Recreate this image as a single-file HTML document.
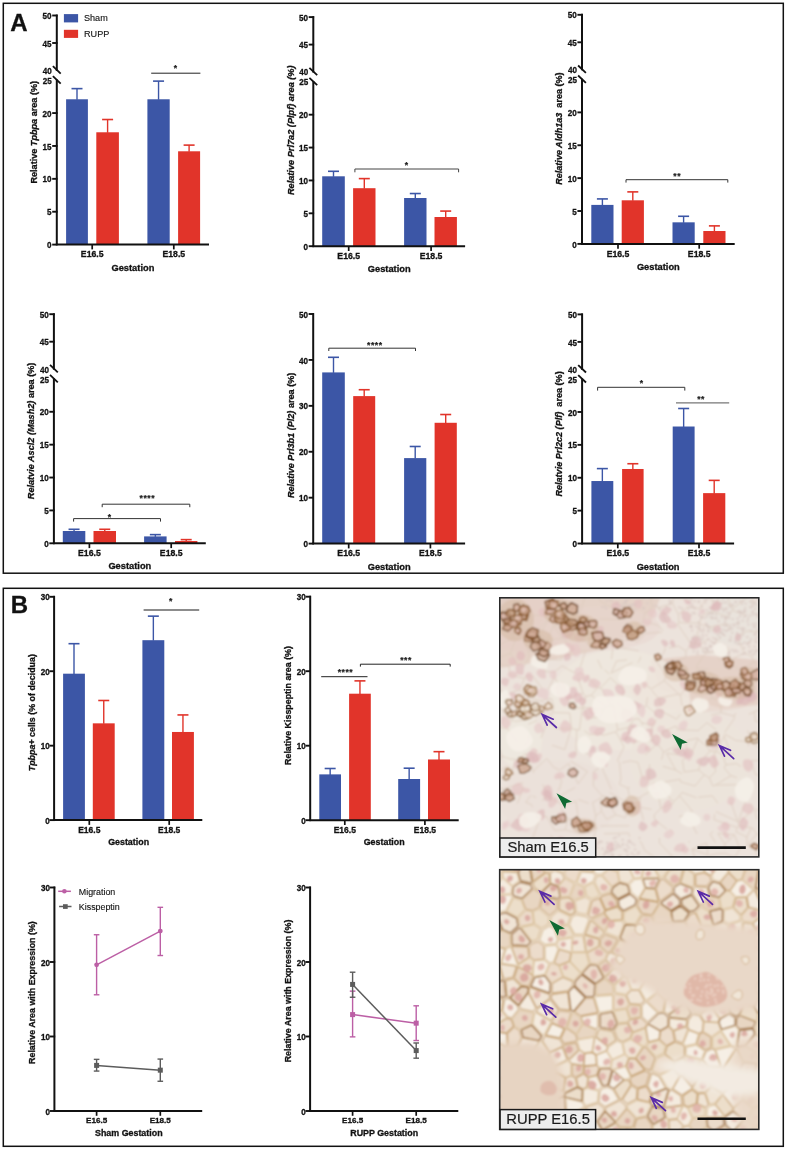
<!DOCTYPE html>
<html><head><meta charset="utf-8"><style>
html,body{margin:0;padding:0;background:#fff;}
svg{display:block;font-family:"Liberation Sans", sans-serif;will-change:transform;filter:blur(0.3px);}
text{stroke:#111;stroke-width:0.3px;paint-order:stroke;}
</style></head><body>
<svg width="787" height="1150" viewBox="0 0 787 1150">
<rect width="787" height="1150" fill="#fff"/>
<defs><filter id="soft" x="0" y="0" width="1" height="1"><feGaussianBlur stdDeviation="0.85"/></filter><filter id="soft2" x="-0.2" y="-0.2" width="1.4" height="1.4"><feGaussianBlur stdDeviation="3"/></filter><clipPath id="c1"><rect x="499.8" y="597.8" width="259" height="259.1"/></clipPath><clipPath id="c2"><rect x="499.7" y="869.7" width="259.1" height="259.7"/></clipPath></defs><g clip-path="url(#c1)"><g filter="url(#soft)"><rect x="499" y="598" width="260" height="259" fill="#ece3dc"/><path d="M499,598 L660,598 L650,625 L600,650 L540,662 L499,668 Z" fill="#e3cec3" opacity="0.8"/><path d="M650,660 L700,655 L759,660 L759,705 L720,708 L660,690 Z" fill="#e2cbbf" opacity="0.7"/><ellipse cx="530" cy="622" rx="60" ry="30" fill="#e4cfc6" opacity="0.6"/><ellipse cx="600" cy="628" rx="60" ry="22" fill="#e8d6cd" opacity="0.5"/><ellipse cx="700" cy="690" rx="70" ry="22" fill="#e6d2c6" opacity="0.5"/><ellipse cx="620" cy="700" rx="70" ry="50" fill="#efe7de" opacity="0.8"/><ellipse cx="690" cy="760" rx="60" ry="50" fill="#ede4da" opacity="0.6"/><ellipse cx="560" cy="800" rx="60" ry="40" fill="#eae0d8" opacity="0.5"/><ellipse cx="735" cy="620" rx="30" ry="25" fill="#e9e2dc" opacity="0.8"/><ellipse cx="520" cy="740" rx="22" ry="28" fill="#f0e9e0" opacity="0.7"/><path d="M656.8,862.2L654.1,857.4M654.1,857.4L644.7,850.1M644.7,850.1L641.0,842.1M641.0,842.1L639.5,841.0M609.4,873.5L613.7,887.9M530.1,870.8L524.2,856.2M524.2,856.2L515.8,855.0M757.3,692.3L766.3,705.9M757.3,692.3L757.2,691.7M498.2,622.3L499.8,627.8M492.5,631.7L499.8,627.8M498.2,622.3L501.3,611.8M498.9,607.7L503.4,599.8M656.8,862.2L668.6,858.5M686.1,875.3L694.2,863.8M609.4,873.5L608.0,872.0M629.8,836.8L628.5,833.1M603.8,833.8L628.5,833.1M629.4,796.2L635.0,798.0M629.4,796.2L627.8,788.1M627.8,788.1L629.8,787.4M635.0,798.0L640.3,797.3M643.5,794.9L640.3,797.3M639.1,806.8L640.3,797.3M619.5,762.5L621.0,778.9M630.3,760.9L622.0,762.7M630.3,760.9L637.8,762.3M637.8,762.3L642.3,777.6M619.4,784.2L621.0,778.9M619.4,784.2L627.8,788.1M624.1,747.0L615.9,731.8M627.5,727.9L635.2,740.1M627.5,727.9L617.7,729.9M633.5,744.3L635.4,741.1M617.7,729.9L615.9,731.8M635.2,740.1L635.4,741.1M617.3,760.7L619.5,762.5M617.3,760.7L624.1,747.0M603.0,735.4L615.9,731.8M481.1,631.5L491.0,651.0M587.2,852.5L580.7,838.3M587.2,852.5L570.1,845.3M580.7,838.3L570.1,845.3M753.7,809.0L738.6,823.3M753.7,809.0L750.8,804.2M745.4,801.6L738.1,822.1M738.1,822.1L738.6,823.3M737.7,821.5L730.7,801.6M737.7,821.5L715.8,811.6M739.8,797.6L745.4,801.6M749.9,887.8L774.6,864.5M748.9,877.4L758.1,862.2M758.1,862.2L774.5,864.4M774.6,864.5L774.5,864.4M762.6,727.8L758.3,721.2M763.8,717.1L762.0,710.9M762.0,710.9L755.5,710.7M763.3,671.0L740.5,681.2M763.3,671.0L754.1,662.0M739.5,671.3L754.1,662.0M712.4,795.8L698.2,797.2M704.2,774.7L709.4,777.9M704.2,774.7L695.1,786.0M712.7,786.0L709.4,777.9M768.1,808.1L754.9,810.1M786.3,790.8L767.0,789.8M751.9,656.5L754.1,662.0M695.1,786.0L680.7,781.9M696.5,797.7L682.0,792.4M691.8,810.3L679.5,795.8M682.0,792.4L679.5,795.8M704.2,774.7L698.7,770.0M698.7,770.0L684.2,772.0M680.0,779.2L680.7,781.9M595.1,647.2L590.3,646.4M585.3,651.7L580.2,667.5M511.0,631.4L514.0,637.2M514.0,637.2L495.1,647.7M491.0,651.0L493.3,651.0M493.3,651.0L495.1,647.7M620.0,596.7L622.3,576.2M594.6,590.2L592.9,588.4M608.0,872.0L590.9,860.0M590.9,860.0L580.3,860.5M673.4,856.0L672.3,856.4M672.3,856.4L659.4,842.9M673.0,832.7L670.1,829.2M659.5,837.9L659.4,842.9M668.6,858.5L672.3,856.4M697.1,833.9L693.9,828.0M657.3,821.8L667.0,829.1M689.0,840.8L689.4,842.6M627.5,727.9L630.3,725.0M635.2,740.1L640.4,731.7M630.3,725.0L640.4,731.7M642.3,777.6L648.9,779.9M648.9,779.9L649.7,764.2M629.2,825.8L600.4,825.9M590.9,860.0L589.6,856.1M589.6,856.1L596.2,828.2M597.8,828.4L596.2,828.2M589.1,826.7L594.0,827.2M589.1,826.7L581.2,833.9M587.2,852.5L589.6,856.1M594.0,827.2L596.2,828.2M615.6,814.8L604.8,796.0M615.6,814.8L625.4,817.7M625.4,817.7L626.2,815.5M626.2,815.5L624.0,800.9M624.0,800.9L609.6,792.4M606.6,819.3L615.6,814.8M629.4,796.2L624.0,800.9M589.7,734.5L584.3,730.8M579.5,729.8L576.7,729.7M576.7,729.7L576.0,754.7M605.9,759.7L604.3,760.7M600.6,734.0L603.0,735.4M600.6,734.0L589.7,734.5M583.0,751.7L604.3,760.7M611.3,789.4L601.3,766.2M654.2,818.1L654.4,814.5M643.6,820.2L640.1,807.4M651.5,809.4L640.1,807.4M657.3,821.8L654.2,818.1M639.1,806.8L640.1,807.4M648.3,792.7L643.5,794.9M588.6,803.3L578.2,799.5M584.4,820.5L578.3,818.1M578.3,818.1L576.0,801.1M499.1,860.7L492.3,855.8M502.8,868.3L499.1,860.7M515.8,855.0L514.8,854.1M514.8,854.1L503.9,851.4M497.1,843.5L488.7,855.0M510.9,842.0L514.8,854.1M492.3,855.8L488.7,855.0M498.5,827.7L496.2,809.9M521.6,815.3L518.1,825.8M565.3,830.0L581.2,833.9M580.3,860.5L566.0,853.5M567.5,846.0L566.0,853.5M584.4,820.5L589.1,826.7M578.3,818.1L568.0,819.5M565.2,829.9L568.0,819.5M767.1,816.9L760.8,820.7M767.1,816.9L788.5,823.9M757.0,819.6L754.9,810.1M713.3,874.5L730.9,856.4M735.6,856.6L730.9,856.4M716.3,853.7L726.2,853.3M714.6,814.3L714.1,819.2M738.6,823.3L738.8,826.0M714.2,819.7L714.1,819.2M714.2,819.7L737.4,827.6M737.4,827.6L738.8,826.0M759.1,859.6L754.4,848.7M739.9,848.6L735.6,856.6M746.9,846.0L754.4,848.7M770.3,859.0L781.1,847.3M763.5,856.8L770.3,846.5M781.1,847.3L770.3,846.5M774.5,864.4L770.3,859.0M759.1,859.6L763.5,856.8M771.3,827.8L762.9,836.9M762.9,836.9L764.0,841.3M693.6,825.9L681.7,816.2M681.7,816.2L691.7,810.9M693.4,811.9L691.7,810.9M712.9,831.3L710.2,834.3M693.9,828.0L693.6,825.9M679.2,816.4L681.7,816.2M712.4,795.8L717.9,803.3M748.8,714.2L754.4,712.0M754.4,712.0L755.3,721.3M734.1,716.1L735.9,713.0M734.1,716.1L734.3,718.6M755.5,710.7L754.4,712.0M758.3,721.2L755.3,721.3M734.1,690.0L740.9,685.3M740.9,685.3L748.9,691.8M748.9,691.8L738.9,705.0M726.1,688.1L734.1,690.0M726.1,688.1L722.5,679.9M722.5,679.9L724.9,677.0M723.1,694.5L725.9,699.1M723.1,694.5L726.1,688.1M725.9,699.1L734.9,702.9M757.2,691.7L748.9,691.8M734.1,716.1L721.0,712.6M721.0,712.6L721.0,704.5M712.7,786.0L715.6,785.0M740.1,784.7L715.6,785.0M762.6,727.8L758.0,732.5M747.7,730.6L750.1,738.2M750.1,738.2L758.0,732.5M752.9,593.4L752.6,593.8M752.9,593.4L774.4,604.0M758.3,614.6L774.4,604.0M753.9,603.9L752.7,596.4M767.3,634.8L763.2,632.5M758.3,614.6L757.7,615.7M678.4,614.5L688.5,606.3M678.4,614.5L672.6,603.6M672.6,603.6L673.1,597.4M673.1,597.4L689.5,599.1M650.3,597.4L652.2,607.0M650.3,597.4L672.3,593.2M657.7,607.8L672.6,603.6M695.2,581.9L693.2,595.3M693.2,595.3L689.5,599.1M695.2,581.9L708.8,597.2M708.8,597.2L701.1,605.3M688.5,606.3L700.7,609.1M701.1,605.3L700.7,609.1M699.3,623.1L678.9,622.6M699.3,623.1L702.7,614.6M678.9,622.6L678.4,614.5M745.9,615.7L746.3,615.9M763.2,632.5L748.0,630.8M751.9,656.5L744.5,653.0M736.5,636.1L744.5,653.0M736.5,635.8L748.0,630.8M648.3,792.7L649.7,790.6M680.0,779.2L658.1,783.3M662.7,766.3L675.8,770.1M682.1,773.9L675.8,770.1M658.1,783.3L653.5,782.5M673.9,802.9L660.9,808.4M674.1,801.6L671.1,799.5M660.9,808.4L659.2,798.9M679.5,795.8L674.1,801.6M654.4,814.5L660.9,808.4M658.1,783.3L671.1,799.5M649.7,790.6L659.2,798.9M582.8,707.4L588.3,717.9M582.8,707.4L582.9,707.3M582.9,707.3L603.6,709.4M588.3,717.9L600.3,717.2M600.3,717.2L603.6,709.4M582.3,707.6L579.5,729.8M582.3,707.6L573.0,708.8M571.5,728.7L576.7,729.7M571.5,728.7L569.8,713.1M631.9,594.9L625.3,603.6M631.9,594.9L645.5,590.0M645.5,590.0L647.1,592.4M625.3,603.6L625.3,609.5M647.1,592.4L647.5,593.5M647.5,593.5L631.9,609.5M622.3,576.2L631.9,594.9M600.8,601.7L594.6,590.2M600.8,601.7L622.1,613.7M650.3,597.4L647.5,593.5M722.5,694.5L709.4,687.6M717.1,680.4L709.4,687.6M617.7,729.9L613.3,705.3M632.1,716.3L617.6,703.0M633.9,719.2L630.3,725.0M606.5,707.0L603.6,709.4M606.5,707.0L610.8,705.3M613.3,705.3L610.8,705.3M600.8,687.8L610.3,677.6M600.8,687.8L610.8,705.3M610.3,677.6L623.8,690.3M623.8,690.3L622.7,695.6M678.8,694.1L664.3,680.7M678.8,694.1L658.5,698.2M664.3,680.7L651.5,688.9M658.5,698.2L651.6,690.3M682.2,706.0L680.4,695.0M660.9,705.9L658.5,698.2M680.4,695.0L678.8,694.1M637.6,662.9L638.6,661.6M637.7,679.4L651.5,688.9M664.3,680.7L665.3,677.1M606.5,707.0L591.3,695.3M600.8,687.8L597.3,687.8M597.3,687.8L591.3,695.3M582.9,707.3L585.5,696.5M591.3,695.3L585.5,696.5M597.6,659.7L601.9,668.8M680.4,695.0L686.8,687.2M666.4,675.2L671.4,670.8M678.5,646.0L685.8,651.2M675.1,625.7L677.6,624.1M677.6,624.1L691.3,644.3M691.3,644.3L685.8,651.2M678.9,622.6L677.6,624.1M670.0,627.1L657.7,607.8M670.0,627.1L675.1,625.7M700.1,624.2L699.3,623.1M700.1,624.2L695.0,643.0M695.0,643.0L691.3,644.3M685.8,657.3L680.0,659.9M685.8,657.3L685.8,651.2M678.5,646.0L668.9,647.9M561.0,654.9L550.6,648.5M561.0,654.9L561.6,656.9M561.6,656.9L561.6,659.8M561.6,659.8L540.3,659.1M550.6,648.5L544.7,652.1M562.1,665.8L576.3,674.0M554.4,671.9L562.1,665.8M554.4,671.9L545.3,671.6M545.3,671.6L540.3,659.1M553.5,625.4L578.6,631.2M553.5,625.4L553.5,625.8M553.5,625.8L562.8,638.2M578.6,635.0L578.6,631.2M567.3,642.3L562.8,638.2M547.3,640.2L562.8,638.2M547.3,640.2L553.5,625.8M590.3,646.4L578.6,635.0M509.6,674.7L509.3,665.9M509.3,665.9L503.3,665.8M488.7,673.3L498.3,662.8M503.3,665.8L498.3,662.8M597.0,623.2L579.9,626.3M579.9,626.3L576.7,615.9M576.7,615.9L581.1,609.0M585.3,595.6L581.1,609.0M605.7,641.4L595.1,647.2M578.6,631.2L579.9,626.3M552.6,622.8L569.0,614.4M552.6,622.8L553.5,625.4M569.0,614.4L576.7,615.9M599.2,619.0L620.1,619.5M620.1,619.5L621.2,618.7M605.7,641.4L607.1,641.4M498.5,683.5L501.8,694.5M509.6,674.7L524.6,678.3M501.8,694.5L505.2,694.6M505.2,694.6L520.0,689.7M520.0,689.7L524.6,678.3M528.2,724.1L536.8,720.8M524.0,720.1L529.1,711.6M564.8,749.6L571.0,729.0M564.8,749.6L553.2,745.5M571.0,729.0L556.1,728.4M531.1,846.2L531.7,838.3M694.2,863.8L696.4,862.2M716.3,853.7L708.6,856.2M730.9,856.4L726.2,853.3M656.6,744.4L645.4,754.9M656.6,744.4L660.0,746.8M661.5,759.8L663.5,752.1M660.0,746.8L663.5,752.1M595.7,815.9L601.5,811.3M595.7,815.9L592.7,802.5M601.5,811.3L600.7,798.1M592.7,802.5L600.7,798.1M606.6,819.3L601.5,811.3M594.0,827.2L595.7,815.9M602.7,796.3L604.8,796.0M602.7,796.3L600.7,798.1M587.5,771.6L578.1,783.8M593.4,771.9L593.4,786.0M577.7,788.2L577.6,788.0M601.3,766.2L593.4,771.9M570.5,761.1L587.5,771.6M568.6,763.5L578.1,783.8M602.7,796.3L593.4,786.0M528.5,735.0L528.5,735.2M524.0,720.1L514.2,721.5M490.1,718.8L483.3,702.6M542.9,784.4L543.0,785.0M543.0,785.0L543.8,786.3M558.9,774.9L561.6,781.3M561.6,781.3L559.4,789.5M557.6,789.6L559.4,789.5M559.7,770.3L553.6,767.2M546.4,794.4L543.8,786.3M568.6,763.5L559.7,770.3M560.7,795.4L575.2,787.5M566.1,843.6L559.8,843.0M559.8,843.0L554.1,850.4M566.0,853.5L561.4,856.2M531.1,846.2L545.3,851.0M547.1,863.2L545.3,851.0M559.8,843.0L552.1,838.9M552.1,838.9L550.6,848.7M554.1,850.4L550.6,848.7M534.3,796.5L536.1,797.8M534.3,796.5L532.6,796.4M532.8,807.2L531.2,804.4M535.7,813.8L539.9,814.8M546.4,794.4L546.7,796.6M546.7,796.6L541.9,800.9M546.7,796.6L560.3,803.3M576.0,801.1L561.5,805.5M568.0,819.5L560.8,807.9M560.3,803.3L561.5,805.5M734.4,834.7L734.4,834.9M734.4,834.7L717.8,833.4M734.4,834.9L724.8,844.1M717.8,833.4L724.8,844.1M737.4,827.6L735.9,831.7M739.9,848.6L734.4,834.9M724.8,849.3L724.8,844.1M715.6,842.7L710.2,834.3M746.8,837.1L751.5,827.8M746.8,837.1L747.2,845.3M747.2,845.3L756.8,833.9M756.8,833.9L752.2,827.7M735.9,831.7L746.8,837.1M738.8,826.0L751.5,827.8M746.9,846.0L747.2,845.3M762.9,836.9L756.8,833.9M722.5,694.5L715.4,699.1M715.4,699.1L716.0,700.7M721.0,712.6L710.8,715.3M734.3,718.6L724.6,732.5M707.0,722.6L716.4,729.9M707.0,722.6L698.8,729.9M702.0,710.8L704.5,712.5M698.7,770.0L701.2,760.8M709.4,777.9L715.5,771.7M701.2,760.8L710.0,750.9M710.0,750.9L714.5,751.6M715.5,771.7L714.5,751.6M736.9,777.6L730.9,775.7M730.9,775.7L724.3,768.2M740.8,766.6L736.7,763.6M736.7,763.6L725.7,764.7M724.3,768.2L725.7,764.7M715.6,785.0L730.9,775.7M751.0,762.3L755.8,775.1M751.0,762.3L751.8,760.7M767.1,766.4L767.9,768.1M756.2,775.0L765.4,774.2M751.8,760.7L766.7,760.1M771.0,770.5L767.9,768.1M786.1,790.6L765.4,774.2M786.3,790.8L786.1,790.6M749.3,741.4L772.3,755.8M790.6,748.4L805.0,742.0M748.4,746.1L749.1,741.8M749.1,741.8L749.3,741.4M815.4,739.3L805.0,742.0M771.0,770.5L790.6,748.4M727.0,623.5L730.0,630.4M745.9,615.7L732.4,610.2M727.5,616.8L732.4,610.2M702.7,614.6L713.8,611.4M727.0,623.5L710.6,627.0M700.2,624.3L710.6,627.0M727.5,616.8L713.8,611.4M708.8,597.2L710.6,597.4M710.6,597.4L713.8,605.1M713.8,611.4L713.8,605.1M752.6,593.8L732.6,608.5M732.6,608.5L732.4,610.2M684.2,772.0L682.4,760.4M682.4,760.4L689.5,753.1M671.4,670.8L673.0,664.7M696.1,671.8L697.3,668.4M696.5,666.1L697.3,668.4M707.8,688.5L711.9,697.8M710.1,700.3L711.9,697.8M703.5,688.1L701.4,694.6M702.2,698.7L701.4,694.6M709.4,687.6L707.8,688.5M708.4,669.5L697.3,668.4M715.4,699.1L711.9,697.8M702.0,710.8L702.2,698.7M609.4,674.2L604.6,669.8M611.1,673.1L616.5,661.1M597.3,687.8L587.6,676.8M632.5,662.6L611.1,673.1M627.0,659.9L616.5,661.1M611.6,646.0L609.7,643.1M609.7,643.1L607.1,641.4M612.8,648.6L611.5,659.2M647.4,697.2L646.3,705.6M643.2,707.4L646.3,705.6M637.0,705.2L633.7,700.4M639.0,718.8L633.9,719.2M639.0,718.8L639.1,718.7M640.4,656.7L640.5,658.2M662.9,654.6L665.6,647.7M611.6,646.0L638.6,650.9M638.6,661.6L640.5,658.2M666.4,675.2L653.6,657.8M577.9,677.7L583.1,693.3M583.1,693.3L567.3,698.4M585.5,696.5L583.1,693.3M554.2,677.2L563.9,691.9M554.2,677.2L554.4,671.9M573.0,708.8L567.3,698.4M569.8,713.1L552.9,712.5M552.9,711.5L553.9,706.5M536.2,649.9L544.7,652.1M550.6,648.5L547.2,641.9M515.8,638.8L510.4,653.5M523.4,641.1L525.2,643.9M525.2,643.9L528.6,651.6M510.4,653.5L516.8,663.3M528.6,651.6L528.9,657.3M528.9,657.3L524.2,666.4M498.4,657.5L510.4,653.5M536.2,649.9L528.6,651.6M542.4,643.9L525.2,643.9M533.3,676.6L526.5,675.9M524.6,678.3L526.5,675.9M657.9,625.1L643.2,621.8M643.2,621.8L644.7,612.9M650.0,610.1L644.7,612.9M652.2,607.0L650.0,610.1M663.0,630.8L657.9,625.1M627.0,624.4L632.2,639.1M645.3,633.5L636.8,642.6M636.8,642.6L632.2,639.1M609.7,643.1L632.2,639.1M643.2,621.8L642.1,623.9M662.0,632.2L645.3,633.5M535.5,699.6L540.6,700.6M540.6,700.6L551.6,698.8M552.9,711.5L540.6,700.6M553.9,706.5L551.6,698.8M554.2,677.2L548.3,689.6M533.3,676.6L542.8,689.6M552.9,712.5L550.9,715.1M550.9,715.1L535.3,699.6M548.4,721.4L549.0,718.3M548.4,721.4L556.1,728.4M529.2,710.0L531.1,704.9M514.6,710.3L514.9,712.2M531.1,704.9L530.9,701.2M541.9,722.3L547.3,722.0M549.0,718.3L531.1,704.9M512.4,721.3L514.9,712.2M512.3,721.3L495.0,701.5M520.0,689.7L528.3,699.2M535.3,699.6L530.9,701.2M547.3,722.0L540.9,738.1M528.5,735.2L528.4,740.6M553.2,745.5L551.8,745.9M533.0,837.2L540.9,815.8M540.9,815.8L546.8,816.6M546.8,816.6L554.5,830.5M552.1,838.9L551.1,835.4M531.7,838.3L533.0,837.2M545.3,851.0L550.6,848.7M565.2,829.9L554.5,830.5M691.9,849.3L705.3,843.4M692.1,849.4L708.0,854.9M708.0,854.9L706.5,842.9M706.5,842.9L705.3,843.4M696.4,862.2L692.1,849.4M666.5,753.2L677.6,754.6M663.6,752.1L678.5,744.3M677.6,754.6L679.6,750.3M679.6,750.3L678.5,744.3M675.8,770.1L666.5,753.2M689.5,753.1L685.8,748.4M517.6,742.2L506.8,727.8M502.7,728.4L506.8,727.8M498.9,725.7L502.7,728.4M528.4,740.6L524.8,745.5M499.9,749.4L502.0,756.1M502.0,756.1L497.3,763.3M562.0,862.6L556.3,876.4M562.0,862.6L560.8,857.7M556.3,876.4L548.6,863.6M570.2,869.7L562.0,862.6M710.6,627.0L711.8,631.4M677.6,729.7L676.0,726.0M676.0,726.0L663.4,731.7M662.1,734.6L663.4,731.7M734.3,754.7L728.4,752.8M725.7,764.7L722.8,754.5M728.4,752.8L722.8,754.5M714.5,751.6L715.8,751.4M722.8,754.5L715.8,751.4M729.5,602.9L724.4,588.3M718.0,603.3L718.0,592.9M724.4,588.3L718.0,592.9M732.6,608.5L729.5,602.9M710.6,597.4L718.0,592.9M698.0,739.0L693.3,749.5M698.0,739.0L697.5,738.1M697.5,738.1L687.3,740.6M687.3,740.6L686.3,746.1M710.0,750.9L707.6,747.2M707.6,747.2L698.0,739.0M692.0,752.8L693.3,749.5M698.8,729.9L698.5,730.6M685.8,748.4L686.3,746.1M698.5,730.6L677.6,729.7M744.5,653.0L730.1,660.2M727.8,647.0L730.1,660.2M739.5,671.3L729.7,660.7M724.6,662.9L729.7,660.7M729.7,660.7L730.1,660.2M715.7,648.4L714.3,651.8M714.3,651.8L705.6,653.3M707.2,639.6L699.4,644.8M699.4,644.8L705.6,653.3M721.2,637.0L715.2,642.8M720.3,661.1L714.3,651.8M696.5,666.1L705.6,653.3M695.0,643.0L699.4,644.8M547.0,640.6L538.7,636.2M523.4,641.1L533.9,634.9M552.6,622.8L548.7,619.7M538.7,636.2L548.7,619.7M505.8,599.6L505.9,599.6M503.4,599.8L505.8,599.6M511.0,631.4L518.1,615.0M519.0,598.2L519.9,595.1M519.9,595.1L519.0,583.3M509.6,596.1L514.2,572.0M514.2,572.0L519.0,583.3M523.2,611.3L519.0,598.2M523.2,611.3L521.7,612.0M505.9,599.6L509.6,596.1M526.3,611.3L523.2,611.3M534.0,595.5L532.2,594.5M532.2,594.5L519.9,595.1M532.2,594.5L519.0,583.3M534.0,595.5L534.2,595.4M534.2,595.4L543.8,583.4M550.9,604.9L547.0,587.5M550.9,604.9L559.4,602.6M547.0,587.5L563.6,593.2M559.4,602.6L564.4,594.6M563.6,593.2L564.4,594.6M543.8,583.4L547.0,587.5M549.1,607.2L550.9,604.9M566.1,610.0L559.4,602.6M546.7,758.4L533.3,771.3M533.3,771.3L525.8,753.7M553.6,767.2L546.7,758.4M533.6,773.1L533.3,771.3M651.1,730.9L648.4,729.7M651.1,730.9L653.3,740.9M648.4,729.7L640.7,731.5M652.4,740.8L640.6,731.6M640.6,731.6L640.7,731.5M641.6,722.7L642.7,725.3M641.6,722.7L653.1,725.3M653.1,725.3L651.1,730.9M656.3,743.5L653.3,740.9M635.4,741.1L652.4,740.8M639.0,718.8L641.6,722.7M517.3,803.6L523.8,786.7M525.8,802.3L530.7,795.3M489.9,788.5L504.0,789.0M531.2,804.4L525.8,802.3M676.6,719.2L658.8,709.6M655.2,716.6L655.6,713.3M680.3,714.2L676.6,719.2M653.1,725.3L656.5,719.2M646.3,705.6L655.6,713.3M735.6,740.4L725.1,734.3M729.4,750.0L724.2,736.5M725.1,734.3L724.2,736.5M749.1,741.8L735.6,740.4M728.4,752.8L729.4,750.0M715.8,751.4L724.2,736.5M534.0,634.5L547.9,618.9M532.4,615.1L545.7,616.0M545.7,616.0L547.9,618.9M533.9,634.9L534.0,634.5M548.7,619.7L547.9,618.9M502.0,756.1L509.6,758.9M525.8,753.7L517.0,759.6M509.6,758.9L516.9,759.6M523.2,783.1L523.2,783.1M504.0,789.0L521.7,783.0M523.2,783.1L521.7,783.0M506.7,766.0L511.9,770.5M506.7,766.0L498.5,772.0M511.4,772.6L511.9,770.5M516.9,759.6L511.9,770.5M489.9,788.5L498.3,774.8" stroke="#dccbbd" stroke-width="0.8" fill="none"/><circle cx="701.5" cy="631.4" r="1.1" fill="#d9c8c2" opacity="0.8"/><circle cx="703.9" cy="617.7" r="1.1" fill="#d9c8c2" opacity="0.8"/><circle cx="701.3" cy="617.9" r="1.1" fill="#d9c8c2" opacity="0.8"/><circle cx="730.8" cy="627.6" r="1.1" fill="#d9c8c2" opacity="0.8"/><circle cx="716.8" cy="630.7" r="1.1" fill="#d9c8c2" opacity="0.8"/><circle cx="748.1" cy="618.4" r="1.1" fill="#d9c8c2" opacity="0.8"/><circle cx="730.3" cy="625.4" r="1.1" fill="#d9c8c2" opacity="0.8"/><circle cx="757.7" cy="616.7" r="1.1" fill="#d9c8c2" opacity="0.8"/><circle cx="738.1" cy="611.3" r="1.1" fill="#d9c8c2" opacity="0.8"/><circle cx="708.0" cy="639.6" r="1.1" fill="#d9c8c2" opacity="0.8"/><circle cx="729.7" cy="612.7" r="1.1" fill="#d9c8c2" opacity="0.8"/><circle cx="694.4" cy="645.0" r="1.1" fill="#d9c8c2" opacity="0.8"/><circle cx="716.1" cy="638.8" r="1.1" fill="#d9c8c2" opacity="0.8"/><circle cx="719.9" cy="633.2" r="1.1" fill="#d9c8c2" opacity="0.8"/><circle cx="728.6" cy="653.6" r="1.1" fill="#d9c8c2" opacity="0.8"/><circle cx="752.8" cy="624.0" r="1.1" fill="#d9c8c2" opacity="0.8"/><circle cx="723.6" cy="611.2" r="1.1" fill="#d9c8c2" opacity="0.8"/><circle cx="742.0" cy="603.8" r="1.1" fill="#d9c8c2" opacity="0.8"/><circle cx="711.2" cy="646.3" r="1.1" fill="#d9c8c2" opacity="0.8"/><circle cx="692.4" cy="637.8" r="1.1" fill="#d9c8c2" opacity="0.8"/><circle cx="729.2" cy="629.4" r="1.1" fill="#d9c8c2" opacity="0.8"/><circle cx="713.0" cy="606.6" r="1.1" fill="#d9c8c2" opacity="0.8"/><circle cx="755.6" cy="641.6" r="1.1" fill="#d9c8c2" opacity="0.8"/><circle cx="745.6" cy="603.6" r="1.1" fill="#d9c8c2" opacity="0.8"/><circle cx="744.1" cy="610.5" r="1.1" fill="#d9c8c2" opacity="0.8"/><circle cx="703.7" cy="628.5" r="1.1" fill="#d9c8c2" opacity="0.8"/><circle cx="732.1" cy="604.9" r="1.1" fill="#d9c8c2" opacity="0.8"/><circle cx="742.8" cy="631.2" r="1.1" fill="#d9c8c2" opacity="0.8"/><circle cx="752.1" cy="650.7" r="1.1" fill="#d9c8c2" opacity="0.8"/><circle cx="737.6" cy="618.7" r="1.1" fill="#d9c8c2" opacity="0.8"/><circle cx="755.6" cy="639.0" r="1.1" fill="#d9c8c2" opacity="0.8"/><circle cx="710.1" cy="646.9" r="1.1" fill="#d9c8c2" opacity="0.8"/><circle cx="740.2" cy="613.1" r="1.1" fill="#d9c8c2" opacity="0.8"/><circle cx="707.2" cy="599.2" r="1.1" fill="#d9c8c2" opacity="0.8"/><circle cx="727.1" cy="612.5" r="1.1" fill="#d9c8c2" opacity="0.8"/><circle cx="710.2" cy="612.4" r="1.1" fill="#d9c8c2" opacity="0.8"/><circle cx="699.1" cy="625.6" r="1.1" fill="#d9c8c2" opacity="0.8"/><circle cx="708.8" cy="614.2" r="1.1" fill="#d9c8c2" opacity="0.8"/><circle cx="709.2" cy="627.0" r="1.1" fill="#d9c8c2" opacity="0.8"/><circle cx="750.3" cy="607.1" r="1.1" fill="#d9c8c2" opacity="0.8"/><circle cx="749.3" cy="646.7" r="1.1" fill="#d9c8c2" opacity="0.8"/><circle cx="732.0" cy="629.0" r="1.1" fill="#d9c8c2" opacity="0.8"/><circle cx="740.6" cy="628.5" r="1.1" fill="#d9c8c2" opacity="0.8"/><circle cx="735.5" cy="650.4" r="1.1" fill="#d9c8c2" opacity="0.8"/><circle cx="743.5" cy="612.8" r="1.1" fill="#d9c8c2" opacity="0.8"/><circle cx="693.7" cy="651.4" r="1.1" fill="#d9c8c2" opacity="0.8"/><circle cx="715.0" cy="642.9" r="1.1" fill="#d9c8c2" opacity="0.8"/><circle cx="706.1" cy="623.8" r="1.1" fill="#d9c8c2" opacity="0.8"/><circle cx="715.6" cy="639.6" r="1.1" fill="#d9c8c2" opacity="0.8"/><circle cx="755.1" cy="626.8" r="1.1" fill="#d9c8c2" opacity="0.8"/><circle cx="729.1" cy="617.9" r="1.1" fill="#d9c8c2" opacity="0.8"/><circle cx="706.0" cy="652.1" r="1.1" fill="#d9c8c2" opacity="0.8"/><circle cx="697.6" cy="651.6" r="1.1" fill="#d9c8c2" opacity="0.8"/><circle cx="735.3" cy="602.1" r="1.1" fill="#d9c8c2" opacity="0.8"/><circle cx="752.2" cy="603.8" r="1.1" fill="#d9c8c2" opacity="0.8"/><circle cx="729.0" cy="604.8" r="1.1" fill="#d9c8c2" opacity="0.8"/><circle cx="758.2" cy="615.6" r="1.1" fill="#d9c8c2" opacity="0.8"/><circle cx="750.2" cy="601.5" r="1.1" fill="#d9c8c2" opacity="0.8"/><circle cx="736.0" cy="601.9" r="1.1" fill="#d9c8c2" opacity="0.8"/><circle cx="692.0" cy="630.5" r="1.1" fill="#d9c8c2" opacity="0.8"/><circle cx="757.8" cy="637.1" r="1.1" fill="#d9c8c2" opacity="0.8"/><circle cx="749.0" cy="642.7" r="1.1" fill="#d9c8c2" opacity="0.8"/><circle cx="726.0" cy="602.4" r="1.1" fill="#d9c8c2" opacity="0.8"/><circle cx="726.4" cy="608.5" r="1.1" fill="#d9c8c2" opacity="0.8"/><circle cx="726.3" cy="618.2" r="1.1" fill="#d9c8c2" opacity="0.8"/><circle cx="724.4" cy="609.3" r="1.1" fill="#d9c8c2" opacity="0.8"/><circle cx="738.6" cy="621.8" r="1.1" fill="#d9c8c2" opacity="0.8"/><circle cx="723.5" cy="602.5" r="1.1" fill="#d9c8c2" opacity="0.8"/><circle cx="723.6" cy="629.8" r="1.1" fill="#d9c8c2" opacity="0.8"/><circle cx="757.1" cy="630.0" r="1.1" fill="#d9c8c2" opacity="0.8"/><circle cx="699.3" cy="615.1" r="1.1" fill="#d9c8c2" opacity="0.8"/><circle cx="713.2" cy="638.0" r="1.1" fill="#d9c8c2" opacity="0.8"/><circle cx="754.8" cy="653.6" r="1.1" fill="#d9c8c2" opacity="0.8"/><circle cx="755.5" cy="650.7" r="1.1" fill="#d9c8c2" opacity="0.8"/><circle cx="749.2" cy="651.3" r="1.1" fill="#d9c8c2" opacity="0.8"/><circle cx="691.4" cy="625.9" r="1.1" fill="#d9c8c2" opacity="0.8"/><circle cx="730.8" cy="637.1" r="1.1" fill="#d9c8c2" opacity="0.8"/><circle cx="732.3" cy="632.9" r="1.1" fill="#d9c8c2" opacity="0.8"/><circle cx="754.4" cy="602.9" r="1.1" fill="#d9c8c2" opacity="0.8"/><circle cx="725.8" cy="652.7" r="1.1" fill="#d9c8c2" opacity="0.8"/><circle cx="692.2" cy="604.4" r="1.1" fill="#d9c8c2" opacity="0.8"/><circle cx="750.0" cy="652.6" r="1.1" fill="#d9c8c2" opacity="0.8"/><circle cx="691.7" cy="599.8" r="1.1" fill="#d9c8c2" opacity="0.8"/><circle cx="747.3" cy="637.2" r="1.1" fill="#d9c8c2" opacity="0.8"/><circle cx="725.9" cy="631.1" r="1.1" fill="#d9c8c2" opacity="0.8"/><circle cx="742.3" cy="644.0" r="1.1" fill="#d9c8c2" opacity="0.8"/><circle cx="690.0" cy="601.9" r="1.1" fill="#d9c8c2" opacity="0.8"/><circle cx="744.8" cy="653.6" r="1.1" fill="#d9c8c2" opacity="0.8"/><circle cx="747.5" cy="621.2" r="1.1" fill="#d9c8c2" opacity="0.8"/><circle cx="713.2" cy="617.8" r="1.1" fill="#d9c8c2" opacity="0.8"/><circle cx="691.0" cy="641.9" r="1.1" fill="#d9c8c2" opacity="0.8"/><circle cx="708.1" cy="631.4" r="1.1" fill="#d9c8c2" opacity="0.8"/><circle cx="726.3" cy="617.1" r="1.1" fill="#d9c8c2" opacity="0.8"/><circle cx="736.6" cy="623.9" r="1.1" fill="#d9c8c2" opacity="0.8"/><circle cx="706.2" cy="648.3" r="1.1" fill="#d9c8c2" opacity="0.8"/><circle cx="702.1" cy="606.5" r="1.1" fill="#d9c8c2" opacity="0.8"/><circle cx="707.5" cy="625.3" r="1.1" fill="#d9c8c2" opacity="0.8"/><circle cx="744.1" cy="617.0" r="1.1" fill="#d9c8c2" opacity="0.8"/><circle cx="706.4" cy="635.3" r="1.1" fill="#d9c8c2" opacity="0.8"/><circle cx="708.0" cy="627.8" r="1.1" fill="#d9c8c2" opacity="0.8"/><circle cx="707.6" cy="648.0" r="1.1" fill="#d9c8c2" opacity="0.8"/><circle cx="702.7" cy="611.2" r="1.1" fill="#d9c8c2" opacity="0.8"/><circle cx="710.8" cy="616.8" r="1.1" fill="#d9c8c2" opacity="0.8"/><circle cx="740.1" cy="636.4" r="1.1" fill="#d9c8c2" opacity="0.8"/><circle cx="744.5" cy="628.8" r="1.1" fill="#d9c8c2" opacity="0.8"/><circle cx="695.4" cy="641.5" r="1.1" fill="#d9c8c2" opacity="0.8"/><circle cx="706.9" cy="610.4" r="1.1" fill="#d9c8c2" opacity="0.8"/><circle cx="718.6" cy="654.4" r="1.1" fill="#d9c8c2" opacity="0.8"/><circle cx="715.6" cy="618.3" r="1.1" fill="#d9c8c2" opacity="0.8"/><circle cx="752.9" cy="654.5" r="1.1" fill="#d9c8c2" opacity="0.8"/><circle cx="716.7" cy="605.7" r="1.1" fill="#d9c8c2" opacity="0.8"/><circle cx="744.5" cy="642.6" r="1.1" fill="#d9c8c2" opacity="0.8"/><circle cx="713.3" cy="643.1" r="1.1" fill="#d9c8c2" opacity="0.8"/><circle cx="716.2" cy="614.4" r="1.1" fill="#d9c8c2" opacity="0.8"/><circle cx="730.9" cy="640.3" r="1.1" fill="#d9c8c2" opacity="0.8"/><circle cx="722.8" cy="644.6" r="1.1" fill="#d9c8c2" opacity="0.8"/><circle cx="691.0" cy="626.4" r="1.1" fill="#d9c8c2" opacity="0.8"/><circle cx="716.2" cy="601.7" r="1.1" fill="#d9c8c2" opacity="0.8"/><circle cx="753.1" cy="606.2" r="1.1" fill="#d9c8c2" opacity="0.8"/><circle cx="704.2" cy="648.1" r="1.1" fill="#d9c8c2" opacity="0.8"/><circle cx="756.3" cy="651.1" r="1.1" fill="#d9c8c2" opacity="0.8"/><circle cx="713.6" cy="651.1" r="1.1" fill="#d9c8c2" opacity="0.8"/><circle cx="699.8" cy="638.7" r="1.1" fill="#d9c8c2" opacity="0.8"/><circle cx="755.2" cy="609.0" r="1.1" fill="#d9c8c2" opacity="0.8"/><circle cx="699.4" cy="636.7" r="1.1" fill="#d9c8c2" opacity="0.8"/><circle cx="750.9" cy="639.4" r="1.1" fill="#d9c8c2" opacity="0.8"/><circle cx="755.5" cy="623.9" r="1.1" fill="#d9c8c2" opacity="0.8"/><circle cx="715.7" cy="604.8" r="1.1" fill="#d9c8c2" opacity="0.8"/><circle cx="708.8" cy="651.5" r="1.1" fill="#d9c8c2" opacity="0.8"/><circle cx="694.9" cy="608.5" r="1.1" fill="#d9c8c2" opacity="0.8"/><circle cx="714.0" cy="600.8" r="1.1" fill="#d9c8c2" opacity="0.8"/><circle cx="711.2" cy="608.4" r="1.1" fill="#d9c8c2" opacity="0.8"/><circle cx="698.5" cy="628.0" r="1.1" fill="#d9c8c2" opacity="0.8"/><circle cx="727.3" cy="630.4" r="1.1" fill="#d9c8c2" opacity="0.8"/><circle cx="742.6" cy="628.0" r="1.1" fill="#d9c8c2" opacity="0.8"/><circle cx="755.4" cy="602.6" r="1.1" fill="#d9c8c2" opacity="0.8"/><circle cx="705.4" cy="602.4" r="1.1" fill="#d9c8c2" opacity="0.8"/><circle cx="711.3" cy="641.4" r="1.1" fill="#d9c8c2" opacity="0.8"/><circle cx="753.8" cy="626.7" r="1.1" fill="#d9c8c2" opacity="0.8"/><circle cx="701.1" cy="616.8" r="1.1" fill="#d9c8c2" opacity="0.8"/><circle cx="729.2" cy="614.8" r="1.1" fill="#d9c8c2" opacity="0.8"/><circle cx="744.7" cy="653.4" r="1.1" fill="#d9c8c2" opacity="0.8"/><circle cx="721.7" cy="632.4" r="1.1" fill="#d9c8c2" opacity="0.8"/><circle cx="748.4" cy="624.5" r="1.1" fill="#d9c8c2" opacity="0.8"/><circle cx="703.2" cy="651.8" r="1.1" fill="#d9c8c2" opacity="0.8"/><circle cx="757.5" cy="599.4" r="1.1" fill="#d9c8c2" opacity="0.8"/><circle cx="742.6" cy="620.8" r="1.1" fill="#d9c8c2" opacity="0.8"/><circle cx="693.6" cy="607.3" r="1.1" fill="#d9c8c2" opacity="0.8"/><circle cx="701.9" cy="640.0" r="1.1" fill="#d9c8c2" opacity="0.8"/><circle cx="704.6" cy="599.1" r="1.1" fill="#d9c8c2" opacity="0.8"/><circle cx="705.2" cy="643.6" r="1.1" fill="#d9c8c2" opacity="0.8"/><circle cx="724.4" cy="635.2" r="1.1" fill="#d9c8c2" opacity="0.8"/><circle cx="722.1" cy="608.4" r="1.1" fill="#d9c8c2" opacity="0.8"/><circle cx="691.0" cy="615.3" r="1.1" fill="#d9c8c2" opacity="0.8"/><circle cx="692.9" cy="612.9" r="1.1" fill="#d9c8c2" opacity="0.8"/><circle cx="732.7" cy="619.1" r="1.1" fill="#d9c8c2" opacity="0.8"/><circle cx="722.6" cy="633.6" r="1.1" fill="#d9c8c2" opacity="0.8"/><circle cx="711.9" cy="618.3" r="1.1" fill="#d9c8c2" opacity="0.8"/><circle cx="751.0" cy="631.1" r="1.1" fill="#d9c8c2" opacity="0.8"/><circle cx="718.8" cy="628.8" r="1.1" fill="#d9c8c2" opacity="0.8"/><circle cx="721.8" cy="616.9" r="1.1" fill="#d9c8c2" opacity="0.8"/><circle cx="753.0" cy="611.3" r="1.1" fill="#d9c8c2" opacity="0.8"/><circle cx="754.6" cy="646.6" r="1.1" fill="#d9c8c2" opacity="0.8"/><circle cx="750.9" cy="607.3" r="1.1" fill="#d9c8c2" opacity="0.8"/><circle cx="725.1" cy="654.1" r="1.1" fill="#d9c8c2" opacity="0.8"/><circle cx="709.9" cy="607.7" r="1.1" fill="#d9c8c2" opacity="0.8"/><circle cx="739.9" cy="611.4" r="1.1" fill="#d9c8c2" opacity="0.8"/><circle cx="730.3" cy="607.0" r="1.1" fill="#d9c8c2" opacity="0.8"/><circle cx="755.4" cy="614.2" r="1.1" fill="#d9c8c2" opacity="0.8"/><circle cx="696.7" cy="637.2" r="1.1" fill="#d9c8c2" opacity="0.8"/><circle cx="714.0" cy="629.9" r="1.1" fill="#d9c8c2" opacity="0.8"/><circle cx="724.3" cy="650.6" r="1.1" fill="#d9c8c2" opacity="0.8"/><circle cx="725.5" cy="619.6" r="1.1" fill="#d9c8c2" opacity="0.8"/><circle cx="690.1" cy="626.3" r="1.1" fill="#d9c8c2" opacity="0.8"/><circle cx="708.6" cy="630.7" r="1.1" fill="#d9c8c2" opacity="0.8"/><circle cx="733.6" cy="624.3" r="1.1" fill="#d9c8c2" opacity="0.8"/><circle cx="696.2" cy="626.4" r="1.1" fill="#d9c8c2" opacity="0.8"/><circle cx="723.2" cy="634.6" r="1.1" fill="#d9c8c2" opacity="0.8"/><circle cx="756.9" cy="614.0" r="1.1" fill="#d9c8c2" opacity="0.8"/><circle cx="720.5" cy="602.8" r="1.1" fill="#d9c8c2" opacity="0.8"/><circle cx="745.2" cy="611.4" r="1.1" fill="#d9c8c2" opacity="0.8"/><circle cx="747.2" cy="643.5" r="1.1" fill="#d9c8c2" opacity="0.8"/><circle cx="707.6" cy="649.5" r="1.1" fill="#d9c8c2" opacity="0.8"/><circle cx="724.8" cy="622.3" r="1.1" fill="#d9c8c2" opacity="0.8"/><circle cx="728.3" cy="651.9" r="1.1" fill="#d9c8c2" opacity="0.8"/><circle cx="723.8" cy="625.5" r="1.1" fill="#d9c8c2" opacity="0.8"/><circle cx="710.1" cy="645.9" r="1.1" fill="#d9c8c2" opacity="0.8"/><circle cx="724.7" cy="617.5" r="1.1" fill="#d9c8c2" opacity="0.8"/><circle cx="703.6" cy="610.3" r="1.1" fill="#d9c8c2" opacity="0.8"/><circle cx="747.6" cy="643.8" r="1.1" fill="#d9c8c2" opacity="0.8"/><circle cx="757.5" cy="650.3" r="1.1" fill="#d9c8c2" opacity="0.8"/><circle cx="737.3" cy="643.5" r="1.1" fill="#d9c8c2" opacity="0.8"/><circle cx="739.1" cy="644.1" r="1.1" fill="#d9c8c2" opacity="0.8"/><circle cx="745.3" cy="608.0" r="1.1" fill="#d9c8c2" opacity="0.8"/><circle cx="746.2" cy="615.3" r="1.1" fill="#d9c8c2" opacity="0.8"/><circle cx="706.8" cy="650.4" r="1.1" fill="#d9c8c2" opacity="0.8"/><circle cx="691.6" cy="627.2" r="1.1" fill="#d9c8c2" opacity="0.8"/><circle cx="713.7" cy="643.1" r="1.1" fill="#d9c8c2" opacity="0.8"/><circle cx="732.1" cy="649.9" r="1.1" fill="#d9c8c2" opacity="0.8"/><circle cx="754.3" cy="634.7" r="1.1" fill="#d9c8c2" opacity="0.8"/><circle cx="694.5" cy="636.0" r="1.1" fill="#d9c8c2" opacity="0.8"/><circle cx="697.5" cy="654.0" r="1.1" fill="#d9c8c2" opacity="0.8"/><circle cx="750.1" cy="615.7" r="1.1" fill="#d9c8c2" opacity="0.8"/><circle cx="702.8" cy="637.6" r="1.1" fill="#d9c8c2" opacity="0.8"/><circle cx="742.3" cy="654.1" r="1.1" fill="#d9c8c2" opacity="0.8"/><circle cx="733.0" cy="605.1" r="1.1" fill="#d9c8c2" opacity="0.8"/><circle cx="740.1" cy="601.3" r="1.1" fill="#d9c8c2" opacity="0.8"/><circle cx="749.9" cy="641.8" r="1.1" fill="#d9c8c2" opacity="0.8"/><circle cx="744.2" cy="647.8" r="1.1" fill="#d9c8c2" opacity="0.8"/><circle cx="729.3" cy="651.8" r="1.1" fill="#d9c8c2" opacity="0.8"/><circle cx="734.1" cy="626.0" r="1.1" fill="#d9c8c2" opacity="0.8"/><circle cx="716.5" cy="618.1" r="1.1" fill="#d9c8c2" opacity="0.8"/><circle cx="691.6" cy="607.2" r="1.1" fill="#d9c8c2" opacity="0.8"/><circle cx="744.9" cy="611.0" r="1.1" fill="#d9c8c2" opacity="0.8"/><circle cx="735.1" cy="642.2" r="1.1" fill="#d9c8c2" opacity="0.8"/><circle cx="737.9" cy="627.4" r="1.1" fill="#d9c8c2" opacity="0.8"/><circle cx="711.8" cy="613.6" r="1.1" fill="#d9c8c2" opacity="0.8"/><circle cx="702.9" cy="634.9" r="1.1" fill="#d9c8c2" opacity="0.8"/><circle cx="737.4" cy="651.7" r="1.1" fill="#d9c8c2" opacity="0.8"/><circle cx="712.8" cy="650.8" r="1.1" fill="#d9c8c2" opacity="0.8"/><circle cx="752.9" cy="614.6" r="1.1" fill="#d9c8c2" opacity="0.8"/><circle cx="755.7" cy="633.3" r="1.1" fill="#d9c8c2" opacity="0.8"/><circle cx="756.4" cy="642.1" r="1.1" fill="#d9c8c2" opacity="0.8"/><circle cx="713.0" cy="613.9" r="1.1" fill="#d9c8c2" opacity="0.8"/><circle cx="726.1" cy="625.8" r="1.1" fill="#d9c8c2" opacity="0.8"/><circle cx="692.4" cy="647.2" r="1.1" fill="#d9c8c2" opacity="0.8"/><circle cx="726.9" cy="625.0" r="1.1" fill="#d9c8c2" opacity="0.8"/><circle cx="741.4" cy="612.2" r="1.1" fill="#d9c8c2" opacity="0.8"/><circle cx="703.7" cy="631.1" r="1.1" fill="#d9c8c2" opacity="0.8"/><circle cx="706.7" cy="616.7" r="1.1" fill="#d9c8c2" opacity="0.8"/><circle cx="694.8" cy="601.0" r="1.1" fill="#d9c8c2" opacity="0.8"/><circle cx="714.5" cy="628.0" r="1.1" fill="#d9c8c2" opacity="0.8"/><circle cx="755.5" cy="634.5" r="1.1" fill="#d9c8c2" opacity="0.8"/><circle cx="718.6" cy="621.2" r="1.1" fill="#d9c8c2" opacity="0.8"/><circle cx="706.2" cy="625.0" r="1.1" fill="#d9c8c2" opacity="0.8"/><circle cx="756.2" cy="605.0" r="1.1" fill="#d9c8c2" opacity="0.8"/><circle cx="719.9" cy="637.1" r="1.1" fill="#d9c8c2" opacity="0.8"/><circle cx="742.6" cy="629.6" r="1.1" fill="#d9c8c2" opacity="0.8"/><circle cx="734.2" cy="651.5" r="1.1" fill="#d9c8c2" opacity="0.8"/><circle cx="752.3" cy="612.3" r="1.1" fill="#d9c8c2" opacity="0.8"/><circle cx="727.3" cy="654.8" r="1.1" fill="#d9c8c2" opacity="0.8"/><circle cx="726.4" cy="608.8" r="1.1" fill="#d9c8c2" opacity="0.8"/><circle cx="742.9" cy="601.2" r="1.1" fill="#d9c8c2" opacity="0.8"/><circle cx="700.4" cy="629.4" r="1.1" fill="#d9c8c2" opacity="0.8"/><circle cx="708.8" cy="639.0" r="1.1" fill="#d9c8c2" opacity="0.8"/><circle cx="740.1" cy="616.2" r="1.1" fill="#d9c8c2" opacity="0.8"/><circle cx="742.9" cy="634.9" r="1.1" fill="#d9c8c2" opacity="0.8"/><circle cx="738.7" cy="624.0" r="1.1" fill="#d9c8c2" opacity="0.8"/><circle cx="719.8" cy="604.1" r="1.1" fill="#d9c8c2" opacity="0.8"/><circle cx="722.8" cy="652.4" r="1.1" fill="#d9c8c2" opacity="0.8"/><circle cx="751.3" cy="601.2" r="1.1" fill="#d9c8c2" opacity="0.8"/><circle cx="694.9" cy="613.4" r="1.1" fill="#d9c8c2" opacity="0.8"/><circle cx="737.9" cy="622.9" r="1.1" fill="#d9c8c2" opacity="0.8"/><circle cx="698.8" cy="622.3" r="1.1" fill="#d9c8c2" opacity="0.8"/><circle cx="729.5" cy="640.4" r="1.1" fill="#d9c8c2" opacity="0.8"/><circle cx="717.8" cy="635.0" r="1.1" fill="#d9c8c2" opacity="0.8"/><circle cx="737.0" cy="633.1" r="1.1" fill="#d9c8c2" opacity="0.8"/><circle cx="693.2" cy="638.5" r="1.1" fill="#d9c8c2" opacity="0.8"/><circle cx="698.9" cy="601.1" r="1.1" fill="#d9c8c2" opacity="0.8"/><circle cx="722.7" cy="599.0" r="1.1" fill="#d9c8c2" opacity="0.8"/><circle cx="598.3" cy="843.6" r="1.1" fill="#d9c8c2" opacity="0.8"/><circle cx="616.1" cy="837.3" r="1.1" fill="#d9c8c2" opacity="0.8"/><circle cx="637.9" cy="853.7" r="1.1" fill="#d9c8c2" opacity="0.8"/><circle cx="616.9" cy="847.9" r="1.1" fill="#d9c8c2" opacity="0.8"/><circle cx="609.2" cy="856.6" r="1.1" fill="#d9c8c2" opacity="0.8"/><circle cx="600.4" cy="841.7" r="1.1" fill="#d9c8c2" opacity="0.8"/><circle cx="604.9" cy="854.0" r="1.1" fill="#d9c8c2" opacity="0.8"/><circle cx="617.9" cy="844.0" r="1.1" fill="#d9c8c2" opacity="0.8"/><circle cx="612.9" cy="854.5" r="1.1" fill="#d9c8c2" opacity="0.8"/><circle cx="606.6" cy="852.4" r="1.1" fill="#d9c8c2" opacity="0.8"/><circle cx="626.9" cy="844.9" r="1.1" fill="#d9c8c2" opacity="0.8"/><circle cx="611.5" cy="844.6" r="1.1" fill="#d9c8c2" opacity="0.8"/><circle cx="615.4" cy="841.9" r="1.1" fill="#d9c8c2" opacity="0.8"/><circle cx="623.1" cy="844.0" r="1.1" fill="#d9c8c2" opacity="0.8"/><circle cx="608.7" cy="852.0" r="1.1" fill="#d9c8c2" opacity="0.8"/><circle cx="615.5" cy="845.4" r="1.1" fill="#d9c8c2" opacity="0.8"/><circle cx="634.6" cy="845.0" r="1.1" fill="#d9c8c2" opacity="0.8"/><circle cx="611.9" cy="854.8" r="1.1" fill="#d9c8c2" opacity="0.8"/><circle cx="638.9" cy="852.3" r="1.1" fill="#d9c8c2" opacity="0.8"/><circle cx="613.1" cy="849.8" r="1.1" fill="#d9c8c2" opacity="0.8"/><circle cx="628.3" cy="841.5" r="1.1" fill="#d9c8c2" opacity="0.8"/><circle cx="627.6" cy="855.9" r="1.1" fill="#d9c8c2" opacity="0.8"/><circle cx="624.5" cy="849.7" r="1.1" fill="#d9c8c2" opacity="0.8"/><circle cx="614.6" cy="849.4" r="1.1" fill="#d9c8c2" opacity="0.8"/><circle cx="605.2" cy="851.9" r="1.1" fill="#d9c8c2" opacity="0.8"/><circle cx="619.3" cy="856.6" r="1.1" fill="#d9c8c2" opacity="0.8"/><circle cx="610.4" cy="850.7" r="1.1" fill="#d9c8c2" opacity="0.8"/><circle cx="595.8" cy="844.2" r="1.1" fill="#d9c8c2" opacity="0.8"/><circle cx="629.5" cy="840.7" r="1.1" fill="#d9c8c2" opacity="0.8"/><circle cx="622.6" cy="839.9" r="1.1" fill="#d9c8c2" opacity="0.8"/><circle cx="612.9" cy="856.9" r="1.1" fill="#d9c8c2" opacity="0.8"/><circle cx="603.8" cy="855.1" r="1.1" fill="#d9c8c2" opacity="0.8"/><circle cx="597.7" cy="847.8" r="1.1" fill="#d9c8c2" opacity="0.8"/><circle cx="632.0" cy="853.4" r="1.1" fill="#d9c8c2" opacity="0.8"/><circle cx="612.6" cy="848.0" r="1.1" fill="#d9c8c2" opacity="0.8"/><circle cx="627.0" cy="851.8" r="1.1" fill="#d9c8c2" opacity="0.8"/><circle cx="628.6" cy="847.7" r="1.1" fill="#d9c8c2" opacity="0.8"/><circle cx="606.3" cy="850.5" r="1.1" fill="#d9c8c2" opacity="0.8"/><circle cx="620.3" cy="847.0" r="1.1" fill="#d9c8c2" opacity="0.8"/><circle cx="639.4" cy="838.0" r="1.1" fill="#d9c8c2" opacity="0.8"/><circle cx="630.1" cy="842.1" r="1.1" fill="#d9c8c2" opacity="0.8"/><circle cx="627.7" cy="855.9" r="1.1" fill="#d9c8c2" opacity="0.8"/><circle cx="607.3" cy="847.5" r="1.1" fill="#d9c8c2" opacity="0.8"/><circle cx="618.8" cy="845.9" r="1.1" fill="#d9c8c2" opacity="0.8"/><circle cx="602.5" cy="848.8" r="1.1" fill="#d9c8c2" opacity="0.8"/><circle cx="635.2" cy="849.6" r="1.1" fill="#d9c8c2" opacity="0.8"/><circle cx="608.0" cy="852.7" r="1.1" fill="#d9c8c2" opacity="0.8"/><circle cx="613.9" cy="838.2" r="1.1" fill="#d9c8c2" opacity="0.8"/><circle cx="622.3" cy="845.1" r="1.1" fill="#d9c8c2" opacity="0.8"/><circle cx="618.8" cy="856.8" r="1.1" fill="#d9c8c2" opacity="0.8"/><circle cx="620.6" cy="856.0" r="1.1" fill="#d9c8c2" opacity="0.8"/><circle cx="610.9" cy="851.7" r="1.1" fill="#d9c8c2" opacity="0.8"/><circle cx="598.4" cy="841.6" r="1.1" fill="#d9c8c2" opacity="0.8"/><circle cx="626.1" cy="850.2" r="1.1" fill="#d9c8c2" opacity="0.8"/><circle cx="632.3" cy="843.4" r="1.1" fill="#d9c8c2" opacity="0.8"/><circle cx="607.3" cy="842.9" r="1.1" fill="#d9c8c2" opacity="0.8"/><circle cx="619.2" cy="835.5" r="1.1" fill="#d9c8c2" opacity="0.8"/><circle cx="611.9" cy="849.5" r="1.1" fill="#d9c8c2" opacity="0.8"/><circle cx="601.7" cy="841.8" r="1.1" fill="#d9c8c2" opacity="0.8"/><circle cx="634.3" cy="855.5" r="1.1" fill="#d9c8c2" opacity="0.8"/><circle cx="625.0" cy="601.8" r="1.1" fill="#d9c8c2" opacity="0.8"/><circle cx="611.8" cy="600.9" r="1.1" fill="#d9c8c2" opacity="0.8"/><circle cx="679.4" cy="607.4" r="1.1" fill="#d9c8c2" opacity="0.8"/><circle cx="626.4" cy="604.9" r="1.1" fill="#d9c8c2" opacity="0.8"/><circle cx="669.5" cy="600.3" r="1.1" fill="#d9c8c2" opacity="0.8"/><circle cx="681.9" cy="608.6" r="1.1" fill="#d9c8c2" opacity="0.8"/><circle cx="621.1" cy="607.0" r="1.1" fill="#d9c8c2" opacity="0.8"/><circle cx="669.9" cy="603.4" r="1.1" fill="#d9c8c2" opacity="0.8"/><circle cx="687.8" cy="602.2" r="1.1" fill="#d9c8c2" opacity="0.8"/><circle cx="647.4" cy="603.1" r="1.1" fill="#d9c8c2" opacity="0.8"/><circle cx="644.2" cy="608.1" r="1.1" fill="#d9c8c2" opacity="0.8"/><circle cx="657.0" cy="606.1" r="1.1" fill="#d9c8c2" opacity="0.8"/><circle cx="698.7" cy="602.2" r="1.1" fill="#d9c8c2" opacity="0.8"/><circle cx="622.3" cy="606.2" r="1.1" fill="#d9c8c2" opacity="0.8"/><circle cx="615.0" cy="609.6" r="1.1" fill="#d9c8c2" opacity="0.8"/><circle cx="634.1" cy="604.4" r="1.1" fill="#d9c8c2" opacity="0.8"/><circle cx="643.1" cy="608.3" r="1.1" fill="#d9c8c2" opacity="0.8"/><circle cx="691.5" cy="606.8" r="1.1" fill="#d9c8c2" opacity="0.8"/><circle cx="617.1" cy="603.6" r="1.1" fill="#d9c8c2" opacity="0.8"/><circle cx="670.6" cy="602.2" r="1.1" fill="#d9c8c2" opacity="0.8"/><circle cx="688.3" cy="608.7" r="1.1" fill="#d9c8c2" opacity="0.8"/><circle cx="622.6" cy="603.6" r="1.1" fill="#d9c8c2" opacity="0.8"/><circle cx="622.9" cy="607.2" r="1.1" fill="#d9c8c2" opacity="0.8"/><circle cx="604.7" cy="607.0" r="1.1" fill="#d9c8c2" opacity="0.8"/><circle cx="606.3" cy="608.4" r="1.1" fill="#d9c8c2" opacity="0.8"/><circle cx="654.3" cy="605.8" r="1.1" fill="#d9c8c2" opacity="0.8"/><circle cx="609.5" cy="600.4" r="1.1" fill="#d9c8c2" opacity="0.8"/><circle cx="635.3" cy="609.8" r="1.1" fill="#d9c8c2" opacity="0.8"/><circle cx="660.0" cy="608.6" r="1.1" fill="#d9c8c2" opacity="0.8"/><circle cx="606.3" cy="601.0" r="1.1" fill="#d9c8c2" opacity="0.8"/><circle cx="602.1" cy="607.0" r="1.1" fill="#d9c8c2" opacity="0.8"/><circle cx="617.6" cy="602.7" r="1.1" fill="#d9c8c2" opacity="0.8"/><circle cx="666.7" cy="607.0" r="1.1" fill="#d9c8c2" opacity="0.8"/><circle cx="632.2" cy="604.7" r="1.1" fill="#d9c8c2" opacity="0.8"/><circle cx="628.9" cy="605.6" r="1.1" fill="#d9c8c2" opacity="0.8"/><circle cx="635.6" cy="603.6" r="1.1" fill="#d9c8c2" opacity="0.8"/><circle cx="624.9" cy="602.9" r="1.1" fill="#d9c8c2" opacity="0.8"/><circle cx="626.1" cy="600.2" r="1.1" fill="#d9c8c2" opacity="0.8"/><circle cx="631.0" cy="605.9" r="1.1" fill="#d9c8c2" opacity="0.8"/><circle cx="626.9" cy="601.1" r="1.1" fill="#d9c8c2" opacity="0.8"/><path d="M713.2,723.1Q711.0,722.0 711.2,720.4Q711.3,718.8 712.6,717.1Q713.8,715.4 716.1,715.4Q718.3,715.5 720.1,716.2Q721.9,716.8 722.0,719.3Q722.1,721.8 720.1,722.7Q718.2,723.5 716.9,723.9Q715.5,724.2 713.2,723.1Z" fill="#e6c8c8" opacity="0.6"/><path d="M662.9,613.9Q661.7,612.8 661.3,611.2Q660.9,609.7 662.6,608.6Q664.3,607.6 666.5,607.1Q668.6,606.7 670.6,607.8Q672.5,608.9 671.5,610.2Q670.4,611.5 669.1,612.9Q667.8,614.4 666.0,614.7Q664.2,615.1 662.9,613.9Z" fill="#dfb9bb" opacity="0.6"/><path d="M517.0,674.5Q516.9,676.7 515.5,677.7Q514.1,678.7 512.2,678.8Q510.4,679.0 508.7,677.1Q507.1,675.2 507.7,674.0Q508.3,672.9 509.3,672.0Q510.3,671.1 511.9,671.1Q513.4,671.1 515.2,671.7Q517.0,672.4 517.0,674.5Z" fill="#e2bfc0" opacity="0.6"/><path d="M664.7,813.0Q662.7,812.5 662.7,811.0Q662.6,809.4 662.6,807.0Q662.6,804.5 665.4,801.7Q668.1,798.9 669.5,800.0Q670.8,801.1 671.6,803.0Q672.4,805.0 672.0,806.5Q671.6,808.1 669.2,810.8Q666.8,813.6 664.7,813.0Z" fill="#e2bfc0" opacity="0.6"/><path d="M697.5,763.5Q695.2,762.1 696.9,760.2Q698.5,758.4 700.0,758.0Q701.4,757.6 704.6,756.9Q707.8,756.2 709.1,757.9Q710.3,759.5 709.0,762.1Q707.6,764.6 705.6,765.7Q703.5,766.8 701.7,765.9Q699.8,765.0 697.5,763.5Z" fill="#dcb5b7" opacity="0.6"/><path d="M655.0,670.1Q655.5,671.2 654.4,672.1Q653.2,672.9 651.5,672.2Q649.8,671.4 649.2,670.3Q648.6,669.3 648.6,668.1Q648.6,667.0 649.3,666.6Q649.9,666.3 651.6,666.6Q653.4,667.0 654.0,668.0Q654.6,669.0 655.0,670.1Z" fill="#e2bfc0" opacity="0.6"/><path d="M751.8,698.8Q750.0,698.7 748.8,698.3Q747.5,698.0 747.3,695.4Q747.1,692.9 748.4,691.8Q749.7,690.6 751.1,690.4Q752.5,690.1 754.0,692.0Q755.4,694.0 755.5,695.1Q755.5,696.2 754.5,697.6Q753.6,699.0 751.8,698.8Z" fill="#dfb9bb" opacity="0.6"/><path d="M548.6,692.7Q548.6,694.8 548.2,697.4Q547.8,700.0 544.6,698.9Q541.5,697.9 539.0,697.3Q536.5,696.8 536.2,693.0Q536.0,689.2 538.2,688.8Q540.5,688.4 542.9,688.2Q545.4,687.9 546.9,689.2Q548.5,690.5 548.6,692.7Z" fill="#e6c8c8" opacity="0.6"/><path d="M667.2,645.8Q665.8,646.6 665.2,646.8Q664.5,647.1 663.4,645.5Q662.2,644.0 661.5,642.4Q660.8,640.9 661.7,640.1Q662.5,639.3 664.2,639.9Q665.8,640.5 666.7,641.1Q667.6,641.7 668.1,643.3Q668.5,644.9 667.2,645.8Z" fill="#dcb5b7" opacity="0.6"/><path d="M729.3,837.3Q729.2,838.5 728.0,838.7Q726.7,838.8 725.1,837.7Q723.4,836.6 723.2,835.1Q722.9,833.6 723.0,832.8Q723.1,832.0 724.2,831.8Q725.2,831.6 726.8,832.5Q728.3,833.3 728.8,834.7Q729.3,836.1 729.3,837.3Z" fill="#e2bfc0" opacity="0.6"/><path d="M725.0,829.6Q723.6,829.2 722.6,828.6Q721.5,828.1 721.2,826.5Q720.9,824.8 722.1,823.4Q723.3,822.0 725.1,822.0Q727.0,822.0 728.1,823.3Q729.2,824.6 729.8,826.2Q730.4,827.9 728.3,828.9Q726.3,829.9 725.0,829.6Z" fill="#dfb9bb" opacity="0.6"/><path d="M595.4,779.9Q594.7,779.7 594.0,779.4Q593.4,779.1 592.8,777.8Q592.3,776.5 592.9,774.6Q593.5,772.6 594.2,772.2Q594.8,771.8 595.9,772.6Q597.0,773.4 597.6,775.4Q598.2,777.3 597.2,778.7Q596.1,780.0 595.4,779.9Z" fill="#e6c8c8" opacity="0.6"/><path d="M582.1,705.7Q580.6,706.2 580.1,704.6Q579.6,702.9 579.1,701.6Q578.7,700.2 579.6,698.6Q580.6,697.0 582.2,697.3Q583.9,697.7 585.0,698.6Q586.1,699.5 586.1,701.2Q586.1,702.8 584.8,704.0Q583.6,705.1 582.1,705.7Z" fill="#dcb5b7" opacity="0.6"/><path d="M677.5,669.0Q676.5,669.8 675.0,669.7Q673.4,669.6 672.2,668.8Q671.0,668.0 670.2,666.5Q669.5,665.0 670.3,663.4Q671.1,661.9 673.3,662.0Q675.5,662.2 676.5,662.6Q677.6,663.1 678.1,665.6Q678.5,668.1 677.5,669.0Z" fill="#dcb5b7" opacity="0.6"/><path d="M640.2,753.5Q637.9,753.1 637.4,751.8Q636.8,750.6 637.7,747.9Q638.5,745.2 641.0,743.7Q643.6,742.2 644.8,743.0Q646.0,743.7 647.6,745.5Q649.2,747.2 647.5,750.2Q645.8,753.2 644.1,753.6Q642.5,754.0 640.2,753.5Z" fill="#e6c8c8" opacity="0.6"/><path d="M630.3,808.9Q628.1,807.7 626.8,807.3Q625.5,806.9 625.3,804.3Q625.1,801.6 627.5,800.6Q629.9,799.6 631.2,800.2Q632.4,800.9 633.3,801.8Q634.2,802.7 634.3,804.7Q634.3,806.7 633.4,808.4Q632.5,810.1 630.3,808.9Z" fill="#dcb5b7" opacity="0.6"/><path d="M690.8,602.8Q691.1,604.1 690.4,604.5Q689.8,604.9 688.1,604.6Q686.4,604.4 685.4,603.3Q684.3,602.2 684.0,601.1Q683.8,599.9 684.0,599.3Q684.3,598.6 685.8,599.2Q687.4,599.7 689.0,600.6Q690.6,601.4 690.8,602.8Z" fill="#dfb9bb" opacity="0.6"/><path d="M734.8,801.2Q734.1,803.0 733.1,804.3Q732.2,805.7 730.1,804.9Q728.1,804.0 727.5,803.3Q726.9,802.5 727.3,801.1Q727.7,799.7 728.4,797.9Q729.2,796.1 731.6,796.8Q734.0,797.4 734.7,798.4Q735.4,799.4 734.8,801.2Z" fill="#e2bfc0" opacity="0.6"/><path d="M636.4,741.6Q636.2,743.1 634.2,743.1Q632.1,743.0 630.8,742.4Q629.5,741.8 629.2,739.8Q628.8,737.8 629.6,737.2Q630.3,736.6 631.4,735.4Q632.5,734.2 634.3,735.6Q636.1,736.9 636.4,738.5Q636.6,740.1 636.4,741.6Z" fill="#dfb9bb" opacity="0.6"/><path d="M548.6,853.2Q547.1,854.9 545.3,853.4Q543.5,851.9 543.3,849.5Q543.1,847.1 543.0,845.1Q542.8,843.2 544.9,842.0Q547.1,840.9 547.7,842.1Q548.4,843.3 549.5,845.3Q550.6,847.3 550.3,849.4Q550.1,851.5 548.6,853.2Z" fill="#dfb9bb" opacity="0.6"/><path d="M546.0,677.1Q545.9,679.0 543.1,678.6Q540.4,678.2 539.4,677.1Q538.4,676.0 537.0,674.3Q535.7,672.7 537.2,671.1Q538.7,669.5 539.6,668.5Q540.4,667.5 542.6,668.8Q544.8,670.1 545.4,672.6Q546.1,675.2 546.0,677.1Z" fill="#e2bfc0" opacity="0.6"/><path d="M555.2,678.6Q554.4,679.8 552.6,679.0Q550.7,678.2 550.3,677.1Q549.8,676.0 549.6,673.8Q549.4,671.7 551.0,670.9Q552.7,670.1 554.0,670.3Q555.3,670.5 556.1,672.1Q556.9,673.7 556.5,675.5Q556.0,677.4 555.2,678.6Z" fill="#e6c8c8" opacity="0.6"/><path d="M532.8,763.1Q531.3,763.3 531.4,761.5Q531.4,759.7 532.4,757.8Q533.4,755.9 535.9,754.4Q538.5,752.8 540.4,753.3Q542.4,753.8 541.9,756.0Q541.5,758.2 540.3,760.1Q539.1,762.0 536.7,762.4Q534.3,762.8 532.8,763.1Z" fill="#e2bfc0" opacity="0.6"/><path d="M641.3,705.6Q641.0,707.1 639.5,708.1Q638.1,709.2 636.7,709.0Q635.3,708.8 633.9,707.5Q632.5,706.1 632.3,704.6Q632.2,703.2 633.3,702.1Q634.5,701.0 635.8,701.5Q637.1,701.9 639.3,703.0Q641.6,704.1 641.3,705.6Z" fill="#dcb5b7" opacity="0.6"/><path d="M521.9,675.0Q520.3,675.0 518.2,674.6Q516.2,674.2 515.9,671.8Q515.6,669.5 515.6,667.0Q515.6,664.5 517.6,664.1Q519.7,663.7 522.1,664.0Q524.5,664.3 524.1,666.3Q523.8,668.3 523.6,671.7Q523.5,675.0 521.9,675.0Z" fill="#dfb9bb" opacity="0.6"/><path d="M552.0,797.4Q551.1,799.4 549.0,798.3Q546.9,797.1 543.7,795.8Q540.6,794.4 541.2,792.8Q541.9,791.1 543.4,788.4Q544.9,785.8 546.7,785.2Q548.6,784.6 550.5,786.3Q552.4,788.0 552.6,791.7Q552.9,795.4 552.0,797.4Z" fill="#dfb9bb" opacity="0.6"/><path d="M745.1,829.2Q743.4,831.6 741.4,830.1Q739.4,828.7 739.4,825.4Q739.4,822.2 740.1,820.4Q740.8,818.7 742.0,817.7Q743.2,816.7 744.9,817.9Q746.6,819.1 747.7,821.1Q748.8,823.2 747.7,825.0Q746.7,826.7 745.1,829.2Z" fill="#dfb9bb" opacity="0.6"/><path d="M586.0,719.3Q585.3,717.7 583.5,716.0Q581.6,714.2 583.5,711.7Q585.4,709.2 587.2,708.4Q589.0,707.6 591.5,707.8Q594.0,708.1 594.9,710.2Q595.9,712.4 594.0,715.4Q592.0,718.5 589.4,719.7Q586.7,720.8 586.0,719.3Z" fill="#dfb9bb" opacity="0.6"/><path d="M548.5,854.0Q548.6,855.8 547.1,855.3Q545.5,854.8 544.0,854.0Q542.4,853.2 542.6,852.1Q542.8,850.9 542.9,849.9Q542.9,848.9 543.9,848.2Q544.9,847.4 546.5,848.7Q548.1,850.0 548.3,851.2Q548.4,852.3 548.5,854.0Z" fill="#dfb9bb" opacity="0.6"/><path d="M691.5,688.8Q690.4,690.1 688.5,690.6Q686.7,691.2 685.7,690.5Q684.8,689.7 684.1,688.4Q683.4,687.1 684.7,685.6Q685.9,684.1 687.1,684.1Q688.2,684.0 689.4,684.7Q690.6,685.4 691.6,686.5Q692.5,687.5 691.5,688.8Z" fill="#e2bfc0" opacity="0.6"/><path d="M654.4,789.5Q653.5,789.5 652.2,789.2Q650.9,789.0 650.7,787.8Q650.5,786.7 651.0,785.3Q651.4,783.9 652.5,783.2Q653.5,782.5 654.6,783.4Q655.7,784.3 655.8,785.6Q655.9,786.9 655.5,788.2Q655.2,789.4 654.4,789.5Z" fill="#e2bfc0" opacity="0.6"/><path d="M632.2,813.4Q629.7,812.6 629.2,809.6Q628.7,806.6 630.3,805.7Q631.8,804.9 634.4,802.6Q636.9,800.3 639.2,801.5Q641.5,802.6 641.1,805.9Q640.7,809.3 640.2,811.8Q639.7,814.4 637.2,814.4Q634.6,814.3 632.2,813.4Z" fill="#e2bfc0" opacity="0.6"/><path d="M732.8,701.5Q731.8,703.9 728.9,703.4Q726.0,702.9 725.0,701.3Q723.9,699.8 724.1,697.4Q724.2,695.0 725.8,693.1Q727.3,691.2 729.7,690.7Q732.0,690.2 733.4,692.0Q734.7,693.8 734.3,696.4Q733.8,699.1 732.8,701.5Z" fill="#e6c8c8" opacity="0.6"/><path d="M594.5,734.4Q593.0,732.5 594.4,730.8Q595.8,729.2 596.8,728.2Q597.7,727.1 600.2,727.0Q602.8,726.8 604.5,727.8Q606.1,728.8 604.8,730.6Q603.4,732.5 602.5,733.7Q601.6,734.8 598.8,735.5Q596.0,736.2 594.5,734.4Z" fill="#dfb9bb" opacity="0.6"/><path d="M516.7,663.0Q517.0,664.2 514.4,665.0Q511.8,665.7 510.5,665.0Q509.2,664.4 508.7,662.4Q508.2,660.4 508.7,659.2Q509.1,658.0 511.0,657.5Q512.8,657.0 514.0,657.8Q515.3,658.6 515.8,660.2Q516.3,661.8 516.7,663.0Z" fill="#e2bfc0" opacity="0.6"/><path d="M556.5,848.9Q554.9,847.4 553.1,845.0Q551.4,842.6 554.1,841.0Q556.8,839.4 558.0,837.8Q559.2,836.1 562.7,837.3Q566.3,838.4 566.2,842.1Q566.0,845.8 564.9,847.9Q563.7,850.1 560.9,850.3Q558.1,850.4 556.5,848.9Z" fill="#dcb5b7" opacity="0.6"/><path d="M671.1,620.6Q670.8,622.5 668.3,622.8Q665.8,623.1 664.2,623.1Q662.5,623.2 660.8,621.1Q659.1,619.0 658.8,616.9Q658.6,614.7 660.7,612.8Q662.8,610.8 665.0,612.8Q667.2,614.9 669.3,616.8Q671.4,618.8 671.1,620.6Z" fill="#dcb5b7" opacity="0.6"/><path d="M690.8,759.9Q689.9,761.6 688.5,760.7Q687.2,759.7 685.7,759.1Q684.3,758.4 683.4,756.9Q682.5,755.4 684.2,753.6Q685.9,751.9 687.6,751.8Q689.2,751.7 690.1,753.2Q691.0,754.6 691.4,756.4Q691.8,758.2 690.8,759.9Z" fill="#e6c8c8" opacity="0.6"/><path d="M518.3,768.5Q516.0,769.3 514.7,767.6Q513.5,765.9 513.6,764.2Q513.6,762.6 514.2,761.8Q514.8,761.0 516.8,759.7Q518.7,758.3 520.0,760.0Q521.3,761.7 521.4,763.5Q521.5,765.3 521.0,766.5Q520.6,767.8 518.3,768.5Z" fill="#dcb5b7" opacity="0.6"/><path d="M529.1,754.9Q528.6,753.8 529.4,752.5Q530.2,751.2 531.2,749.5Q532.1,747.9 534.2,748.3Q536.2,748.8 537.2,750.1Q538.1,751.4 537.4,752.6Q536.8,753.8 535.7,754.7Q534.6,755.6 532.1,755.7Q529.6,755.9 529.1,754.9Z" fill="#e2bfc0" opacity="0.6"/><path d="M686.4,752.3Q687.3,755.1 684.9,756.0Q682.5,757.0 680.9,756.5Q679.2,756.0 676.5,754.1Q673.8,752.3 672.8,750.6Q671.8,749.0 674.4,748.2Q677.0,747.3 679.9,747.8Q682.7,748.3 684.1,748.9Q685.5,749.6 686.4,752.3Z" fill="#dcb5b7" opacity="0.6"/><path d="M567.3,660.7Q565.0,661.2 564.2,659.5Q563.5,657.9 563.8,656.5Q564.1,655.1 565.3,653.7Q566.5,652.4 567.8,652.5Q569.1,652.6 570.0,653.9Q570.9,655.1 570.9,656.6Q571.0,658.0 570.3,659.1Q569.7,660.3 567.3,660.7Z" fill="#dcb5b7" opacity="0.6"/><path d="M520.1,831.1Q518.0,831.3 516.1,830.1Q514.1,829.0 511.8,827.6Q509.5,826.1 511.3,824.0Q513.1,822.0 514.8,819.9Q516.5,817.9 518.9,819.8Q521.3,821.7 523.1,823.2Q524.9,824.7 523.5,827.8Q522.1,830.9 520.1,831.1Z" fill="#dcb5b7" opacity="0.6"/><path d="M580.7,621.6Q582.1,623.4 580.8,624.5Q579.5,625.7 578.3,625.6Q577.2,625.5 575.3,625.6Q573.4,625.6 571.8,624.0Q570.3,622.4 571.7,621.6Q573.1,620.7 574.6,620.3Q576.0,619.9 577.7,619.8Q579.4,619.8 580.7,621.6Z" fill="#dfb9bb" opacity="0.6"/><path d="M614.3,695.4Q614.8,697.8 613.2,699.1Q611.6,700.4 608.9,699.2Q606.2,698.0 604.7,696.6Q603.3,695.3 602.7,692.1Q602.1,688.9 604.0,688.9Q605.9,688.9 608.7,689.3Q611.5,689.7 612.6,691.3Q613.7,693.0 614.3,695.4Z" fill="#e6c8c8" opacity="0.6"/><path d="M633.2,812.0Q633.0,814.1 630.5,813.6Q628.0,813.1 626.2,812.1Q624.5,811.0 622.9,808.9Q621.4,806.7 622.6,805.4Q623.8,804.1 625.2,804.0Q626.6,804.0 628.8,804.6Q630.9,805.2 632.1,807.6Q633.4,810.0 633.2,812.0Z" fill="#dfb9bb" opacity="0.6"/><path d="M568.3,704.7Q567.3,706.1 565.3,706.4Q563.3,706.7 561.5,704.1Q559.6,701.4 559.5,699.5Q559.5,697.6 560.8,695.8Q562.1,694.1 563.7,693.7Q565.3,693.3 566.6,696.0Q567.8,698.7 568.6,701.0Q569.3,703.3 568.3,704.7Z" fill="#e2bfc0" opacity="0.6"/><path d="M682.3,851.4Q681.8,850.7 681.7,849.6Q681.6,848.5 682.9,846.9Q684.1,845.3 685.3,845.8Q686.6,846.4 687.5,847.4Q688.4,848.4 688.8,849.5Q689.2,850.6 687.6,852.2Q686.0,853.8 684.4,853.0Q682.7,852.2 682.3,851.4Z" fill="#e2bfc0" opacity="0.6"/><path d="M584.8,638.7Q584.0,640.8 582.1,641.1Q580.2,641.5 578.5,641.8Q576.8,642.0 575.7,640.0Q574.5,637.9 574.4,636.7Q574.3,635.5 575.8,634.2Q577.3,632.9 578.9,633.2Q580.5,633.5 583.0,635.0Q585.5,636.6 584.8,638.7Z" fill="#e2bfc0" opacity="0.6"/><path d="M577.1,656.8Q574.7,657.3 573.5,655.7Q572.4,654.2 572.0,651.7Q571.6,649.2 572.0,646.5Q572.5,643.9 574.9,643.6Q577.4,643.3 578.2,644.6Q579.1,645.8 580.1,647.8Q581.2,649.8 580.3,653.0Q579.4,656.3 577.1,656.8Z" fill="#e6c8c8" opacity="0.6"/><path d="M538.9,758.3Q539.8,761.2 537.9,761.9Q536.0,762.6 534.0,762.8Q532.0,762.9 529.2,761.7Q526.5,760.6 526.2,757.4Q526.0,754.1 528.0,752.6Q530.1,751.0 532.9,751.9Q535.7,752.7 536.9,754.1Q538.1,755.4 538.9,758.3Z" fill="#dcb5b7" opacity="0.6"/><path d="M530.2,790.2Q530.2,791.2 529.1,792.0Q528.0,792.8 527.2,792.8Q526.4,792.8 524.9,792.8Q523.4,792.9 523.3,791.4Q523.1,789.8 523.1,789.1Q523.1,788.5 524.7,788.0Q526.3,787.6 528.3,788.4Q530.3,789.3 530.2,790.2Z" fill="#e2bfc0" opacity="0.6"/><path d="M570.0,757.8Q568.2,757.1 568.1,755.7Q568.1,754.4 569.9,753.1Q571.8,751.9 573.3,751.6Q574.8,751.2 575.4,751.8Q576.0,752.3 576.3,753.6Q576.5,754.9 576.1,756.1Q575.7,757.2 573.8,757.9Q571.9,758.6 570.0,757.8Z" fill="#dfb9bb" opacity="0.6"/><path d="M566.0,696.9Q564.1,695.1 564.7,693.1Q565.3,691.1 567.5,689.5Q569.8,687.9 572.8,687.1Q575.8,686.3 576.6,688.8Q577.4,691.3 577.5,692.7Q577.7,694.1 575.8,696.9Q573.9,699.6 570.8,699.1Q567.8,698.7 566.0,696.9Z" fill="#dfb9bb" opacity="0.6"/><path d="M657.2,745.8Q655.4,745.9 654.0,744.5Q652.7,743.2 651.6,741.8Q650.5,740.4 651.6,737.7Q652.8,735.0 655.0,734.6Q657.1,734.2 658.8,735.5Q660.5,736.9 660.6,738.6Q660.7,740.3 659.9,743.0Q659.1,745.7 657.2,745.8Z" fill="#dfb9bb" opacity="0.6"/><path d="M656.4,774.9Q656.8,777.0 654.9,777.9Q653.0,778.9 651.1,779.7Q649.2,780.5 647.4,778.1Q645.7,775.8 645.7,773.6Q645.6,771.4 646.3,769.8Q647.0,768.3 650.1,768.3Q653.2,768.4 654.6,770.7Q656.1,772.9 656.4,774.9Z" fill="#dcb5b7" opacity="0.6"/><path d="M542.8,731.7Q541.4,732.1 539.4,733.0Q537.4,733.9 535.7,732.2Q534.1,730.4 534.0,728.3Q533.9,726.1 535.4,724.6Q537.0,723.0 538.9,723.1Q540.9,723.2 541.8,725.1Q542.7,727.1 543.4,729.2Q544.2,731.4 542.8,731.7Z" fill="#e6c8c8" opacity="0.6"/><path d="M611.0,851.4Q609.8,850.4 608.1,850.4Q606.5,850.4 606.5,848.1Q606.5,845.9 607.6,844.3Q608.8,842.7 610.6,842.0Q612.4,841.4 613.2,842.7Q614.0,844.0 613.8,846.0Q613.6,848.0 612.9,850.1Q612.2,852.3 611.0,851.4Z" fill="#dfb9bb" opacity="0.6"/><path d="M716.4,696.0Q715.8,694.7 715.7,693.5Q715.7,692.3 716.7,691.1Q717.6,689.8 719.8,690.7Q722.0,691.5 723.0,692.5Q724.0,693.5 723.0,695.1Q722.1,696.7 721.2,697.5Q720.3,698.2 718.6,697.8Q717.0,697.4 716.4,696.0Z" fill="#e2bfc0" opacity="0.6"/><path d="M563.2,695.6Q561.0,697.7 559.0,697.3Q557.0,697.0 556.1,693.6Q555.2,690.3 555.0,687.9Q554.8,685.4 557.1,683.7Q559.3,682.0 561.7,682.3Q564.1,682.5 565.8,685.1Q567.5,687.7 566.4,690.6Q565.4,693.5 563.2,695.6Z" fill="#dcb5b7" opacity="0.6"/><path d="M647.6,739.1Q645.3,739.5 644.9,737.1Q644.6,734.7 644.9,732.2Q645.2,729.8 646.2,729.3Q647.3,728.8 650.0,728.4Q652.8,728.0 653.0,729.9Q653.2,731.8 652.9,733.5Q652.6,735.2 651.2,737.0Q649.8,738.8 647.6,739.1Z" fill="#dfb9bb" opacity="0.6"/><path d="M748.1,771.6Q745.8,771.1 744.4,769.0Q742.9,766.9 742.8,764.0Q742.7,761.1 743.9,760.0Q745.2,758.9 748.3,759.3Q751.3,759.8 752.2,761.6Q753.2,763.3 753.3,765.1Q753.3,766.9 751.8,769.5Q750.3,772.1 748.1,771.6Z" fill="#e2bfc0" opacity="0.6"/><path d="M554.4,777.9Q554.0,776.2 554.9,775.0Q555.8,773.8 557.7,772.8Q559.5,771.8 560.7,772.0Q561.9,772.1 563.3,773.3Q564.7,774.6 565.0,776.1Q565.3,777.5 562.8,778.1Q560.4,778.7 557.6,779.1Q554.8,779.6 554.4,777.9Z" fill="#e2bfc0" opacity="0.6"/><path d="M663.7,715.2Q663.0,717.0 662.1,718.0Q661.3,719.0 659.1,718.5Q657.0,718.0 655.2,716.1Q653.5,714.1 654.3,711.7Q655.1,709.3 657.8,708.8Q660.5,708.4 662.2,709.3Q663.9,710.2 664.1,711.8Q664.4,713.4 663.7,715.2Z" fill="#dcb5b7" opacity="0.6"/><path d="M666.1,837.8Q664.7,837.0 664.0,835.9Q663.2,834.9 664.7,832.9Q666.1,830.9 668.7,830.0Q671.2,829.2 672.3,830.5Q673.3,831.8 674.0,832.6Q674.7,833.5 672.9,835.6Q671.2,837.7 669.3,838.2Q667.4,838.7 666.1,837.8Z" fill="#e6c8c8" opacity="0.6"/><path d="M684.2,730.6Q682.9,730.9 680.7,730.1Q678.5,729.4 678.3,727.0Q678.1,724.6 680.0,722.9Q681.9,721.3 683.3,720.8Q684.6,720.3 686.4,721.2Q688.2,722.1 687.7,724.2Q687.1,726.3 686.3,728.3Q685.6,730.2 684.2,730.6Z" fill="#e6c8c8" opacity="0.6"/><path d="M620.5,604.9Q621.1,606.3 620.4,607.6Q619.7,608.8 617.7,609.3Q615.8,609.8 613.9,609.1Q612.1,608.4 611.3,607.1Q610.6,605.8 611.8,604.2Q612.9,602.7 614.8,601.8Q616.7,600.9 618.2,602.2Q619.8,603.4 620.5,604.9Z" fill="#dfb9bb" opacity="0.6"/><path d="M529.3,819.2Q530.7,820.5 529.2,822.3Q527.8,824.0 525.0,825.3Q522.2,826.5 519.6,825.2Q517.0,823.9 517.2,821.6Q517.4,819.3 518.2,816.8Q519.1,814.4 521.1,813.9Q523.2,813.3 525.6,815.6Q528.0,817.8 529.3,819.2Z" fill="#dfb9bb" opacity="0.6"/><path d="M644.7,830.6Q643.5,831.5 641.8,830.9Q640.0,830.4 639.0,828.8Q638.1,827.2 638.7,825.6Q639.4,824.0 640.1,822.4Q640.9,820.8 642.9,821.8Q644.9,822.9 646.6,824.5Q648.2,826.1 647.1,827.9Q645.9,829.7 644.7,830.6Z" fill="#dcb5b7" opacity="0.6"/><path d="M506.6,827.4Q505.5,827.5 504.4,826.4Q503.4,825.2 503.8,823.6Q504.2,822.0 505.0,821.5Q505.8,821.0 507.2,820.6Q508.6,820.1 509.1,821.3Q509.7,822.6 509.8,824.0Q509.9,825.4 508.8,826.4Q507.8,827.3 506.6,827.4Z" fill="#e6c8c8" opacity="0.6"/><path d="M649.0,725.8Q647.7,724.9 647.2,723.2Q646.6,721.4 648.3,719.7Q650.0,718.0 651.2,717.5Q652.3,717.0 653.7,718.6Q655.1,720.1 655.5,721.9Q656.0,723.6 654.4,725.0Q652.8,726.3 651.5,726.5Q650.2,726.6 649.0,725.8Z" fill="#e2bfc0" opacity="0.6"/><path d="M625.2,691.2Q625.8,693.2 624.0,694.6Q622.1,695.9 619.9,694.6Q617.6,693.3 616.5,692.2Q615.5,691.1 615.0,688.4Q614.6,685.7 617.0,684.9Q619.4,684.1 621.0,684.8Q622.6,685.5 623.6,687.3Q624.7,689.2 625.2,691.2Z" fill="#dfb9bb" opacity="0.6"/><path d="M532.7,680.0Q532.4,681.2 531.1,681.8Q529.8,682.5 528.1,680.9Q526.4,679.4 525.7,677.2Q524.9,675.0 526.4,673.6Q527.8,672.2 529.5,672.3Q531.2,672.4 532.2,674.4Q533.2,676.3 533.1,677.6Q532.9,678.9 532.7,680.0Z" fill="#dfb9bb" opacity="0.6"/><path d="M596.7,687.8Q594.5,688.5 592.9,687.9Q591.4,687.3 589.5,686.6Q587.6,685.9 588.4,683.1Q589.2,680.2 591.1,679.1Q593.1,677.9 595.6,679.1Q598.2,680.3 599.8,681.8Q601.5,683.3 600.2,685.2Q599.0,687.1 596.7,687.8Z" fill="#e2bfc0" opacity="0.6"/><path d="M517.2,795.2Q514.5,795.1 512.8,793.2Q511.1,791.3 511.5,788.9Q511.8,786.4 513.5,785.2Q515.2,784.1 517.3,783.1Q519.5,782.2 521.2,783.7Q523.0,785.3 523.4,788.4Q523.7,791.5 521.8,793.5Q520.0,795.4 517.2,795.2Z" fill="#e2bfc0" opacity="0.6"/><path d="M621.9,740.8Q620.7,740.3 620.9,738.5Q621.0,736.7 621.9,734.5Q622.7,732.4 624.5,731.9Q626.4,731.5 627.9,731.4Q629.5,731.3 629.4,732.9Q629.4,734.6 628.7,737.6Q628.0,740.5 625.6,741.0Q623.2,741.4 621.9,740.8Z" fill="#dfb9bb" opacity="0.6"/><path d="M690.7,757.5Q688.2,758.6 687.1,758.5Q686.1,758.3 684.6,755.9Q683.2,753.5 683.6,752.2Q684.1,750.8 685.3,749.0Q686.5,747.3 688.6,747.9Q690.7,748.5 692.2,750.1Q693.8,751.7 693.5,754.0Q693.3,756.3 690.7,757.5Z" fill="#dfb9bb" opacity="0.6"/><path d="M577.5,856.1Q576.8,855.5 576.3,854.4Q575.8,853.3 576.3,852.0Q576.8,850.8 578.1,850.7Q579.3,850.7 580.8,850.9Q582.2,851.2 582.4,852.4Q582.5,853.7 581.7,855.3Q580.9,856.9 579.6,856.8Q578.3,856.7 577.5,856.1Z" fill="#e2bfc0" opacity="0.6"/><path d="M630.9,735.5Q629.2,735.8 628.0,734.1Q626.8,732.3 627.7,729.2Q628.6,726.2 630.7,725.1Q632.9,724.1 634.6,724.3Q636.3,724.5 637.3,727.3Q638.3,730.1 637.4,731.8Q636.4,733.6 634.4,734.4Q632.5,735.2 630.9,735.5Z" fill="#dcb5b7" opacity="0.6"/><path d="M550.7,807.9Q548.8,807.9 548.3,805.6Q547.9,803.2 548.4,801.2Q548.8,799.2 549.7,798.1Q550.5,797.1 553.1,796.8Q555.6,796.4 556.9,798.2Q558.3,799.9 557.3,801.8Q556.3,803.7 554.5,805.8Q552.7,807.9 550.7,807.9Z" fill="#e2bfc0" opacity="0.6"/><path d="M736.6,641.2Q734.7,641.1 734.7,639.7Q734.7,638.3 734.9,636.9Q735.1,635.5 735.7,634.7Q736.3,634.0 737.7,633.6Q739.1,633.2 740.4,634.4Q741.7,635.5 741.3,637.8Q740.9,640.1 739.7,640.8Q738.5,641.4 736.6,641.2Z" fill="#dcb5b7" opacity="0.6"/><path d="M596.6,636.2Q594.6,636.0 594.4,634.3Q594.1,632.6 594.6,630.7Q595.1,628.7 598.0,627.0Q600.9,625.3 602.5,626.4Q604.1,627.4 603.8,629.1Q603.5,630.9 602.6,632.7Q601.7,634.5 600.1,635.4Q598.5,636.3 596.6,636.2Z" fill="#dfb9bb" opacity="0.6"/><path d="M562.0,635.9Q561.0,634.0 561.2,631.6Q561.4,629.1 563.9,627.6Q566.3,626.0 568.9,626.3Q571.5,626.6 572.6,629.3Q573.6,632.0 573.8,633.2Q573.9,634.5 571.2,636.8Q568.5,639.2 565.7,638.5Q563.0,637.8 562.0,635.9Z" fill="#dcb5b7" opacity="0.6"/><path d="M690.3,648.1Q688.0,646.5 689.1,644.8Q690.1,643.1 691.1,640.0Q692.0,636.9 694.5,636.7Q696.9,636.5 698.6,637.7Q700.3,638.8 701.2,642.2Q702.2,645.5 700.6,646.7Q699.1,647.9 695.9,648.8Q692.6,649.8 690.3,648.1Z" fill="#dcb5b7" opacity="0.6"/><path d="M595.6,714.1Q594.6,714.6 593.0,714.8Q591.5,715.0 590.8,713.8Q590.0,712.6 589.9,710.1Q589.8,707.6 590.8,707.5Q591.8,707.4 593.4,707.1Q595.0,706.7 595.9,709.0Q596.7,711.2 596.7,712.4Q596.7,713.7 595.6,714.1Z" fill="#e2bfc0" opacity="0.6"/><path d="M660.3,795.8Q660.0,797.1 659.2,797.4Q658.3,797.6 656.6,797.0Q654.9,796.4 653.8,794.6Q652.7,792.7 653.6,791.9Q654.5,791.2 655.7,791.1Q656.8,791.1 658.3,790.9Q659.8,790.8 660.2,792.7Q660.5,794.5 660.3,795.8Z" fill="#e6c8c8" opacity="0.6"/><path d="M748.0,700.9Q746.5,699.7 744.9,697.5Q743.3,695.4 746.6,693.9Q749.8,692.4 751.8,691.7Q753.8,691.0 755.4,693.0Q757.1,695.0 757.4,696.7Q757.7,698.5 755.2,700.6Q752.8,702.7 751.1,702.4Q749.4,702.1 748.0,700.9Z" fill="#dcb5b7" opacity="0.6"/><path d="M521.4,660.6Q519.6,660.5 517.9,659.4Q516.1,658.3 516.4,656.6Q516.8,654.9 517.1,653.3Q517.4,651.7 519.3,651.2Q521.1,650.8 522.5,651.8Q523.8,652.8 524.7,654.1Q525.6,655.5 524.4,658.1Q523.3,660.8 521.4,660.6Z" fill="#dfb9bb" opacity="0.6"/><path d="M509.5,726.2Q507.7,728.6 506.3,728.4Q505.0,728.1 503.2,726.9Q501.5,725.8 501.1,723.5Q500.7,721.3 501.3,718.9Q501.9,716.5 503.6,716.3Q505.4,716.1 507.5,717.6Q509.6,719.1 510.5,721.4Q511.4,723.7 509.5,726.2Z" fill="#e2bfc0" opacity="0.6"/><path d="M612.6,647.6Q612.1,646.8 612.0,645.7Q611.9,644.7 613.8,643.4Q615.7,642.2 616.7,641.8Q617.7,641.4 618.7,642.4Q619.6,643.4 619.9,644.2Q620.3,645.0 618.8,645.8Q617.2,646.7 615.1,647.6Q613.1,648.5 612.6,647.6Z" fill="#e2bfc0" opacity="0.6"/><path d="M707.7,820.8Q706.3,821.2 704.9,820.3Q703.6,819.4 703.5,818.2Q703.5,817.0 703.9,815.6Q704.2,814.3 705.8,814.1Q707.4,813.8 708.4,814.1Q709.5,814.4 710.1,816.1Q710.7,817.8 709.9,819.2Q709.1,820.5 707.7,820.8Z" fill="#e6c8c8" opacity="0.6"/><path d="M550.9,800.3Q549.2,801.4 547.1,801.3Q545.0,801.1 544.1,798.9Q543.2,796.7 543.3,794.1Q543.3,791.4 545.1,790.4Q546.9,789.4 548.4,790.2Q549.9,791.0 550.7,792.5Q551.5,793.9 552.0,796.5Q552.5,799.2 550.9,800.3Z" fill="#dcb5b7" opacity="0.6"/><path d="M565.0,732.4Q561.8,733.0 560.7,730.5Q559.5,728.0 560.1,725.8Q560.8,723.5 562.6,721.4Q564.3,719.3 566.3,720.5Q568.3,721.7 569.9,723.4Q571.4,725.0 571.3,727.8Q571.2,730.5 569.7,731.1Q568.1,731.7 565.0,732.4Z" fill="#e2bfc0" opacity="0.6"/><path d="M654.2,704.9Q654.0,703.4 654.1,701.5Q654.2,699.7 656.4,698.6Q658.6,697.5 660.4,697.4Q662.2,697.3 664.3,698.2Q666.5,699.1 666.1,700.8Q665.7,702.5 663.5,704.5Q661.3,706.5 657.9,706.5Q654.5,706.5 654.2,704.9Z" fill="#dcb5b7" opacity="0.6"/><path d="M508.0,700.7Q507.2,699.1 506.7,696.7Q506.2,694.2 508.1,693.5Q510.0,692.9 511.2,692.6Q512.5,692.3 514.4,692.7Q516.2,693.1 516.2,695.4Q516.2,697.7 515.0,698.7Q513.8,699.8 511.3,701.0Q508.8,702.2 508.0,700.7Z" fill="#dfb9bb" opacity="0.6"/><path d="M574.9,673.5Q573.8,672.6 574.6,670.8Q575.4,668.9 576.5,668.1Q577.6,667.3 579.8,667.3Q582.0,667.3 582.9,668.6Q583.7,669.8 583.5,670.7Q583.4,671.6 581.8,672.7Q580.2,673.7 578.1,674.0Q576.1,674.3 574.9,673.5Z" fill="#e6c8c8" opacity="0.6"/><path d="M653.3,826.6Q651.3,825.8 651.0,824.6Q650.7,823.4 651.8,822.4Q652.9,821.5 654.2,820.4Q655.5,819.4 656.6,820.2Q657.7,820.9 658.5,821.7Q659.3,822.5 658.0,823.9Q656.7,825.3 655.9,826.4Q655.2,827.5 653.3,826.6Z" fill="#e2bfc0" opacity="0.6"/><path d="M647.8,751.9Q646.6,751.6 645.8,751.0Q645.0,750.4 644.8,748.9Q644.7,747.5 645.5,746.3Q646.3,745.2 647.8,745.9Q649.4,746.6 649.9,747.2Q650.4,747.8 650.6,749.0Q650.7,750.2 649.9,751.2Q649.1,752.1 647.8,751.9Z" fill="#e2bfc0" opacity="0.6"/><path d="M505.6,828.9Q505.1,830.0 503.3,829.4Q501.6,828.9 501.7,827.5Q501.8,826.2 502.0,825.0Q502.1,823.7 503.0,822.7Q503.8,821.7 504.7,821.9Q505.7,822.0 506.4,823.5Q507.0,825.1 506.5,826.5Q506.0,827.9 505.6,828.9Z" fill="#e6c8c8" opacity="0.6"/><path d="M700.2,614.2Q698.7,614.1 698.7,612.8Q698.6,611.5 699.4,610.6Q700.2,609.7 701.6,609.4Q702.9,609.1 703.7,609.4Q704.5,609.7 704.8,610.5Q705.0,611.4 704.5,612.5Q704.1,613.6 702.9,613.9Q701.8,614.2 700.2,614.2Z" fill="#e6c8c8" opacity="0.6"/><path d="M574.3,648.3Q574.9,650.2 572.9,651.5Q570.9,652.9 568.7,651.1Q566.6,649.2 565.4,648.5Q564.2,647.8 564.4,646.0Q564.6,644.1 565.7,643.3Q566.7,642.5 569.2,643.3Q571.7,644.1 572.7,645.2Q573.6,646.4 574.3,648.3Z" fill="#e2bfc0" opacity="0.6"/><path d="M721.3,628.7Q722.2,630.2 720.6,631.6Q719.1,633.0 717.1,633.4Q715.1,633.8 713.9,632.5Q712.6,631.2 713.0,629.8Q713.4,628.4 714.1,627.2Q714.9,626.1 717.0,625.5Q719.1,625.0 719.8,626.1Q720.5,627.3 721.3,628.7Z" fill="#dfb9bb" opacity="0.6"/><path d="M529.5,825.9Q530.5,827.9 529.6,829.5Q528.7,831.2 526.7,831.6Q524.8,832.0 521.9,830.9Q519.0,829.8 518.5,828.1Q517.9,826.4 519.4,824.9Q520.8,823.4 522.9,823.0Q525.1,822.6 526.7,823.3Q528.4,824.0 529.5,825.9Z" fill="#e6c8c8" opacity="0.6"/><path d="M746.1,813.3Q743.1,812.0 742.3,810.3Q741.4,808.6 742.8,806.3Q744.2,804.1 746.3,803.5Q748.4,802.9 750.2,803.6Q752.0,804.4 752.9,806.4Q753.9,808.3 753.3,810.2Q752.6,812.0 750.8,813.3Q749.1,814.5 746.1,813.3Z" fill="#e2bfc0" opacity="0.6"/><path d="M588.5,752.0Q587.7,751.0 588.2,749.0Q588.8,747.1 590.0,746.5Q591.2,745.9 593.3,745.8Q595.4,745.7 595.5,747.4Q595.7,749.1 596.0,750.4Q596.4,751.7 594.9,752.0Q593.5,752.3 591.4,752.7Q589.3,753.1 588.5,752.0Z" fill="#dcb5b7" opacity="0.6"/><path d="M686.0,689.7Q684.8,690.8 683.5,689.8Q682.2,688.7 681.3,687.3Q680.4,685.9 679.9,684.4Q679.4,682.8 680.7,681.3Q682.0,679.8 683.2,680.7Q684.4,681.6 685.3,683.4Q686.3,685.2 686.7,686.9Q687.2,688.6 686.0,689.7Z" fill="#e2bfc0" opacity="0.6"/><path d="M691.0,618.1Q691.3,620.2 689.5,621.8Q687.7,623.4 685.1,621.6Q682.5,619.8 682.1,618.2Q681.6,616.7 681.3,614.2Q681.0,611.6 682.9,611.2Q684.7,610.8 687.2,611.4Q689.6,611.9 690.1,614.0Q690.6,616.0 691.0,618.1Z" fill="#dfb9bb" opacity="0.6"/><path d="M705.1,685.2Q703.4,685.0 702.2,685.4Q701.0,685.7 700.5,683.2Q700.0,680.7 700.3,678.9Q700.7,677.2 701.9,677.0Q703.1,676.8 704.9,676.7Q706.7,676.6 707.2,678.7Q707.7,680.8 707.3,683.1Q706.8,685.4 705.1,685.2Z" fill="#dcb5b7" opacity="0.6"/><path d="M708.1,745.0Q705.9,743.6 705.9,742.0Q705.9,740.4 708.6,738.1Q711.3,735.8 713.5,736.3Q715.7,736.8 717.7,737.2Q719.8,737.5 720.0,739.6Q720.3,741.6 717.0,744.2Q713.8,746.8 712.1,746.6Q710.3,746.5 708.1,745.0Z" fill="#e2bfc0" opacity="0.6"/><path d="M742.0,695.9Q740.9,695.8 739.5,695.4Q738.2,695.1 737.7,693.3Q737.2,691.6 737.6,690.2Q738.0,688.8 739.2,688.3Q740.4,687.9 741.4,689.0Q742.5,690.2 742.6,691.3Q742.8,692.4 742.9,694.2Q743.0,696.1 742.0,695.9Z" fill="#e2bfc0" opacity="0.6"/><path d="M644.4,787.2Q642.1,787.6 640.8,786.4Q639.5,785.2 639.6,782.7Q639.7,780.2 640.2,778.4Q640.7,776.7 643.8,775.8Q647.0,774.9 648.2,776.7Q649.4,778.4 649.2,780.5Q649.0,782.6 647.9,784.7Q646.8,786.8 644.4,787.2Z" fill="#e2bfc0" opacity="0.6"/><path d="M513.1,630.1Q513.1,631.0 512.9,631.8Q512.6,632.5 510.8,633.3Q509.0,634.1 508.3,632.8Q507.7,631.5 506.7,630.6Q505.8,629.6 506.9,628.5Q508.1,627.3 509.8,627.1Q511.5,626.9 512.3,628.1Q513.1,629.3 513.1,630.1Z" fill="#e6c8c8" opacity="0.6"/><path d="M644.6,688.1Q643.2,688.3 642.7,687.8Q642.3,687.4 641.8,685.5Q641.3,683.7 641.8,682.5Q642.3,681.3 643.6,681.5Q644.9,681.7 646.0,682.0Q647.1,682.3 647.4,683.3Q647.6,684.3 646.9,686.2Q646.1,688.0 644.6,688.1Z" fill="#e2bfc0" opacity="0.6"/><path d="M509.0,681.5Q508.3,683.7 507.7,685.1Q507.1,686.5 505.1,686.0Q503.0,685.5 502.0,684.2Q501.0,682.9 500.7,681.9Q500.5,680.8 501.6,679.2Q502.7,677.5 505.1,677.8Q507.4,678.1 508.6,678.7Q509.7,679.4 509.0,681.5Z" fill="#dfb9bb" opacity="0.6"/><path d="M584.8,852.5Q583.3,851.2 582.4,850.1Q581.5,849.1 584.0,846.9Q586.5,844.7 588.9,844.0Q591.4,843.4 593.8,843.7Q596.3,844.0 596.0,845.7Q595.7,847.3 593.7,850.3Q591.7,853.3 589.0,853.5Q586.4,853.7 584.8,852.5Z" fill="#dfb9bb" opacity="0.6"/><path d="M565.6,814.1Q566.4,815.7 565.4,817.0Q564.5,818.2 562.2,819.3Q559.9,820.4 558.6,819.0Q557.3,817.6 557.2,815.8Q557.0,813.9 558.0,813.1Q559.0,812.3 560.1,811.9Q561.1,811.5 563.0,812.0Q564.9,812.5 565.6,814.1Z" fill="#e2bfc0" opacity="0.6"/><path d="M529.6,761.3Q528.2,761.7 528.2,760.2Q528.2,758.7 528.4,757.6Q528.6,756.5 529.8,755.5Q530.9,754.6 532.1,754.9Q533.2,755.2 533.9,756.0Q534.6,756.9 533.5,758.3Q532.5,759.7 531.8,760.3Q531.1,760.9 529.6,761.3Z" fill="#dfb9bb" opacity="0.6"/><path d="M748.8,703.4Q746.2,705.5 743.5,705.1Q740.9,704.8 739.1,703.2Q737.4,701.6 738.0,699.1Q738.6,696.6 739.6,694.7Q740.7,692.8 743.4,692.4Q746.0,691.9 747.2,693.8Q748.4,695.7 749.9,698.5Q751.3,701.2 748.8,703.4Z" fill="#dcb5b7" opacity="0.6"/><path d="M630.2,720.8Q627.9,721.6 625.5,721.2Q623.1,720.8 621.4,718.1Q619.7,715.4 621.0,712.1Q622.2,708.9 623.8,708.8Q625.4,708.8 628.5,709.2Q631.5,709.7 632.5,711.9Q633.4,714.1 632.9,717.0Q632.4,719.9 630.2,720.8Z" fill="#dfb9bb" opacity="0.6"/><path d="M657.3,613.8Q657.5,615.8 656.1,617.2Q654.7,618.6 653.0,617.9Q651.3,617.3 649.5,616.1Q647.6,615.0 647.7,613.0Q647.9,611.0 649.0,610.5Q650.2,610.0 652.3,609.3Q654.5,608.5 655.8,610.1Q657.0,611.7 657.3,613.8Z" fill="#e6c8c8" opacity="0.6"/><path d="M629.6,742.8Q628.5,744.2 626.9,743.6Q625.4,742.9 624.6,741.5Q623.8,740.2 623.6,739.3Q623.4,738.4 625.1,736.8Q626.8,735.2 628.2,735.9Q629.7,736.6 630.2,737.8Q630.6,739.1 630.7,740.3Q630.7,741.5 629.6,742.8Z" fill="#dcb5b7" opacity="0.6"/><path d="M717.7,747.3Q715.2,749.7 713.3,749.5Q711.5,749.3 709.7,745.9Q708.0,742.5 708.1,739.8Q708.3,737.1 710.0,735.5Q711.8,734.0 714.4,733.8Q717.0,733.7 718.4,737.0Q719.7,740.4 720.0,742.6Q720.2,744.9 717.7,747.3Z" fill="#e6c8c8" opacity="0.6"/><path d="M676.7,624.7Q677.5,627.1 676.2,627.9Q674.8,628.7 672.3,628.7Q669.8,628.7 668.6,628.1Q667.4,627.5 666.8,625.8Q666.3,624.0 668.0,622.9Q669.6,621.8 670.6,621.1Q671.7,620.5 673.8,621.5Q676.0,622.4 676.7,624.7Z" fill="#e6c8c8" opacity="0.6"/><path d="M671.6,734.9Q671.8,736.7 670.1,737.6Q668.5,738.4 666.0,738.0Q663.4,737.6 661.8,735.5Q660.2,733.4 660.8,731.5Q661.4,729.6 663.2,729.4Q664.9,729.1 666.4,729.0Q667.8,728.9 669.6,731.0Q671.3,733.1 671.6,734.9Z" fill="#dcb5b7" opacity="0.6"/><path d="M750.4,675.5Q751.0,677.6 748.9,677.9Q746.8,678.1 744.8,678.3Q742.8,678.4 742.1,676.3Q741.3,674.2 740.9,672.9Q740.5,671.6 742.1,670.3Q743.8,669.0 745.8,670.2Q747.8,671.5 748.8,672.5Q749.8,673.5 750.4,675.5Z" fill="#dcb5b7" opacity="0.6"/><path d="M718.0,765.5Q716.5,767.2 714.6,767.8Q712.6,768.5 711.0,765.7Q709.3,762.8 708.3,761.3Q707.2,759.9 708.9,758.3Q710.5,756.7 712.5,755.6Q714.6,754.5 715.9,757.0Q717.2,759.5 718.3,761.7Q719.4,763.8 718.0,765.5Z" fill="#dfb9bb" opacity="0.6"/><path d="M739.7,704.5Q737.5,705.4 736.4,704.2Q735.3,702.9 736.2,700.1Q737.2,697.2 739.1,694.3Q741.0,691.4 742.7,690.8Q744.3,690.2 745.7,692.6Q747.1,695.0 746.1,696.7Q745.1,698.4 743.5,700.9Q741.9,703.5 739.7,704.5Z" fill="#dcb5b7" opacity="0.6"/><path d="M580.1,702.0Q578.1,703.4 576.4,702.7Q574.8,701.9 574.5,699.7Q574.2,697.5 574.3,694.8Q574.4,692.2 576.5,692.2Q578.7,692.3 580.0,693.3Q581.2,694.2 582.1,695.5Q583.0,696.7 582.6,698.6Q582.1,700.5 580.1,702.0Z" fill="#dfb9bb" opacity="0.6"/><path d="M643.9,716.2Q642.6,718.5 641.3,716.9Q640.0,715.2 638.2,713.4Q636.4,711.6 637.0,709.5Q637.6,707.4 639.2,705.1Q640.8,702.9 642.5,704.3Q644.3,705.8 644.9,707.9Q645.5,709.9 645.3,711.9Q645.1,713.9 643.9,716.2Z" fill="#e6c8c8" opacity="0.6"/><path d="M590.2,757.5Q589.1,758.0 588.9,756.6Q588.7,755.3 588.8,753.7Q589.0,752.1 590.3,751.6Q591.7,751.0 593.1,751.3Q594.4,751.5 594.8,752.7Q595.2,753.8 594.9,754.9Q594.6,756.0 593.0,756.5Q591.4,757.0 590.2,757.5Z" fill="#e6c8c8" opacity="0.6"/><path d="M584.7,682.4Q583.8,681.8 583.1,681.6Q582.4,681.4 583.0,679.1Q583.7,676.8 584.7,676.1Q585.8,675.3 587.3,674.8Q588.8,674.3 589.3,675.8Q589.8,677.3 589.4,679.0Q588.9,680.7 587.3,681.8Q585.7,683.0 584.7,682.4Z" fill="#dfb9bb" opacity="0.6"/><path d="M573.8,680.2Q572.1,679.7 572.3,677.8Q572.6,675.8 575.5,674.3Q578.4,672.8 580.9,672.1Q583.4,671.4 584.4,673.7Q585.3,675.9 584.2,677.3Q583.2,678.7 581.3,680.6Q579.4,682.6 577.5,681.6Q575.5,680.6 573.8,680.2Z" fill="#e2bfc0" opacity="0.6"/><path d="M729.6,826.2Q729.8,828.3 728.8,829.9Q727.8,831.5 726.3,832.1Q724.8,832.7 722.2,832.0Q719.6,831.4 718.2,829.4Q716.7,827.5 718.7,826.3Q720.6,825.2 723.4,823.8Q726.2,822.5 727.8,823.2Q729.4,824.0 729.6,826.2Z" fill="#e6c8c8" opacity="0.6"/><path d="M591.1,733.3Q589.8,732.6 589.2,730.8Q588.5,728.9 589.7,727.3Q590.8,725.8 593.0,725.8Q595.2,725.8 596.7,726.0Q598.1,726.2 598.0,728.2Q597.8,730.2 596.6,731.7Q595.4,733.3 593.9,733.7Q592.3,734.1 591.1,733.3Z" fill="#e6c8c8" opacity="0.6"/><path d="M567.5,699.9Q565.6,699.3 565.6,698.5Q565.5,697.7 566.1,696.2Q566.7,694.7 567.6,693.7Q568.6,692.7 569.3,693.3Q569.9,694.0 571.0,695.1Q572.1,696.3 571.8,697.2Q571.5,698.0 570.5,699.3Q569.4,700.5 567.5,699.9Z" fill="#dfb9bb" opacity="0.6"/><path d="M639.2,608.7Q638.2,608.4 636.2,607.9Q634.2,607.4 634.3,605.8Q634.4,604.3 634.3,602.2Q634.2,600.1 636.7,599.5Q639.3,598.9 641.0,600.2Q642.7,601.4 642.4,603.5Q642.1,605.6 641.2,607.3Q640.3,609.0 639.2,608.7Z" fill="#e2bfc0" opacity="0.6"/><path d="M658.8,732.1Q657.5,731.9 657.4,730.3Q657.3,728.6 658.1,727.1Q658.9,725.6 660.1,725.6Q661.3,725.7 663.3,726.0Q665.3,726.3 664.6,727.8Q664.0,729.4 663.4,730.7Q662.8,732.1 661.5,732.2Q660.1,732.3 658.8,732.1Z" fill="#e6c8c8" opacity="0.6"/><path d="M538.4,819.8Q536.3,818.9 535.4,816.9Q534.5,814.9 535.8,813.5Q537.2,812.1 539.3,810.5Q541.5,809.0 543.2,809.2Q544.8,809.4 544.7,812.1Q544.6,814.8 544.6,816.8Q544.6,818.7 542.6,819.7Q540.6,820.7 538.4,819.8Z" fill="#dcb5b7" opacity="0.6"/><path d="M520.5,685.2Q521.0,686.3 520.4,687.9Q519.7,689.6 518.3,689.8Q516.9,690.0 515.3,689.4Q513.7,688.7 513.2,687.7Q512.7,686.6 513.6,685.4Q514.6,684.3 515.6,683.6Q516.6,682.9 518.3,683.5Q520.0,684.2 520.5,685.2Z" fill="#e6c8c8" opacity="0.6"/><path d="M638.9,694.3Q637.4,696.2 636.1,694.6Q634.8,693.0 633.7,691.6Q632.7,690.2 633.9,687.9Q635.2,685.6 636.1,684.1Q636.9,682.5 638.4,684.0Q639.9,685.4 640.6,686.8Q641.4,688.1 640.9,690.3Q640.4,692.4 638.9,694.3Z" fill="#dcb5b7" opacity="0.6"/><path d="M611.3,747.7Q612.6,750.4 612.2,752.4Q611.8,754.4 608.8,754.8Q605.7,755.2 603.8,754.7Q601.8,754.2 599.6,750.9Q597.4,747.6 599.4,745.5Q601.3,743.5 604.2,742.4Q607.1,741.3 608.5,743.2Q609.9,745.0 611.3,747.7Z" fill="#e2bfc0" opacity="0.6"/><path d="M716.5,611.1Q713.5,610.8 712.5,610.1Q711.4,609.4 711.7,606.7Q712.0,604.1 713.1,603.2Q714.2,602.4 716.3,601.1Q718.4,599.8 719.2,601.9Q720.0,603.9 720.6,605.7Q721.2,607.4 720.3,609.4Q719.5,611.4 716.5,611.1Z" fill="#dcb5b7" opacity="0.6"/><path d="M710.4,609.5Q709.4,608.4 710.7,606.5Q712.0,604.6 713.7,603.3Q715.4,601.9 717.7,602.0Q719.9,602.1 721.2,603.0Q722.4,603.8 722.0,605.0Q721.6,606.1 719.9,608.1Q718.3,610.0 714.8,610.3Q711.3,610.6 710.4,609.5Z" fill="#dfb9bb" opacity="0.6"/><path d="M541.6,657.7Q540.3,656.5 539.5,654.7Q538.7,653.0 540.4,651.4Q542.1,649.8 543.5,649.6Q545.0,649.5 546.7,650.4Q548.4,651.4 548.2,653.7Q548.1,656.1 547.6,657.2Q547.0,658.3 544.9,658.6Q542.9,659.0 541.6,657.7Z" fill="#e6c8c8" opacity="0.6"/><path d="M674.6,850.7Q673.4,849.7 674.2,847.9Q675.0,846.1 676.9,844.7Q678.8,843.3 681.4,843.2Q684.1,843.1 684.9,844.2Q685.6,845.3 685.0,847.4Q684.4,849.4 683.4,850.9Q682.4,852.4 679.1,852.0Q675.8,851.7 674.6,850.7Z" fill="#e2bfc0" opacity="0.6"/><path d="M651.6,620.8Q652.0,622.1 650.9,623.2Q649.8,624.2 648.7,625.1Q647.6,625.9 645.6,625.0Q643.7,624.2 643.2,622.7Q642.7,621.3 642.8,620.2Q642.8,619.1 644.9,618.9Q646.9,618.8 649.1,619.2Q651.2,619.5 651.6,620.8Z" fill="#e6c8c8" opacity="0.6"/><path d="M549.8,612.6Q551.8,614.7 549.3,615.7Q546.8,616.7 544.6,616.7Q542.5,616.7 540.9,615.9Q539.4,615.0 538.8,613.5Q538.2,612.0 539.1,609.9Q540.0,607.8 543.1,608.0Q546.2,608.3 547.0,609.4Q547.7,610.5 549.8,612.6Z" fill="#e2bfc0" opacity="0.6"/><path d="M527.2,633.8Q526.8,635.3 525.9,635.9Q525.1,636.4 523.2,636.5Q521.4,636.6 520.1,635.1Q518.9,633.7 519.7,632.3Q520.6,630.9 521.6,630.5Q522.7,630.0 524.5,630.0Q526.4,630.0 527.0,631.1Q527.6,632.2 527.2,633.8Z" fill="#e6c8c8" opacity="0.6"/><path d="M607.6,763.8Q607.6,765.5 607.0,766.3Q606.3,767.1 604.0,766.2Q601.7,765.2 600.1,763.2Q598.5,761.1 598.7,759.8Q598.9,758.4 600.4,757.8Q601.8,757.3 603.8,757.7Q605.7,758.1 606.7,760.1Q607.6,762.1 607.6,763.8Z" fill="#dfb9bb" opacity="0.6"/><path d="M675.0,646.6Q674.4,647.2 673.2,647.0Q671.9,646.7 670.7,644.9Q669.5,643.2 669.8,642.2Q670.2,641.3 670.6,640.5Q671.1,639.7 672.2,639.9Q673.4,640.1 674.0,640.9Q674.6,641.8 675.1,643.9Q675.6,645.9 675.0,646.6Z" fill="#dcb5b7" opacity="0.6"/><path d="M645.1,670.4Q647.2,672.7 646.7,676.9Q646.2,681.1 642.2,682.7Q638.1,684.2 631.6,685.0Q625.0,685.8 621.6,683.4Q618.2,681.1 618.0,678.8Q617.8,676.6 620.9,671.7Q624.0,666.9 627.0,666.3Q630.0,665.8 636.5,666.9Q643.1,668.1 645.1,670.4Z" fill="#f5f0e8" opacity="0.9"/><path d="M636.9,707.3Q637.7,712.4 632.4,717.0Q627.0,721.7 618.3,722.7Q609.5,723.6 605.1,722.4Q600.7,721.2 595.7,716.2Q590.7,711.1 592.5,703.6Q594.4,696.1 599.1,696.2Q603.7,696.3 614.9,696.0Q626.1,695.6 631.1,698.9Q636.0,702.2 636.9,707.3Z" fill="#f5f0e8" opacity="0.9"/><path d="M532.2,737.9Q533.9,741.5 530.7,745.2Q527.6,749.0 523.0,750.8Q518.5,752.5 514.2,750.5Q509.8,748.4 507.7,743.6Q505.5,738.9 506.6,735.3Q507.6,731.7 512.1,728.8Q516.5,725.8 520.4,725.9Q524.3,726.0 527.4,730.2Q530.5,734.4 532.2,737.9Z" fill="#f5f0e8" opacity="0.9"/><path d="M568.7,686.1Q570.3,688.3 570.3,690.8Q570.3,693.4 567.3,695.6Q564.2,697.7 561.3,697.7Q558.3,697.7 555.2,696.0Q552.1,694.3 550.6,691.1Q549.0,687.9 551.2,685.8Q553.3,683.8 556.0,682.6Q558.6,681.3 562.8,682.6Q567.0,683.8 568.7,686.1Z" fill="#f5f0e8" opacity="0.9"/><path d="M708.5,703.0Q709.0,705.9 708.3,707.4Q707.5,708.9 704.4,711.1Q701.3,713.4 697.7,711.9Q694.0,710.5 692.6,709.3Q691.2,708.1 691.2,705.6Q691.2,703.0 693.1,700.2Q695.0,697.4 697.8,697.7Q700.5,698.0 704.2,699.1Q707.9,700.2 708.5,703.0Z" fill="#f5f0e8" opacity="0.9"/><path d="M726.3,646.4Q728.0,648.4 727.8,651.9Q727.6,655.4 725.0,655.9Q722.5,656.3 720.3,656.7Q718.0,657.1 716.4,655.7Q714.8,654.4 713.2,651.5Q711.7,648.6 713.1,647.0Q714.5,645.4 717.7,643.6Q720.9,641.9 722.8,643.2Q724.6,644.4 726.3,646.4Z" fill="#f5f0e8" opacity="0.9"/><path d="M649.9,736.0Q651.0,739.8 649.5,741.0Q648.0,742.3 644.6,742.4Q641.3,742.6 636.8,740.3Q632.3,738.1 630.8,736.4Q629.3,734.7 631.0,731.6Q632.7,728.5 634.5,727.4Q636.4,726.3 639.6,726.8Q642.8,727.3 645.8,729.7Q648.8,732.1 649.9,736.0Z" fill="#f5f0e8" opacity="0.9"/><path d="M511.2,697.4Q512.9,700.8 512.3,702.7Q511.8,704.5 509.9,706.3Q508.0,708.2 505.3,709.1Q502.7,710.1 500.8,707.3Q498.9,704.5 497.5,702.0Q496.1,699.4 498.0,696.3Q499.8,693.1 503.0,690.9Q506.3,688.6 507.9,691.3Q509.5,694.0 511.2,697.4Z" fill="#f5f0e8" opacity="0.9"/><path d="M547.9,662.8Q547.7,664.9 547.6,667.1Q547.5,669.4 543.6,669.3Q539.7,669.1 536.3,667.4Q532.9,665.6 531.3,664.5Q529.8,663.3 531.1,659.3Q532.3,655.3 534.2,655.5Q536.1,655.7 539.5,654.9Q542.9,654.0 545.5,657.4Q548.1,660.7 547.9,662.8Z" fill="#f5f0e8" opacity="0.9"/><path d="M754.0,788.1Q753.1,791.8 751.5,795.5Q749.9,799.2 747.8,801.2Q745.7,803.1 742.0,801.5Q738.2,799.9 736.7,797.5Q735.2,795.0 734.9,790.4Q734.5,785.8 738.5,781.9Q742.4,778.0 745.9,777.4Q749.5,776.8 752.2,780.6Q754.9,784.3 754.0,788.1Z" fill="#f5f0e8" opacity="0.9"/><path d="M608.9,754.9Q611.3,756.9 609.4,759.7Q607.6,762.5 605.1,765.8Q602.6,769.1 599.5,767.9Q596.4,766.7 594.7,765.6Q592.9,764.4 591.8,761.6Q590.8,758.8 591.7,756.1Q592.6,753.4 598.0,752.1Q603.3,750.8 604.9,751.9Q606.6,753.0 608.9,754.9Z" fill="#f5f0e8" opacity="0.9"/><path d="M668.4,784.5Q671.5,786.7 671.7,789.7Q671.9,792.7 669.0,795.5Q666.2,798.2 660.5,798.8Q654.9,799.3 653.6,797.7Q652.3,796.1 649.5,792.4Q646.7,788.7 648.7,786.6Q650.7,784.5 655.9,782.0Q661.0,779.6 663.1,780.9Q665.3,782.3 668.4,784.5Z" fill="#f5f0e8" opacity="0.9"/><path d="M540.7,814.4Q542.6,816.0 541.3,818.8Q539.9,821.6 536.9,824.0Q533.9,826.3 530.0,827.8Q526.0,829.2 522.4,827.3Q518.9,825.3 519.0,823.1Q519.1,820.8 519.1,818.8Q519.1,816.7 523.1,814.1Q527.0,811.5 532.9,812.2Q538.9,812.8 540.7,814.4Z" fill="#f5f0e8" opacity="0.9"/><path d="M700.4,819.4Q701.4,822.5 698.9,824.3Q696.4,826.0 692.7,826.6Q689.0,827.3 686.0,826.0Q683.1,824.8 681.1,823.2Q679.2,821.6 680.9,818.6Q682.6,815.6 684.4,813.2Q686.2,810.8 689.5,811.5Q692.7,812.2 696.0,814.3Q699.4,816.4 700.4,819.4Z" fill="#f5f0e8" opacity="0.9"/><path d="M568.2,647.2Q570.5,648.8 569.5,651.0Q568.6,653.1 564.8,654.0Q561.0,654.9 557.6,654.9Q554.2,654.8 550.6,653.6Q547.0,652.5 548.6,650.9Q550.1,649.4 551.7,647.8Q553.2,646.3 558.7,644.8Q564.2,643.4 565.0,644.5Q565.9,645.6 568.2,647.2Z" fill="#f5f0e8" opacity="0.9"/><path d="M732.2,697.6Q733.1,700.3 732.0,702.8Q730.8,705.3 729.2,706.0Q727.6,706.8 724.3,705.9Q720.9,705.0 719.7,703.6Q718.5,702.2 718.2,700.3Q717.9,698.4 719.8,696.7Q721.7,695.0 723.7,695.0Q725.8,694.9 728.5,695.0Q731.2,695.0 732.2,697.6Z" fill="#f5f0e8" opacity="0.9"/><path d="M590.9,741.8Q591.9,744.5 590.7,747.8Q589.5,751.2 587.6,752.3Q585.8,753.3 583.9,753.7Q582.1,754.2 579.6,751.7Q577.2,749.2 577.0,745.3Q576.8,741.4 578.4,739.8Q579.9,738.1 582.5,736.6Q585.2,735.1 587.5,737.1Q589.8,739.0 590.9,741.8Z" fill="#f5f0e8" opacity="0.9"/><ellipse cx="515" cy="620" rx="18.9" ry="21.0" fill="#d6b9a3" opacity="0.55"/><ellipse cx="538" cy="640" rx="14.7" ry="10.5" fill="#d6b9a3" opacity="0.55"/><ellipse cx="560" cy="612" rx="16.8" ry="12.6" fill="#d6b9a3" opacity="0.55"/><ellipse cx="580" cy="628" rx="18.9" ry="13.7" fill="#d6b9a3" opacity="0.55"/><ellipse cx="598" cy="642" rx="10.5" ry="7.4" fill="#d6b9a3" opacity="0.55"/><ellipse cx="634" cy="630" rx="9.5" ry="8.4" fill="#d6b9a3" opacity="0.55"/><ellipse cx="676" cy="672" rx="12.6" ry="9.5" fill="#d6b9a3" opacity="0.55"/><ellipse cx="703" cy="683" rx="18.9" ry="11.6" fill="#d6b9a3" opacity="0.55"/><ellipse cx="734" cy="688" rx="21.0" ry="11.6" fill="#d6b9a3" opacity="0.55"/><ellipse cx="750" cy="676" rx="9.5" ry="8.4" fill="#d6b9a3" opacity="0.55"/><ellipse cx="632" cy="806" rx="8.4" ry="10.5" fill="#d6b9a3" opacity="0.55"/><ellipse cx="584" cy="826" rx="12.6" ry="7.4" fill="#d6b9a3" opacity="0.55"/><path d="M516.7,620.0 L520.8,620.8 L521.2,624.2 L517.7,626.2 L515.7,625.0 L514.6,622.4Z" fill="#d6b2a6" fill-opacity="0.75" stroke="#86562a" stroke-width="1.4" stroke-opacity="0.9" stroke-linejoin="round"/><circle cx="518.4" cy="623.1" r="1.3" fill="#e2c3b8" opacity="0.8"/><path d="M527.4,607.8 L527.6,611.0 L523.1,612.1 L519.1,609.6 L523.2,604.8Z" fill="#c9a08a" fill-opacity="0.75" stroke="#7a4d24" stroke-width="1.3" stroke-opacity="0.9" stroke-linejoin="round"/><circle cx="524.3" cy="609.2" r="1.3" fill="#e2c3b8" opacity="0.8"/><path d="M509.9,621.0 L502.4,620.5 L499.7,617.2 L500.2,612.7 L508.5,612.4 L511.0,617.8Z" fill="#d6b2a6" fill-opacity="0.75" stroke="#6a411e" stroke-width="1.7" stroke-opacity="0.9" stroke-linejoin="round"/><path d="M508.1,631.1 L502.5,629.0 L503.7,626.4 L508.8,621.7 L513.8,623.6 L512.7,627.3Z" fill="#c9a08a" fill-opacity="0.75" stroke="#6a411e" stroke-width="1.2" stroke-opacity="0.9" stroke-linejoin="round"/><path d="M528.5,614.6 L526.6,620.4 L519.7,618.8 L519.3,614.3 L523.9,611.2Z" fill="#c9a08a" fill-opacity="0.75" stroke="#86562a" stroke-width="1.7" stroke-opacity="0.9" stroke-linejoin="round"/><path d="M522.7,620.1 L520.8,619.5 L518.6,616.1 L520.4,614.1 L526.5,614.3 L527.3,617.2Z" fill="#c09a7e" fill-opacity="0.75" stroke="#86562a" stroke-width="1.2" stroke-opacity="0.9" stroke-linejoin="round"/><circle cx="523.3" cy="617.2" r="1.4" fill="#e2c3b8" opacity="0.8"/><path d="M518.2,603.6 L520.5,606.8 L519.9,609.7 L515.9,611.9 L513.4,609.1 L513.8,604.7Z" fill="#c9a08a" fill-opacity="0.75" stroke="#6a411e" stroke-width="1.2" stroke-opacity="0.9" stroke-linejoin="round"/><circle cx="516.8" cy="607.5" r="1.5" fill="#e2c3b8" opacity="0.8"/><path d="M523.0,619.4 L519.1,623.9 L512.8,620.5 L514.7,615.4 L521.6,615.2Z" fill="#cfa996" fill-opacity="0.75" stroke="#86562a" stroke-width="1.3" stroke-opacity="0.9" stroke-linejoin="round"/><circle cx="517.9" cy="618.2" r="2.1" fill="#e2c3b8" opacity="0.8"/><path d="M515.2,628.7 L519.7,627.8 L520.8,630.9 L518.8,634.2 L515.2,631.9Z" fill="#d6b2a6" fill-opacity="0.75" stroke="#86562a" stroke-width="1.7" stroke-opacity="0.9" stroke-linejoin="round"/><circle cx="516.7" cy="631.0" r="1.3" fill="#e2c3b8" opacity="0.8"/><path d="M530.0,611.1 L526.3,615.8 L519.4,613.8 L519.1,608.5 L522.4,605.5 L528.2,606.6Z" fill="#cfa996" fill-opacity="0.75" stroke="#86562a" stroke-width="1.6" stroke-opacity="0.9" stroke-linejoin="round"/><circle cx="523.6" cy="610.2" r="1.9" fill="#e2c3b8" opacity="0.8"/><path d="M509.3,619.0 L512.2,621.6 L509.2,625.1 L504.1,624.3 L504.3,619.1Z" fill="#c09a7e" fill-opacity="0.75" stroke="#86562a" stroke-width="1.5" stroke-opacity="0.9" stroke-linejoin="round"/><path d="M511.2,619.8 L508.7,624.0 L503.8,622.3 L503.2,619.6 L508.3,618.7Z" fill="#c9a08a" fill-opacity="0.75" stroke="#6a411e" stroke-width="1.2" stroke-opacity="0.9" stroke-linejoin="round"/><path d="M507.7,616.4 L505.9,614.7 L507.7,610.1 L510.1,609.5 L514.2,610.8 L515.3,614.3 L511.4,616.8Z" fill="#c09a7e" fill-opacity="0.75" stroke="#86562a" stroke-width="1.5" stroke-opacity="0.9" stroke-linejoin="round"/><path d="M507.5,623.4 L510.4,620.8 L515.3,620.6 L517.6,621.4 L517.5,625.0 L515.2,627.4 L511.0,626.5Z" fill="#d6b2a6" fill-opacity="0.75" stroke="#86562a" stroke-width="1.2" stroke-opacity="0.9" stroke-linejoin="round"/><circle cx="513.7" cy="622.8" r="1.7" fill="#e2c3b8" opacity="0.8"/><path d="M534.2,636.8 L538.3,636.1 L539.8,639.3 L538.8,643.1 L534.1,643.0 L531.4,638.5Z" fill="#c09a7e" fill-opacity="0.75" stroke="#6a411e" stroke-width="1.6" stroke-opacity="0.9" stroke-linejoin="round"/><path d="M525.0,636.3 L527.1,634.1 L532.8,636.6 L530.9,641.6 L524.4,640.7Z" fill="#cfa996" fill-opacity="0.75" stroke="#86562a" stroke-width="1.1" stroke-opacity="0.9" stroke-linejoin="round"/><path d="M547.8,651.5 L541.8,649.2 L539.6,643.2 L547.8,642.1 L551.4,645.2Z" fill="#cfa996" fill-opacity="0.75" stroke="#86562a" stroke-width="1.0" stroke-opacity="0.9" stroke-linejoin="round"/><path d="M533.0,639.3 L528.0,638.0 L526.1,635.4 L530.3,630.9 L535.6,631.0 L537.2,635.6Z" fill="#c9a08a" fill-opacity="0.75" stroke="#7a4d24" stroke-width="1.6" stroke-opacity="0.9" stroke-linejoin="round"/><circle cx="531.0" cy="635.0" r="1.8" fill="#e2c3b8" opacity="0.8"/><path d="M539.0,648.7 L537.1,642.8 L541.9,639.9 L546.3,643.2 L543.9,647.1Z" fill="#d6b2a6" fill-opacity="0.75" stroke="#7a4d24" stroke-width="1.3" stroke-opacity="0.9" stroke-linejoin="round"/><path d="M528.7,630.0 L532.8,627.9 L538.3,629.9 L537.2,635.3 L535.5,638.1 L527.5,636.9 L526.2,633.6Z" fill="#cfa996" fill-opacity="0.75" stroke="#7a4d24" stroke-width="1.6" stroke-opacity="0.9" stroke-linejoin="round"/><path d="M531.8,642.8 L535.8,641.3 L540.1,643.9 L541.4,648.3 L533.6,651.1 L530.3,647.2Z" fill="#cfa996" fill-opacity="0.75" stroke="#6a411e" stroke-width="1.3" stroke-opacity="0.9" stroke-linejoin="round"/><path d="M548.3,605.0 L552.9,605.6 L557.0,611.7 L549.6,614.3 L545.4,613.5Z" fill="#d6b2a6" fill-opacity="0.75" stroke="#86562a" stroke-width="1.3" stroke-opacity="0.9" stroke-linejoin="round"/><path d="M551.4,615.7 L555.6,615.5 L559.5,617.3 L556.6,622.1 L552.4,622.0 L549.6,620.0Z" fill="#d6b2a6" fill-opacity="0.75" stroke="#86562a" stroke-width="1.4" stroke-opacity="0.9" stroke-linejoin="round"/><path d="M559.2,616.2 L561.8,614.5 L565.6,615.1 L568.2,618.5 L568.7,621.1 L564.6,623.2 L561.6,621.1Z" fill="#c09a7e" fill-opacity="0.75" stroke="#86562a" stroke-width="1.7" stroke-opacity="0.9" stroke-linejoin="round"/><path d="M553.9,609.3 L546.8,608.6 L545.2,601.8 L553.0,598.6 L557.5,604.5Z" fill="#cfa996" fill-opacity="0.75" stroke="#7a4d24" stroke-width="1.7" stroke-opacity="0.9" stroke-linejoin="round"/><circle cx="552.7" cy="604.5" r="2.1" fill="#e2c3b8" opacity="0.8"/><path d="M565.0,617.9 L564.8,622.0 L557.2,623.3 L553.8,618.7 L561.1,614.5Z" fill="#c09a7e" fill-opacity="0.75" stroke="#7a4d24" stroke-width="1.1" stroke-opacity="0.9" stroke-linejoin="round"/><circle cx="560.6" cy="618.5" r="2.1" fill="#e2c3b8" opacity="0.8"/><path d="M564.7,602.7 L567.1,606.2 L566.3,608.7 L562.5,609.3 L559.4,605.8 L561.0,603.8Z" fill="#c9a08a" fill-opacity="0.75" stroke="#6a411e" stroke-width="1.5" stroke-opacity="0.9" stroke-linejoin="round"/><path d="M554.7,617.7 L554.9,611.6 L561.3,609.6 L564.8,613.4 L563.5,619.5Z" fill="#c09a7e" fill-opacity="0.75" stroke="#86562a" stroke-width="1.1" stroke-opacity="0.9" stroke-linejoin="round"/><circle cx="559.0" cy="614.4" r="2.1" fill="#e2c3b8" opacity="0.8"/><path d="M558.0,601.0 L558.3,605.8 L554.2,609.1 L548.9,607.8 L549.1,601.7 L552.6,600.9Z" fill="#cfa996" fill-opacity="0.75" stroke="#86562a" stroke-width="1.4" stroke-opacity="0.9" stroke-linejoin="round"/><circle cx="554.6" cy="605.8" r="1.9" fill="#e2c3b8" opacity="0.8"/><path d="M566.6,611.6 L567.1,606.9 L571.5,602.8 L577.4,605.7 L577.1,612.3 L573.2,614.0Z" fill="#cfa996" fill-opacity="0.75" stroke="#6a411e" stroke-width="1.6" stroke-opacity="0.9" stroke-linejoin="round"/><path d="M586.2,623.8 L586.4,629.9 L581.6,630.9 L576.0,628.9 L577.8,621.8Z" fill="#d6b2a6" fill-opacity="0.75" stroke="#6a411e" stroke-width="1.5" stroke-opacity="0.9" stroke-linejoin="round"/><path d="M565.5,622.5 L567.8,621.2 L573.3,623.6 L572.0,627.1 L568.7,629.0 L565.6,629.9 L562.8,625.6Z" fill="#c09a7e" fill-opacity="0.75" stroke="#7a4d24" stroke-width="1.5" stroke-opacity="0.9" stroke-linejoin="round"/><path d="M596.4,625.9 L594.2,628.1 L588.3,626.5 L586.8,624.6 L588.6,621.1 L595.5,620.5 L596.8,621.7Z" fill="#d6b2a6" fill-opacity="0.75" stroke="#7a4d24" stroke-width="1.5" stroke-opacity="0.9" stroke-linejoin="round"/><path d="M583.3,616.8 L587.1,618.8 L585.8,621.3 L584.5,622.6 L581.8,622.0 L579.2,620.6 L580.2,617.7Z" fill="#c09a7e" fill-opacity="0.75" stroke="#86562a" stroke-width="1.6" stroke-opacity="0.9" stroke-linejoin="round"/><path d="M563.3,632.3 L560.7,628.2 L560.6,622.7 L565.1,622.8 L570.1,624.0 L570.2,629.5Z" fill="#c9a08a" fill-opacity="0.75" stroke="#86562a" stroke-width="1.5" stroke-opacity="0.9" stroke-linejoin="round"/><circle cx="564.4" cy="627.1" r="2.1" fill="#e2c3b8" opacity="0.8"/><path d="M569.3,625.9 L570.5,624.1 L574.3,624.3 L576.9,626.8 L575.0,629.1 L571.9,630.1 L570.6,629.0Z" fill="#cfa996" fill-opacity="0.75" stroke="#86562a" stroke-width="1.2" stroke-opacity="0.9" stroke-linejoin="round"/><circle cx="571.5" cy="627.4" r="1.4" fill="#e2c3b8" opacity="0.8"/><path d="M575.9,620.0 L577.5,623.3 L571.7,627.3 L566.1,624.1 L568.2,619.1Z" fill="#c09a7e" fill-opacity="0.75" stroke="#7a4d24" stroke-width="1.3" stroke-opacity="0.9" stroke-linejoin="round"/><path d="M589.2,622.6 L589.3,626.4 L586.6,627.3 L583.0,625.6 L582.5,623.0 L586.4,621.2Z" fill="#d6b2a6" fill-opacity="0.75" stroke="#6a411e" stroke-width="1.2" stroke-opacity="0.9" stroke-linejoin="round"/><path d="M586.2,628.2 L581.8,631.5 L578.0,629.0 L578.0,623.8 L583.2,622.8Z" fill="#d6b2a6" fill-opacity="0.75" stroke="#6a411e" stroke-width="1.5" stroke-opacity="0.9" stroke-linejoin="round"/><circle cx="582.0" cy="627.8" r="2.0" fill="#e2c3b8" opacity="0.8"/><path d="M584.1,634.9 L579.2,634.1 L578.4,630.8 L580.2,628.4 L584.1,628.0 L586.7,630.1 L586.9,634.1Z" fill="#d6b2a6" fill-opacity="0.75" stroke="#86562a" stroke-width="1.6" stroke-opacity="0.9" stroke-linejoin="round"/><path d="M597.9,631.9 L602.3,632.3 L604.1,638.9 L597.5,641.5 L593.7,639.6 L591.8,632.8Z" fill="#d6b2a6" fill-opacity="0.75" stroke="#7a4d24" stroke-width="1.7" stroke-opacity="0.9" stroke-linejoin="round"/><path d="M596.9,647.8 L591.0,646.9 L591.2,645.2 L594.7,641.3 L598.7,641.0 L600.2,644.4 L600.6,646.8Z" fill="#cfa996" fill-opacity="0.75" stroke="#7a4d24" stroke-width="1.1" stroke-opacity="0.9" stroke-linejoin="round"/><path d="M606.5,646.7 L601.6,649.0 L600.0,646.9 L599.9,643.8 L604.0,643.9Z" fill="#cfa996" fill-opacity="0.75" stroke="#7a4d24" stroke-width="1.7" stroke-opacity="0.9" stroke-linejoin="round"/><path d="M601.6,640.6 L604.2,637.9 L610.1,638.8 L609.5,641.7 L606.3,644.9 L601.8,643.9Z" fill="#c09a7e" fill-opacity="0.75" stroke="#6a411e" stroke-width="1.6" stroke-opacity="0.9" stroke-linejoin="round"/><path d="M637.0,637.9 L631.8,639.8 L628.0,638.7 L626.6,634.9 L630.6,629.9 L634.5,630.6 L638.6,633.9Z" fill="#c09a7e" fill-opacity="0.75" stroke="#86562a" stroke-width="1.5" stroke-opacity="0.9" stroke-linejoin="round"/><path d="M629.8,630.9 L624.7,629.6 L624.0,627.6 L627.3,624.2 L631.1,626.0 L632.2,628.1Z" fill="#cfa996" fill-opacity="0.75" stroke="#6a411e" stroke-width="1.1" stroke-opacity="0.9" stroke-linejoin="round"/><circle cx="627.5" cy="626.8" r="1.4" fill="#e2c3b8" opacity="0.8"/><path d="M624.1,627.8 L627.6,626.4 L631.6,628.5 L631.8,630.9 L627.5,633.5 L622.6,631.5Z" fill="#c9a08a" fill-opacity="0.75" stroke="#86562a" stroke-width="1.1" stroke-opacity="0.9" stroke-linejoin="round"/><path d="M641.4,633.1 L638.7,632.6 L636.9,629.5 L640.6,626.9 L643.4,626.7 L644.8,630.5Z" fill="#c9a08a" fill-opacity="0.75" stroke="#7a4d24" stroke-width="1.3" stroke-opacity="0.9" stroke-linejoin="round"/><path d="M544.9,661.5 L538.4,659.2 L536.0,653.9 L543.9,650.5 L549.5,655.3Z" fill="#cfa996" fill-opacity="0.75" stroke="#6a411e" stroke-width="1.5" stroke-opacity="0.9" stroke-linejoin="round"/><path d="M543.7,649.1 L548.8,651.3 L548.6,653.9 L544.4,656.7 L538.5,654.2 L540.0,649.3Z" fill="#cfa996" fill-opacity="0.75" stroke="#6a411e" stroke-width="1.5" stroke-opacity="0.9" stroke-linejoin="round"/><path d="M617.1,609.3 L620.8,611.1 L619.5,613.5 L615.4,615.1 L613.2,613.4 L614.0,609.0Z" fill="#d6b2a6" fill-opacity="0.75" stroke="#6a411e" stroke-width="1.5" stroke-opacity="0.9" stroke-linejoin="round"/><path d="M616.3,615.1 L619.5,610.4 L624.8,610.6 L627.3,612.8 L624.7,617.7 L619.2,618.4Z" fill="#d6b2a6" fill-opacity="0.75" stroke="#6a411e" stroke-width="1.2" stroke-opacity="0.9" stroke-linejoin="round"/><path d="M629.3,607.5 L632.9,612.4 L630.0,617.0 L624.5,616.8 L622.0,613.9 L623.9,608.4Z" fill="#cfa996" fill-opacity="0.75" stroke="#7a4d24" stroke-width="1.6" stroke-opacity="0.9" stroke-linejoin="round"/><path d="M689.3,675.1 L686.9,679.1 L681.4,679.3 L678.4,675.1 L682.3,670.5Z" fill="#c09a7e" fill-opacity="0.75" stroke="#6a411e" stroke-width="1.2" stroke-opacity="0.9" stroke-linejoin="round"/><circle cx="684.5" cy="674.9" r="1.9" fill="#e2c3b8" opacity="0.8"/><path d="M672.6,666.4 L672.5,662.0 L679.2,661.4 L682.2,666.1 L678.5,669.5Z" fill="#c09a7e" fill-opacity="0.75" stroke="#7a4d24" stroke-width="1.3" stroke-opacity="0.9" stroke-linejoin="round"/><path d="M668.1,663.6 L675.1,667.1 L675.1,671.0 L672.2,674.4 L667.3,672.4 L664.7,667.0Z" fill="#c9a08a" fill-opacity="0.75" stroke="#6a411e" stroke-width="1.6" stroke-opacity="0.9" stroke-linejoin="round"/><path d="M680.0,669.6 L682.7,670.1 L685.3,671.5 L685.6,674.7 L681.8,675.4 L677.9,674.5 L678.1,671.4Z" fill="#d6b2a6" fill-opacity="0.75" stroke="#6a411e" stroke-width="1.1" stroke-opacity="0.9" stroke-linejoin="round"/><path d="M676.5,667.3 L673.2,669.7 L667.8,668.8 L668.2,663.8 L672.7,661.1 L674.2,662.9Z" fill="#c09a7e" fill-opacity="0.75" stroke="#7a4d24" stroke-width="1.3" stroke-opacity="0.9" stroke-linejoin="round"/><path d="M668.8,668.2 L666.9,666.6 L668.0,663.4 L672.0,662.8 L673.3,665.6 L673.9,668.0 L671.7,668.3Z" fill="#c09a7e" fill-opacity="0.75" stroke="#6a411e" stroke-width="1.4" stroke-opacity="0.9" stroke-linejoin="round"/><circle cx="669.8" cy="666.9" r="1.3" fill="#e2c3b8" opacity="0.8"/><path d="M709.3,683.0 L706.5,684.0 L703.7,681.3 L705.5,678.2 L708.6,678.3 L711.0,679.6Z" fill="#c9a08a" fill-opacity="0.75" stroke="#86562a" stroke-width="1.6" stroke-opacity="0.9" stroke-linejoin="round"/><path d="M712.0,678.6 L717.4,679.4 L717.3,683.9 L715.8,685.3 L710.3,683.8 L710.6,681.7Z" fill="#d6b2a6" fill-opacity="0.75" stroke="#6a411e" stroke-width="1.5" stroke-opacity="0.9" stroke-linejoin="round"/><path d="M706.0,686.1 L701.0,684.8 L699.9,681.9 L705.0,677.0 L708.5,678.0 L711.4,684.0Z" fill="#c9a08a" fill-opacity="0.75" stroke="#6a411e" stroke-width="1.1" stroke-opacity="0.9" stroke-linejoin="round"/><path d="M698.8,672.4 L704.2,672.2 L705.2,677.1 L701.8,679.1 L696.2,675.2Z" fill="#c09a7e" fill-opacity="0.75" stroke="#6a411e" stroke-width="1.4" stroke-opacity="0.9" stroke-linejoin="round"/><circle cx="700.8" cy="674.2" r="1.6" fill="#e2c3b8" opacity="0.8"/><path d="M701.5,676.5 L699.8,679.4 L693.4,678.6 L692.7,673.8 L698.5,673.5Z" fill="#c09a7e" fill-opacity="0.75" stroke="#86562a" stroke-width="1.6" stroke-opacity="0.9" stroke-linejoin="round"/><path d="M701.8,685.8 L700.7,682.7 L702.5,680.0 L706.7,680.6 L707.6,683.5 L706.2,685.4Z" fill="#d6b2a6" fill-opacity="0.75" stroke="#7a4d24" stroke-width="1.2" stroke-opacity="0.9" stroke-linejoin="round"/><path d="M695.2,685.7 L690.9,689.6 L685.6,685.3 L687.0,681.3 L695.4,681.6Z" fill="#d6b2a6" fill-opacity="0.75" stroke="#6a411e" stroke-width="1.4" stroke-opacity="0.9" stroke-linejoin="round"/><path d="M697.8,690.4 L699.7,686.2 L701.7,684.5 L705.9,686.6 L706.7,689.5 L701.0,692.0Z" fill="#d6b2a6" fill-opacity="0.75" stroke="#7a4d24" stroke-width="1.1" stroke-opacity="0.9" stroke-linejoin="round"/><circle cx="702.2" cy="688.7" r="1.5" fill="#e2c3b8" opacity="0.8"/><path d="M708.3,687.2 L705.5,685.7 L705.0,681.7 L707.7,678.8 L713.8,681.2 L713.3,685.3Z" fill="#c09a7e" fill-opacity="0.75" stroke="#7a4d24" stroke-width="1.5" stroke-opacity="0.9" stroke-linejoin="round"/><path d="M710.4,684.7 L714.9,685.3 L716.0,688.4 L714.4,691.4 L710.6,693.2 L707.5,691.5 L707.3,688.3Z" fill="#d6b2a6" fill-opacity="0.75" stroke="#6a411e" stroke-width="1.6" stroke-opacity="0.9" stroke-linejoin="round"/><path d="M689.1,690.5 L685.5,689.1 L686.5,685.3 L689.1,683.6 L692.7,683.6 L695.1,686.3 L693.3,689.6Z" fill="#c09a7e" fill-opacity="0.75" stroke="#86562a" stroke-width="1.5" stroke-opacity="0.9" stroke-linejoin="round"/><path d="M717.9,685.3 L716.5,688.5 L714.1,689.8 L711.2,688.3 L711.7,685.0 L715.2,683.5Z" fill="#d6b2a6" fill-opacity="0.75" stroke="#6a411e" stroke-width="1.6" stroke-opacity="0.9" stroke-linejoin="round"/><circle cx="714.5" cy="686.0" r="1.3" fill="#e2c3b8" opacity="0.8"/><path d="M726.5,680.8 L730.6,684.0 L730.3,686.8 L728.1,689.0 L723.2,690.4 L719.8,685.8 L722.1,682.5Z" fill="#cfa996" fill-opacity="0.75" stroke="#6a411e" stroke-width="1.6" stroke-opacity="0.9" stroke-linejoin="round"/><path d="M730.1,691.9 L729.0,688.6 L729.7,685.1 L735.2,685.7 L736.9,687.3 L736.9,690.9 L733.6,692.9Z" fill="#d6b2a6" fill-opacity="0.75" stroke="#7a4d24" stroke-width="1.4" stroke-opacity="0.9" stroke-linejoin="round"/><path d="M729.2,690.2 L731.7,687.9 L736.8,689.3 L736.2,691.6 L735.0,696.3 L732.2,695.7 L728.4,693.7Z" fill="#c9a08a" fill-opacity="0.75" stroke="#7a4d24" stroke-width="1.6" stroke-opacity="0.9" stroke-linejoin="round"/><path d="M730.2,696.7 L726.1,696.0 L724.9,691.8 L726.1,688.5 L729.9,687.7 L732.7,692.1 L732.0,694.6Z" fill="#d6b2a6" fill-opacity="0.75" stroke="#86562a" stroke-width="1.3" stroke-opacity="0.9" stroke-linejoin="round"/><path d="M714.4,682.4 L717.1,679.3 L721.5,680.9 L722.9,685.8 L720.7,688.6 L717.2,690.0 L713.7,684.8Z" fill="#c9a08a" fill-opacity="0.75" stroke="#86562a" stroke-width="1.2" stroke-opacity="0.9" stroke-linejoin="round"/><circle cx="718.7" cy="683.6" r="1.7" fill="#e2c3b8" opacity="0.8"/><path d="M746.8,689.4 L740.5,690.1 L739.1,687.2 L740.4,683.3 L744.2,682.8 L746.6,684.8Z" fill="#c9a08a" fill-opacity="0.75" stroke="#7a4d24" stroke-width="1.0" stroke-opacity="0.9" stroke-linejoin="round"/><path d="M746.6,686.6 L743.7,684.2 L744.3,681.0 L748.7,679.8 L751.5,681.6 L751.6,685.2 L749.6,687.0Z" fill="#cfa996" fill-opacity="0.75" stroke="#6a411e" stroke-width="1.2" stroke-opacity="0.9" stroke-linejoin="round"/><path d="M733.1,685.2 L735.0,681.8 L740.5,683.1 L740.9,685.3 L737.9,688.7 L735.0,687.3Z" fill="#cfa996" fill-opacity="0.75" stroke="#7a4d24" stroke-width="1.4" stroke-opacity="0.9" stroke-linejoin="round"/><path d="M741.0,690.0 L739.9,692.7 L735.1,693.4 L733.3,693.2 L731.5,689.6 L735.0,686.3 L736.6,687.3Z" fill="#d6b2a6" fill-opacity="0.75" stroke="#7a4d24" stroke-width="1.7" stroke-opacity="0.9" stroke-linejoin="round"/><circle cx="735.9" cy="689.8" r="1.4" fill="#e2c3b8" opacity="0.8"/><path d="M722.6,684.7 L723.4,688.1 L721.5,689.1 L716.6,689.0 L716.7,685.3 L718.8,683.3Z" fill="#d6b2a6" fill-opacity="0.75" stroke="#86562a" stroke-width="1.6" stroke-opacity="0.9" stroke-linejoin="round"/><path d="M735.4,679.2 L739.3,683.3 L736.7,688.8 L728.8,688.2 L730.6,682.6Z" fill="#c9a08a" fill-opacity="0.75" stroke="#7a4d24" stroke-width="1.2" stroke-opacity="0.9" stroke-linejoin="round"/><path d="M751.5,691.0 L749.7,695.6 L745.4,695.1 L742.7,690.3 L745.6,686.8 L750.3,689.0Z" fill="#c9a08a" fill-opacity="0.75" stroke="#6a411e" stroke-width="1.6" stroke-opacity="0.9" stroke-linejoin="round"/><circle cx="747.3" cy="691.9" r="1.5" fill="#e2c3b8" opacity="0.8"/><path d="M751.5,679.2 L750.5,673.3 L758.2,668.8 L762.6,672.3 L764.0,676.8 L758.2,679.7Z" fill="#d6b2a6" fill-opacity="0.75" stroke="#6a411e" stroke-width="1.3" stroke-opacity="0.9" stroke-linejoin="round"/><path d="M748.4,672.8 L748.7,674.6 L746.6,678.8 L742.9,679.1 L741.7,676.9 L740.2,674.1 L744.1,671.3Z" fill="#cfa996" fill-opacity="0.75" stroke="#7a4d24" stroke-width="1.3" stroke-opacity="0.9" stroke-linejoin="round"/><path d="M744.6,672.6 L748.6,671.8 L752.6,675.9 L747.8,680.8 L743.4,677.3Z" fill="#cfa996" fill-opacity="0.75" stroke="#86562a" stroke-width="1.0" stroke-opacity="0.9" stroke-linejoin="round"/><circle cx="748.0" cy="676.6" r="1.9" fill="#e2c3b8" opacity="0.8"/><path d="M745.5,667.4 L747.6,670.1 L747.5,672.9 L745.6,674.7 L742.5,674.5 L740.9,671.5 L741.4,668.7Z" fill="#cfa996" fill-opacity="0.75" stroke="#86562a" stroke-width="1.4" stroke-opacity="0.9" stroke-linejoin="round"/><circle cx="745.2" cy="672.2" r="1.3" fill="#e2c3b8" opacity="0.8"/><path d="M514.4,714.2 L512.3,716.9 L509.2,716.5 L507.0,714.4 L511.1,710.9 L513.6,712.3Z" fill="#ecdccd" fill-opacity="0.75" stroke="#8a6034" stroke-width="1.4" stroke-opacity="0.9" stroke-linejoin="round"/><path d="M517.1,709.2 L517.9,705.7 L523.3,707.1 L525.0,709.5 L522.2,713.8 L517.9,712.5Z" fill="#efe3d4" fill-opacity="0.75" stroke="#9a6e40" stroke-width="1.2" stroke-opacity="0.9" stroke-linejoin="round"/><path d="M507.9,707.0 L510.1,709.0 L510.9,710.8 L507.8,713.1 L505.7,712.3 L505.1,709.3Z" fill="#ecdccd" fill-opacity="0.75" stroke="#8a6034" stroke-width="1.4" stroke-opacity="0.9" stroke-linejoin="round"/><path d="M518.7,700.8 L522.2,702.3 L519.6,706.9 L516.6,706.9 L514.4,704.5 L515.8,700.7Z" fill="#e6d2c0" fill-opacity="0.75" stroke="#9a6e40" stroke-width="1.6" stroke-opacity="0.9" stroke-linejoin="round"/><circle cx="517.5" cy="703.7" r="1.4" fill="#e2c3b8" opacity="0.8"/><path d="M529.8,713.5 L528.8,718.3 L524.8,719.5 L519.8,716.6 L519.1,714.0 L524.8,710.2 L528.7,711.4Z" fill="#e6d2c0" fill-opacity="0.75" stroke="#8a6034" stroke-width="1.7" stroke-opacity="0.9" stroke-linejoin="round"/><path d="M527.6,701.5 L526.0,703.7 L523.3,703.4 L520.6,701.0 L522.4,698.9 L526.3,699.8Z" fill="#efe3d4" fill-opacity="0.75" stroke="#9a6e40" stroke-width="1.4" stroke-opacity="0.9" stroke-linejoin="round"/><path d="M519.8,711.2 L519.8,706.5 L524.1,704.7 L530.3,704.5 L530.6,711.0 L527.6,714.5 L522.9,715.1Z" fill="#efe3d4" fill-opacity="0.75" stroke="#8a6034" stroke-width="1.7" stroke-opacity="0.9" stroke-linejoin="round"/><path d="M515.6,711.0 L517.4,713.8 L515.2,716.3 L511.1,716.1 L512.0,711.8Z" fill="#e6d2c0" fill-opacity="0.75" stroke="#8a6034" stroke-width="1.1" stroke-opacity="0.9" stroke-linejoin="round"/><circle cx="514.2" cy="713.6" r="1.2" fill="#e2c3b8" opacity="0.8"/><path d="M510.8,705.2 L507.8,705.6 L505.6,702.1 L506.5,700.1 L512.0,699.8 L512.5,702.5Z" fill="#ecdccd" fill-opacity="0.75" stroke="#8a6034" stroke-width="1.5" stroke-opacity="0.9" stroke-linejoin="round"/><circle cx="509.9" cy="703.8" r="1.6" fill="#e2c3b8" opacity="0.8"/><path d="M520.8,716.1 L519.1,716.1 L516.2,714.0 L517.9,711.7 L522.0,711.9 L523.7,712.8Z" fill="#efe3d4" fill-opacity="0.75" stroke="#8a6034" stroke-width="1.6" stroke-opacity="0.9" stroke-linejoin="round"/><path d="M526.1,712.0 L530.8,711.1 L533.1,715.6 L530.3,718.0 L527.0,717.8 L524.0,714.8Z" fill="#efe3d4" fill-opacity="0.75" stroke="#9a6e40" stroke-width="1.2" stroke-opacity="0.9" stroke-linejoin="round"/><circle cx="528.9" cy="714.3" r="1.6" fill="#e2c3b8" opacity="0.8"/><path d="M518.9,694.8 L522.8,696.8 L524.5,699.8 L520.4,703.2 L516.3,701.7 L515.7,696.1Z" fill="#ecdccd" fill-opacity="0.75" stroke="#9a6e40" stroke-width="1.4" stroke-opacity="0.9" stroke-linejoin="round"/><path d="M523.7,700.6 L526.6,700.3 L528.8,701.1 L529.1,704.2 L525.1,706.3 L522.1,703.5Z" fill="#e6d2c0" fill-opacity="0.75" stroke="#9a6e40" stroke-width="1.6" stroke-opacity="0.9" stroke-linejoin="round"/><path d="M545.3,708.2 L545.3,705.6 L547.9,702.9 L550.2,703.8 L551.8,706.1 L551.3,708.3 L549.1,708.8Z" fill="#ecdccd" fill-opacity="0.75" stroke="#9a6e40" stroke-width="1.0" stroke-opacity="0.9" stroke-linejoin="round"/><path d="M537.6,706.4 L542.0,706.0 L543.9,707.6 L543.2,711.8 L540.1,713.1 L537.0,711.2Z" fill="#e6d2c0" fill-opacity="0.75" stroke="#9a6e40" stroke-width="1.2" stroke-opacity="0.9" stroke-linejoin="round"/><path d="M548.5,702.1 L551.6,705.2 L552.1,708.0 L546.4,709.7 L544.7,708.0 L545.4,704.6Z" fill="#ecdccd" fill-opacity="0.75" stroke="#9a6e40" stroke-width="1.1" stroke-opacity="0.9" stroke-linejoin="round"/><path d="M535.5,715.8 L529.4,711.9 L534.1,707.2 L538.9,707.4 L541.1,712.5Z" fill="#efe3d4" fill-opacity="0.75" stroke="#8a6034" stroke-width="1.3" stroke-opacity="0.9" stroke-linejoin="round"/><path d="M534.1,703.0 L537.8,703.6 L540.1,709.6 L533.4,710.9 L530.4,707.1Z" fill="#efe3d4" fill-opacity="0.75" stroke="#8a6034" stroke-width="1.2" stroke-opacity="0.9" stroke-linejoin="round"/><path d="M533.6,696.6 L528.8,696.6 L526.6,692.4 L529.4,688.6 L534.6,690.4 L535.6,694.2Z" fill="#ecdccd" fill-opacity="0.75" stroke="#9a6e40" stroke-width="1.2" stroke-opacity="0.9" stroke-linejoin="round"/><path d="M523.9,688.9 L527.2,684.9 L530.9,686.1 L535.2,690.0 L530.2,694.4 L525.7,693.7Z" fill="#e6d2c0" fill-opacity="0.75" stroke="#9a6e40" stroke-width="1.7" stroke-opacity="0.9" stroke-linejoin="round"/><path d="M525.9,690.6 L529.9,686.9 L536.0,687.1 L536.8,693.2 L531.9,694.8 L528.2,692.5Z" fill="#e6d2c0" fill-opacity="0.75" stroke="#9a6e40" stroke-width="1.2" stroke-opacity="0.9" stroke-linejoin="round"/><circle cx="531.5" cy="690.4" r="1.7" fill="#e2c3b8" opacity="0.8"/><path d="M574.2,708.6 L571.8,708.3 L569.4,707.0 L569.4,704.5 L570.7,703.3 L573.6,703.0 L575.9,706.5Z" fill="#c9a08a" fill-opacity="0.75" stroke="#6a411e" stroke-width="1.2" stroke-opacity="0.9" stroke-linejoin="round"/><path d="M713.0,740.1 L713.2,743.2 L711.0,745.1 L707.3,745.1 L706.8,741.4 L708.3,739.4Z" fill="#c09a7e" fill-opacity="0.75" stroke="#86562a" stroke-width="1.4" stroke-opacity="0.9" stroke-linejoin="round"/><path d="M716.9,744.8 L713.0,745.2 L709.8,742.9 L710.7,738.9 L714.8,736.1 L718.1,739.4Z" fill="#d6b2a6" fill-opacity="0.75" stroke="#6a411e" stroke-width="1.0" stroke-opacity="0.9" stroke-linejoin="round"/><circle cx="714.8" cy="741.4" r="1.6" fill="#e2c3b8" opacity="0.8"/><path d="M716.5,740.8 L710.9,741.0 L710.0,735.9 L716.1,732.9 L718.3,735.5Z" fill="#c09a7e" fill-opacity="0.75" stroke="#86562a" stroke-width="1.7" stroke-opacity="0.9" stroke-linejoin="round"/><path d="M752.7,743.1 L748.6,739.6 L753.5,734.6 L758.9,736.5 L760.0,742.1Z" fill="#efe3d4" fill-opacity="0.75" stroke="#8a6034" stroke-width="1.2" stroke-opacity="0.9" stroke-linejoin="round"/><path d="M750.0,737.4 L750.8,733.9 L754.8,732.5 L757.8,734.3 L758.7,737.9 L756.2,739.8 L751.4,739.8Z" fill="#ecdccd" fill-opacity="0.75" stroke="#8a6034" stroke-width="1.4" stroke-opacity="0.9" stroke-linejoin="round"/><path d="M746.4,741.7 L745.6,738.6 L746.6,737.4 L750.8,737.5 L751.9,739.9 L749.9,741.7Z" fill="#efe3d4" fill-opacity="0.75" stroke="#9a6e40" stroke-width="1.4" stroke-opacity="0.9" stroke-linejoin="round"/><path d="M526.5,763.8 L531.0,767.4 L529.4,770.5 L524.4,773.1 L520.3,773.2 L517.7,765.9 L520.7,764.5Z" fill="#c9a08a" fill-opacity="0.75" stroke="#6a411e" stroke-width="1.1" stroke-opacity="0.9" stroke-linejoin="round"/><path d="M524.5,758.4 L527.9,759.4 L528.4,761.4 L525.8,763.3 L522.9,763.2 L521.5,760.4Z" fill="#cfa996" fill-opacity="0.75" stroke="#6a411e" stroke-width="1.5" stroke-opacity="0.9" stroke-linejoin="round"/><path d="M522.3,757.7 L525.0,759.5 L520.9,762.5 L518.0,762.2 L519.1,757.9Z" fill="#c9a08a" fill-opacity="0.75" stroke="#7a4d24" stroke-width="1.3" stroke-opacity="0.9" stroke-linejoin="round"/><path d="M576.4,775.6 L572.1,777.0 L568.0,774.2 L568.9,770.3 L574.1,768.1 L577.9,772.0Z" fill="#d6b2a6" fill-opacity="0.75" stroke="#6a411e" stroke-width="1.2" stroke-opacity="0.9" stroke-linejoin="round"/><path d="M503.9,791.7 L507.4,789.0 L510.5,791.3 L511.5,796.1 L507.1,796.7 L504.7,795.7Z" fill="#c9a08a" fill-opacity="0.75" stroke="#6a411e" stroke-width="1.3" stroke-opacity="0.9" stroke-linejoin="round"/><circle cx="507.0" cy="792.7" r="1.6" fill="#e2c3b8" opacity="0.8"/><path d="M505.0,799.7 L500.6,800.3 L496.4,796.4 L500.3,793.0 L503.8,794.2Z" fill="#c9a08a" fill-opacity="0.75" stroke="#7a4d24" stroke-width="1.6" stroke-opacity="0.9" stroke-linejoin="round"/><path d="M509.2,801.5 L504.1,798.2 L507.6,793.5 L512.9,794.0 L514.1,798.9Z" fill="#c9a08a" fill-opacity="0.75" stroke="#6a411e" stroke-width="1.3" stroke-opacity="0.9" stroke-linejoin="round"/><path d="M612.2,806.8 L604.7,805.6 L601.0,802.7 L606.6,797.6 L614.4,802.0Z" fill="#cfa996" fill-opacity="0.75" stroke="#7a4d24" stroke-width="1.2" stroke-opacity="0.9" stroke-linejoin="round"/><path d="M616.8,804.5 L612.0,807.2 L608.8,804.9 L607.4,802.7 L610.1,799.5 L615.0,797.8 L617.4,801.9Z" fill="#c9a08a" fill-opacity="0.75" stroke="#6a411e" stroke-width="1.7" stroke-opacity="0.9" stroke-linejoin="round"/><circle cx="612.4" cy="803.0" r="1.6" fill="#e2c3b8" opacity="0.8"/><path d="M625.7,808.2 L627.1,804.2 L631.4,803.0 L633.5,808.2 L629.6,811.1Z" fill="#cfa996" fill-opacity="0.75" stroke="#86562a" stroke-width="1.1" stroke-opacity="0.9" stroke-linejoin="round"/><path d="M634.8,807.5 L634.3,809.3 L632.4,812.0 L628.7,813.1 L625.9,809.4 L626.8,806.4 L631.1,805.5Z" fill="#c09a7e" fill-opacity="0.75" stroke="#7a4d24" stroke-width="1.2" stroke-opacity="0.9" stroke-linejoin="round"/><path d="M623.5,807.6 L622.8,803.6 L626.4,801.7 L630.4,803.3 L630.8,807.0 L628.6,807.8Z" fill="#d6b2a6" fill-opacity="0.75" stroke="#86562a" stroke-width="1.1" stroke-opacity="0.9" stroke-linejoin="round"/><circle cx="626.3" cy="804.4" r="1.4" fill="#e2c3b8" opacity="0.8"/><path d="M632.2,803.9 L632.9,810.3 L627.9,811.1 L624.0,809.7 L624.6,804.9 L629.3,803.1Z" fill="#cfa996" fill-opacity="0.75" stroke="#86562a" stroke-width="1.4" stroke-opacity="0.9" stroke-linejoin="round"/><path d="M586.8,822.6 L589.9,822.0 L592.7,823.5 L593.5,826.2 L590.4,827.3 L586.9,826.0Z" fill="#c9a08a" fill-opacity="0.75" stroke="#7a4d24" stroke-width="1.1" stroke-opacity="0.9" stroke-linejoin="round"/><path d="M589.3,829.2 L588.1,831.4 L585.4,831.3 L583.7,828.8 L586.0,827.1 L588.6,827.7Z" fill="#c09a7e" fill-opacity="0.75" stroke="#7a4d24" stroke-width="1.3" stroke-opacity="0.9" stroke-linejoin="round"/><path d="M588.6,828.6 L585.2,832.0 L579.7,831.6 L577.8,826.3 L583.6,822.4 L587.7,824.9Z" fill="#c09a7e" fill-opacity="0.75" stroke="#7a4d24" stroke-width="1.0" stroke-opacity="0.9" stroke-linejoin="round"/><path d="M591.7,827.0 L590.4,829.1 L585.1,829.7 L581.1,824.9 L584.3,821.9 L589.7,822.5Z" fill="#c9a08a" fill-opacity="0.75" stroke="#86562a" stroke-width="1.6" stroke-opacity="0.9" stroke-linejoin="round"/><path d="M576.8,816.9 L580.8,822.0 L580.6,824.3 L573.7,827.1 L571.5,824.0 L572.0,820.2Z" fill="#c9a08a" fill-opacity="0.75" stroke="#7a4d24" stroke-width="1.3" stroke-opacity="0.9" stroke-linejoin="round"/><path d="M754.1,843.4 L759.0,845.6 L756.7,849.6 L752.1,847.6 L750.7,845.6Z" fill="#cfa996" fill-opacity="0.75" stroke="#86562a" stroke-width="1.6" stroke-opacity="0.9" stroke-linejoin="round"/><path d="M728.9,659.6 L731.4,661.7 L732.7,665.8 L729.4,668.3 L725.6,666.4 L724.7,662.6Z" fill="#d6b2a6" fill-opacity="0.75" stroke="#7a4d24" stroke-width="1.2" stroke-opacity="0.9" stroke-linejoin="round"/><circle cx="727.9" cy="662.9" r="1.5" fill="#e2c3b8" opacity="0.8"/><path d="M729.3,657.5 L729.8,661.0 L726.4,662.3 L723.0,659.0 L724.8,657.7Z" fill="#d6b2a6" fill-opacity="0.75" stroke="#86562a" stroke-width="1.4" stroke-opacity="0.9" stroke-linejoin="round"/><circle cx="726.2" cy="660.3" r="1.4" fill="#e2c3b8" opacity="0.8"/><path d="M725.7,663.0 L729.2,660.7 L733.1,661.7 L732.4,664.8 L729.4,667.0 L726.1,664.9Z" fill="#cfa996" fill-opacity="0.75" stroke="#86562a" stroke-width="1.4" stroke-opacity="0.9" stroke-linejoin="round"/><path d="M684.5,707.4 L691.0,705.4 L693.8,709.4 L695.2,711.5 L689.6,715.6 L686.7,715.3 L684.4,710.7Z" fill="#ecdccd" fill-opacity="0.75" stroke="#9a6e40" stroke-width="1.2" stroke-opacity="0.9" stroke-linejoin="round"/><circle cx="690.1" cy="709.5" r="2.1" fill="#e2c3b8" opacity="0.8"/><path d="M509.9,776.3 L508.6,779.1 L505.3,779.8 L503.1,778.2 L503.7,776.0 L507.7,774.5Z" fill="#e6d2c0" fill-opacity="0.75" stroke="#8a6034" stroke-width="1.2" stroke-opacity="0.9" stroke-linejoin="round"/><path d="M509.2,775.5 L507.0,775.2 L505.3,772.8 L506.0,769.4 L508.0,768.6 L511.9,771.6 L512.6,773.6Z" fill="#e6d2c0" fill-opacity="0.75" stroke="#9a6e40" stroke-width="1.7" stroke-opacity="0.9" stroke-linejoin="round"/><path d="M555.6,824.1 L552.0,821.0 L551.7,817.1 L557.1,816.4 L561.4,819.0 L560.4,821.5Z" fill="#d6b2a6" fill-opacity="0.75" stroke="#6a411e" stroke-width="1.2" stroke-opacity="0.9" stroke-linejoin="round"/><circle cx="556.9" cy="820.0" r="2.0" fill="#e2c3b8" opacity="0.8"/><path d="M565.5,821.6 L559.3,822.2 L554.9,818.9 L558.7,815.2 L564.7,814.0 L565.6,816.7Z" fill="#d6b2a6" fill-opacity="0.75" stroke="#7a4d24" stroke-width="1.3" stroke-opacity="0.9" stroke-linejoin="round"/><path d="M617.4,648.1 L613.5,645.0 L612.3,642.1 L616.2,639.4 L621.4,641.3 L622.3,644.9Z" fill="#cfa996" fill-opacity="0.75" stroke="#7a4d24" stroke-width="1.4" stroke-opacity="0.9" stroke-linejoin="round"/><path d="M654.9,657.1 L654.7,655.2 L658.5,653.9 L661.3,656.5 L660.6,659.1 L656.5,660.6Z" fill="#c9a08a" fill-opacity="0.75" stroke="#86562a" stroke-width="1.3" stroke-opacity="0.9" stroke-linejoin="round"/></g><path d="M556.4,727.5 L543.0,715.3 M553.2,719.2 L542.2,714.5 L547.2,725.1" fill="none" stroke="#5a2ca8" stroke-width="1.7" stroke-linecap="round" stroke-linejoin="miter"/><path d="M733.7,758.6 L720.3,746.4 M730.5,750.3 L719.5,745.6 L724.5,756.2" fill="none" stroke="#5a2ca8" stroke-width="1.7" stroke-linecap="round" stroke-linejoin="miter"/><path d="M672.1,734.1 L687.7,742.5 L682.0,743.7 L680.7,749.9 Z" fill="#0f6a33"/><path d="M556.5,793.3 L572.1,801.7 L566.4,802.9 L565.1,809.1 Z" fill="#0f6a33"/></g><rect x="499.8" y="597.8" width="259" height="259.1" fill="none" stroke="#2a2a2a" stroke-width="1.6"/><rect x="499.9" y="838.0" width="95.8" height="18.9" fill="#ededed" stroke="#1a1a1a" stroke-width="1.5"/><text x="548.1" y="851.7" font-size="14.8" font-weight="normal" text-anchor="middle" fill="#1a1a1a" style="stroke:#1a1a1a;stroke-width:0.2px">Sham E16.5</text><line x1="697.5" y1="847.6" x2="745.8" y2="847.6" stroke="#111" stroke-width="2.6"/><g clip-path="url(#c2)"><g filter="url(#soft)"><rect x="499.6" y="869.6" width="259.7" height="259" fill="#e9dac8"/><path d="M757.3,1126.4 L768.4,1135.4 L768.4,1136.2 L758.0,1153.7 L750.4,1136.8 L753.7,1126.7Z" fill="#e8d6c2" stroke="#d8bd92" stroke-width="0.9" stroke-linejoin="round"/><path d="M506.7,1033.0 L513.7,1026.2 L511.4,1019.8 L507.0,1018.4 L492.3,1027.0 L494.1,1030.9Z" fill="#ecdccb" stroke="#c29a64" stroke-width="1.1" stroke-linejoin="round"/><path d="M638.9,897.1 L644.3,888.0 L641.7,879.4 L641.1,878.9 L634.5,879.8 L629.7,884.6 L631.7,892.3 L637.9,897.5Z" fill="#f6efe5" stroke="#d8bd92" stroke-width="0.7" stroke-linejoin="round"/><path d="M622.0,919.8 L610.3,920.5 L604.6,913.6 L605.8,910.8 L617.5,907.0 L622.3,912.1Z" fill="#ecdeca" stroke="#c29a64" stroke-width="1.1" stroke-linejoin="round"/><path d="M594.9,997.8 L595.9,996.6 L612.5,995.4 L612.5,1009.8 L612.2,1010.2 L599.7,1012.4 L599.1,1011.9Z" fill="#f6efe5" stroke="#d8bd92" stroke-width="0.9" stroke-linejoin="round"/><path d="M581.7,870.5 L576.7,862.7 L588.6,856.6 L593.2,858.9 L593.0,871.5Z" fill="#f4ebdf" stroke="#c29a64" stroke-width="1.0" stroke-linejoin="round"/><path d="M649.1,1042.8 L646.9,1046.3 L656.1,1056.8 L663.5,1053.2 L665.5,1046.2 L658.9,1040.4Z" fill="#ecdeca" stroke="#d8bd92" stroke-width="1.0" stroke-linejoin="round"/><path d="M597.4,1013.8 L597.9,1014.3 L597.9,1027.1 L596.0,1028.9 L583.6,1023.8 L581.3,1016.8Z" fill="#f6efe5" stroke="#c29a64" stroke-width="0.9" stroke-linejoin="round"/><path d="M574.2,882.1 L576.2,881.6 L579.9,871.5 L575.1,863.9 L574.0,863.6 L564.3,872.5 L566.2,877.5Z" fill="#ecdccb" stroke="#d8bd92" stroke-width="0.9" stroke-linejoin="round"/><path d="M703.2,1022.1 L699.1,1015.5 L693.0,1014.4 L688.4,1020.4 L687.5,1026.0 L689.1,1029.6 L698.8,1033.3 L702.4,1031.2Z" fill="#f4ebdf" stroke="#c29a64" stroke-width="1.0" stroke-linejoin="round"/><path d="M661.2,902.5 L673.2,893.7 L679.5,899.8 L679.7,904.9 L670.7,910.4 L661.4,903.7Z" fill="#f0e4d5" stroke="#9a6a36" stroke-width="1.3" stroke-linejoin="round"/><path d="M565.9,1097.4 L582.0,1101.2 L582.5,1090.0 L577.4,1087.4 L565.0,1093.4 L564.9,1095.7Z" fill="#ecdeca" stroke="#9a6a36" stroke-width="1.4" stroke-linejoin="round"/><path d="M517.0,872.8 L519.2,880.9 L512.4,885.6 L503.4,877.5 L502.5,871.9Z" fill="#f4ebdf" stroke="#d8bd92" stroke-width="1.0" stroke-linejoin="round"/><path d="M566.3,1027.0 L564.5,1027.8 L552.3,1022.6 L552.2,1021.1 L559.3,1011.2 L569.7,1012.1 L570.9,1012.8Z" fill="#ecdccb" stroke="#c29a64" stroke-width="0.7" stroke-linejoin="round"/><path d="M589.0,963.6 L581.0,972.7 L570.2,961.2 L571.7,953.0 L572.0,952.7 L585.6,952.7 L586.2,953.1Z" fill="#ecdeca" stroke="#d8bd92" stroke-width="1.0" stroke-linejoin="round"/><path d="M575.1,1078.4 L576.7,1086.4 L564.8,1092.2 L564.1,1091.0 L566.2,1078.0 L571.4,1076.4Z" fill="#f0e4d5" stroke="#c29a64" stroke-width="0.7" stroke-linejoin="round"/><path d="M558.2,885.5 L550.9,883.1 L550.4,873.5 L554.4,870.7 L562.0,873.3 L563.9,878.4Z" fill="#f4ebdf" stroke="#c29a64" stroke-width="0.8" stroke-linejoin="round"/><path d="M696.3,1103.6 L688.0,1106.7 L684.1,1104.9 L684.0,1104.7 L683.1,1095.7 L692.0,1089.9 L697.3,1093.7Z" fill="#ecdeca" stroke="#c29a64" stroke-width="1.1" stroke-linejoin="round"/><path d="M634.2,1127.5 L636.8,1118.9 L646.0,1117.0 L651.8,1125.3 L651.8,1134.4 L651.7,1134.4 L639.2,1136.1 L637.7,1135.1Z" fill="#e8d6c2" stroke="#c29a64" stroke-width="1.0" stroke-linejoin="round"/><path d="M756.0,890.9 L763.1,906.4 L771.6,902.7 L771.5,891.9 L767.8,889.6 L756.3,890.7Z" fill="#ecdeca" stroke="#c29a64" stroke-width="0.9" stroke-linejoin="round"/><path d="M502.2,978.5 L498.6,965.7 L489.0,964.4 L485.7,977.2 L492.3,982.5Z" fill="#f4ebdf" stroke="#c29a64" stroke-width="0.8" stroke-linejoin="round"/><path d="M715.8,1050.2 L730.5,1046.8 L735.0,1048.3 L735.3,1048.6 L723.0,1067.3 L721.4,1066.3Z" fill="#f6efe5" stroke="#d8bd92" stroke-width="0.8" stroke-linejoin="round"/><path d="M714.4,1132.2 L714.5,1135.9 L722.2,1143.0 L731.7,1136.8 L732.2,1135.2 L731.7,1132.6 L724.6,1126.4Z" fill="#e8d6c2" stroke="#c29a64" stroke-width="0.7" stroke-linejoin="round"/><path d="M502.7,980.4 L493.2,984.2 L492.9,994.7 L503.5,997.3 L505.9,996.3 L504.5,981.0Z" fill="#e8d6c2" stroke="#9a6a36" stroke-width="1.2" stroke-linejoin="round"/><path d="M517.3,1006.1 L509.4,999.0 L507.0,998.7 L504.6,999.8 L502.9,1010.8 L507.5,1016.6 L511.6,1017.9 L518.4,1009.5Z" fill="#f6efe5" stroke="#c29a64" stroke-width="0.9" stroke-linejoin="round"/><path d="M638.1,1089.0 L646.4,1086.5 L650.7,1094.1 L649.3,1102.0 L637.5,1099.4Z" fill="#ecdccb" stroke="#c29a64" stroke-width="1.1" stroke-linejoin="round"/><path d="M602.5,1130.1 L614.9,1122.8 L614.9,1121.7 L605.1,1111.4 L597.6,1121.5Z" fill="#e8d6c2" stroke="#9a6a36" stroke-width="1.2" stroke-linejoin="round"/><path d="M589.6,1119.8 L585.0,1107.4 L574.7,1114.0 L576.3,1125.6 L583.3,1125.7Z" fill="#e8d6c2" stroke="#d8bd92" stroke-width="0.9" stroke-linejoin="round"/><path d="M745.7,1047.2 L756.0,1052.6 L758.6,1061.7 L757.0,1062.9 L743.6,1061.2 L737.7,1048.7Z" fill="#ecdeca" stroke="#c29a64" stroke-width="0.8" stroke-linejoin="round"/><path d="M545.0,944.3 L555.6,943.5 L557.4,939.5 L554.4,929.2 L549.4,926.2 L543.0,930.1 L539.7,940.1Z" fill="#f6efe5" stroke="#d8bd92" stroke-width="1.0" stroke-linejoin="round"/><path d="M704.6,1021.3 L700.5,1014.7 L709.9,1007.1 L711.6,1007.3 L719.1,1018.6 L717.8,1022.2Z" fill="#f4ebdf" stroke="#c29a64" stroke-width="0.9" stroke-linejoin="round"/><path d="M730.0,890.4 L736.6,880.9 L728.5,872.7 L720.4,882.3 L726.7,890.1Z" fill="#e8d6c2" stroke="#c29a64" stroke-width="1.0" stroke-linejoin="round"/><path d="M559.7,1139.6 L548.3,1143.4 L543.7,1137.6 L548.6,1128.0 L556.1,1125.7 L561.1,1130.5Z" fill="#ecdeca" stroke="#c29a64" stroke-width="1.1" stroke-linejoin="round"/><path d="M646.6,1002.5 L657.4,1012.7 L647.7,1021.9 L642.1,1016.6 L641.9,1005.9 L645.7,1002.5Z" fill="#f6efe5" stroke="#c29a64" stroke-width="0.8" stroke-linejoin="round"/><path d="M646.5,999.9 L656.4,992.4 L657.1,983.3 L654.6,980.7 L646.9,978.9 L640.1,989.6 L645.6,999.9Z" fill="#f4ebdf" stroke="#d8bd92" stroke-width="0.9" stroke-linejoin="round"/><path d="M710.2,895.2 L718.9,897.2 L725.4,890.6 L719.5,883.3 L712.8,881.7 L708.5,887.4Z" fill="#f0e4d5" stroke="#9a6a36" stroke-width="1.2" stroke-linejoin="round"/><path d="M541.2,1041.2 L539.6,1042.0 L529.6,1055.6 L529.8,1059.3 L531.9,1061.6 L548.5,1057.9 L548.8,1052.9Z" fill="#f0e4d5" stroke="#d8bd92" stroke-width="0.7" stroke-linejoin="round"/><path d="M605.9,977.8 L614.0,984.3 L622.5,976.5 L619.8,969.7 L613.9,969.2Z" fill="#f4ebdf" stroke="#c29a64" stroke-width="0.8" stroke-linejoin="round"/><path d="M688.5,1003.8 L684.8,1001.8 L680.0,994.4 L680.0,993.7 L690.6,984.9 L698.4,992.4Z" fill="#f6efe5" stroke="#c29a64" stroke-width="0.9" stroke-linejoin="round"/><path d="M562.7,1129.0 L557.3,1123.9 L558.5,1116.8 L566.0,1111.3 L573.7,1114.1 L575.4,1125.8 L572.7,1128.3Z" fill="#ecdeca" stroke="#d8bd92" stroke-width="0.7" stroke-linejoin="round"/><path d="M742.5,1100.7 L752.1,1108.5 L746.5,1119.1 L744.6,1119.0 L733.6,1110.3 L734.0,1108.1Z" fill="#f4ebdf" stroke="#c29a64" stroke-width="0.9" stroke-linejoin="round"/><path d="M570.9,951.9 L559.6,948.7 L557.3,944.4 L559.2,940.3 L571.9,938.0 L571.2,951.6Z" fill="#f4ebdf" stroke="#d8bd92" stroke-width="0.7" stroke-linejoin="round"/><path d="M576.0,1141.1 L572.5,1130.1 L563.3,1130.8 L561.9,1139.9 L567.9,1147.5Z" fill="#f6efe5" stroke="#d8bd92" stroke-width="0.7" stroke-linejoin="round"/><path d="M597.0,965.5 L603.5,977.7 L595.5,983.5 L582.4,973.7 L582.4,973.5 L590.1,964.8Z" fill="#ecdccb" stroke="#9a6a36" stroke-width="1.1" stroke-linejoin="round"/><path d="M627.0,1021.9 L629.2,1018.8 L626.2,1009.2 L614.2,1011.0 L613.9,1011.4 L618.4,1022.8Z" fill="#ecdeca" stroke="#d8bd92" stroke-width="0.9" stroke-linejoin="round"/><path d="M546.9,1103.6 L563.6,1096.4 L564.7,1098.1 L565.4,1110.4 L557.8,1115.9 L546.7,1104.7Z" fill="#ecdccb" stroke="#9a6a36" stroke-width="1.1" stroke-linejoin="round"/><path d="M505.7,980.6 L513.3,979.0 L520.6,986.0 L509.6,996.8 L507.2,996.5Z" fill="#f0e4d5" stroke="#c29a64" stroke-width="1.0" stroke-linejoin="round"/><path d="M714.3,926.7 L723.1,923.1 L727.8,925.4 L728.1,937.6 L724.1,941.5 L714.7,931.9 L714.2,926.9Z" fill="#f4ebdf" stroke="#d8bd92" stroke-width="0.9" stroke-linejoin="round"/><path d="M527.6,1090.9 L528.5,1092.6 L527.4,1106.4 L523.9,1108.7 L516.0,1108.2 L515.3,1106.2 L518.6,1094.7 L527.5,1090.9Z" fill="#f0e4d5" stroke="#d8bd92" stroke-width="1.0" stroke-linejoin="round"/><path d="M708.1,975.5 L696.9,974.3 L692.6,960.6 L692.7,960.4 L708.2,958.6 L712.5,964.7Z" fill="#ecdeca" stroke="#d8bd92" stroke-width="0.7" stroke-linejoin="round"/><path d="M754.7,890.7 L762.2,907.3 L760.6,910.0 L748.8,907.1 L747.2,897.1 L753.5,890.8Z" fill="#f4ebdf" stroke="#c29a64" stroke-width="1.0" stroke-linejoin="round"/><path d="M659.4,900.7 L656.3,889.0 L660.7,879.7 L663.2,879.4 L672.5,887.2 L672.2,892.1 L659.8,901.1Z" fill="#ecdccb" stroke="#c29a64" stroke-width="0.9" stroke-linejoin="round"/><path d="M612.5,1060.0 L611.1,1067.1 L613.2,1069.4 L625.6,1065.7 L628.4,1058.3 L624.4,1054.6Z" fill="#f0e4d5" stroke="#d8bd92" stroke-width="0.8" stroke-linejoin="round"/><path d="M714.6,1103.2 L721.5,1094.7 L721.5,1093.5 L711.7,1087.5 L705.9,1093.1 L709.5,1104.2Z" fill="#f0e4d5" stroke="#d8bd92" stroke-width="0.9" stroke-linejoin="round"/><path d="M665.4,949.1 L662.2,939.8 L654.7,937.2 L648.2,954.0 L654.4,955.1Z" fill="#ecdccb" stroke="#9a6a36" stroke-width="1.2" stroke-linejoin="round"/><path d="M499.9,1097.8 L498.8,1097.9 L495.7,1101.7 L495.9,1108.6 L497.8,1111.8 L512.7,1112.4 L515.0,1108.7 L514.2,1106.7Z" fill="#e8d6c2" stroke="#d8bd92" stroke-width="0.9" stroke-linejoin="round"/><path d="M607.8,952.7 L610.6,951.5 L617.6,939.1 L605.4,934.6 L600.4,939.7 L600.2,945.9Z" fill="#e8d6c2" stroke="#c29a64" stroke-width="0.8" stroke-linejoin="round"/><path d="M637.1,1100.5 L649.3,1103.2 L650.6,1105.8 L645.8,1115.4 L636.3,1117.4 L627.8,1108.2 L627.4,1105.5Z" fill="#f0e4d5" stroke="#d8bd92" stroke-width="0.8" stroke-linejoin="round"/><path d="M592.0,1051.7 L594.2,1037.2 L578.6,1039.8 L577.6,1042.1 L580.1,1049.8 L584.7,1052.6Z" fill="#f4ebdf" stroke="#d8bd92" stroke-width="0.8" stroke-linejoin="round"/><path d="M749.2,941.4 L757.6,934.4 L765.9,935.5 L767.3,947.3 L762.1,951.9Z" fill="#f6efe5" stroke="#9a6a36" stroke-width="1.1" stroke-linejoin="round"/><path d="M589.1,1078.0 L596.4,1076.2 L601.5,1086.4 L598.3,1089.5 L587.9,1087.0Z" fill="#f6efe5" stroke="#d8bd92" stroke-width="0.8" stroke-linejoin="round"/><path d="M596.7,874.2 L594.5,871.6 L594.8,858.9 L605.9,855.0 L607.9,868.5 L601.6,873.9Z" fill="#f6efe5" stroke="#d8bd92" stroke-width="0.8" stroke-linejoin="round"/><path d="M612.9,1090.0 L608.0,1087.4 L603.3,1088.1 L600.0,1091.3 L599.0,1101.9 L605.1,1106.4 L618.5,1099.7Z" fill="#f6efe5" stroke="#c29a64" stroke-width="0.7" stroke-linejoin="round"/><path d="M592.4,919.7 L604.0,914.7 L609.2,921.0 L604.6,930.6Z" fill="#e8d6c2" stroke="#d8bd92" stroke-width="0.8" stroke-linejoin="round"/><path d="M678.7,993.1 L671.4,981.9 L677.4,973.0 L677.6,973.0 L690.1,981.1 L690.0,983.6Z" fill="#f4ebdf" stroke="#d8bd92" stroke-width="0.7" stroke-linejoin="round"/><path d="M719.1,1022.6 L720.4,1019.1 L729.0,1014.1 L735.0,1017.9 L734.8,1025.4 L721.6,1029.3Z" fill="#f6efe5" stroke="#9a6a36" stroke-width="1.1" stroke-linejoin="round"/><path d="M645.2,1028.4 L633.3,1033.0 L631.3,1038.7 L642.8,1046.0 L645.2,1045.5 L647.5,1041.9Z" fill="#ecdeca" stroke="#d8bd92" stroke-width="0.8" stroke-linejoin="round"/><path d="M668.0,1120.0 L668.7,1131.0 L659.7,1136.1 L653.4,1134.8 L653.4,1125.3 L665.7,1118.0Z" fill="#f0e4d5" stroke="#d8bd92" stroke-width="0.8" stroke-linejoin="round"/><path d="M728.5,973.2 L741.1,969.0 L735.1,956.8 L731.0,956.2 L723.4,964.9Z" fill="#e8d6c2" stroke="#c29a64" stroke-width="0.9" stroke-linejoin="round"/><path d="M503.7,861.0 L493.6,842.4 L487.2,853.5 L490.3,865.1 L496.0,868.7 L499.9,869.1Z" fill="#ecdeca" stroke="#d8bd92" stroke-width="1.0" stroke-linejoin="round"/><path d="M689.8,933.2 L684.3,922.4 L673.4,923.3 L672.7,932.1 L681.6,938.7Z" fill="#ecdeca" stroke="#c29a64" stroke-width="0.8" stroke-linejoin="round"/><path d="M660.4,877.4 L659.6,876.8 L652.5,863.6 L653.2,862.7 L664.1,860.9 L668.3,868.9 L663.0,877.1Z" fill="#ecdeca" stroke="#d8bd92" stroke-width="0.8" stroke-linejoin="round"/><path d="M640.6,1016.9 L630.3,1018.7 L627.2,1008.7 L629.9,1004.8 L640.4,1005.6Z" fill="#e8d6c2" stroke="#d8bd92" stroke-width="1.0" stroke-linejoin="round"/><path d="M673.2,951.3 L679.2,949.0 L680.7,939.9 L671.9,933.4 L664.1,939.1 L667.4,948.5Z" fill="#f0e4d5" stroke="#c29a64" stroke-width="1.0" stroke-linejoin="round"/><path d="M543.5,946.1 L543.7,958.9 L534.4,959.6 L530.3,956.8 L529.2,947.3 L532.7,943.4 L538.1,941.8Z" fill="#ecdccb" stroke="#c29a64" stroke-width="0.7" stroke-linejoin="round"/><path d="M695.1,1133.6 L688.6,1126.4 L684.4,1127.1 L678.7,1134.2 L679.5,1136.7 L687.8,1143.2 L694.7,1138.9Z" fill="#f6efe5" stroke="#c29a64" stroke-width="0.9" stroke-linejoin="round"/><path d="M518.7,1124.6 L516.7,1133.0 L504.0,1133.3 L503.2,1126.3 L513.2,1119.2Z" fill="#f0e4d5" stroke="#c29a64" stroke-width="1.0" stroke-linejoin="round"/><path d="M500.3,1097.3 L514.5,1106.1 L517.9,1094.4 L509.3,1091.2Z" fill="#ecdccb" stroke="#9a6a36" stroke-width="1.1" stroke-linejoin="round"/><path d="M682.5,1105.9 L664.5,1108.3 L666.4,1117.2 L668.7,1119.3 L677.1,1118.5 L682.6,1106.1Z" fill="#f0e4d5" stroke="#c29a64" stroke-width="0.7" stroke-linejoin="round"/><path d="M702.2,1060.0 L701.6,1060.2 L693.6,1070.7 L699.1,1077.3 L703.4,1077.1 L708.0,1066.9Z" fill="#ecdeca" stroke="#d8bd92" stroke-width="0.8" stroke-linejoin="round"/><path d="M721.4,907.3 L723.6,908.9 L732.2,906.9 L734.9,897.4 L729.8,891.7 L726.6,891.4 L719.8,898.2Z" fill="#ecdeca" stroke="#d8bd92" stroke-width="0.8" stroke-linejoin="round"/><path d="M491.4,1055.3 L489.2,1044.1 L492.5,1041.0 L504.5,1046.7 L494.1,1056.4Z" fill="#f6efe5" stroke="#d8bd92" stroke-width="0.9" stroke-linejoin="round"/><path d="M712.6,1037.3 L712.6,1047.5 L715.6,1048.7 L730.1,1045.4 L720.9,1031.4Z" fill="#ecdeca" stroke="#d8bd92" stroke-width="0.9" stroke-linejoin="round"/><path d="M722.3,964.0 L729.9,955.1 L723.8,944.6 L710.8,951.5 L709.4,957.9 L713.6,963.7Z" fill="#f6efe5" stroke="#c29a64" stroke-width="1.1" stroke-linejoin="round"/><path d="M737.1,880.3 L741.7,879.2 L744.7,870.3 L731.8,861.7 L728.5,863.0 L729.1,872.2Z" fill="#ecdeca" stroke="#c29a64" stroke-width="0.7" stroke-linejoin="round"/><path d="M675.9,1040.4 L674.1,1031.0 L686.0,1026.9 L687.5,1030.3 L682.7,1042.7Z" fill="#f0e4d5" stroke="#c29a64" stroke-width="0.7" stroke-linejoin="round"/><path d="M529.5,1090.2 L530.4,1091.8 L544.5,1099.9 L546.8,1087.3 L541.6,1084.3Z" fill="#ecdeca" stroke="#9a6a36" stroke-width="1.0" stroke-linejoin="round"/><path d="M514.2,896.1 L521.8,898.4 L532.1,888.7 L530.6,884.9 L520.2,882.4 L513.5,887.1 L512.6,893.6Z" fill="#f0e4d5" stroke="#9a6a36" stroke-width="1.1" stroke-linejoin="round"/><path d="M652.0,1094.3 L650.6,1102.5 L652.0,1105.1 L663.3,1106.9 L668.4,1089.8 L666.6,1088.7Z" fill="#f0e4d5" stroke="#9a6a36" stroke-width="1.1" stroke-linejoin="round"/><path d="M758.1,1125.6 L769.0,1134.4 L773.1,1128.6 L771.7,1118.9 L765.4,1117.5Z" fill="#e8d6c2" stroke="#c29a64" stroke-width="1.1" stroke-linejoin="round"/><path d="M640.6,963.7 L625.0,961.3 L624.4,959.3 L630.1,945.7 L633.9,945.7 L644.7,955.6Z" fill="#ecdccb" stroke="#c29a64" stroke-width="0.8" stroke-linejoin="round"/><path d="M516.6,918.3 L517.9,926.1 L510.2,932.9 L502.8,929.5 L497.9,917.1 L500.2,913.9 L506.1,912.8Z" fill="#f0e4d5" stroke="#9a6a36" stroke-width="1.3" stroke-linejoin="round"/><path d="M736.9,987.6 L748.8,975.3 L754.7,979.5 L755.7,981.6 L754.5,990.1 L742.3,995.7Z" fill="#ecdeca" stroke="#c29a64" stroke-width="0.7" stroke-linejoin="round"/><path d="M651.4,916.6 L653.5,923.1 L650.8,930.8 L642.2,930.9 L636.6,924.6 L642.3,915.3Z" fill="#e8d6c2" stroke="#c29a64" stroke-width="0.7" stroke-linejoin="round"/><path d="M695.7,887.3 L706.8,887.8 L708.5,895.5 L701.0,905.0 L700.6,905.1 L693.3,894.0 L694.0,888.9Z" fill="#f6efe5" stroke="#c29a64" stroke-width="0.8" stroke-linejoin="round"/><path d="M673.0,1069.6 L660.3,1075.3 L667.4,1087.3 L669.2,1088.4 L672.4,1088.2 L679.1,1076.2Z" fill="#f4ebdf" stroke="#d8bd92" stroke-width="0.7" stroke-linejoin="round"/><path d="M502.6,1133.3 L501.8,1126.5 L496.9,1121.4 L486.6,1125.6 L483.4,1134.4 L492.4,1139.2 L499.9,1137.5Z" fill="#ecdccb" stroke="#c29a64" stroke-width="0.9" stroke-linejoin="round"/><path d="M628.7,1080.2 L630.7,1085.0 L621.4,1099.7 L620.0,1099.2 L614.2,1089.1 L624.2,1080.4Z" fill="#ecdeca" stroke="#c29a64" stroke-width="1.0" stroke-linejoin="round"/><path d="M674.1,953.7 L680.1,951.5 L688.5,956.4 L690.6,960.2 L690.6,960.4 L677.7,971.0 L677.5,971.0 L672.4,964.2Z" fill="#ecdccb" stroke="#c29a64" stroke-width="0.8" stroke-linejoin="round"/><path d="M538.2,1111.0 L537.3,1118.3 L530.4,1121.8 L528.1,1121.0 L524.9,1109.9 L528.2,1107.8Z" fill="#ecdeca" stroke="#c29a64" stroke-width="1.1" stroke-linejoin="round"/><path d="M694.2,885.7 L694.1,874.5 L686.6,868.4 L684.7,868.7 L680.8,882.9 L692.4,887.3Z" fill="#ecdeca" stroke="#c29a64" stroke-width="0.8" stroke-linejoin="round"/><path d="M530.8,941.8 L520.4,928.4 L519.2,928.0 L511.8,934.5 L512.3,944.9 L527.3,945.6Z" fill="#ecdccb" stroke="#9a6a36" stroke-width="1.1" stroke-linejoin="round"/><path d="M674.6,1041.2 L666.7,1045.5 L659.6,1039.3 L660.6,1031.3 L668.5,1026.9 L672.7,1031.0Z" fill="#ecdccb" stroke="#c29a64" stroke-width="1.0" stroke-linejoin="round"/><path d="M753.7,1077.1 L767.7,1081.8 L759.0,1093.0 L746.9,1087.4 L748.5,1080.8Z" fill="#e8d6c2" stroke="#9a6a36" stroke-width="1.2" stroke-linejoin="round"/><path d="M729.1,925.0 L740.8,921.4 L741.9,922.5 L741.5,937.0 L729.4,938.0Z" fill="#f4ebdf" stroke="#d8bd92" stroke-width="0.8" stroke-linejoin="round"/><path d="M659.8,904.5 L670.0,911.8 L671.8,922.0 L655.4,922.8 L653.0,915.7Z" fill="#e8d6c2" stroke="#d8bd92" stroke-width="0.8" stroke-linejoin="round"/><path d="M524.0,1078.9 L515.1,1075.4 L514.2,1064.7 L528.9,1060.1 L530.9,1062.4 L532.0,1069.4Z" fill="#ecdeca" stroke="#d8bd92" stroke-width="0.9" stroke-linejoin="round"/><path d="M692.9,959.0 L690.7,955.1 L699.1,942.0 L703.0,943.0 L709.0,951.1 L707.6,957.3Z" fill="#ecdeca" stroke="#c29a64" stroke-width="1.1" stroke-linejoin="round"/><path d="M598.8,946.1 L599.1,939.4 L584.6,935.1 L583.9,935.6 L586.3,951.8 L586.9,952.3Z" fill="#ecdeca" stroke="#c29a64" stroke-width="0.8" stroke-linejoin="round"/><path d="M517.1,871.5 L502.6,870.6 L501.9,869.5 L505.4,861.8 L515.9,857.4 L517.0,858.0 L521.0,865.6Z" fill="#ecdeca" stroke="#c29a64" stroke-width="0.9" stroke-linejoin="round"/><path d="M592.9,881.2 L584.1,885.5 L577.6,882.4 L581.5,872.0 L592.9,873.0 L595.0,875.6Z" fill="#f6efe5" stroke="#d8bd92" stroke-width="0.8" stroke-linejoin="round"/><path d="M730.5,1086.6 L727.8,1072.4 L739.0,1071.0 L746.8,1080.4 L745.2,1086.9 L743.2,1088.3Z" fill="#ecdccb" stroke="#d8bd92" stroke-width="0.8" stroke-linejoin="round"/><path d="M712.1,926.8 L712.6,932.1 L703.4,941.3 L699.5,940.3 L694.5,933.9 L701.9,926.4Z" fill="#ecdeca" stroke="#d8bd92" stroke-width="0.8" stroke-linejoin="round"/><path d="M723.4,1094.6 L733.3,1107.4 L741.9,1100.0 L743.2,1089.8 L730.2,1087.9 L723.5,1093.4Z" fill="#f6efe5" stroke="#c29a64" stroke-width="0.7" stroke-linejoin="round"/><path d="M669.4,868.2 L682.0,866.1 L675.6,853.8 L666.6,857.2 L665.4,860.3Z" fill="#f6efe5" stroke="#c29a64" stroke-width="0.9" stroke-linejoin="round"/><path d="M705.6,1118.1 L706.4,1126.8 L696.3,1132.8 L689.5,1125.3 L692.7,1118.7 L705.2,1117.5Z" fill="#e8d6c2" stroke="#d8bd92" stroke-width="0.9" stroke-linejoin="round"/><path d="M736.5,1025.4 L739.4,1029.0 L753.1,1027.5 L755.4,1021.7 L740.4,1015.9 L736.7,1018.0Z" fill="#e8d6c2" stroke="#9a6a36" stroke-width="1.0" stroke-linejoin="round"/><path d="M541.5,1036.0 L531.7,1025.2 L521.3,1030.0 L523.2,1037.3 L538.4,1040.3 L539.8,1039.6Z" fill="#e8d6c2" stroke="#9a6a36" stroke-width="1.3" stroke-linejoin="round"/><path d="M761.2,1106.5 L763.6,1102.2 L796.8,1099.4 L772.0,1117.3 L765.8,1116.0Z" fill="#e8d6c2" stroke="#9a6a36" stroke-width="1.1" stroke-linejoin="round"/><path d="M724.2,910.3 L732.4,908.4 L739.7,915.9 L740.0,920.0 L728.8,923.4 L724.0,921.1Z" fill="#f0e4d5" stroke="#d8bd92" stroke-width="0.7" stroke-linejoin="round"/><path d="M512.1,897.4 L505.7,910.7 L499.9,911.8 L495.3,901.7 L498.0,895.3 L510.5,894.9Z" fill="#f6efe5" stroke="#d8bd92" stroke-width="0.9" stroke-linejoin="round"/><path d="M748.0,842.1 L751.8,832.9 L764.1,864.7 L763.6,866.3 L757.8,868.9 L750.6,867.3Z" fill="#f6efe5" stroke="#c29a64" stroke-width="1.0" stroke-linejoin="round"/><path d="M533.3,1069.2 L532.2,1062.2 L548.5,1058.6 L553.4,1066.3 L553.2,1067.9 L541.3,1073.5Z" fill="#f6efe5" stroke="#d8bd92" stroke-width="0.8" stroke-linejoin="round"/><path d="M584.6,1066.6 L596.4,1065.4 L598.9,1068.2 L596.5,1075.1 L588.7,1076.9 L584.0,1073.3Z" fill="#ecdccb" stroke="#c29a64" stroke-width="1.0" stroke-linejoin="round"/><path d="M565.2,1077.7 L563.1,1091.1 L553.1,1085.0 L556.2,1072.7Z" fill="#ecdeca" stroke="#c29a64" stroke-width="1.1" stroke-linejoin="round"/><path d="M560.1,896.6 L558.1,886.6 L550.4,884.1 L541.8,892.6 L543.2,895.4 L557.7,898.8Z" fill="#ecdccb" stroke="#9a6a36" stroke-width="1.1" stroke-linejoin="round"/><path d="M735.9,1016.2 L739.5,1014.2 L743.6,1004.8 L741.0,999.8 L728.8,1005.6 L730.1,1012.5Z" fill="#ecdeca" stroke="#9a6a36" stroke-width="1.3" stroke-linejoin="round"/><path d="M631.3,1086.0 L636.9,1089.2 L636.2,1099.0 L627.3,1103.6 L622.8,1099.5Z" fill="#f0e4d5" stroke="#c29a64" stroke-width="0.8" stroke-linejoin="round"/><path d="M782.0,1011.2 L769.5,1021.9 L758.8,1019.9 L759.1,1013.8 L767.8,1007.5Z" fill="#f4ebdf" stroke="#d8bd92" stroke-width="0.8" stroke-linejoin="round"/><path d="M628.2,883.4 L633.3,878.3 L628.7,867.9 L623.5,866.4 L618.2,871.6 L620.0,881.3Z" fill="#f0e4d5" stroke="#d8bd92" stroke-width="0.8" stroke-linejoin="round"/><path d="M720.5,908.7 L722.6,910.2 L722.4,921.1 L713.4,924.8 L709.8,911.4Z" fill="#ecdccb" stroke="#9a6a36" stroke-width="1.4" stroke-linejoin="round"/><path d="M742.2,920.1 L743.2,921.1 L752.5,922.3 L760.8,915.9 L760.4,910.8 L748.6,907.9 L741.8,915.8Z" fill="#ecdccb" stroke="#d8bd92" stroke-width="0.9" stroke-linejoin="round"/><path d="M636.0,906.3 L624.1,912.3 L623.7,919.7 L625.8,923.3 L635.1,924.0 L641.0,914.3Z" fill="#ecdeca" stroke="#d8bd92" stroke-width="1.0" stroke-linejoin="round"/><path d="M496.5,918.0 L501.3,929.9 L490.7,936.6 L479.5,922.8Z" fill="#ecdeca" stroke="#9a6a36" stroke-width="1.0" stroke-linejoin="round"/><path d="M695.3,873.1 L687.5,866.9 L694.1,858.9 L700.9,857.5 L703.9,859.8 L703.9,871.5Z" fill="#f6efe5" stroke="#d8bd92" stroke-width="0.8" stroke-linejoin="round"/><path d="M761.5,917.0 L769.1,922.7 L769.6,930.3 L766.0,934.2 L757.9,933.1 L753.3,923.2Z" fill="#f6efe5" stroke="#c29a64" stroke-width="1.0" stroke-linejoin="round"/><path d="M593.2,996.3 L594.2,995.1 L594.7,984.5 L581.6,974.8 L575.2,981.7 L574.9,985.6 L585.8,996.7Z" fill="#ecdccb" stroke="#9a6a36" stroke-width="1.2" stroke-linejoin="round"/><path d="M733.5,986.9 L727.5,976.7 L714.3,984.8 L723.1,992.0Z" fill="#ecdccb" stroke="#d8bd92" stroke-width="1.0" stroke-linejoin="round"/><path d="M753.2,1029.0 L739.7,1030.4 L737.2,1046.2 L737.5,1046.6 L737.6,1046.6 L745.4,1045.2 L754.6,1034.3Z" fill="#f4ebdf" stroke="#9a6a36" stroke-width="1.4" stroke-linejoin="round"/><path d="M522.7,864.7 L529.8,866.1 L534.8,862.6 L537.3,854.7 L535.5,849.3 L518.7,857.0Z" fill="#f0e4d5" stroke="#d8bd92" stroke-width="0.8" stroke-linejoin="round"/><path d="M658.0,902.4 L639.6,899.2 L638.6,899.7 L637.2,905.4 L642.3,913.5 L652.0,914.9 L658.6,904.1 L658.4,902.8Z" fill="#e8d6c2" stroke="#c29a64" stroke-width="1.0" stroke-linejoin="round"/><path d="M613.0,1029.5 L600.3,1027.2 L600.3,1014.2 L612.4,1012.0 L616.9,1023.4Z" fill="#ecdccb" stroke="#9a6a36" stroke-width="1.1" stroke-linejoin="round"/><path d="M509.0,1078.0 L513.4,1075.1 L512.6,1065.2 L510.1,1063.0 L499.5,1064.8 L497.1,1072.6 L499.8,1076.4Z" fill="#e8d6c2" stroke="#d8bd92" stroke-width="0.9" stroke-linejoin="round"/><path d="M576.9,1039.1 L575.7,1034.8 L567.0,1028.7 L565.2,1029.5 L561.1,1038.3 L564.0,1043.3 L576.0,1041.2Z" fill="#ecdccb" stroke="#c29a64" stroke-width="0.9" stroke-linejoin="round"/><path d="M692.9,1071.3 L698.4,1077.8 L691.9,1086.8 L682.8,1076.1 L689.5,1070.8Z" fill="#e8d6c2" stroke="#c29a64" stroke-width="0.8" stroke-linejoin="round"/><path d="M521.7,985.1 L514.2,977.9 L517.9,966.9 L532.0,974.7 L533.1,976.7 L528.9,986.1 L528.4,986.4Z" fill="#e8d6c2" stroke="#c29a64" stroke-width="1.0" stroke-linejoin="round"/><path d="M528.8,957.1 L518.1,964.1 L511.6,946.7 L511.7,946.6 L527.7,947.2Z" fill="#ecdccb" stroke="#c29a64" stroke-width="0.9" stroke-linejoin="round"/><path d="M683.6,1043.5 L685.7,1045.8 L695.7,1043.6 L698.4,1034.1 L688.7,1030.5Z" fill="#f6efe5" stroke="#d8bd92" stroke-width="0.9" stroke-linejoin="round"/><path d="M570.0,916.7 L567.6,923.8 L555.7,927.0 L550.7,924.0 L551.1,917.2 L558.3,911.1Z" fill="#f0e4d5" stroke="#d8bd92" stroke-width="0.9" stroke-linejoin="round"/><path d="M701.3,907.4 L708.6,911.5 L712.4,925.4 L712.3,925.6 L701.9,925.2 L696.1,912.2 L700.9,907.5Z" fill="#ecdeca" stroke="#d8bd92" stroke-width="0.8" stroke-linejoin="round"/><path d="M535.9,1012.8 L550.2,1021.3 L550.4,1022.7 L544.4,1034.2 L543.0,1035.1 L532.8,1023.9 L534.7,1013.6Z" fill="#f4ebdf" stroke="#d8bd92" stroke-width="0.9" stroke-linejoin="round"/><path d="M641.4,971.7 L627.1,977.4 L623.9,976.2 L621.0,969.0 L624.8,962.1 L640.7,964.5Z" fill="#f4ebdf" stroke="#c29a64" stroke-width="1.0" stroke-linejoin="round"/><path d="M536.3,863.1 L545.9,871.7 L549.2,871.9 L553.5,868.8 L552.6,860.5 L538.9,855.0Z" fill="#e8d6c2" stroke="#d8bd92" stroke-width="0.8" stroke-linejoin="round"/><path d="M539.1,909.1 L533.2,911.6 L534.6,923.4 L541.6,927.9 L548.2,924.0 L548.5,917.1Z" fill="#ecdeca" stroke="#d8bd92" stroke-width="0.8" stroke-linejoin="round"/><path d="M704.6,871.7 L704.6,859.6 L719.6,859.6 L720.7,860.7 L710.7,875.2Z" fill="#f6efe5" stroke="#c29a64" stroke-width="1.0" stroke-linejoin="round"/><path d="M671.0,965.0 L676.6,972.3 L670.5,981.3 L658.6,981.9 L655.9,979.2 L661.5,966.5Z" fill="#f0e4d5" stroke="#c29a64" stroke-width="0.8" stroke-linejoin="round"/><path d="M536.6,1011.7 L550.9,1020.2 L558.0,1010.2 L549.9,999.9 L537.9,1008.9Z" fill="#f4ebdf" stroke="#c29a64" stroke-width="0.9" stroke-linejoin="round"/><path d="M572.7,981.6 L562.9,977.6 L552.6,983.5 L552.0,992.9 L567.4,990.8 L572.4,985.5Z" fill="#f0e4d5" stroke="#c29a64" stroke-width="0.9" stroke-linejoin="round"/><path d="M735.4,955.0 L741.8,951.1 L745.4,941.8 L741.5,938.2 L729.6,939.2 L725.3,943.3 L725.2,943.8 L731.3,954.3Z" fill="#ecdeca" stroke="#c29a64" stroke-width="1.1" stroke-linejoin="round"/><path d="M620.8,1101.4 L625.6,1105.8 L626.0,1108.5 L615.6,1121.0 L605.8,1110.8 L605.7,1107.9 L619.4,1100.9Z" fill="#f0e4d5" stroke="#c29a64" stroke-width="0.7" stroke-linejoin="round"/><path d="M730.8,890.8 L735.9,896.5 L746.2,896.1 L752.6,889.8 L742.0,880.4 L737.3,881.4Z" fill="#f6efe5" stroke="#d8bd92" stroke-width="0.7" stroke-linejoin="round"/><path d="M510.4,945.6 L510.3,945.7 L505.7,947.9 L491.7,945.3 L490.8,943.6 L490.9,937.7 L502.2,930.6 L509.8,934.2Z" fill="#e8d6c2" stroke="#d8bd92" stroke-width="0.9" stroke-linejoin="round"/><path d="M572.3,951.6 L573.1,938.2 L574.8,936.2 L582.8,936.3 L585.2,951.5Z" fill="#f0e4d5" stroke="#d8bd92" stroke-width="0.7" stroke-linejoin="round"/><path d="M541.9,1074.5 L553.4,1069.1 L555.1,1072.6 L552.1,1084.7 L547.6,1086.0 L542.3,1082.9Z" fill="#f0e4d5" stroke="#c29a64" stroke-width="1.1" stroke-linejoin="round"/><path d="M626.2,1066.0 L631.1,1075.9 L644.5,1069.9 L635.2,1058.6 L629.1,1058.5Z" fill="#ecdccb" stroke="#c29a64" stroke-width="1.1" stroke-linejoin="round"/><path d="M516.0,1109.5 L513.8,1113.1 L514.1,1118.6 L519.4,1123.7 L527.1,1121.5 L523.8,1110.0Z" fill="#f0e4d5" stroke="#c29a64" stroke-width="1.0" stroke-linejoin="round"/><path d="M622.6,1041.5 L630.0,1038.1 L631.9,1032.6 L627.3,1023.4 L618.5,1024.3 L614.5,1030.6 L618.0,1039.6Z" fill="#ecdeca" stroke="#c29a64" stroke-width="0.8" stroke-linejoin="round"/><path d="M655.0,1058.1 L650.6,1070.1 L650.5,1070.2 L645.1,1068.8 L636.2,1058.0 L643.2,1047.7 L645.5,1047.2Z" fill="#e8d6c2" stroke="#c29a64" stroke-width="1.0" stroke-linejoin="round"/><path d="M725.7,1116.8 L733.0,1111.5 L743.7,1119.9 L733.0,1131.3 L725.8,1124.9 L725.2,1117.8Z" fill="#f4ebdf" stroke="#9a6a36" stroke-width="1.2" stroke-linejoin="round"/><path d="M621.5,856.4 L636.0,852.9 L638.1,860.8 L629.0,867.0 L623.7,865.4Z" fill="#ecdccb" stroke="#9a6a36" stroke-width="1.3" stroke-linejoin="round"/><path d="M530.9,986.4 L549.4,992.9 L549.7,992.5 L550.3,983.3 L544.8,975.8 L534.8,977.7Z" fill="#f6efe5" stroke="#9a6a36" stroke-width="1.3" stroke-linejoin="round"/><path d="M715.4,1104.1 L722.8,1095.1 L732.7,1107.9 L732.3,1110.2 L724.7,1115.7Z" fill="#ecdeca" stroke="#c29a64" stroke-width="0.8" stroke-linejoin="round"/><path d="M572.0,917.3 L569.6,924.6 L574.8,934.1 L582.9,934.2 L583.6,933.7 L588.8,919.9 L586.2,917.0 L576.2,914.9Z" fill="#f4ebdf" stroke="#d8bd92" stroke-width="1.0" stroke-linejoin="round"/><path d="M533.6,889.2 L540.3,893.3 L541.8,896.1 L538.7,907.6 L532.5,910.2 L526.0,909.1 L522.4,899.7Z" fill="#e8d6c2" stroke="#c29a64" stroke-width="0.7" stroke-linejoin="round"/><path d="M677.6,993.7 L670.4,982.6 L658.9,983.2 L658.2,992.6 L665.3,999.3 L677.5,994.3Z" fill="#f4ebdf" stroke="#d8bd92" stroke-width="1.0" stroke-linejoin="round"/><path d="M605.0,958.7 L597.2,963.7 L590.4,962.9 L587.7,953.0 L599.1,947.1 L606.8,954.0Z" fill="#ecdccb" stroke="#d8bd92" stroke-width="0.8" stroke-linejoin="round"/><path d="M673.7,1061.9 L664.6,1054.9 L656.8,1058.7 L652.3,1070.9 L659.8,1074.2 L672.6,1068.5Z" fill="#ecdccb" stroke="#d8bd92" stroke-width="0.9" stroke-linejoin="round"/><path d="M623.5,1079.8 L613.1,1070.8 L608.8,1085.8 L613.8,1088.3Z" fill="#f6efe5" stroke="#9a6a36" stroke-width="1.0" stroke-linejoin="round"/><path d="M496.2,915.9 L478.5,920.9 L388.0,899.8 L396.7,899.1 L493.7,902.4 L498.5,912.7Z" fill="#ecdccb" stroke="#c29a64" stroke-width="0.8" stroke-linejoin="round"/><path d="M644.4,1000.7 L638.8,990.3 L631.7,990.3 L626.6,995.3 L630.0,1003.6 L640.4,1004.3Z" fill="#f0e4d5" stroke="#c29a64" stroke-width="0.9" stroke-linejoin="round"/><path d="M570.6,895.9 L575.0,884.7 L576.9,884.1 L583.2,887.1 L584.9,895.9 L574.8,899.5Z" fill="#e8d6c2" stroke="#d8bd92" stroke-width="0.7" stroke-linejoin="round"/><path d="M719.8,1017.8 L728.2,1012.9 L726.9,1005.8 L722.5,1002.4 L712.5,1006.9Z" fill="#f4ebdf" stroke="#d8bd92" stroke-width="0.8" stroke-linejoin="round"/><path d="M722.7,1092.5 L712.2,1086.0 L711.7,1084.0 L723.1,1069.8 L726.6,1072.3 L729.5,1087.0Z" fill="#f4ebdf" stroke="#d8bd92" stroke-width="0.8" stroke-linejoin="round"/><path d="M513.5,898.0 L506.9,911.4 L517.3,916.8 L524.7,909.3 L521.3,900.4Z" fill="#ecdeca" stroke="#d8bd92" stroke-width="0.9" stroke-linejoin="round"/><path d="M569.1,897.5 L561.6,898.3 L559.2,900.3 L559.2,909.4 L570.8,915.0 L574.8,912.7 L573.3,901.2Z" fill="#ecdeca" stroke="#c29a64" stroke-width="1.1" stroke-linejoin="round"/><path d="M607.7,1045.7 L596.3,1036.7 L598.1,1031.1 L600.0,1029.2 L612.6,1031.5 L615.9,1040.2Z" fill="#ecdeca" stroke="#c29a64" stroke-width="0.9" stroke-linejoin="round"/><path d="M571.9,1063.5 L569.3,1060.3 L579.6,1050.6 L584.2,1053.4 L583.3,1065.2Z" fill="#f4ebdf" stroke="#c29a64" stroke-width="0.8" stroke-linejoin="round"/><path d="M742.8,996.8 L755.0,991.1 L759.1,996.3 L753.6,1006.7 L745.3,1004.0 L742.5,998.7Z" fill="#ecdeca" stroke="#c29a64" stroke-width="1.1" stroke-linejoin="round"/><path d="M518.3,872.4 L520.6,880.6 L531.2,883.2 L531.9,881.4 L529.6,867.7 L522.3,866.3Z" fill="#ecdeca" stroke="#9a6a36" stroke-width="1.2" stroke-linejoin="round"/><path d="M768.4,1083.0 L769.5,1082.6 L795.9,1097.2 L795.9,1097.2 L763.5,1099.9 L760.3,1093.4Z" fill="#ecdccb" stroke="#9a6a36" stroke-width="1.3" stroke-linejoin="round"/><path d="M501.8,1011.5 L506.7,1017.8 L492.0,1026.4 L491.6,1026.1 L489.9,1015.7 L493.0,1012.1Z" fill="#f0e4d5" stroke="#d8bd92" stroke-width="0.9" stroke-linejoin="round"/><path d="M755.9,977.7 L769.0,967.3 L769.0,967.1 L761.1,957.6 L755.1,960.8 L749.5,972.0 L750.1,973.6Z" fill="#ecdeca" stroke="#d8bd92" stroke-width="0.9" stroke-linejoin="round"/><path d="M557.0,900.3 L543.2,897.1 L540.4,907.7 L549.6,915.5 L556.9,909.4Z" fill="#e8d6c2" stroke="#c29a64" stroke-width="0.8" stroke-linejoin="round"/><path d="M546.0,1035.0 L551.9,1023.6 L564.0,1028.8 L559.8,1037.8Z" fill="#f6efe5" stroke="#c29a64" stroke-width="1.1" stroke-linejoin="round"/><path d="M691.7,895.1 L681.6,899.7 L681.8,904.8 L690.0,911.7 L694.5,910.4 L698.9,906.0Z" fill="#ecdeca" stroke="#9a6a36" stroke-width="1.3" stroke-linejoin="round"/><path d="M704.8,1092.1 L710.8,1086.3 L710.4,1084.3 L703.4,1078.3 L699.2,1078.5 L692.9,1087.4 L692.8,1088.5 L698.2,1092.5Z" fill="#f0e4d5" stroke="#c29a64" stroke-width="0.8" stroke-linejoin="round"/><path d="M553.8,963.9 L549.9,964.6 L545.8,974.6 L551.8,982.7 L562.6,976.5 L558.7,966.1Z" fill="#ecdccb" stroke="#d8bd92" stroke-width="0.7" stroke-linejoin="round"/><path d="M646.1,977.8 L639.0,989.2 L631.6,989.2 L627.4,978.0 L641.7,972.4Z" fill="#f4ebdf" stroke="#d8bd92" stroke-width="0.7" stroke-linejoin="round"/><path d="M757.1,980.9 L771.7,984.0 L776.1,979.6 L769.8,967.8 L756.1,978.7Z" fill="#f6efe5" stroke="#d8bd92" stroke-width="0.9" stroke-linejoin="round"/><path d="M534.3,1010.4 L535.5,1007.7 L528.3,993.6 L519.7,1005.4 L520.7,1008.6 L533.1,1011.2Z" fill="#f4ebdf" stroke="#c29a64" stroke-width="0.7" stroke-linejoin="round"/><path d="M707.0,1118.2 L707.8,1126.6 L713.6,1130.9 L723.8,1125.0 L723.3,1118.0Z" fill="#ecdccb" stroke="#9a6a36" stroke-width="1.2" stroke-linejoin="round"/><path d="M607.0,854.4 L609.1,868.5 L617.4,870.9 L622.8,865.6 L620.7,856.6 L611.4,848.7Z" fill="#e8d6c2" stroke="#d8bd92" stroke-width="0.8" stroke-linejoin="round"/><path d="M623.7,924.5 L618.9,937.0 L618.4,937.2 L606.1,932.6 L605.8,931.4 L610.5,921.5 L621.6,920.9Z" fill="#f0e4d5" stroke="#d8bd92" stroke-width="0.9" stroke-linejoin="round"/><path d="M519.1,1137.5 L512.5,1153.2 L502.0,1138.6 L504.6,1134.6 L516.4,1134.3Z" fill="#f0e4d5" stroke="#c29a64" stroke-width="0.8" stroke-linejoin="round"/><path d="M585.0,997.7 L573.8,986.5 L568.7,991.9 L571.0,1010.1 L572.2,1010.8 L573.9,1010.8Z" fill="#f4ebdf" stroke="#9a6a36" stroke-width="1.2" stroke-linejoin="round"/><path d="M675.1,1042.2 L667.2,1046.4 L665.1,1053.9 L674.4,1061.0 L683.3,1056.9 L684.3,1055.4 L684.5,1047.0 L682.4,1044.6Z" fill="#ecdeca" stroke="#c29a64" stroke-width="1.0" stroke-linejoin="round"/><path d="M499.7,1096.5 L498.7,1096.7 L495.2,1087.9 L499.2,1077.8 L509.1,1079.5 L508.7,1090.4Z" fill="#e8d6c2" stroke="#9a6a36" stroke-width="1.2" stroke-linejoin="round"/><path d="M760.0,1061.4 L763.6,1061.8 L770.8,1055.6 L771.2,1047.3 L765.6,1041.9 L765.5,1041.9 L757.2,1052.2Z" fill="#f6efe5" stroke="#d8bd92" stroke-width="0.9" stroke-linejoin="round"/><path d="M690.4,979.8 L678.8,972.2 L691.6,961.8 L695.5,974.3Z" fill="#f0e4d5" stroke="#c29a64" stroke-width="0.9" stroke-linejoin="round"/><path d="M584.4,1065.9 L596.4,1064.7 L595.8,1055.3 L592.1,1052.6 L584.9,1053.5 L583.9,1065.2Z" fill="#f4ebdf" stroke="#c29a64" stroke-width="1.1" stroke-linejoin="round"/><path d="M518.0,1046.9 L511.4,1048.8 L511.4,1061.4 L514.0,1063.6 L528.4,1059.2 L528.1,1055.7Z" fill="#f0e4d5" stroke="#d8bd92" stroke-width="0.8" stroke-linejoin="round"/><path d="M664.5,877.9 L669.7,869.9 L682.3,867.8 L683.2,868.2 L679.3,882.5 L673.8,885.7Z" fill="#ecdeca" stroke="#c29a64" stroke-width="0.8" stroke-linejoin="round"/><path d="M528.8,1088.9 L541.0,1083.0 L540.6,1074.6 L532.9,1070.5 L525.2,1079.5 L528.7,1088.9Z" fill="#f6efe5" stroke="#d8bd92" stroke-width="0.9" stroke-linejoin="round"/><path d="M704.6,1116.3 L692.9,1117.5 L688.6,1108.1 L696.8,1105.0 L705.0,1108.7Z" fill="#ecdeca" stroke="#d8bd92" stroke-width="0.7" stroke-linejoin="round"/><path d="M529.8,1093.3 L528.7,1106.2 L538.7,1109.4 L544.4,1104.3 L544.5,1103.3 L543.5,1101.2Z" fill="#ecdccb" stroke="#d8bd92" stroke-width="0.7" stroke-linejoin="round"/><path d="M579.5,1017.2 L581.9,1024.4 L576.6,1033.7 L567.7,1027.5 L572.3,1013.3 L574.0,1013.3Z" fill="#e8d6c2" stroke="#d8bd92" stroke-width="0.8" stroke-linejoin="round"/><path d="M704.7,1051.2 L696.0,1045.1 L686.2,1047.3 L686.0,1055.3 L701.0,1058.9 L701.6,1058.7Z" fill="#f6efe5" stroke="#d8bd92" stroke-width="1.0" stroke-linejoin="round"/><path d="M719.9,881.3 L713.4,879.7 L712.0,875.5 L721.2,862.0 L727.0,863.6 L727.6,872.4Z" fill="#f4ebdf" stroke="#d8bd92" stroke-width="0.7" stroke-linejoin="round"/><path d="M576.5,1078.1 L578.1,1086.2 L583.1,1088.7 L586.7,1087.0 L588.0,1077.7 L583.4,1074.3Z" fill="#f0e4d5" stroke="#c29a64" stroke-width="1.0" stroke-linejoin="round"/><path d="M658.3,901.5 L655.1,889.2 L645.4,888.5 L639.6,898.2Z" fill="#ecdeca" stroke="#c29a64" stroke-width="1.0" stroke-linejoin="round"/><path d="M533.1,883.9 L533.8,882.1 L545.8,873.2 L549.0,873.3 L549.5,883.3 L541.1,891.6 L534.7,887.8Z" fill="#ecdeca" stroke="#c29a64" stroke-width="0.9" stroke-linejoin="round"/><path d="M695.8,885.6 L695.7,874.6 L704.0,873.0 L709.7,876.2 L711.1,880.5 L706.8,886.1Z" fill="#ecdccb" stroke="#c29a64" stroke-width="0.9" stroke-linejoin="round"/><path d="M533.5,1013.0 L531.5,1023.8 L520.2,1029.0 L514.8,1025.9 L512.5,1019.3 L519.9,1010.2Z" fill="#e8d6c2" stroke="#d8bd92" stroke-width="0.7" stroke-linejoin="round"/><path d="M695.3,912.9 L690.7,914.2 L685.7,921.7 L691.2,932.4 L693.6,932.9 L700.9,925.5Z" fill="#ecdccb" stroke="#c29a64" stroke-width="1.0" stroke-linejoin="round"/><path d="M669.2,1132.2 L660.7,1137.1 L668.6,1149.6 L677.7,1137.2 L676.9,1134.7Z" fill="#ecdccb" stroke="#d8bd92" stroke-width="0.8" stroke-linejoin="round"/><path d="M608.6,1047.2 L617.2,1041.3 L621.9,1043.3 L624.0,1054.0 L612.3,1059.3 L607.3,1051.0Z" fill="#f4ebdf" stroke="#d8bd92" stroke-width="0.8" stroke-linejoin="round"/><path d="M687.1,1006.5 L683.3,1004.5 L669.0,1015.0 L670.1,1017.3 L686.6,1019.0 L691.0,1013.3Z" fill="#ecdeca" stroke="#9a6a36" stroke-width="1.0" stroke-linejoin="round"/><path d="M721.6,1030.3 L735.3,1026.2 L738.4,1029.9 L735.8,1046.7 L731.1,1045.2 L721.5,1030.6Z" fill="#f6efe5" stroke="#d8bd92" stroke-width="0.8" stroke-linejoin="round"/><path d="M711.7,1005.8 L722.2,1001.1 L722.2,993.4 L712.9,985.8 L712.4,985.7 L705.5,992.6 L710.0,1005.5Z" fill="#f0e4d5" stroke="#c29a64" stroke-width="1.0" stroke-linejoin="round"/><path d="M609.1,891.2 L601.0,894.0 L594.9,882.0 L597.0,876.5 L601.7,876.2 L610.8,886.6Z" fill="#f0e4d5" stroke="#d8bd92" stroke-width="0.8" stroke-linejoin="round"/><path d="M634.1,878.2 L629.4,867.5 L638.4,861.4 L644.0,865.2 L641.1,877.3Z" fill="#f4ebdf" stroke="#d8bd92" stroke-width="0.9" stroke-linejoin="round"/><path d="M762.4,910.8 L762.8,915.6 L770.1,921.0 L783.4,911.8 L772.4,904.6 L763.9,908.3Z" fill="#f0e4d5" stroke="#d8bd92" stroke-width="0.7" stroke-linejoin="round"/><path d="M688.5,1069.9 L682.1,1074.9 L680.1,1075.0 L674.3,1068.7 L675.4,1062.4 L683.7,1058.5Z" fill="#f0e4d5" stroke="#d8bd92" stroke-width="1.0" stroke-linejoin="round"/><path d="M736.3,956.3 L742.6,952.5 L753.6,960.0 L748.0,971.3 L742.2,968.4Z" fill="#e8d6c2" stroke="#d8bd92" stroke-width="0.9" stroke-linejoin="round"/><path d="M518.5,1046.0 L528.9,1055.1 L538.9,1041.5 L522.6,1038.4Z" fill="#f6efe5" stroke="#c29a64" stroke-width="0.7" stroke-linejoin="round"/><path d="M689.7,954.6 L698.2,941.3 L693.2,935.0 L690.8,934.5 L682.5,940.1 L681.0,949.5Z" fill="#f0e4d5" stroke="#c29a64" stroke-width="1.0" stroke-linejoin="round"/><path d="M754.5,1076.2 L758.3,1064.9 L759.9,1063.8 L763.3,1064.1 L769.1,1070.9 L768.7,1080.2 L767.6,1080.6Z" fill="#f6efe5" stroke="#d8bd92" stroke-width="1.0" stroke-linejoin="round"/><path d="M713.6,983.6 L713.1,983.5 L709.8,975.8 L713.9,965.8 L722.1,966.0 L726.9,974.0 L726.7,975.5Z" fill="#e8d6c2" stroke="#9a6a36" stroke-width="1.2" stroke-linejoin="round"/><path d="M510.9,893.7 L497.6,894.2 L495.2,889.1 L502.3,878.0 L511.9,886.7Z" fill="#f4ebdf" stroke="#d8bd92" stroke-width="0.7" stroke-linejoin="round"/><path d="M505.2,949.0 L500.7,962.6 L498.8,963.9 L489.1,962.6 L487.2,960.0 L491.8,946.5Z" fill="#f4ebdf" stroke="#c29a64" stroke-width="0.9" stroke-linejoin="round"/><path d="M757.3,1013.8 L757.0,1020.1 L756.1,1021.0 L740.5,1015.0 L744.9,1004.9 L753.3,1007.7Z" fill="#ecdeca" stroke="#d8bd92" stroke-width="0.9" stroke-linejoin="round"/><path d="M577.2,1141.1 L580.7,1141.9 L588.2,1135.1 L583.3,1126.7 L576.2,1126.6 L573.4,1129.1Z" fill="#ecdeca" stroke="#d8bd92" stroke-width="0.9" stroke-linejoin="round"/><path d="M755.1,1028.3 L757.4,1022.4 L758.3,1021.5 L769.2,1023.5 L772.6,1031.9 L765.6,1040.2 L765.5,1040.2 L756.5,1033.8Z" fill="#ecdeca" stroke="#d8bd92" stroke-width="0.8" stroke-linejoin="round"/><path d="M562.1,1047.7 L566.9,1059.7 L554.7,1065.5 L549.8,1057.8 L550.0,1053.0Z" fill="#f4ebdf" stroke="#c29a64" stroke-width="0.7" stroke-linejoin="round"/><path d="M545.8,1100.2 L546.8,1102.4 L562.7,1095.5 L562.8,1093.3 L562.2,1092.1 L552.5,1086.2 L548.1,1087.5Z" fill="#f0e4d5" stroke="#d8bd92" stroke-width="0.8" stroke-linejoin="round"/><path d="M653.9,957.0 L647.2,955.7 L646.0,956.1 L641.9,964.4 L642.6,971.6 L647.1,977.0 L655.3,979.0 L660.8,966.2Z" fill="#f0e4d5" stroke="#d8bd92" stroke-width="0.8" stroke-linejoin="round"/><path d="M606.3,959.3 L613.9,968.0 L620.3,968.5 L624.0,961.7 L623.4,959.6 L611.2,953.0 L608.3,954.3Z" fill="#f4ebdf" stroke="#c29a64" stroke-width="0.7" stroke-linejoin="round"/><path d="M671.6,922.9 L655.7,923.7 L652.9,931.9 L655.1,935.1 L663.0,937.9 L671.1,932.1 L671.7,923.1Z" fill="#f0e4d5" stroke="#c29a64" stroke-width="0.7" stroke-linejoin="round"/><path d="M606.4,1051.5 L596.8,1055.2 L597.4,1064.5 L599.9,1067.4 L610.1,1066.8 L611.5,1059.8Z" fill="#f6efe5" stroke="#d8bd92" stroke-width="0.8" stroke-linejoin="round"/><path d="M745.7,870.6 L742.7,879.6 L753.3,889.0 L754.4,888.9 L754.7,888.7 L757.7,870.5 L750.1,868.8Z" fill="#e8d6c2" stroke="#d8bd92" stroke-width="0.7" stroke-linejoin="round"/><path d="M632.0,1128.6 L620.5,1128.3 L618.9,1142.4 L635.4,1135.9Z" fill="#ecdeca" stroke="#c29a64" stroke-width="0.7" stroke-linejoin="round"/><path d="M534.3,960.9 L533.1,974.1 L534.1,976.2 L544.8,974.1 L548.9,964.2 L544.0,960.1Z" fill="#f4ebdf" stroke="#d8bd92" stroke-width="0.9" stroke-linejoin="round"/><path d="M569.1,895.7 L573.8,883.8 L565.1,878.8 L559.0,886.4 L561.1,896.5Z" fill="#ecdccb" stroke="#d8bd92" stroke-width="0.7" stroke-linejoin="round"/><path d="M517.4,1045.0 L511.0,1046.8 L508.3,1045.3 L507.7,1033.9 L514.2,1027.5 L519.2,1030.5 L521.2,1037.9Z" fill="#ecdccb" stroke="#c29a64" stroke-width="0.7" stroke-linejoin="round"/><path d="M602.3,1134.8 L615.4,1145.7 L617.5,1142.9 L619.3,1127.7 L615.4,1123.7 L603.0,1131.0Z" fill="#f0e4d5" stroke="#c29a64" stroke-width="0.8" stroke-linejoin="round"/><path d="M561.6,1046.8 L549.8,1052.0 L542.6,1040.9 L544.3,1037.2 L545.7,1036.3 L559.5,1039.2 L562.6,1044.2Z" fill="#f0e4d5" stroke="#c29a64" stroke-width="0.9" stroke-linejoin="round"/><path d="M604.3,979.1 L596.5,984.7 L596.1,995.0 L612.2,993.9 L613.5,992.5 L613.0,985.7 L604.8,979.1Z" fill="#e8d6c2" stroke="#d8bd92" stroke-width="1.0" stroke-linejoin="round"/><path d="M632.6,1127.2 L635.3,1118.2 L626.9,1109.1 L616.4,1121.7 L616.4,1122.8 L620.2,1126.8Z" fill="#e8d6c2" stroke="#c29a64" stroke-width="0.8" stroke-linejoin="round"/><path d="M706.8,1127.9 L697.0,1133.7 L696.7,1139.1 L704.3,1144.0 L712.8,1136.0 L712.6,1132.3Z" fill="#f0e4d5" stroke="#d8bd92" stroke-width="0.9" stroke-linejoin="round"/><path d="M693.0,1070.1 L700.9,1060.0 L685.6,1056.3 L684.7,1057.8 L689.8,1069.6Z" fill="#e8d6c2" stroke="#d8bd92" stroke-width="0.8" stroke-linejoin="round"/><path d="M533.6,960.8 L532.4,974.1 L518.2,966.3 L518.1,966.0 L518.6,964.9 L529.4,957.9Z" fill="#ecdeca" stroke="#d8bd92" stroke-width="0.9" stroke-linejoin="round"/><path d="M630.1,1079.9 L631.8,1076.9 L644.5,1071.3 L649.7,1072.6 L645.9,1085.2 L637.8,1087.8 L632.0,1084.5Z" fill="#e8d6c2" stroke="#c29a64" stroke-width="0.9" stroke-linejoin="round"/><path d="M547.0,1126.9 L541.8,1136.9 L533.0,1137.1 L531.1,1123.5 L538.2,1119.8Z" fill="#e8d6c2" stroke="#d8bd92" stroke-width="0.8" stroke-linejoin="round"/><path d="M755.7,1035.1 L764.6,1041.4 L756.5,1051.5 L746.3,1046.1Z" fill="#f6efe5" stroke="#c29a64" stroke-width="0.7" stroke-linejoin="round"/><path d="M503.6,978.1 L499.9,965.3 L501.8,964.1 L516.4,966.4 L516.4,966.7 L512.9,977.2 L505.3,978.7Z" fill="#f0e4d5" stroke="#c29a64" stroke-width="1.0" stroke-linejoin="round"/><path d="M628.7,945.8 L619.7,939.9 L619.2,940.1 L612.2,952.4 L623.4,958.4Z" fill="#ecdeca" stroke="#c29a64" stroke-width="0.9" stroke-linejoin="round"/><path d="M607.5,1046.8 L595.1,1037.1 L594.8,1037.4 L592.6,1051.8 L596.4,1054.5 L606.2,1050.7Z" fill="#f4ebdf" stroke="#c29a64" stroke-width="0.8" stroke-linejoin="round"/><path d="M680.9,1095.9 L681.8,1105.0 L664.9,1107.3 L664.5,1106.8 L669.4,1090.6 L672.5,1090.4Z" fill="#f4ebdf" stroke="#c29a64" stroke-width="1.0" stroke-linejoin="round"/><path d="M645.6,954.7 L634.7,944.8 L642.0,932.8 L651.4,932.7 L653.7,936.1 L646.7,954.3Z" fill="#ecdccb" stroke="#c29a64" stroke-width="0.7" stroke-linejoin="round"/><path d="M625.4,924.8 L620.2,938.1 L630.0,944.4 L633.9,944.4 L641.3,932.3 L635.1,925.4Z" fill="#ecdeca" stroke="#9a6a36" stroke-width="1.3" stroke-linejoin="round"/><path d="M599.5,894.8 L598.4,896.4 L591.6,898.7 L586.6,895.6 L584.9,886.8 L593.4,882.8Z" fill="#ecdeca" stroke="#d8bd92" stroke-width="0.8" stroke-linejoin="round"/><path d="M546.1,1105.7 L556.8,1116.6 L555.7,1123.5 L547.9,1125.9 L539.1,1118.7 L540.1,1111.0Z" fill="#f4ebdf" stroke="#d8bd92" stroke-width="0.8" stroke-linejoin="round"/><path d="M704.5,991.7 L711.4,984.7 L707.9,976.4 L696.9,975.2 L691.3,981.1 L691.3,983.6 L699.7,991.7Z" fill="#f6efe5" stroke="#c29a64" stroke-width="0.9" stroke-linejoin="round"/><path d="M585.4,934.3 L599.0,938.4 L604.1,933.2 L603.8,931.9 L591.2,920.7 L590.6,920.6Z" fill="#ecdeca" stroke="#c29a64" stroke-width="0.9" stroke-linejoin="round"/><path d="M673.1,921.3 L671.4,911.8 L680.5,906.2 L689.0,913.2 L684.1,920.6 L673.3,921.5Z" fill="#ecdeca" stroke="#9a6a36" stroke-width="1.4" stroke-linejoin="round"/><path d="M658.9,877.6 L642.5,877.9 L641.9,877.5 L644.8,865.4 L651.5,863.8Z" fill="#f0e4d5" stroke="#d8bd92" stroke-width="1.0" stroke-linejoin="round"/><path d="M647.5,1116.0 L653.3,1124.2 L664.9,1117.4 L663.1,1109.1 L662.7,1108.6 L652.1,1106.9Z" fill="#e8d6c2" stroke="#9a6a36" stroke-width="1.2" stroke-linejoin="round"/><path d="M611.4,892.1 L617.8,898.9 L629.6,892.8 L627.6,885.1 L619.7,883.0 L613.2,887.4Z" fill="#ecdeca" stroke="#9a6a36" stroke-width="1.3" stroke-linejoin="round"/><path d="M692.1,888.6 L680.2,884.0 L674.6,887.3 L674.2,892.3 L680.8,898.6 L691.4,893.8Z" fill="#f4ebdf" stroke="#9a6a36" stroke-width="1.0" stroke-linejoin="round"/><path d="M527.0,1089.7 L518.1,1093.5 L509.6,1090.3 L510.0,1079.6 L514.7,1076.6 L523.5,1080.1Z" fill="#f0e4d5" stroke="#d8bd92" stroke-width="0.9" stroke-linejoin="round"/><path d="M605.9,960.4 L612.9,968.5 L605.1,976.8 L604.6,976.8 L598.5,965.2Z" fill="#e8d6c2" stroke="#c29a64" stroke-width="0.7" stroke-linejoin="round"/><path d="M590.8,918.0 L591.4,918.1 L603.3,912.9 L604.5,910.3 L599.3,898.5 L592.3,900.9 L588.3,915.2Z" fill="#ecdccb" stroke="#c29a64" stroke-width="0.9" stroke-linejoin="round"/><path d="M567.7,992.2 L570.0,1010.1 L559.5,1009.1 L551.3,998.7 L551.7,994.8 L552.0,994.4Z" fill="#f0e4d5" stroke="#c29a64" stroke-width="1.1" stroke-linejoin="round"/><path d="M704.3,1022.1 L717.9,1023.0 L720.5,1029.9 L720.4,1030.2 L711.7,1036.4 L703.4,1031.4Z" fill="#f0e4d5" stroke="#d8bd92" stroke-width="0.8" stroke-linejoin="round"/><path d="M493.9,889.9 L496.2,894.6 L493.5,900.9 L401.0,897.9 L482.5,886.2Z" fill="#ecdeca" stroke="#d8bd92" stroke-width="0.9" stroke-linejoin="round"/><path d="M553.8,860.3 L559.0,853.8 L570.8,857.4 L573.5,862.0 L562.8,871.7 L554.6,868.8Z" fill="#f6efe5" stroke="#d8bd92" stroke-width="0.9" stroke-linejoin="round"/><path d="M575.4,901.0 L585.4,897.4 L590.5,900.6 L586.6,914.4 L576.8,912.4Z" fill="#f0e4d5" stroke="#d8bd92" stroke-width="0.8" stroke-linejoin="round"/><path d="M593.5,998.0 L597.8,1012.5 L580.5,1015.7 L574.7,1011.7 L585.9,998.3Z" fill="#ecdccb" stroke="#c29a64" stroke-width="1.0" stroke-linejoin="round"/><path d="M703.0,1032.6 L699.6,1034.6 L696.9,1043.8 L705.5,1049.9 L710.9,1047.4 L710.8,1037.3Z" fill="#e8d6c2" stroke="#c29a64" stroke-width="0.9" stroke-linejoin="round"/><path d="M615.2,994.1 L613.9,995.5 L613.9,1009.7 L626.1,1007.9 L628.7,1004.1 L625.3,995.9Z" fill="#ecdccb" stroke="#d8bd92" stroke-width="0.8" stroke-linejoin="round"/><path d="M734.8,986.2 L728.7,975.9 L729.0,974.3 L741.3,970.1 L747.0,973.0 L747.6,974.5 L736.0,986.5Z" fill="#f6efe5" stroke="#9a6a36" stroke-width="1.1" stroke-linejoin="round"/><path d="M709.9,896.7 L718.5,898.7 L720.1,907.3 L709.5,910.0 L702.5,906.1Z" fill="#e8d6c2" stroke="#d8bd92" stroke-width="0.8" stroke-linejoin="round"/><path d="M651.7,1073.5 L647.9,1085.8 L652.1,1093.2 L665.6,1088.0 L658.9,1076.5 L651.8,1073.4Z" fill="#f6efe5" stroke="#c29a64" stroke-width="1.0" stroke-linejoin="round"/><path d="M648.0,1024.5 L659.9,1031.2 L658.9,1039.2 L648.4,1041.8 L646.0,1028.1Z" fill="#f6efe5" stroke="#c29a64" stroke-width="1.0" stroke-linejoin="round"/><path d="M646.8,1024.0 L646.7,1023.5 L640.7,1017.9 L630.4,1019.7 L628.2,1022.8 L633.0,1032.1 L644.8,1027.6Z" fill="#ecdccb" stroke="#c29a64" stroke-width="0.8" stroke-linejoin="round"/><path d="M610.0,893.4 L616.4,900.2 L616.9,906.1 L605.7,909.8 L600.5,898.0 L601.7,896.3Z" fill="#e8d6c2" stroke="#c29a64" stroke-width="1.1" stroke-linejoin="round"/><path d="M744.6,1120.7 L733.8,1132.1 L734.4,1134.8 L749.1,1136.3 L752.4,1126.4 L746.4,1120.7Z" fill="#ecdeca" stroke="#d8bd92" stroke-width="0.9" stroke-linejoin="round"/><path d="M569.7,961.7 L559.5,965.8 L563.4,976.3 L573.7,980.6 L580.4,973.3 L580.5,973.2Z" fill="#ecdeca" stroke="#d8bd92" stroke-width="1.0" stroke-linejoin="round"/><path d="M611.8,1070.6 L611.8,1070.7 L607.7,1085.1 L603.0,1085.7 L597.9,1075.5 L600.2,1069.0 L609.9,1068.5Z" fill="#ecdccb" stroke="#9a6a36" stroke-width="1.1" stroke-linejoin="round"/><path d="M573.4,934.9 L571.6,936.9 L559.1,939.2 L555.9,928.5 L568.1,925.3Z" fill="#ecdeca" stroke="#d8bd92" stroke-width="0.9" stroke-linejoin="round"/><path d="M553.4,962.0 L549.8,962.6 L545.2,958.8 L545.1,946.2 L555.8,945.4 L558.0,949.6Z" fill="#f6efe5" stroke="#d8bd92" stroke-width="0.9" stroke-linejoin="round"/><path d="M672.5,953.1 L670.6,964.1 L661.4,965.6 L654.8,956.7 L666.4,950.2Z" fill="#f4ebdf" stroke="#d8bd92" stroke-width="0.7" stroke-linejoin="round"/><path d="M628.4,1078.9 L630.1,1075.9 L625.6,1066.6 L613.8,1070.0 L613.8,1070.2 L624.1,1079.0Z" fill="#f6efe5" stroke="#d8bd92" stroke-width="0.8" stroke-linejoin="round"/><path d="M711.9,1049.0 L706.1,1051.6 L702.9,1059.5 L708.7,1066.3 L720.7,1066.9 L714.9,1050.2Z" fill="#f6efe5" stroke="#c29a64" stroke-width="0.9" stroke-linejoin="round"/><path d="M686.0,1025.8 L686.8,1020.1 L669.6,1018.3 L669.4,1026.1 L673.5,1030.1Z" fill="#f4ebdf" stroke="#c29a64" stroke-width="0.9" stroke-linejoin="round"/><path d="M623.6,977.5 L615.0,985.5 L615.5,992.5 L625.6,994.3 L630.7,989.2 L626.7,978.6Z" fill="#f0e4d5" stroke="#d8bd92" stroke-width="0.9" stroke-linejoin="round"/><path d="M668.0,1014.1 L664.3,1011.6 L665.9,1000.4 L677.8,995.5 L682.8,1003.3Z" fill="#f4ebdf" stroke="#c29a64" stroke-width="0.8" stroke-linejoin="round"/><path d="M747.5,1119.4 L753.6,1125.2 L757.2,1124.9 L764.6,1116.7 L759.8,1106.9 L753.0,1109.1Z" fill="#e8d6c2" stroke="#d8bd92" stroke-width="0.8" stroke-linejoin="round"/><path d="M752.7,1075.7 L756.6,1064.2 L743.6,1062.6 L740.2,1070.2 L747.8,1079.2Z" fill="#f6efe5" stroke="#9a6a36" stroke-width="1.3" stroke-linejoin="round"/><path d="M764.7,996.3 L760.3,995.2 L756.4,990.3 L757.6,982.2 L771.0,985.0 L771.3,992.2Z" fill="#f4ebdf" stroke="#9a6a36" stroke-width="1.2" stroke-linejoin="round"/><path d="M583.6,1090.1 L587.4,1088.3 L598.4,1091.0 L597.5,1101.9 L585.6,1105.7 L583.1,1101.3Z" fill="#f4ebdf" stroke="#d8bd92" stroke-width="0.9" stroke-linejoin="round"/><path d="M494.5,1057.3 L498.9,1063.5 L510.2,1061.5 L510.2,1048.6 L507.3,1046.9 L505.3,1047.1Z" fill="#e8d6c2" stroke="#d8bd92" stroke-width="0.8" stroke-linejoin="round"/><path d="M736.4,1048.7 L742.5,1061.8 L739.0,1069.9 L727.3,1071.4 L723.8,1068.8 L723.5,1068.2 L736.4,1048.7Z" fill="#f0e4d5" stroke="#c29a64" stroke-width="1.0" stroke-linejoin="round"/><path d="M490.7,1056.9 L479.4,1061.9 L489.5,1072.6 L495.3,1072.2 L497.8,1064.1 L493.5,1058.1Z" fill="#e8d6c2" stroke="#c29a64" stroke-width="0.7" stroke-linejoin="round"/><path d="M734.3,988.3 L723.7,993.5 L723.6,1001.0 L728.0,1004.4 L740.7,998.5 L740.9,996.6 L735.5,988.6Z" fill="#f4ebdf" stroke="#d8bd92" stroke-width="0.9" stroke-linejoin="round"/><path d="M722.9,942.9 L713.4,933.1 L704.4,942.0 L710.3,950.1 L722.8,943.4Z" fill="#ecdeca" stroke="#c29a64" stroke-width="0.9" stroke-linejoin="round"/><path d="M518.5,918.0 L519.8,925.8 L521.1,926.3 L533.5,923.6 L532.1,911.6 L526.0,910.5Z" fill="#ecdccb" stroke="#d8bd92" stroke-width="1.0" stroke-linejoin="round"/><path d="M636.3,899.4 L630.2,894.2 L618.5,900.1 L619.0,905.9 L623.4,910.6 L635.0,904.8Z" fill="#f4ebdf" stroke="#9a6a36" stroke-width="1.2" stroke-linejoin="round"/><path d="M505.1,1045.9 L507.1,1045.7 L506.5,1033.7 L494.1,1031.7 L492.8,1040.0Z" fill="#f6efe5" stroke="#c29a64" stroke-width="1.0" stroke-linejoin="round"/><path d="M755.6,888.7 L767.9,887.6 L769.6,873.9 L764.6,868.0 L758.6,870.7Z" fill="#ecdccb" stroke="#9a6a36" stroke-width="1.3" stroke-linejoin="round"/><path d="M708.4,1104.5 L704.8,1093.6 L698.5,1093.9 L697.5,1103.6 L705.6,1107.2Z" fill="#f0e4d5" stroke="#c29a64" stroke-width="0.9" stroke-linejoin="round"/><path d="M570.9,1074.9 L565.7,1076.6 L557.0,1071.7 L555.4,1068.3 L555.6,1066.8 L567.4,1061.2 L568.4,1061.4 L570.9,1064.4Z" fill="#f0e4d5" stroke="#d8bd92" stroke-width="0.8" stroke-linejoin="round"/><path d="M565.9,1098.3 L566.6,1110.2 L574.1,1112.9 L584.2,1106.4 L584.2,1106.3 L581.7,1102.0Z" fill="#f6efe5" stroke="#d8bd92" stroke-width="0.8" stroke-linejoin="round"/><path d="M527.4,1122.8 L529.9,1123.7 L531.7,1137.2 L531.5,1137.3 L520.6,1136.4 L517.8,1133.0 L519.7,1125.0Z" fill="#f4ebdf" stroke="#c29a64" stroke-width="1.1" stroke-linejoin="round"/><path d="M732.4,860.9 L745.2,869.4 L749.6,867.6 L746.9,841.6Z" fill="#f4ebdf" stroke="#c29a64" stroke-width="0.9" stroke-linejoin="round"/><path d="M699.5,1013.0 L693.6,1011.9 L689.7,1005.0 L699.7,993.4 L704.3,993.4 L708.6,1005.7Z" fill="#e8d6c2" stroke="#d8bd92" stroke-width="0.9" stroke-linejoin="round"/><path d="M578.5,1050.1 L568.9,1059.1 L567.9,1058.9 L563.4,1047.5 L564.3,1045.0 L576.3,1043.0Z" fill="#e8d6c2" stroke="#c29a64" stroke-width="0.9" stroke-linejoin="round"/><path d="M518.5,1005.3 L510.0,997.7 L521.5,986.5 L528.2,987.7 L527.9,992.5Z" fill="#e8d6c2" stroke="#9a6a36" stroke-width="1.3" stroke-linejoin="round"/><path d="M623.1,1043.0 L630.7,1039.6 L642.3,1046.9 L635.1,1057.4 L629.1,1057.4 L625.2,1053.8Z" fill="#f0e4d5" stroke="#d8bd92" stroke-width="0.8" stroke-linejoin="round"/><path d="M594.0,1036.5 L594.3,1036.2 L596.2,1030.2 L582.9,1024.7 L577.3,1034.4 L578.6,1039.0Z" fill="#e8d6c2" stroke="#d8bd92" stroke-width="0.7" stroke-linejoin="round"/><path d="M600.6,1134.5 L596.9,1136.5 L588.8,1134.6 L584.1,1126.5 L590.3,1120.7 L596.5,1122.2 L601.4,1130.7Z" fill="#f6efe5" stroke="#c29a64" stroke-width="0.8" stroke-linejoin="round"/><path d="M680.0,1076.5 L673.0,1088.9 L682.0,1094.8 L691.5,1088.6 L691.6,1087.3 L682.2,1076.4Z" fill="#f6efe5" stroke="#c29a64" stroke-width="0.9" stroke-linejoin="round"/><path d="M499.8,870.8 L495.9,870.4 L482.5,884.6 L494.6,888.6 L501.6,877.7 L500.6,871.8Z" fill="#ecdeca" stroke="#d8bd92" stroke-width="0.8" stroke-linejoin="round"/><path d="M764.4,997.8 L759.8,996.7 L754.3,1007.0 L758.3,1013.0 L767.2,1006.5Z" fill="#f6efe5" stroke="#9a6a36" stroke-width="1.3" stroke-linejoin="round"/><path d="M742.9,951.6 L746.6,942.1 L748.7,941.9 L761.7,952.5 L760.6,956.1 L754.3,959.5Z" fill="#ecdccb" stroke="#d8bd92" stroke-width="0.9" stroke-linejoin="round"/><path d="M506.3,949.3 L501.8,963.0 L516.7,965.4 L517.2,964.3 L510.8,947.2Z" fill="#f6efe5" stroke="#d8bd92" stroke-width="0.7" stroke-linejoin="round"/><path d="M537.2,939.2 L540.5,929.3 L533.7,924.9 L521.6,927.5 L532.0,940.9Z" fill="#ecdeca" stroke="#d8bd92" stroke-width="0.9" stroke-linejoin="round"/><path d="M748.7,940.0 L756.5,933.5 L752.2,924.1 L743.4,923.0 L743.1,936.6 L746.7,940.1Z" fill="#f0e4d5" stroke="#c29a64" stroke-width="0.7" stroke-linejoin="round"/><path d="M535.8,864.0 L530.9,867.5 L533.1,881.1 L545.1,872.3Z" fill="#e8d6c2" stroke="#c29a64" stroke-width="1.0" stroke-linejoin="round"/><path d="M496.3,1112.8 L496.2,1120.3 L486.3,1124.2 L482.2,1115.5 L494.5,1109.8Z" fill="#ecdccb" stroke="#d8bd92" stroke-width="0.9" stroke-linejoin="round"/><path d="M536.8,1007.9 L549.3,998.6 L549.7,994.5 L529.8,987.5 L529.3,987.8 L529.1,992.5Z" fill="#f0e4d5" stroke="#c29a64" stroke-width="1.0" stroke-linejoin="round"/><path d="M492.2,997.0 L490.3,998.4 L493.2,1011.0 L501.3,1010.5 L503.0,999.6Z" fill="#f0e4d5" stroke="#c29a64" stroke-width="1.0" stroke-linejoin="round"/><path d="M498.3,1112.8 L498.2,1120.4 L502.9,1125.3 L512.4,1118.6 L512.2,1113.3Z" fill="#f0e4d5" stroke="#9a6a36" stroke-width="1.2" stroke-linejoin="round"/><path d="M596.7,1120.7 L604.0,1110.9 L603.8,1108.1 L597.8,1103.5 L586.4,1107.2 L586.3,1107.3 L590.8,1119.2Z" fill="#f0e4d5" stroke="#c29a64" stroke-width="0.7" stroke-linejoin="round"/><path d="M743.6,1100.1 L752.5,1107.4 L759.0,1105.3 L761.4,1101.0 L758.1,1094.4 L746.7,1089.2 L744.8,1090.6Z" fill="#ecdccb" stroke="#c29a64" stroke-width="0.8" stroke-linejoin="round"/><path d="M708.6,1067.1 L704.0,1077.4 L711.2,1083.6 L722.6,1069.4 L722.3,1068.8 L720.7,1067.7Z" fill="#f6efe5" stroke="#d8bd92" stroke-width="0.8" stroke-linejoin="round"/><path d="M497.8,1077.7 L495.2,1073.9 L489.6,1074.2 L480.2,1083.6 L494.1,1087.2Z" fill="#ecdeca" stroke="#c29a64" stroke-width="1.1" stroke-linejoin="round"/><path d="M687.3,1108.1 L683.1,1106.3 L677.6,1118.7 L684.0,1125.7 L688.6,1124.9 L691.9,1118.3Z" fill="#f4ebdf" stroke="#d8bd92" stroke-width="0.8" stroke-linejoin="round"/><path d="M648.6,1023.9 L648.5,1023.4 L658.8,1013.6 L663.2,1013.2 L666.9,1015.8 L668.1,1018.2 L667.9,1026.1 L660.2,1030.4Z" fill="#f0e4d5" stroke="#9a6a36" stroke-width="1.0" stroke-linejoin="round"/><path d="M647.2,1001.1 L657.3,993.4 L664.5,1000.2 L663.0,1011.5 L658.6,1012.0Z" fill="#ecdccb" stroke="#d8bd92" stroke-width="0.8" stroke-linejoin="round"/><path d="M575.9,1077.0 L582.8,1073.1 L583.4,1066.6 L582.9,1066.0 L572.1,1064.3 L572.1,1075.0Z" fill="#e8d6c2" stroke="#c29a64" stroke-width="0.8" stroke-linejoin="round"/><path d="M659.0,879.1 L658.2,878.6 L643.1,879.0 L645.8,887.6 L654.8,888.2Z" fill="#f4ebdf" stroke="#9a6a36" stroke-width="1.0" stroke-linejoin="round"/><path d="M733.5,907.2 L736.1,897.8 L746.1,897.4 L747.7,907.2 L741.0,914.9Z" fill="#ecdeca" stroke="#c29a64" stroke-width="0.9" stroke-linejoin="round"/><path d="M677.0,1119.5 L683.1,1126.1 L677.4,1133.2 L669.7,1130.7 L669.1,1120.2Z" fill="#f0e4d5" stroke="#c29a64" stroke-width="0.8" stroke-linejoin="round"/><path d="M570.8,952.9 L559.2,949.6 L554.4,962.8 L559.2,965.0 L569.3,961.0Z" fill="#ecdccb" stroke="#c29a64" stroke-width="0.8" stroke-linejoin="round"/><path d="M707.3,1116.9 L723.0,1116.7 L723.4,1115.8 L715.0,1105.1 L710.0,1106.1 L707.3,1108.9 L706.9,1116.4Z" fill="#f6efe5" stroke="#d8bd92" stroke-width="0.9" stroke-linejoin="round"/><path d="M612.0,886.1 L618.9,881.5 L617.1,871.8 L608.9,869.4 L602.4,875.1Z" fill="#ecdccb" stroke="#d8bd92" stroke-width="0.8" stroke-linejoin="round"/><path d="M503.7,1030.7Q502.9,1031.4 501.6,1030.6Q500.4,1029.7 499.8,1028.5Q499.3,1027.3 500.1,1026.0Q500.9,1024.8 502.1,1024.6Q503.3,1024.4 504.2,1025.6Q505.1,1026.7 504.8,1028.3Q504.5,1030.0 503.7,1030.7Z" fill="#e0b3aa" opacity="0.9"/><path d="M581.4,865.8Q579.5,864.6 579.7,862.9Q580.0,861.1 582.5,860.0Q585.1,858.8 586.8,859.3Q588.4,859.8 588.5,861.5Q588.6,863.3 587.5,864.5Q586.4,865.7 584.8,866.4Q583.3,867.0 581.4,865.8Z" fill="#dcaaa2" opacity="0.9"/><path d="M652.1,1049.0Q651.0,1047.9 651.3,1046.8Q651.5,1045.8 652.7,1044.9Q654.0,1044.0 655.3,1044.2Q656.7,1044.5 657.2,1045.6Q657.7,1046.8 656.8,1048.1Q655.8,1049.5 654.5,1049.9Q653.3,1050.2 652.1,1049.0Z" fill="#d8a59c" opacity="0.9"/><path d="M587.3,1026.3Q585.5,1026.2 584.4,1024.8Q583.2,1023.5 583.6,1021.8Q584.0,1020.0 585.7,1019.1Q587.5,1018.1 589.0,1018.4Q590.5,1018.8 590.7,1020.8Q590.9,1022.8 590.0,1024.6Q589.1,1026.4 587.3,1026.3Z" fill="#e0b3aa" opacity="0.9"/><path d="M668.5,906.9Q666.9,906.1 666.8,904.6Q666.7,903.2 667.9,902.3Q669.2,901.4 670.3,901.3Q671.3,901.3 672.6,902.5Q674.0,903.7 672.9,904.9Q671.9,906.2 671.0,907.0Q670.1,907.8 668.5,906.9Z" fill="#dcaaa2" opacity="0.9"/><path d="M507.9,881.4Q506.8,880.9 507.0,879.2Q507.1,877.6 507.7,876.7Q508.2,875.8 509.7,875.5Q511.1,875.2 512.2,875.9Q513.3,876.7 512.9,878.7Q512.5,880.7 510.7,881.3Q508.9,882.0 507.9,881.4Z" fill="#d8a59c" opacity="0.9"/><path d="M562.6,1027.0Q560.9,1027.3 559.1,1025.2Q557.3,1023.1 558.1,1021.5Q558.8,1019.9 560.1,1018.6Q561.3,1017.4 563.3,1017.8Q565.2,1018.2 566.2,1020.0Q567.2,1021.7 565.7,1024.2Q564.2,1026.6 562.6,1027.0Z" fill="#e0b3aa" opacity="0.9"/><path d="M568.8,1087.0Q567.5,1086.7 567.2,1084.6Q566.8,1082.5 567.7,1081.4Q568.6,1080.2 570.0,1080.6Q571.4,1080.9 572.4,1081.7Q573.4,1082.5 573.3,1084.4Q573.2,1086.3 571.6,1086.8Q570.1,1087.4 568.8,1087.0Z" fill="#d8a59c" opacity="0.9"/><path d="M559.7,882.7Q559.1,883.9 557.9,884.0Q556.7,884.2 555.7,883.1Q554.8,881.9 554.7,880.8Q554.5,879.6 555.4,878.8Q556.2,877.9 557.9,878.3Q559.7,878.6 560.0,880.1Q560.4,881.5 559.7,882.7Z" fill="#d8a59c" opacity="0.9"/><path d="M769.3,897.6Q768.6,899.1 766.8,899.6Q765.0,900.1 763.8,898.5Q762.6,897.0 761.8,895.2Q761.0,893.4 762.3,892.3Q763.6,891.2 765.6,891.9Q767.6,892.6 768.8,894.3Q769.9,896.1 769.3,897.6Z" fill="#d8a59c" opacity="0.9"/><path d="M723.6,1133.6Q723.1,1135.6 721.8,1136.2Q720.6,1136.8 719.0,1135.8Q717.5,1134.8 717.2,1133.0Q716.8,1131.1 718.0,1129.7Q719.1,1128.3 721.0,1128.8Q722.9,1129.3 723.5,1130.5Q724.1,1131.6 723.6,1133.6Z" fill="#dcaaa2" opacity="0.9"/><path d="M511.9,1010.1Q510.5,1010.8 509.0,1010.0Q507.5,1009.1 507.3,1008.0Q507.1,1006.8 507.8,1005.6Q508.6,1004.5 510.4,1004.5Q512.3,1004.4 512.7,1005.7Q513.1,1007.0 513.2,1008.3Q513.4,1009.5 511.9,1010.1Z" fill="#dcaaa2" opacity="0.9"/><path d="M606.9,1121.0Q606.5,1122.2 605.7,1122.7Q604.9,1123.2 603.4,1122.3Q602.0,1121.4 601.6,1120.3Q601.2,1119.1 601.9,1118.4Q602.6,1117.6 604.3,1117.7Q606.0,1117.8 606.7,1118.8Q607.3,1119.8 606.9,1121.0Z" fill="#d8a59c" opacity="0.9"/><path d="M751.8,1059.4Q750.6,1059.1 749.9,1058.1Q749.2,1057.2 749.8,1055.6Q750.4,1054.1 751.4,1053.3Q752.4,1052.5 753.6,1053.3Q754.8,1054.0 755.0,1055.4Q755.2,1056.8 754.1,1058.3Q753.1,1059.8 751.8,1059.4Z" fill="#e0b3aa" opacity="0.9"/><path d="M548.4,941.1Q547.6,940.1 547.9,939.2Q548.1,938.3 549.3,937.6Q550.4,936.9 551.6,937.0Q552.8,937.1 553.0,938.2Q553.1,939.3 552.8,940.6Q552.4,942.0 550.8,942.1Q549.2,942.2 548.4,941.1Z" fill="#dcaaa2" opacity="0.9"/><path d="M709.0,1021.1Q707.8,1021.0 707.0,1019.7Q706.1,1018.4 706.3,1017.2Q706.5,1016.0 708.3,1014.9Q710.1,1013.9 710.8,1014.5Q711.4,1015.2 711.8,1016.4Q712.2,1017.6 711.2,1019.3Q710.1,1021.1 709.0,1021.1Z" fill="#dcaaa2" opacity="0.9"/><path d="M551.7,1136.3Q549.9,1135.0 550.4,1133.4Q550.9,1131.8 552.8,1131.0Q554.7,1130.1 556.6,1129.9Q558.5,1129.7 559.4,1131.4Q560.3,1133.1 559.3,1134.9Q558.3,1136.7 555.9,1137.2Q553.5,1137.6 551.7,1136.3Z" fill="#d8a59c" opacity="0.9"/><path d="M718.1,890.8Q718.8,892.2 717.8,893.8Q716.8,895.3 715.3,895.5Q713.8,895.7 712.0,894.6Q710.2,893.6 710.4,892.1Q710.6,890.5 712.3,889.2Q714.1,887.9 715.7,888.6Q717.4,889.4 718.1,890.8Z" fill="#e0b3aa" opacity="0.9"/><path d="M617.3,977.9Q617.7,979.6 616.3,981.0Q614.8,982.4 613.4,982.6Q612.1,982.8 610.2,981.3Q608.3,979.9 608.8,977.6Q609.4,975.2 611.1,974.5Q612.7,973.7 614.8,975.0Q616.9,976.2 617.3,977.9Z" fill="#d8a59c" opacity="0.9"/><path d="M686.7,992.2Q685.7,991.2 686.4,990.4Q687.1,989.6 688.2,989.0Q689.3,988.4 690.5,988.6Q691.6,988.9 692.1,990.6Q692.6,992.4 691.4,992.9Q690.2,993.4 688.9,993.3Q687.6,993.3 686.7,992.2Z" fill="#dcaaa2" opacity="0.9"/><path d="M563.8,1124.8Q563.0,1123.7 562.9,1122.5Q562.9,1121.3 564.6,1120.2Q566.3,1119.1 567.9,1119.3Q569.5,1119.4 570.0,1121.1Q570.5,1122.7 569.7,1123.7Q568.8,1124.6 566.7,1125.3Q564.6,1126.0 563.8,1124.8Z" fill="#d8a59c" opacity="0.9"/><path d="M564.2,946.8Q562.9,947.3 561.9,946.7Q561.0,946.1 560.7,945.3Q560.4,944.5 560.8,943.2Q561.2,942.0 562.9,941.8Q564.7,941.7 565.5,942.7Q566.3,943.7 565.9,945.0Q565.5,946.3 564.2,946.8Z" fill="#dcaaa2" opacity="0.9"/><path d="M595.5,978.5Q594.2,979.7 592.8,979.2Q591.5,978.7 590.9,976.0Q590.4,973.2 590.8,971.7Q591.2,970.1 593.4,969.7Q595.6,969.2 596.5,970.9Q597.5,972.6 597.1,975.0Q596.7,977.4 595.5,978.5Z" fill="#e0b3aa" opacity="0.9"/><path d="M512.1,994.7Q510.6,994.4 510.1,992.4Q509.6,990.3 510.5,989.2Q511.5,988.0 513.1,987.3Q514.7,986.5 516.0,988.0Q517.2,989.5 517.0,990.7Q516.8,991.9 515.2,993.4Q513.6,994.9 512.1,994.7Z" fill="#dcaaa2" opacity="0.9"/><path d="M521.3,1105.2Q519.3,1104.1 519.1,1103.1Q519.0,1102.1 520.3,1100.4Q521.7,1098.7 524.2,1098.4Q526.7,1098.2 527.6,1099.1Q528.4,1100.0 527.7,1101.8Q526.9,1103.6 525.1,1105.0Q523.3,1106.4 521.3,1105.2Z" fill="#dcaaa2" opacity="0.9"/><path d="M701.5,969.5Q699.9,969.1 699.5,967.7Q699.1,966.3 700.4,964.7Q701.7,963.2 703.0,963.0Q704.2,962.7 705.5,963.9Q706.8,965.1 706.2,966.5Q705.6,967.9 704.4,968.8Q703.1,969.8 701.5,969.5Z" fill="#e0b3aa" opacity="0.9"/><path d="M620.4,1067.9Q619.3,1068.4 618.0,1067.4Q616.7,1066.3 616.9,1064.9Q617.1,1063.5 618.1,1062.5Q619.1,1061.5 620.9,1062.2Q622.6,1062.9 622.9,1064.3Q623.3,1065.8 622.4,1066.6Q621.5,1067.4 620.4,1067.9Z" fill="#dcaaa2" opacity="0.9"/><path d="M661.3,950.1Q660.8,951.8 659.0,951.5Q657.2,951.2 655.9,950.1Q654.5,948.9 654.9,947.2Q655.2,945.4 656.2,944.3Q657.2,943.2 659.0,943.9Q660.7,944.6 661.3,946.5Q661.9,948.4 661.3,950.1Z" fill="#dcaaa2" opacity="0.9"/><path d="M507.6,1110.1Q507.4,1111.7 506.1,1111.7Q504.8,1111.8 503.7,1111.3Q502.6,1110.8 501.7,1109.3Q500.9,1107.8 501.9,1107.1Q502.9,1106.4 504.0,1106.3Q505.0,1106.2 506.4,1107.3Q507.8,1108.4 507.6,1110.1Z" fill="#e0b3aa" opacity="0.9"/><path d="M605.1,945.1Q604.0,943.7 604.8,942.6Q605.5,941.6 606.9,940.8Q608.2,939.9 610.0,940.4Q611.7,940.9 612.1,942.3Q612.5,943.7 611.1,945.1Q609.7,946.5 607.9,946.5Q606.1,946.6 605.1,945.1Z" fill="#d8a59c" opacity="0.9"/><path d="M641.0,1113.5Q639.7,1113.8 639.0,1112.4Q638.3,1111.1 638.6,1110.0Q638.9,1108.8 640.6,1108.0Q642.3,1107.2 643.0,1108.0Q643.8,1108.7 643.7,1110.3Q643.7,1111.9 643.0,1112.6Q642.3,1113.2 641.0,1113.5Z" fill="#d8a59c" opacity="0.9"/><path d="M760.5,941.4Q760.7,943.0 759.9,944.7Q759.2,946.3 757.2,946.5Q755.2,946.8 753.7,945.6Q752.1,944.4 752.3,942.7Q752.6,941.0 754.5,939.7Q756.5,938.4 758.4,939.1Q760.3,939.8 760.5,941.4Z" fill="#dcaaa2" opacity="0.9"/><path d="M591.2,1089.3Q589.1,1088.6 588.3,1086.1Q587.4,1083.6 588.8,1081.9Q590.2,1080.2 592.4,1080.7Q594.7,1081.1 595.8,1082.8Q596.9,1084.4 596.5,1086.1Q596.0,1087.9 594.7,1088.9Q593.3,1090.0 591.2,1089.3Z" fill="#d8a59c" opacity="0.9"/><path d="M609.4,1099.3Q608.9,1100.7 606.9,1101.6Q605.0,1102.4 603.3,1101.1Q601.7,1099.9 601.5,1098.3Q601.2,1096.8 602.3,1095.2Q603.4,1093.7 605.0,1094.0Q606.5,1094.3 608.2,1096.1Q609.9,1097.9 609.4,1099.3Z" fill="#dcaaa2" opacity="0.9"/><path d="M603.3,924.0Q602.0,923.5 601.8,922.3Q601.6,921.1 602.3,919.7Q603.1,918.3 604.5,918.1Q606.0,917.8 606.9,918.1Q607.8,918.4 607.7,920.0Q607.6,921.7 606.1,923.1Q604.7,924.5 603.3,924.0Z" fill="#d8a59c" opacity="0.9"/><path d="M677.4,988.0Q675.8,987.6 675.8,986.0Q675.8,984.5 677.1,983.2Q678.4,981.9 680.1,982.4Q681.8,983.0 682.3,983.9Q682.8,984.8 682.0,986.3Q681.1,987.7 680.1,988.1Q679.1,988.4 677.4,988.0Z" fill="#d8a59c" opacity="0.9"/><path d="M634.8,1042.3Q633.4,1041.2 633.3,1039.6Q633.1,1038.0 634.8,1036.1Q636.5,1034.3 638.6,1035.0Q640.8,1035.6 641.7,1036.6Q642.5,1037.7 641.6,1040.1Q640.7,1042.5 638.5,1042.9Q636.2,1043.4 634.8,1042.3Z" fill="#e0b3aa" opacity="0.9"/><path d="M666.5,1127.1Q665.3,1128.8 663.5,1128.5Q661.6,1128.1 661.1,1126.8Q660.5,1125.5 660.4,1123.2Q660.2,1120.8 661.9,1120.2Q663.6,1119.6 664.8,1120.4Q666.0,1121.2 666.8,1123.2Q667.6,1125.3 666.5,1127.1Z" fill="#dcaaa2" opacity="0.9"/><path d="M680.2,934.9Q679.6,936.5 678.7,936.4Q677.8,936.4 676.5,935.2Q675.3,934.1 675.0,932.7Q674.8,931.2 675.8,930.6Q676.8,929.9 678.1,930.0Q679.5,930.1 680.1,931.7Q680.8,933.4 680.2,934.9Z" fill="#dcaaa2" opacity="0.9"/><path d="M635.4,1014.3Q634.1,1015.0 632.6,1014.1Q631.0,1013.2 631.0,1011.1Q631.0,1009.1 631.7,1008.0Q632.5,1007.0 634.8,1007.2Q637.1,1007.3 637.8,1008.6Q638.5,1009.8 637.6,1011.7Q636.7,1013.5 635.4,1014.3Z" fill="#e0b3aa" opacity="0.9"/><path d="M670.2,946.5Q669.2,947.0 668.1,945.5Q667.1,943.9 667.2,942.8Q667.3,941.6 668.4,940.8Q669.5,939.9 670.9,940.0Q672.3,940.1 672.8,941.9Q673.2,943.7 672.2,944.9Q671.2,946.1 670.2,946.5Z" fill="#d8a59c" opacity="0.9"/><path d="M675.2,1112.3Q674.3,1113.3 672.8,1113.0Q671.4,1112.7 670.9,1111.0Q670.4,1109.4 670.8,1108.3Q671.2,1107.1 672.3,1106.5Q673.4,1105.8 674.4,1107.1Q675.4,1108.5 675.7,1109.8Q676.1,1111.2 675.2,1112.3Z" fill="#e0b3aa" opacity="0.9"/><path d="M700.4,1072.0Q698.8,1072.1 697.5,1071.2Q696.2,1070.2 696.6,1067.9Q697.0,1065.5 698.9,1064.5Q700.9,1063.6 702.5,1064.1Q704.0,1064.5 704.6,1066.8Q705.1,1069.1 703.6,1070.5Q702.1,1072.0 700.4,1072.0Z" fill="#e0b3aa" opacity="0.9"/><path d="M494.2,1055.0Q492.3,1054.8 491.4,1052.8Q490.5,1050.8 491.4,1049.1Q492.2,1047.3 494.2,1047.3Q496.2,1047.2 497.6,1047.9Q498.9,1048.7 498.6,1050.8Q498.3,1052.8 497.2,1054.0Q496.1,1055.1 494.2,1055.0Z" fill="#dcaaa2" opacity="0.9"/><path d="M722.9,1042.5Q722.7,1043.9 721.3,1044.1Q719.9,1044.3 719.0,1043.7Q718.2,1043.0 717.7,1042.1Q717.3,1041.1 718.2,1039.8Q719.2,1038.5 720.1,1038.7Q721.1,1038.9 722.1,1040.0Q723.1,1041.2 722.9,1042.5Z" fill="#e0b3aa" opacity="0.9"/><path d="M716.9,954.2Q715.8,952.5 716.6,951.2Q717.3,949.8 718.9,949.2Q720.5,948.6 721.9,949.4Q723.2,950.2 723.9,951.4Q724.6,952.6 723.1,954.1Q721.6,955.7 719.8,955.8Q718.0,955.9 716.9,954.2Z" fill="#dcaaa2" opacity="0.9"/><path d="M539.9,1092.7Q539.0,1091.2 539.5,1090.1Q540.0,1089.1 541.7,1088.1Q543.4,1087.1 544.2,1087.5Q545.0,1088.0 545.7,1089.8Q546.3,1091.7 545.6,1092.7Q544.8,1093.8 542.8,1093.9Q540.8,1094.1 539.9,1092.7Z" fill="#d8a59c" opacity="0.9"/><path d="M517.1,893.3Q516.1,892.6 516.3,891.0Q516.4,889.4 517.3,888.6Q518.2,887.7 519.5,887.7Q520.9,887.7 521.7,888.9Q522.5,890.0 521.7,891.2Q520.9,892.5 519.5,893.3Q518.0,894.1 517.1,893.3Z" fill="#dcaaa2" opacity="0.9"/><path d="M656.4,1096.3Q655.7,1095.8 655.7,1094.8Q655.7,1093.9 657.1,1092.9Q658.5,1092.0 659.5,1092.3Q660.6,1092.7 661.0,1093.3Q661.3,1094.0 660.6,1095.4Q659.9,1096.8 658.6,1096.7Q657.2,1096.7 656.4,1096.3Z" fill="#e0b3aa" opacity="0.9"/><path d="M772.2,1121.9Q772.4,1122.8 771.6,1123.8Q770.8,1124.8 768.9,1124.6Q766.9,1124.4 766.2,1123.3Q765.5,1122.2 766.0,1121.0Q766.5,1119.8 768.3,1119.5Q770.0,1119.1 771.0,1120.0Q772.0,1121.0 772.2,1121.9Z" fill="#dcaaa2" opacity="0.9"/><path d="M636.6,953.9Q637.1,955.5 636.0,956.8Q634.9,958.2 633.1,957.8Q631.2,957.4 630.5,955.6Q629.9,953.8 630.7,952.6Q631.5,951.3 632.7,951.1Q633.8,950.9 635.0,951.5Q636.2,952.2 636.6,953.9Z" fill="#e0b3aa" opacity="0.9"/><path d="M509.4,922.1Q509.3,923.3 508.5,923.8Q507.7,924.3 506.8,924.3Q505.8,924.2 504.5,922.9Q503.2,921.6 504.0,920.6Q504.9,919.7 505.7,919.2Q506.5,918.6 508.0,919.8Q509.5,920.9 509.4,922.1Z" fill="#d8a59c" opacity="0.9"/><path d="M749.3,986.9Q749.8,988.5 749.2,989.4Q748.5,990.2 746.1,990.4Q743.7,990.7 742.4,989.3Q741.2,988.0 742.0,986.6Q742.8,985.2 743.9,984.5Q745.1,983.7 747.0,984.5Q748.9,985.2 749.3,986.9Z" fill="#e0b3aa" opacity="0.9"/><path d="M649.9,921.6Q649.2,923.0 647.8,923.6Q646.5,924.1 645.6,923.8Q644.7,923.4 643.6,921.7Q642.6,920.1 643.7,919.0Q644.9,917.9 646.3,917.9Q647.8,917.9 649.2,919.0Q650.6,920.2 649.9,921.6Z" fill="#e0b3aa" opacity="0.9"/><path d="M704.3,893.4Q703.7,895.5 702.2,896.1Q700.7,896.7 699.4,896.2Q698.1,895.7 697.7,893.8Q697.3,891.9 697.8,890.6Q698.3,889.3 700.4,889.2Q702.4,889.2 703.7,890.2Q705.0,891.3 704.3,893.4Z" fill="#dcaaa2" opacity="0.9"/><path d="M535.8,1114.1Q536.8,1115.6 535.7,1116.8Q534.6,1117.9 533.6,1117.9Q532.6,1117.9 531.1,1117.1Q529.5,1116.3 529.5,1115.2Q529.4,1114.1 530.5,1112.8Q531.6,1111.5 533.2,1112.0Q534.8,1112.5 535.8,1114.1Z" fill="#dcaaa2" opacity="0.9"/><path d="M524.9,941.1Q524.0,942.6 522.5,942.6Q521.0,942.5 519.7,941.4Q518.5,940.3 518.5,938.5Q518.6,936.8 519.2,935.8Q519.9,934.9 521.6,935.6Q523.3,936.4 524.5,937.9Q525.7,939.5 524.9,941.1Z" fill="#d8a59c" opacity="0.9"/><path d="M761.5,1085.4Q762.0,1087.1 761.6,1088.4Q761.1,1089.6 759.6,1089.9Q758.1,1090.2 757.0,1089.2Q756.0,1088.2 755.7,1086.8Q755.4,1085.5 757.0,1084.6Q758.7,1083.7 759.8,1083.7Q760.9,1083.8 761.5,1085.4Z" fill="#d8a59c" opacity="0.9"/><path d="M730.2,932.4Q728.7,931.9 728.5,930.2Q728.3,928.6 729.2,926.5Q730.1,924.3 731.5,924.0Q732.8,923.6 734.4,924.5Q735.9,925.4 735.7,927.9Q735.5,930.3 733.6,931.6Q731.7,932.9 730.2,932.4Z" fill="#e0b3aa" opacity="0.9"/><path d="M524.6,1069.0Q524.3,1070.5 523.1,1070.9Q521.8,1071.3 520.3,1070.4Q518.9,1069.6 518.4,1067.8Q517.9,1066.0 519.2,1065.0Q520.6,1064.1 522.1,1064.6Q523.6,1065.1 524.2,1066.3Q524.9,1067.5 524.6,1069.0Z" fill="#dcaaa2" opacity="0.9"/><path d="M696.6,952.3Q694.9,952.0 694.2,950.9Q693.6,949.8 694.7,947.9Q695.8,945.9 697.6,945.7Q699.3,945.5 700.0,946.3Q700.7,947.2 700.7,948.9Q700.6,950.6 699.5,951.6Q698.3,952.6 696.6,952.3Z" fill="#e0b3aa" opacity="0.9"/><path d="M590.8,946.5Q589.0,946.4 587.8,945.7Q586.6,945.0 586.9,942.6Q587.3,940.1 588.2,939.4Q589.2,938.7 590.9,938.8Q592.6,938.8 593.2,940.8Q593.8,942.7 593.2,944.6Q592.5,946.6 590.8,946.5Z" fill="#d8a59c" opacity="0.9"/><path d="M518.1,869.9Q517.1,871.0 515.3,870.7Q513.5,870.4 512.8,868.4Q512.0,866.3 512.3,864.4Q512.6,862.5 514.1,862.3Q515.6,862.1 517.2,863.1Q518.9,864.2 519.0,866.5Q519.2,868.8 518.1,869.9Z" fill="#dcaaa2" opacity="0.9"/><path d="M586.7,881.0Q586.4,882.2 585.5,883.1Q584.6,884.1 583.4,883.7Q582.2,883.3 581.2,881.9Q580.2,880.6 581.0,879.5Q581.7,878.4 583.1,878.1Q584.6,877.8 585.8,878.8Q587.1,879.7 586.7,881.0Z" fill="#d8a59c" opacity="0.9"/><path d="M732.0,1079.4Q730.7,1078.6 730.8,1077.0Q730.8,1075.4 732.3,1075.0Q733.7,1074.6 735.3,1074.7Q736.9,1074.8 737.0,1075.8Q737.1,1076.8 736.3,1078.6Q735.5,1080.3 734.4,1080.3Q733.2,1080.2 732.0,1079.4Z" fill="#dcaaa2" opacity="0.9"/><path d="M702.7,938.7Q701.3,938.9 700.8,938.2Q700.3,937.5 700.6,935.6Q700.8,933.6 701.9,932.9Q703.0,932.1 704.0,932.7Q704.9,933.2 705.3,934.9Q705.6,936.7 704.9,937.6Q704.2,938.5 702.7,938.7Z" fill="#d8a59c" opacity="0.9"/><path d="M736.2,1099.6Q734.4,1100.0 733.2,1099.5Q732.1,1099.1 731.8,1097.0Q731.5,1094.9 733.4,1092.9Q735.3,1090.9 736.6,1091.1Q737.9,1091.4 738.6,1093.5Q739.2,1095.6 738.6,1097.4Q738.0,1099.2 736.2,1099.6Z" fill="#dcaaa2" opacity="0.9"/><path d="M673.4,861.5Q674.0,863.4 672.8,864.1Q671.5,864.8 669.7,865.0Q668.0,865.3 667.1,863.6Q666.3,862.0 666.5,860.6Q666.6,859.1 668.3,858.6Q670.0,858.0 671.4,858.9Q672.9,859.7 673.4,861.5Z" fill="#dcaaa2" opacity="0.9"/><path d="M775.2,1108.1Q775.4,1109.6 774.7,1110.3Q774.1,1111.0 772.4,1111.1Q770.7,1111.2 770.0,1110.3Q769.2,1109.3 769.5,1108.2Q769.7,1107.0 771.4,1106.6Q773.2,1106.2 774.1,1106.4Q775.0,1106.6 775.2,1108.1Z" fill="#e0b3aa" opacity="0.9"/><path d="M499.4,902.8Q498.0,901.9 498.1,899.2Q498.1,896.6 499.8,896.1Q501.6,895.7 503.3,895.8Q505.1,895.9 505.7,897.2Q506.4,898.6 505.7,901.2Q505.0,903.7 502.9,903.8Q500.8,903.8 499.4,902.8Z" fill="#dcaaa2" opacity="0.9"/><path d="M547.3,1071.6Q546.0,1072.8 544.5,1072.3Q543.1,1071.9 541.9,1070.4Q540.7,1068.9 541.1,1067.1Q541.6,1065.2 543.0,1064.0Q544.5,1062.7 546.1,1064.6Q547.7,1066.4 548.1,1068.4Q548.6,1070.4 547.3,1071.6Z" fill="#d8a59c" opacity="0.9"/><path d="M590.0,1074.5Q589.4,1075.4 587.6,1075.1Q585.7,1074.8 584.9,1073.5Q584.1,1072.2 585.0,1070.7Q585.8,1069.2 587.1,1068.7Q588.4,1068.2 589.5,1068.9Q590.6,1069.7 590.6,1071.6Q590.6,1073.6 590.0,1074.5Z" fill="#e0b3aa" opacity="0.9"/><path d="M550.9,890.7Q549.8,889.5 550.1,887.8Q550.4,886.1 552.0,885.8Q553.6,885.5 554.9,885.7Q556.2,886.0 557.0,887.2Q557.7,888.5 556.7,889.6Q555.6,890.8 553.8,891.3Q552.0,891.9 550.9,890.7Z" fill="#d8a59c" opacity="0.9"/><path d="M742.1,1009.0Q740.7,1010.5 739.0,1010.3Q737.3,1010.1 736.3,1008.6Q735.4,1007.0 735.4,1005.0Q735.4,1002.9 736.6,1001.7Q737.8,1000.5 739.7,1001.3Q741.6,1002.1 742.5,1004.8Q743.5,1007.5 742.1,1009.0Z" fill="#e0b3aa" opacity="0.9"/><path d="M765.8,1013.8Q764.7,1012.7 764.8,1011.9Q764.9,1011.1 766.1,1010.5Q767.4,1009.9 768.8,1009.8Q770.1,1009.7 770.3,1011.3Q770.4,1012.9 769.7,1013.9Q769.0,1015.0 767.9,1014.9Q766.9,1014.9 765.8,1013.8Z" fill="#d8a59c" opacity="0.9"/><path d="M751.6,916.8Q749.9,915.8 749.8,914.1Q749.8,912.5 751.4,911.4Q753.1,910.2 754.9,910.6Q756.6,911.0 757.2,912.1Q757.7,913.3 757.1,915.1Q756.5,917.0 754.9,917.5Q753.3,917.9 751.6,916.8Z" fill="#dcaaa2" opacity="0.9"/><path d="M693.3,867.5Q692.7,865.8 693.2,863.5Q693.6,861.2 695.4,860.7Q697.3,860.3 699.1,861.0Q701.0,861.7 701.5,863.7Q702.0,865.8 700.1,867.7Q698.1,869.6 696.1,869.3Q694.0,869.1 693.3,867.5Z" fill="#dcaaa2" opacity="0.9"/><path d="M758.7,931.0Q757.0,930.3 756.3,928.9Q755.7,927.5 757.5,925.5Q759.3,923.6 760.7,923.9Q762.1,924.2 763.2,924.9Q764.2,925.7 763.8,927.7Q763.3,929.6 761.9,930.7Q760.4,931.7 758.7,931.0Z" fill="#dcaaa2" opacity="0.9"/><path d="M587.7,987.0Q587.4,988.6 586.5,988.6Q585.5,988.6 584.3,987.9Q583.1,987.1 582.8,986.0Q582.5,984.9 582.9,984.0Q583.4,983.1 584.6,983.3Q585.8,983.4 586.9,984.4Q587.9,985.4 587.7,987.0Z" fill="#e0b3aa" opacity="0.9"/><path d="M725.5,984.5Q724.3,985.4 723.2,984.9Q722.1,984.3 722.2,982.3Q722.2,980.4 722.9,979.2Q723.6,978.1 725.1,978.7Q726.6,979.3 726.9,980.3Q727.1,981.3 726.9,982.5Q726.7,983.6 725.5,984.5Z" fill="#dcaaa2" opacity="0.9"/><path d="M747.2,1032.9Q748.0,1034.8 747.3,1035.6Q746.7,1036.3 744.8,1036.4Q742.8,1036.5 741.8,1035.7Q740.7,1035.0 741.2,1033.5Q741.7,1032.0 742.8,1031.3Q743.9,1030.7 745.1,1030.8Q746.3,1030.9 747.2,1032.9Z" fill="#d8a59c" opacity="0.9"/><path d="M528.9,859.1Q528.3,860.2 527.0,860.4Q525.7,860.5 525.0,859.6Q524.4,858.6 524.2,857.3Q524.0,856.0 525.0,855.4Q525.9,854.7 527.3,855.0Q528.7,855.2 529.1,856.6Q529.5,858.0 528.9,859.1Z" fill="#dcaaa2" opacity="0.9"/><path d="M646.4,908.7Q644.6,909.1 643.7,908.2Q642.8,907.3 642.8,905.2Q642.8,903.1 644.5,901.6Q646.2,900.0 647.5,900.6Q648.7,901.2 649.3,902.6Q649.8,904.1 649.0,906.3Q648.3,908.4 646.4,908.7Z" fill="#d8a59c" opacity="0.9"/><path d="M612.6,1027.3Q611.1,1028.2 609.6,1028.0Q608.0,1027.8 607.5,1025.8Q607.0,1023.7 608.1,1021.8Q609.2,1019.8 610.9,1019.5Q612.6,1019.1 613.6,1020.7Q614.6,1022.3 614.3,1024.3Q614.0,1026.3 612.6,1027.3Z" fill="#dcaaa2" opacity="0.9"/><path d="M525.7,981.2Q522.7,982.3 521.7,981.3Q520.6,980.3 520.1,978.5Q519.6,976.7 521.0,974.7Q522.3,972.8 524.9,973.0Q527.6,973.2 528.0,975.2Q528.3,977.1 528.5,978.6Q528.6,980.2 525.7,981.2Z" fill="#d8a59c" opacity="0.9"/><path d="M519.3,959.2Q518.0,958.6 517.8,957.4Q517.5,956.2 518.8,955.0Q520.0,953.7 521.8,954.0Q523.7,954.4 523.7,955.8Q523.8,957.2 523.7,958.2Q523.6,959.1 522.1,959.4Q520.6,959.8 519.3,959.2Z" fill="#dcaaa2" opacity="0.9"/><path d="M564.4,921.7Q564.8,923.5 564.0,923.9Q563.2,924.4 561.2,924.4Q559.3,924.3 558.6,923.6Q557.8,922.9 558.2,921.5Q558.6,920.1 559.9,919.6Q561.2,919.1 562.6,919.5Q563.9,919.9 564.4,921.7Z" fill="#d8a59c" opacity="0.9"/><path d="M710.6,916.5Q711.5,917.8 710.7,918.7Q709.9,919.6 708.2,920.0Q706.5,920.3 704.9,919.3Q703.4,918.3 703.5,916.9Q703.6,915.4 705.4,914.7Q707.1,914.0 708.4,914.6Q709.7,915.2 710.6,916.5Z" fill="#dcaaa2" opacity="0.9"/><path d="M544.5,1025.0Q542.7,1025.7 541.9,1025.4Q541.0,1025.1 540.6,1023.6Q540.2,1022.1 541.0,1020.4Q541.9,1018.6 543.2,1018.8Q544.5,1019.0 545.4,1020.4Q546.4,1021.7 546.3,1023.0Q546.3,1024.4 544.5,1025.0Z" fill="#d8a59c" opacity="0.9"/><path d="M714.8,870.1Q714.2,872.2 713.0,872.3Q711.8,872.4 710.3,871.0Q708.9,869.7 708.2,867.8Q707.5,865.9 709.2,864.5Q710.8,863.0 712.3,864.1Q713.7,865.1 714.6,866.5Q715.4,867.9 714.8,870.1Z" fill="#d8a59c" opacity="0.9"/><path d="M551.6,1014.2Q549.9,1014.4 548.2,1013.2Q546.6,1011.9 547.1,1010.8Q547.6,1009.7 549.0,1008.5Q550.4,1007.4 551.7,1007.5Q553.0,1007.6 553.8,1009.4Q554.6,1011.3 553.9,1012.6Q553.2,1014.0 551.6,1014.2Z" fill="#d8a59c" opacity="0.9"/><path d="M732.1,949.4Q730.9,948.6 731.0,947.4Q731.0,946.3 732.1,945.0Q733.2,943.8 734.6,943.6Q735.9,943.4 736.6,944.5Q737.2,945.7 736.8,947.3Q736.3,948.9 734.7,949.6Q733.2,950.3 732.1,949.4Z" fill="#e0b3aa" opacity="0.9"/><path d="M616.8,1115.2Q616.5,1116.7 614.8,1116.8Q613.2,1116.8 611.9,1116.0Q610.7,1115.1 610.9,1113.7Q611.2,1112.4 612.0,1111.6Q612.7,1110.9 614.2,1110.9Q615.7,1110.9 616.4,1112.3Q617.1,1113.7 616.8,1115.2Z" fill="#d8a59c" opacity="0.9"/><path d="M743.0,894.1Q741.9,894.6 740.4,893.3Q738.9,892.0 739.2,889.4Q739.6,886.8 741.0,885.5Q742.5,884.2 743.8,884.5Q745.0,884.9 745.5,887.6Q745.9,890.3 745.0,891.9Q744.1,893.5 743.0,894.1Z" fill="#d8a59c" opacity="0.9"/><path d="M572.8,944.1Q572.0,943.5 572.2,942.6Q572.4,941.6 574.1,940.9Q575.9,940.2 577.0,940.5Q578.1,940.8 578.3,942.1Q578.5,943.4 577.2,944.1Q575.9,944.9 574.7,944.8Q573.6,944.7 572.8,944.1Z" fill="#d8a59c" opacity="0.9"/><path d="M550.8,1078.6Q550.4,1079.4 549.5,1080.5Q548.6,1081.5 546.8,1080.9Q545.0,1080.3 544.3,1079.2Q543.6,1078.0 544.2,1076.9Q544.8,1075.8 546.5,1075.9Q548.3,1076.0 549.7,1076.9Q551.1,1077.7 550.8,1078.6Z" fill="#d8a59c" opacity="0.9"/><path d="M632.6,1068.4Q631.5,1069.3 630.1,1068.8Q628.6,1068.2 628.4,1066.9Q628.2,1065.7 628.8,1063.6Q629.5,1061.5 630.9,1061.9Q632.3,1062.3 633.0,1063.6Q633.7,1064.8 633.7,1066.2Q633.6,1067.5 632.6,1068.4Z" fill="#dcaaa2" opacity="0.9"/><path d="M522.1,1119.2Q520.2,1119.1 519.6,1118.2Q519.0,1117.3 519.6,1115.4Q520.1,1113.5 521.4,1112.9Q522.7,1112.2 523.9,1113.3Q525.1,1114.3 525.6,1116.1Q526.0,1117.8 525.0,1118.6Q524.0,1119.4 522.1,1119.2Z" fill="#e0b3aa" opacity="0.9"/><path d="M624.5,1031.9Q623.8,1030.5 624.0,1028.9Q624.2,1027.4 625.7,1027.0Q627.2,1026.6 628.6,1026.6Q630.1,1026.7 630.7,1028.7Q631.4,1030.8 630.5,1032.0Q629.7,1033.3 627.4,1033.3Q625.2,1033.3 624.5,1031.9Z" fill="#e0b3aa" opacity="0.9"/><path d="M640.7,1059.8Q639.8,1058.8 640.0,1057.8Q640.2,1056.8 641.8,1055.8Q643.3,1054.7 644.6,1055.5Q645.8,1056.2 646.0,1057.0Q646.2,1057.9 645.3,1058.9Q644.4,1059.8 643.0,1060.3Q641.7,1060.7 640.7,1059.8Z" fill="#dcaaa2" opacity="0.9"/><path d="M737.0,1119.2Q737.5,1120.2 737.0,1121.1Q736.5,1122.0 735.2,1122.0Q734.0,1122.0 732.5,1121.3Q731.0,1120.5 731.3,1119.4Q731.6,1118.4 732.7,1118.1Q733.9,1117.9 735.2,1118.0Q736.5,1118.1 737.0,1119.2Z" fill="#e0b3aa" opacity="0.9"/><path d="M543.1,984.2Q542.4,985.3 541.0,985.4Q539.7,985.4 539.0,984.1Q538.4,982.7 538.3,981.3Q538.3,979.9 539.3,979.4Q540.4,978.8 541.5,979.5Q542.6,980.2 543.2,981.7Q543.9,983.1 543.1,984.2Z" fill="#d8a59c" opacity="0.9"/><path d="M669.0,992.2Q668.9,994.1 667.2,994.5Q665.4,994.9 663.6,994.1Q661.8,993.3 661.4,991.3Q661.0,989.3 662.3,988.2Q663.5,987.1 664.9,987.4Q666.4,987.6 667.7,988.9Q669.0,990.2 669.0,992.2Z" fill="#e0b3aa" opacity="0.9"/><path d="M602.9,952.5Q603.4,954.0 602.2,955.2Q600.9,956.4 598.7,956.0Q596.5,955.7 595.5,954.6Q594.5,953.5 594.7,952.0Q594.9,950.5 596.2,949.8Q597.5,949.1 599.9,950.0Q602.4,950.9 602.9,952.5Z" fill="#e0b3aa" opacity="0.9"/><path d="M620.1,1079.4Q619.7,1081.1 617.4,1081.4Q615.0,1081.7 614.0,1080.3Q613.0,1079.0 613.0,1077.3Q613.0,1075.7 614.2,1074.8Q615.4,1073.9 617.5,1074.5Q619.5,1075.1 620.0,1076.4Q620.5,1077.7 620.1,1079.4Z" fill="#dcaaa2" opacity="0.9"/><path d="M490.3,910.0Q489.2,911.9 487.7,912.2Q486.3,912.5 485.3,911.9Q484.3,911.3 484.4,909.3Q484.5,907.3 485.1,906.2Q485.8,905.2 487.6,905.7Q489.4,906.2 490.4,907.2Q491.5,908.2 490.3,910.0Z" fill="#d8a59c" opacity="0.9"/><path d="M582.9,895.0Q582.4,896.2 581.0,896.1Q579.6,896.0 578.9,895.3Q578.2,894.6 578.0,892.9Q577.9,891.2 579.2,890.5Q580.5,889.8 581.8,890.3Q583.0,890.8 583.2,892.3Q583.3,893.7 582.9,895.0Z" fill="#dcaaa2" opacity="0.9"/><path d="M721.5,1013.7Q719.4,1012.8 719.3,1011.4Q719.3,1010.0 720.5,1008.4Q721.8,1006.9 723.6,1007.0Q725.4,1007.1 726.5,1008.9Q727.6,1010.6 726.8,1012.3Q725.9,1014.0 724.7,1014.3Q723.6,1014.7 721.5,1013.7Z" fill="#dcaaa2" opacity="0.9"/><path d="M566.5,908.9Q565.0,906.6 565.4,904.5Q565.8,902.5 568.1,902.1Q570.4,901.6 571.8,902.3Q573.2,902.9 574.1,904.7Q575.1,906.5 573.4,908.1Q571.8,909.6 569.9,910.4Q568.1,911.2 566.5,908.9Z" fill="#d8a59c" opacity="0.9"/><path d="M607.9,1040.1Q607.9,1042.2 607.4,1043.4Q606.9,1044.7 605.2,1044.6Q603.4,1044.5 602.1,1043.1Q600.8,1041.7 601.2,1040.1Q601.7,1038.5 603.7,1037.8Q605.7,1037.1 606.7,1037.5Q607.8,1038.0 607.9,1040.1Z" fill="#dcaaa2" opacity="0.9"/><path d="M580.3,1062.2Q578.2,1062.3 577.5,1060.5Q576.8,1058.7 577.4,1056.7Q578.0,1054.7 579.5,1054.1Q580.9,1053.6 583.0,1054.2Q585.2,1054.8 584.6,1057.0Q584.1,1059.3 583.3,1060.7Q582.4,1062.1 580.3,1062.2Z" fill="#dcaaa2" opacity="0.9"/><path d="M501.2,1016.0Q500.2,1017.3 499.0,1017.8Q497.8,1018.3 496.9,1017.3Q496.0,1016.2 495.5,1014.7Q495.0,1013.3 496.2,1012.6Q497.4,1012.0 498.5,1012.2Q499.6,1012.3 500.8,1013.5Q502.1,1014.7 501.2,1016.0Z" fill="#e0b3aa" opacity="0.9"/><path d="M760.5,969.2Q761.3,970.6 759.7,971.4Q758.1,972.3 756.7,972.0Q755.3,971.7 754.4,970.3Q753.5,968.8 754.0,967.8Q754.4,966.9 756.5,966.6Q758.5,966.3 759.1,967.1Q759.6,967.9 760.5,969.2Z" fill="#dcaaa2" opacity="0.9"/><path d="M549.9,904.2Q549.7,905.3 548.0,905.5Q546.4,905.6 545.8,905.1Q545.2,904.7 544.6,903.1Q544.0,901.5 545.1,900.8Q546.2,900.1 547.2,900.3Q548.1,900.5 549.1,901.8Q550.0,903.1 549.9,904.2Z" fill="#d8a59c" opacity="0.9"/><path d="M703.2,1088.7Q701.3,1089.1 700.4,1087.4Q699.4,1085.7 699.7,1084.3Q700.1,1083.0 701.8,1081.8Q703.5,1080.6 704.6,1081.4Q705.7,1082.2 706.2,1084.2Q706.8,1086.2 705.9,1087.3Q705.0,1088.3 703.2,1088.7Z" fill="#dcaaa2" opacity="0.9"/><path d="M556.5,973.5Q556.7,974.4 556.2,975.0Q555.7,975.7 554.1,975.6Q552.5,975.4 551.7,974.7Q550.9,973.9 551.3,973.2Q551.7,972.5 552.8,972.1Q553.8,971.7 555.1,972.2Q556.3,972.7 556.5,973.5Z" fill="#d8a59c" opacity="0.9"/><path d="M634.1,983.0Q632.8,983.1 632.5,981.7Q632.2,980.3 632.6,978.8Q633.1,977.3 634.3,976.8Q635.5,976.2 636.7,977.2Q637.8,978.2 637.5,979.7Q637.2,981.1 636.2,982.0Q635.3,982.9 634.1,983.0Z" fill="#d8a59c" opacity="0.9"/><path d="M609.3,928.1Q607.6,927.2 607.4,925.1Q607.3,922.9 608.1,921.8Q609.0,920.6 611.1,920.3Q613.2,920.0 614.2,922.0Q615.2,924.0 614.7,925.6Q614.2,927.2 612.6,928.0Q611.0,928.9 609.3,928.1Z" fill="#e0b3aa" opacity="0.9"/><path d="M517.2,1143.4Q515.7,1144.9 514.1,1144.7Q512.6,1144.5 511.0,1142.2Q509.4,1139.9 510.5,1138.0Q511.6,1136.2 512.9,1135.6Q514.2,1134.9 515.6,1136.3Q517.0,1137.6 517.8,1139.7Q518.7,1141.8 517.2,1143.4Z" fill="#e0b3aa" opacity="0.9"/><path d="M692.9,973.1Q692.5,974.4 690.0,974.9Q687.5,975.5 686.4,974.3Q685.3,973.2 684.6,971.0Q683.9,968.8 685.4,967.7Q686.8,966.6 688.7,966.8Q690.5,967.0 691.9,969.4Q693.2,971.7 692.9,973.1Z" fill="#dcaaa2" opacity="0.9"/><path d="M517.4,1061.8Q515.5,1062.6 514.8,1061.3Q514.1,1060.0 514.3,1057.9Q514.5,1055.8 516.2,1054.7Q517.8,1053.5 518.9,1054.1Q520.0,1054.8 520.6,1056.9Q521.2,1059.0 520.2,1060.1Q519.2,1061.1 517.4,1061.8Z" fill="#d8a59c" opacity="0.9"/><path d="M674.0,883.2Q671.9,882.9 670.8,881.1Q669.7,879.4 670.5,877.6Q671.2,875.7 673.2,874.8Q675.2,873.8 677.0,875.5Q678.8,877.1 679.3,878.5Q679.8,880.0 677.9,881.8Q676.0,883.5 674.0,883.2Z" fill="#e0b3aa" opacity="0.9"/><path d="M694.4,1112.1Q692.5,1111.3 692.5,1108.8Q692.5,1106.3 693.8,1105.1Q695.1,1103.9 697.5,1104.0Q699.9,1104.0 700.9,1106.3Q702.0,1108.6 700.7,1110.6Q699.3,1112.6 697.8,1112.8Q696.2,1112.9 694.4,1112.1Z" fill="#e0b3aa" opacity="0.9"/><path d="M577.7,1025.8Q576.4,1027.0 575.0,1026.7Q573.6,1026.4 573.0,1025.1Q572.4,1023.7 572.8,1022.4Q573.2,1021.1 575.1,1020.7Q577.0,1020.4 577.7,1021.3Q578.4,1022.1 578.7,1023.4Q579.0,1024.7 577.7,1025.8Z" fill="#d8a59c" opacity="0.9"/><path d="M696.9,1054.8Q696.3,1055.7 695.2,1055.3Q694.2,1054.8 693.8,1054.0Q693.5,1053.2 693.8,1051.6Q694.2,1049.9 695.2,1050.1Q696.3,1050.3 697.0,1050.9Q697.7,1051.5 697.6,1052.7Q697.5,1053.9 696.9,1054.8Z" fill="#dcaaa2" opacity="0.9"/><path d="M546.8,883.4Q545.9,883.9 544.7,882.6Q543.4,881.3 543.7,879.9Q543.9,878.4 544.4,877.6Q545.0,876.8 546.5,877.3Q548.0,877.8 548.4,879.0Q548.8,880.1 548.2,881.5Q547.6,882.8 546.8,883.4Z" fill="#dcaaa2" opacity="0.9"/><path d="M525.7,1020.7Q524.6,1021.0 523.2,1020.2Q521.9,1019.4 521.9,1017.9Q521.8,1016.5 523.3,1015.6Q524.7,1014.7 525.8,1015.2Q526.9,1015.6 527.5,1017.0Q528.1,1018.4 527.5,1019.4Q526.8,1020.4 525.7,1020.7Z" fill="#dcaaa2" opacity="0.9"/><path d="M672.3,1140.3Q672.2,1142.2 671.0,1142.6Q669.7,1143.0 668.5,1142.2Q667.3,1141.4 666.8,1139.8Q666.3,1138.3 667.1,1137.2Q667.8,1136.1 668.9,1136.1Q670.0,1136.0 671.2,1137.3Q672.4,1138.5 672.3,1140.3Z" fill="#dcaaa2" opacity="0.9"/><path d="M678.8,1014.0Q678.0,1014.4 676.7,1014.0Q675.4,1013.6 675.0,1012.4Q674.6,1011.1 675.7,1010.0Q676.7,1008.8 677.8,1008.7Q678.9,1008.6 679.8,1009.5Q680.8,1010.4 680.2,1012.0Q679.6,1013.5 678.8,1014.0Z" fill="#e0b3aa" opacity="0.9"/><path d="M733.7,1037.4Q732.7,1038.2 731.4,1037.5Q730.1,1036.8 729.8,1035.7Q729.5,1034.7 729.9,1033.7Q730.3,1032.7 731.9,1032.2Q733.5,1031.7 734.3,1032.6Q735.0,1033.6 734.8,1035.1Q734.7,1036.6 733.7,1037.4Z" fill="#dcaaa2" opacity="0.9"/><path d="M607.6,886.7Q608.0,888.3 606.6,889.7Q605.1,891.1 603.2,890.7Q601.2,890.3 600.7,888.9Q600.1,887.5 600.6,885.7Q601.1,884.0 602.4,884.0Q603.7,884.1 605.5,884.6Q607.3,885.1 607.6,886.7Z" fill="#e0b3aa" opacity="0.9"/><path d="M640.7,872.6Q640.9,873.6 639.8,874.1Q638.7,874.6 637.3,874.4Q635.8,874.2 634.7,873.2Q633.6,872.3 634.2,871.0Q634.8,869.8 636.4,869.6Q638.0,869.5 639.3,870.6Q640.6,871.7 640.7,872.6Z" fill="#e0b3aa" opacity="0.9"/><path d="M771.0,915.4Q769.4,915.0 768.9,914.0Q768.4,912.9 768.7,911.9Q769.0,910.9 770.4,910.1Q771.9,909.3 772.8,910.1Q773.6,910.9 774.0,912.3Q774.4,913.8 773.5,914.7Q772.5,915.7 771.0,915.4Z" fill="#d8a59c" opacity="0.9"/><path d="M743.1,961.4Q742.0,960.6 741.9,959.1Q741.7,957.5 742.7,956.9Q743.7,956.3 745.1,956.1Q746.4,955.8 747.1,956.9Q747.7,958.1 747.0,959.8Q746.4,961.5 745.2,961.8Q744.1,962.2 743.1,961.4Z" fill="#d8a59c" opacity="0.9"/><path d="M689.2,949.0Q687.7,949.7 686.8,949.0Q685.8,948.2 685.3,946.4Q684.7,944.6 686.0,943.5Q687.3,942.3 688.4,942.3Q689.5,942.3 690.3,943.6Q691.0,945.0 690.8,946.6Q690.6,948.2 689.2,949.0Z" fill="#e0b3aa" opacity="0.9"/><path d="M503.2,893.1Q501.5,893.7 500.6,892.8Q499.6,891.9 498.9,890.5Q498.2,889.1 499.6,887.5Q501.0,886.0 502.4,886.3Q503.8,886.5 504.6,887.7Q505.5,888.8 505.2,890.7Q504.9,892.5 503.2,893.1Z" fill="#dcaaa2" opacity="0.9"/><path d="M493.2,957.7Q491.5,956.5 491.7,954.6Q491.9,952.8 493.3,951.3Q494.7,949.9 496.9,950.4Q499.2,950.9 499.5,952.5Q499.8,954.1 499.3,955.4Q498.8,956.7 496.9,957.8Q495.0,958.9 493.2,957.7Z" fill="#d8a59c" opacity="0.9"/><path d="M762.3,1035.6Q760.7,1034.2 761.5,1033.0Q762.2,1031.8 763.1,1030.6Q764.1,1029.5 766.2,1030.3Q768.3,1031.2 768.9,1032.4Q769.6,1033.7 768.7,1035.1Q767.7,1036.6 765.8,1036.8Q763.8,1037.0 762.3,1035.6Z" fill="#d8a59c" opacity="0.9"/><path d="M555.1,1057.2Q553.5,1056.0 554.1,1054.7Q554.7,1053.3 555.7,1052.4Q556.8,1051.4 558.6,1052.1Q560.5,1052.8 560.7,1053.9Q561.0,1055.0 560.1,1056.4Q559.2,1057.9 557.9,1058.2Q556.7,1058.5 555.1,1057.2Z" fill="#dcaaa2" opacity="0.9"/><path d="M554.7,1095.5Q554.2,1097.3 552.5,1097.4Q550.8,1097.5 549.8,1096.5Q548.9,1095.6 549.1,1094.3Q549.3,1093.1 550.4,1092.2Q551.5,1091.4 552.7,1091.2Q554.0,1091.1 554.7,1092.5Q555.3,1093.8 554.7,1095.5Z" fill="#d8a59c" opacity="0.9"/><path d="M619.4,961.9Q620.2,963.6 617.9,964.8Q615.7,966.1 613.8,966.0Q611.9,965.8 611.1,964.1Q610.2,962.4 610.4,960.5Q610.7,958.5 613.5,958.1Q616.3,957.7 617.5,958.9Q618.6,960.1 619.4,961.9Z" fill="#dcaaa2" opacity="0.9"/><path d="M665.0,926.0Q665.7,927.2 665.0,928.7Q664.4,930.2 663.3,930.2Q662.2,930.3 660.7,929.2Q659.3,928.2 659.1,927.4Q658.9,926.6 660.5,925.8Q662.0,925.0 663.2,924.9Q664.3,924.7 665.0,926.0Z" fill="#dcaaa2" opacity="0.9"/><path d="M603.8,1064.4Q602.9,1063.4 603.3,1061.6Q603.6,1059.8 605.1,1059.2Q606.5,1058.6 608.2,1058.6Q609.8,1058.7 610.4,1060.2Q611.0,1061.7 609.8,1063.3Q608.5,1064.9 606.6,1065.1Q604.7,1065.4 603.8,1064.4Z" fill="#e0b3aa" opacity="0.9"/><path d="M749.1,882.3Q747.4,882.0 747.5,881.0Q747.7,879.9 748.4,878.2Q749.2,876.5 750.7,876.5Q752.2,876.5 753.1,877.4Q754.0,878.2 753.8,879.3Q753.7,880.4 752.2,881.5Q750.8,882.6 749.1,882.3Z" fill="#dcaaa2" opacity="0.9"/><path d="M625.6,1134.7Q624.6,1134.0 624.3,1132.5Q624.0,1131.0 625.0,1129.9Q626.1,1128.9 627.8,1129.3Q629.5,1129.7 629.8,1131.0Q630.0,1132.3 629.7,1133.2Q629.5,1134.1 628.1,1134.8Q626.7,1135.4 625.6,1134.7Z" fill="#d8a59c" opacity="0.9"/><path d="M541.1,970.2Q539.2,970.7 538.3,969.4Q537.4,968.2 537.5,967.1Q537.5,966.0 539.0,964.7Q540.4,963.5 542.1,963.5Q543.7,963.4 544.2,965.4Q544.8,967.3 543.9,968.6Q543.0,969.8 541.1,970.2Z" fill="#e0b3aa" opacity="0.9"/><path d="M567.4,890.0Q567.6,891.1 566.6,892.4Q565.6,893.8 563.2,893.3Q560.8,892.8 560.3,891.1Q559.7,889.4 559.8,888.5Q559.9,887.6 561.5,887.1Q563.0,886.5 565.2,887.7Q567.3,888.8 567.4,890.0Z" fill="#dcaaa2" opacity="0.9"/><path d="M618.7,1132.6Q618.1,1133.9 616.7,1133.9Q615.2,1133.9 613.8,1132.4Q612.3,1131.0 612.4,1129.4Q612.4,1127.8 614.0,1127.0Q615.6,1126.1 617.1,1126.7Q618.5,1127.2 618.9,1129.2Q619.3,1131.3 618.7,1132.6Z" fill="#e0b3aa" opacity="0.9"/><path d="M629.2,1122.9Q628.3,1124.1 627.0,1123.8Q625.7,1123.6 625.0,1122.3Q624.3,1121.1 624.8,1119.9Q625.3,1118.8 626.4,1118.2Q627.4,1117.7 628.8,1118.4Q630.1,1119.0 630.2,1120.4Q630.2,1121.7 629.2,1122.9Z" fill="#d8a59c" opacity="0.9"/><path d="M694.1,1059.9Q694.5,1061.4 693.5,1062.6Q692.4,1063.9 691.0,1063.7Q689.6,1063.5 688.0,1062.2Q686.4,1060.9 687.2,1059.5Q688.0,1058.1 689.3,1057.8Q690.5,1057.5 692.0,1058.0Q693.6,1058.5 694.1,1059.9Z" fill="#dcaaa2" opacity="0.9"/><path d="M530.5,970.7Q529.1,971.9 527.3,972.4Q525.6,972.9 524.1,970.9Q522.5,968.9 522.8,967.2Q523.1,965.5 525.0,964.6Q526.9,963.7 529.2,964.6Q531.5,965.6 531.7,967.5Q531.9,969.4 530.5,970.7Z" fill="#d8a59c" opacity="0.9"/><path d="M544.9,1129.0Q544.7,1130.4 542.6,1131.2Q540.6,1131.9 538.9,1131.7Q537.2,1131.5 536.5,1129.1Q535.8,1126.8 537.1,1125.6Q538.5,1124.4 540.3,1124.4Q542.2,1124.4 543.7,1126.0Q545.2,1127.5 544.9,1129.0Z" fill="#dcaaa2" opacity="0.9"/><path d="M760.7,1045.4Q760.5,1046.8 759.5,1047.7Q758.4,1048.5 756.1,1048.1Q753.8,1047.7 753.1,1046.5Q752.4,1045.3 753.2,1043.5Q754.1,1041.6 756.0,1041.6Q757.8,1041.7 759.4,1042.8Q760.9,1043.9 760.7,1045.4Z" fill="#d8a59c" opacity="0.9"/><path d="M618.9,954.1Q617.9,954.0 616.5,953.3Q615.1,952.7 615.4,951.0Q615.7,949.3 616.3,948.6Q617.0,947.8 618.5,948.1Q620.0,948.5 620.6,949.9Q621.3,951.4 620.6,952.7Q619.9,954.1 618.9,954.1Z" fill="#d8a59c" opacity="0.9"/><path d="M601.1,1049.3Q600.8,1050.4 599.3,1050.7Q597.9,1051.0 596.7,1050.3Q595.6,1049.7 595.3,1048.2Q595.0,1046.7 595.6,1045.9Q596.2,1045.0 598.2,1045.3Q600.2,1045.6 600.8,1046.9Q601.4,1048.1 601.1,1049.3Z" fill="#dcaaa2" opacity="0.9"/><path d="M672.6,1100.5Q671.9,1101.5 670.8,1101.4Q669.7,1101.3 669.0,1100.4Q668.3,1099.5 668.3,1098.3Q668.4,1097.2 669.7,1096.6Q671.0,1096.1 671.8,1096.3Q672.7,1096.5 673.0,1098.1Q673.3,1099.6 672.6,1100.5Z" fill="#e0b3aa" opacity="0.9"/><path d="M636.8,939.1Q636.3,940.5 634.6,939.8Q632.9,939.1 631.9,937.7Q630.9,936.2 631.3,934.7Q631.6,933.2 633.1,932.8Q634.6,932.5 636.0,933.2Q637.3,933.9 637.3,935.8Q637.3,937.8 636.8,939.1Z" fill="#e0b3aa" opacity="0.9"/><path d="M702.0,983.2Q700.9,984.9 699.0,984.8Q697.0,984.6 696.3,982.6Q695.5,980.6 695.6,978.9Q695.7,977.2 697.3,976.6Q698.9,976.1 700.2,976.9Q701.6,977.6 702.3,979.5Q703.0,981.4 702.0,983.2Z" fill="#dcaaa2" opacity="0.9"/><path d="M596.7,933.3Q595.5,933.8 594.4,933.0Q593.2,932.2 593.0,930.8Q592.9,929.4 593.5,928.1Q594.0,926.9 595.7,926.5Q597.5,926.0 598.1,927.7Q598.8,929.4 598.4,931.1Q597.9,932.7 596.7,933.3Z" fill="#dcaaa2" opacity="0.9"/><path d="M646.7,875.9Q645.7,875.2 645.5,874.0Q645.4,872.8 646.3,871.9Q647.2,871.0 648.5,870.9Q649.9,870.8 650.8,872.2Q651.7,873.6 650.7,874.5Q649.7,875.5 648.7,876.0Q647.7,876.6 646.7,875.9Z" fill="#dcaaa2" opacity="0.9"/><path d="M657.5,1119.4Q657.1,1120.6 655.8,1121.0Q654.5,1121.4 653.3,1120.4Q652.2,1119.4 651.7,1118.0Q651.1,1116.7 652.1,1115.9Q653.0,1115.0 654.5,1115.0Q656.0,1114.9 657.0,1116.6Q658.0,1118.3 657.5,1119.4Z" fill="#dcaaa2" opacity="0.9"/><path d="M688.8,891.2Q688.4,892.7 687.0,892.9Q685.5,893.1 684.7,892.6Q683.9,892.1 683.4,890.9Q682.9,889.7 683.9,888.2Q685.0,886.8 686.3,887.5Q687.6,888.1 688.4,888.8Q689.1,889.6 688.8,891.2Z" fill="#e0b3aa" opacity="0.9"/><path d="M605.9,971.7Q604.1,971.5 602.8,970.6Q601.4,969.7 601.9,967.6Q602.5,965.5 604.5,964.5Q606.6,963.5 608.3,964.1Q609.9,964.7 610.4,966.4Q611.0,968.0 609.4,969.9Q607.7,971.9 605.9,971.7Z" fill="#dcaaa2" opacity="0.9"/><path d="M593.8,914.2Q592.1,913.7 592.1,911.5Q592.2,909.2 593.1,907.9Q594.0,906.5 596.0,907.0Q598.0,907.6 599.4,908.8Q600.9,909.9 599.6,912.1Q598.2,914.3 596.9,914.5Q595.6,914.7 593.8,914.2Z" fill="#dcaaa2" opacity="0.9"/><path d="M564.2,865.4Q563.0,866.5 562.0,866.4Q561.0,866.3 560.5,864.8Q559.9,863.3 560.2,862.5Q560.4,861.8 561.5,861.3Q562.5,860.9 563.6,861.3Q564.7,861.7 565.1,863.0Q565.4,864.3 564.2,865.4Z" fill="#d8a59c" opacity="0.9"/><path d="M700.3,1046.1Q699.2,1045.4 699.6,1043.3Q699.9,1041.2 701.1,1040.7Q702.3,1040.1 703.3,1040.3Q704.3,1040.5 705.4,1042.3Q706.4,1044.1 705.2,1045.4Q704.0,1046.7 702.7,1046.8Q701.4,1046.8 700.3,1046.1Z" fill="#dcaaa2" opacity="0.9"/><path d="M623.0,1004.3Q621.7,1006.1 620.1,1005.7Q618.6,1005.3 617.6,1003.4Q616.6,1001.4 617.6,1000.3Q618.7,999.2 620.4,998.5Q622.1,997.9 622.8,998.7Q623.6,999.6 624.0,1001.1Q624.4,1002.6 623.0,1004.3Z" fill="#d8a59c" opacity="0.9"/><path d="M736.8,976.5Q736.1,977.9 734.1,978.0Q732.1,978.1 731.2,976.5Q730.4,974.9 730.5,973.0Q730.7,971.2 731.5,970.4Q732.3,969.6 734.1,970.1Q735.9,970.5 736.8,972.8Q737.6,975.1 736.8,976.5Z" fill="#e0b3aa" opacity="0.9"/><path d="M713.9,904.1Q713.5,906.2 711.9,907.0Q710.3,907.7 708.9,907.2Q707.5,906.8 707.1,904.9Q706.6,903.0 707.4,901.4Q708.2,899.9 710.4,899.9Q712.7,899.9 713.5,901.0Q714.3,902.0 713.9,904.1Z" fill="#dcaaa2" opacity="0.9"/><path d="M657.1,1087.4Q656.2,1088.1 654.9,1086.9Q653.5,1085.8 653.1,1084.8Q652.7,1083.8 654.0,1082.3Q655.3,1080.8 656.7,1080.8Q658.1,1080.7 658.5,1082.1Q659.0,1083.6 658.4,1085.1Q657.9,1086.7 657.1,1087.4Z" fill="#dcaaa2" opacity="0.9"/><path d="M634.6,1025.1Q633.5,1025.2 632.9,1024.1Q632.2,1022.9 632.7,1021.8Q633.1,1020.7 634.4,1019.8Q635.7,1018.9 636.9,1019.5Q638.0,1020.1 638.2,1021.5Q638.5,1023.0 637.1,1024.0Q635.8,1025.0 634.6,1025.1Z" fill="#d8a59c" opacity="0.9"/><path d="M614.6,905.8Q614.3,907.1 613.3,907.2Q612.3,907.4 610.3,906.2Q608.2,905.1 608.1,903.8Q608.1,902.6 608.9,901.8Q609.7,900.9 611.3,900.9Q612.8,900.8 613.8,902.7Q614.9,904.5 614.6,905.8Z" fill="#dcaaa2" opacity="0.9"/><path d="M746.9,1128.4Q746.7,1130.2 745.2,1131.1Q743.7,1132.0 742.2,1131.5Q740.7,1131.0 740.3,1129.4Q740.0,1127.7 740.9,1126.1Q741.8,1124.4 742.9,1124.5Q744.1,1124.5 745.6,1125.6Q747.1,1126.6 746.9,1128.4Z" fill="#dcaaa2" opacity="0.9"/><path d="M564.6,969.8Q563.3,969.4 563.0,968.5Q562.6,967.6 563.4,966.1Q564.1,964.6 565.0,964.4Q565.9,964.2 567.2,965.0Q568.5,965.8 568.0,967.5Q567.6,969.1 566.7,969.7Q565.8,970.3 564.6,969.8Z" fill="#e0b3aa" opacity="0.9"/><path d="M604.2,1079.5Q602.6,1080.4 601.0,1079.8Q599.4,1079.1 599.1,1077.7Q598.8,1076.2 600.0,1074.4Q601.2,1072.6 602.7,1072.9Q604.1,1073.2 605.1,1073.9Q606.1,1074.7 606.0,1076.6Q605.8,1078.5 604.2,1079.5Z" fill="#e0b3aa" opacity="0.9"/><path d="M566.8,932.3Q567.0,933.6 565.3,935.4Q563.5,937.2 561.5,936.5Q559.5,935.8 558.4,934.6Q557.3,933.5 558.2,931.7Q559.2,929.9 561.0,929.6Q562.8,929.3 564.7,930.1Q566.6,931.0 566.8,932.3Z" fill="#dcaaa2" opacity="0.9"/><path d="M712.2,1061.1Q710.0,1060.9 709.2,1059.3Q708.4,1057.7 709.6,1056.3Q710.8,1054.8 711.9,1054.2Q713.0,1053.5 714.8,1054.4Q716.6,1055.3 716.7,1057.4Q716.9,1059.6 715.7,1060.4Q714.5,1061.2 712.2,1061.1Z" fill="#dcaaa2" opacity="0.9"/><path d="M677.7,1028.1Q676.7,1027.0 677.1,1025.6Q677.6,1024.2 679.0,1023.5Q680.5,1022.9 681.6,1023.4Q682.7,1024.0 683.0,1025.2Q683.4,1026.3 682.5,1027.3Q681.7,1028.4 680.2,1028.8Q678.7,1029.3 677.7,1028.1Z" fill="#dcaaa2" opacity="0.9"/><path d="M622.7,986.9Q621.6,987.1 620.3,985.6Q619.0,984.1 619.7,982.6Q620.5,981.1 622.0,980.9Q623.6,980.6 624.8,981.2Q626.1,981.8 626.2,982.9Q626.2,984.1 625.1,985.4Q623.9,986.8 622.7,986.9Z" fill="#dcaaa2" opacity="0.9"/><path d="M671.6,1008.6Q671.0,1007.5 671.4,1006.6Q671.9,1005.8 672.8,1005.1Q673.7,1004.4 675.3,1005.0Q676.9,1005.6 676.8,1007.0Q676.6,1008.3 676.1,1009.2Q675.5,1010.1 673.9,1009.9Q672.3,1009.8 671.6,1008.6Z" fill="#dcaaa2" opacity="0.9"/><path d="M758.5,1118.0Q758.4,1119.5 757.2,1120.1Q756.0,1120.6 755.0,1120.6Q754.1,1120.7 753.4,1119.3Q752.8,1118.0 753.5,1116.6Q754.2,1115.2 755.5,1115.1Q756.8,1115.1 757.8,1115.8Q758.7,1116.5 758.5,1118.0Z" fill="#e0b3aa" opacity="0.9"/><path d="M748.1,1073.5Q747.1,1073.7 746.1,1073.2Q745.1,1072.7 744.6,1070.9Q744.0,1069.1 745.0,1068.1Q745.9,1067.1 747.5,1067.1Q749.1,1067.1 749.4,1068.4Q749.7,1069.7 749.3,1071.5Q749.0,1073.3 748.1,1073.5Z" fill="#dcaaa2" opacity="0.9"/><path d="M770.6,989.8Q770.6,991.4 769.8,992.1Q768.9,992.7 767.4,992.6Q765.9,992.5 765.1,991.3Q764.3,990.1 764.4,988.9Q764.5,987.7 766.0,987.1Q767.5,986.4 769.0,987.3Q770.6,988.2 770.6,989.8Z" fill="#d8a59c" opacity="0.9"/><path d="M508.0,1058.2Q508.5,1059.5 506.3,1060.5Q504.1,1061.6 502.6,1061.6Q501.0,1061.5 499.7,1059.9Q498.3,1058.2 499.1,1056.8Q499.9,1055.3 501.4,1054.6Q503.0,1053.9 505.2,1055.5Q507.5,1057.0 508.0,1058.2Z" fill="#d8a59c" opacity="0.9"/><path d="M491.9,1064.4Q491.2,1065.5 490.4,1065.7Q489.6,1065.8 488.7,1064.8Q487.9,1063.8 487.8,1062.4Q487.7,1061.1 488.6,1060.7Q489.5,1060.3 490.3,1060.8Q491.1,1061.3 491.8,1062.3Q492.6,1063.3 491.9,1064.4Z" fill="#dcaaa2" opacity="0.9"/><path d="M715.8,943.1Q716.0,944.7 715.1,945.9Q714.1,947.1 712.3,946.5Q710.6,946.0 709.6,944.7Q708.6,943.5 709.6,941.6Q710.6,939.7 711.8,939.7Q713.0,939.8 714.3,940.7Q715.7,941.6 715.8,943.1Z" fill="#e0b3aa" opacity="0.9"/><path d="M530.1,919.4Q529.7,920.6 528.2,921.1Q526.7,921.5 525.7,920.4Q524.7,919.4 524.7,917.6Q524.6,915.9 525.9,915.3Q527.3,914.7 528.7,915.3Q530.1,915.8 530.3,917.0Q530.5,918.1 530.1,919.4Z" fill="#dcaaa2" opacity="0.9"/><path d="M763.4,880.3Q762.1,880.3 760.9,878.6Q759.6,876.8 760.2,875.1Q760.7,873.4 762.3,873.0Q763.8,872.7 764.8,873.2Q765.8,873.7 766.1,875.6Q766.3,877.6 765.5,878.9Q764.6,880.2 763.4,880.3Z" fill="#e0b3aa" opacity="0.9"/><path d="M699.4,1006.7Q698.4,1005.4 699.0,1003.5Q699.6,1001.6 700.7,1000.7Q701.9,999.8 703.7,1000.8Q705.6,1001.7 706.1,1003.4Q706.6,1005.0 705.1,1006.6Q703.5,1008.1 702.0,1008.0Q700.5,1008.0 699.4,1006.7Z" fill="#e0b3aa" opacity="0.9"/><path d="M571.9,1051.8Q570.7,1053.1 568.6,1053.0Q566.6,1052.9 565.9,1052.0Q565.3,1051.1 565.4,1049.3Q565.5,1047.5 567.4,1046.4Q569.3,1045.4 570.8,1046.2Q572.3,1046.9 572.7,1048.8Q573.1,1050.6 571.9,1051.8Z" fill="#d8a59c" opacity="0.9"/><path d="M521.2,1000.5Q519.9,1002.1 517.5,1001.1Q515.1,1000.1 514.8,998.0Q514.5,995.9 515.5,994.6Q516.5,993.2 517.9,993.0Q519.4,992.8 520.7,994.0Q521.9,995.3 522.2,997.1Q522.4,998.9 521.2,1000.5Z" fill="#dcaaa2" opacity="0.9"/><path d="M631.0,1053.5Q629.9,1052.8 629.2,1051.3Q628.4,1049.9 629.2,1048.8Q630.0,1047.7 632.2,1047.6Q634.5,1047.4 635.1,1049.0Q635.7,1050.6 635.4,1051.8Q635.1,1053.1 633.5,1053.7Q632.0,1054.3 631.0,1053.5Z" fill="#dcaaa2" opacity="0.9"/><path d="M757.6,951.0Q757.8,952.9 756.3,953.3Q754.9,953.8 753.4,953.4Q751.9,953.0 750.8,950.8Q749.7,948.7 751.1,947.7Q752.6,946.7 753.9,947.0Q755.2,947.2 756.3,948.2Q757.3,949.1 757.6,951.0Z" fill="#d8a59c" opacity="0.9"/><path d="M507.6,961.2Q506.1,961.2 505.5,959.7Q504.8,958.1 505.5,956.6Q506.2,955.1 507.8,954.4Q509.4,953.7 510.4,954.3Q511.5,954.8 511.7,956.0Q511.9,957.3 510.5,959.3Q509.1,961.3 507.6,961.2Z" fill="#e0b3aa" opacity="0.9"/><path d="M754.0,932.4Q754.6,934.0 753.2,934.7Q751.9,935.5 750.8,935.3Q749.6,935.1 748.5,934.5Q747.4,933.9 747.6,932.4Q747.8,930.8 749.4,930.2Q751.0,929.7 752.2,930.3Q753.4,930.9 754.0,932.4Z" fill="#d8a59c" opacity="0.9"/><path d="M540.9,871.8Q540.0,872.8 539.3,872.8Q538.5,872.9 537.3,871.8Q536.1,870.7 536.1,869.6Q536.1,868.4 537.0,867.7Q537.8,867.0 539.3,867.4Q540.7,867.8 541.3,869.3Q541.8,870.8 540.9,871.8Z" fill="#e0b3aa" opacity="0.9"/><path d="M537.6,998.3Q535.9,998.8 534.6,997.7Q533.3,996.5 533.9,994.3Q534.5,992.0 535.8,991.3Q537.1,990.7 538.8,991.2Q540.4,991.7 540.5,993.5Q540.7,995.3 540.0,996.6Q539.4,997.9 537.6,998.3Z" fill="#e0b3aa" opacity="0.9"/><path d="M497.6,1010.6Q496.9,1012.2 494.7,1011.8Q492.4,1011.3 491.4,1009.4Q490.4,1007.6 490.7,1005.4Q491.0,1003.3 492.2,1002.8Q493.5,1002.3 495.4,1004.0Q497.3,1005.7 497.8,1007.4Q498.3,1009.1 497.6,1010.6Z" fill="#d8a59c" opacity="0.9"/><path d="M506.4,1122.2Q505.2,1122.5 504.2,1121.9Q503.2,1121.3 502.9,1119.6Q502.7,1117.9 503.9,1116.8Q505.1,1115.7 506.0,1115.8Q506.9,1115.9 507.7,1117.2Q508.4,1118.5 508.0,1120.2Q507.6,1122.0 506.4,1122.2Z" fill="#d8a59c" opacity="0.9"/><path d="M751.9,1103.8Q750.5,1104.3 748.7,1103.4Q746.9,1102.4 747.1,1100.9Q747.3,1099.3 748.5,1097.8Q749.6,1096.2 751.1,1096.1Q752.6,1096.0 753.3,1097.5Q753.9,1098.9 753.6,1101.1Q753.3,1103.3 751.9,1103.8Z" fill="#d8a59c" opacity="0.9"/><path d="M714.3,1075.5Q714.0,1076.8 712.7,1077.2Q711.4,1077.6 710.0,1076.3Q708.6,1075.1 708.3,1073.7Q707.9,1072.3 708.9,1071.7Q709.8,1071.1 711.4,1071.6Q713.1,1072.1 713.8,1073.2Q714.6,1074.3 714.3,1075.5Z" fill="#e0b3aa" opacity="0.9"/><path d="M683.5,1120.0Q682.2,1120.5 681.5,1119.1Q680.8,1117.7 681.0,1115.7Q681.2,1113.7 682.2,1112.9Q683.3,1112.2 685.0,1112.6Q686.8,1113.1 687.0,1114.6Q687.2,1116.0 686.1,1117.8Q684.9,1119.5 683.5,1120.0Z" fill="#e0b3aa" opacity="0.9"/><path d="M578.9,1071.3Q577.5,1071.2 576.7,1070.7Q576.0,1070.2 576.1,1068.3Q576.2,1066.3 577.6,1065.8Q579.0,1065.2 579.9,1065.5Q580.9,1065.8 581.2,1066.9Q581.6,1068.0 580.9,1069.7Q580.3,1071.4 578.9,1071.3Z" fill="#dcaaa2" opacity="0.9"/><path d="M651.5,886.5Q649.9,885.9 649.4,884.7Q648.9,883.4 649.7,882.1Q650.4,880.9 652.4,880.3Q654.4,879.6 655.3,880.3Q656.2,880.9 656.0,882.5Q655.8,884.0 654.4,885.5Q653.0,887.1 651.5,886.5Z" fill="#e0b3aa" opacity="0.9"/><path d="M737.4,906.1Q735.4,904.9 735.8,903.4Q736.1,901.9 736.7,900.7Q737.2,899.5 739.4,900.1Q741.5,900.7 742.3,901.7Q743.1,902.7 742.8,904.5Q742.4,906.3 740.9,906.8Q739.4,907.3 737.4,906.1Z" fill="#e0b3aa" opacity="0.9"/><path d="M717.9,1113.4Q717.6,1114.3 716.4,1115.2Q715.1,1116.1 714.0,1115.3Q712.9,1114.6 712.5,1113.3Q712.0,1112.0 712.8,1111.0Q713.7,1110.0 714.9,1110.1Q716.1,1110.3 717.2,1111.4Q718.2,1112.6 717.9,1113.4Z" fill="#d8a59c" opacity="0.9"/><path d="M608.0,968.0 L624.5,935.0 L647.7,918.6 L697.2,921.9 L762.0,928.5 L762.0,1007.8 L730.3,1014.4 L697.2,1014.4 L670.8,1007.8 L647.7,988.0 L624.5,981.3Z" fill="#e9d8c8" opacity="1" filter="url(#soft2)"/><path d="M496.0,1044.0 L532.0,1041.0 L555.0,1054.0 L565.0,1084.0 L561.8,1132.0 L496.0,1132.0Z" fill="#e7d4c2" opacity="1" filter="url(#soft2)"/><path d="M735.0,1040.0 L762.0,1035.0 L762.0,1132.0 L740.0,1132.0 L732.0,1100.0Z" fill="#e9d8c7" opacity="0.9" filter="url(#soft2)"/><path d="M654.3,1064.0 L684.0,1057.3 L762.0,1070.5 L762.0,1093.6 L730.3,1097.0 L684.0,1080.4Z" fill="#f3ebe2" opacity="1" filter="url(#soft2)"/><path d="M724.9,986.4Q728.0,992.6 726.9,996.9Q725.9,1001.1 718.7,1004.3Q711.6,1007.5 704.0,1007.0Q696.5,1006.6 691.0,1002.0Q685.5,997.4 684.1,994.8Q682.8,992.2 685.6,984.6Q688.5,977.0 694.4,974.8Q700.4,972.7 704.1,971.9Q707.8,971.2 714.8,975.7Q721.8,980.2 724.9,986.4Z" fill="#e0b8a8"/><circle cx="690.4" cy="1000.5" r="1.2" fill="#ebd0c2"/><circle cx="700.5" cy="1000.7" r="1.2" fill="#ebd0c2"/><circle cx="709.0" cy="975.2" r="1.2" fill="#ebd0c2"/><circle cx="713.0" cy="995.6" r="1.2" fill="#ebd0c2"/><circle cx="685.5" cy="986.7" r="1.2" fill="#ebd0c2"/><circle cx="722.4" cy="986.1" r="1.2" fill="#ebd0c2"/><circle cx="711.9" cy="992.4" r="1.2" fill="#ebd0c2"/><circle cx="715.2" cy="999.4" r="1.2" fill="#ebd0c2"/><circle cx="685.5" cy="987.6" r="1.2" fill="#ebd0c2"/><circle cx="710.5" cy="984.8" r="1.2" fill="#ebd0c2"/><circle cx="706.2" cy="995.1" r="1.2" fill="#ebd0c2"/><circle cx="714.7" cy="986.0" r="1.2" fill="#ebd0c2"/><circle cx="692.2" cy="999.7" r="1.2" fill="#ebd0c2"/><circle cx="707.1" cy="985.3" r="1.2" fill="#ebd0c2"/><circle cx="707.4" cy="997.7" r="1.2" fill="#ebd0c2"/><circle cx="718.3" cy="990.5" r="1.2" fill="#ebd0c2"/><circle cx="706.9" cy="992.0" r="1.2" fill="#ebd0c2"/><circle cx="715.1" cy="994.8" r="1.2" fill="#ebd0c2"/><circle cx="711.2" cy="989.3" r="1.2" fill="#ebd0c2"/><circle cx="695.0" cy="978.6" r="1.2" fill="#ebd0c2"/><circle cx="709.6" cy="993.5" r="1.2" fill="#ebd0c2"/><circle cx="717.5" cy="979.0" r="1.2" fill="#ebd0c2"/><circle cx="705.6" cy="987.1" r="1.2" fill="#ebd0c2"/><circle cx="700.4" cy="980.5" r="1.2" fill="#ebd0c2"/><circle cx="701.3" cy="976.6" r="1.2" fill="#ebd0c2"/><circle cx="723.1" cy="990.6" r="1.2" fill="#ebd0c2"/><circle cx="693.9" cy="995.5" r="1.2" fill="#ebd0c2"/><circle cx="697.4" cy="988.3" r="1.2" fill="#ebd0c2"/><circle cx="704.0" cy="980.0" r="1.2" fill="#ebd0c2"/><circle cx="708.0" cy="1003.0" r="1.2" fill="#ebd0c2"/><circle cx="701.0" cy="996.0" r="1.2" fill="#ebd0c2"/><circle cx="716.8" cy="977.4" r="1.2" fill="#ebd0c2"/><circle cx="689.5" cy="984.1" r="1.2" fill="#ebd0c2"/><circle cx="690.1" cy="992.0" r="1.2" fill="#ebd0c2"/><circle cx="692.3" cy="995.6" r="1.2" fill="#ebd0c2"/><circle cx="690.4" cy="988.3" r="1.2" fill="#ebd0c2"/><circle cx="717.8" cy="985.5" r="1.2" fill="#ebd0c2"/><circle cx="697.7" cy="999.7" r="1.2" fill="#ebd0c2"/><circle cx="701.0" cy="974.8" r="1.2" fill="#ebd0c2"/><circle cx="723.4" cy="992.8" r="1.2" fill="#ebd0c2"/><circle cx="700.8" cy="976.8" r="1.2" fill="#ebd0c2"/><circle cx="702.2" cy="991.8" r="1.2" fill="#ebd0c2"/><circle cx="708.3" cy="979.9" r="1.2" fill="#ebd0c2"/><circle cx="712.1" cy="990.8" r="1.2" fill="#ebd0c2"/><circle cx="716.2" cy="1002.5" r="1.2" fill="#ebd0c2"/><path d="M555.6,1085.1Q557.5,1087.9 556.6,1091.0Q555.7,1094.1 552.2,1095.0Q548.8,1095.9 544.9,1094.5Q541.1,1093.2 540.5,1091.0Q540.0,1088.9 540.8,1085.8Q541.7,1082.7 545.3,1081.4Q549.0,1080.2 551.4,1081.2Q553.8,1082.2 555.6,1085.1Z" fill="#dfb6a8" opacity="0.8"/><path d="M644.3,927.6Q645.0,929.9 644.2,932.1Q643.3,934.3 641.5,934.5Q639.7,934.7 638.2,933.9Q636.7,933.1 635.8,931.7Q635.0,930.3 635.3,927.8Q635.6,925.4 638.0,924.6Q640.5,923.9 642.0,924.6Q643.5,925.3 644.3,927.6Z" fill="#f1e6d8" stroke="#cfae86" stroke-width="0.9"/><path d="M623.9,958.1Q625.0,959.3 623.8,960.6Q622.7,961.9 621.4,963.2Q620.1,964.5 619.2,963.6Q618.2,962.7 617.0,961.0Q615.8,959.3 616.3,957.7Q616.8,956.0 617.9,955.6Q619.1,955.2 620.9,956.1Q622.7,956.9 623.9,958.1Z" fill="#f1e6d8" stroke="#cfae86" stroke-width="0.9"/><path d="M704.0,932.7Q704.0,934.4 703.9,936.3Q703.8,938.2 701.8,938.9Q699.7,939.6 698.2,939.5Q696.7,939.3 696.3,937.5Q696.0,935.6 696.5,933.2Q697.0,930.9 699.0,930.1Q701.1,929.3 702.5,930.1Q704.0,931.0 704.0,932.7Z" fill="#f1e6d8" stroke="#cfae86" stroke-width="0.9"/><path d="M741.9,992.6Q742.4,994.7 742.1,996.2Q741.7,997.7 740.4,999.1Q739.1,1000.6 736.3,999.3Q733.6,998.1 732.3,997.0Q731.0,996.0 732.7,994.2Q734.3,992.5 736.3,991.2Q738.4,990.0 739.9,990.2Q741.5,990.5 741.9,992.6Z" fill="#f1e6d8" stroke="#cfae86" stroke-width="0.9"/><path d="M748.7,958.5Q749.3,960.7 748.8,962.1Q748.2,963.5 746.5,964.0Q744.7,964.4 743.9,963.5Q743.1,962.7 742.4,961.2Q741.7,959.8 741.4,958.4Q741.1,957.0 743.0,956.9Q744.8,956.8 746.5,956.6Q748.2,956.3 748.7,958.5Z" fill="#f1e6d8" stroke="#cfae86" stroke-width="0.9"/></g><path d="M554.1,904.4 L540.7,892.2 M550.9,896.1 L539.9,891.4 L544.9,902.0" fill="none" stroke="#5a2ca8" stroke-width="1.7" stroke-linecap="round" stroke-linejoin="miter"/><path d="M712.5,904.4 L699.1,892.2 M709.3,896.1 L698.3,891.4 L703.3,902.0" fill="none" stroke="#5a2ca8" stroke-width="1.7" stroke-linecap="round" stroke-linejoin="miter"/><path d="M555.8,1017.1 L542.4,1004.9 M552.6,1008.8 L541.6,1004.1 L546.6,1014.7" fill="none" stroke="#5a2ca8" stroke-width="1.7" stroke-linecap="round" stroke-linejoin="miter"/><path d="M665.5,1110.7 L652.1,1098.5 M662.3,1102.4 L651.3,1097.7 L656.3,1108.3" fill="none" stroke="#5a2ca8" stroke-width="1.7" stroke-linecap="round" stroke-linejoin="miter"/><path d="M549.3,920.0 L564.9,928.4 L559.2,929.6 L557.9,935.8 Z" fill="#0f6a33"/></g><rect x="499.7" y="869.7" width="259.1" height="259.7" fill="none" stroke="#2a2a2a" stroke-width="1.6"/><rect x="500.1" y="1109.6" width="95.5" height="19.8" fill="#ededed" stroke="#1a1a1a" stroke-width="1.5"/><text x="548.1" y="1124.2" font-size="14.8" font-weight="normal" text-anchor="middle" fill="#1a1a1a" style="stroke:#1a1a1a;stroke-width:0.2px">RUPP E16.5</text><line x1="697.5" y1="1118.8" x2="745.8" y2="1118.8" stroke="#111" stroke-width="2.6"/>
<rect x="3.3" y="3.3" width="780.0" height="569.9" fill="none" stroke="#111" stroke-width="1.5"/><rect x="3.3" y="588.3" width="780.0" height="558.0" fill="none" stroke="#111" stroke-width="1.5"/><text x="18.80" y="30.50" font-size="24" font-weight="bold" font-style="normal" text-anchor="middle" fill="#111" >A</text><text x="19.30" y="612.90" font-size="24" font-weight="bold" font-style="normal" text-anchor="middle" fill="#111" >B</text><line x1="56.80" y1="14.55" x2="56.80" y2="71.00" stroke="#111" stroke-width="2.0" stroke-linecap="butt"/><line x1="56.80" y1="79.40" x2="56.80" y2="244.60" stroke="#111" stroke-width="2.0" stroke-linecap="butt"/><line x1="52.90" y1="66.20" x2="60.70" y2="73.60" stroke="#111" stroke-width="1.8" stroke-linecap="butt"/><line x1="52.90" y1="76.20" x2="60.70" y2="83.60" stroke="#111" stroke-width="1.8" stroke-linecap="butt"/><line x1="52.20" y1="15.50" x2="57.60" y2="15.50" stroke="#111" stroke-width="1.9" stroke-linecap="butt"/><text transform="matrix(0.9,0,0,1,51.60,19.10)" x="0" y="0" font-size="9.0" font-weight="bold" font-style="normal" text-anchor="end" fill="#111" >50</text><line x1="52.20" y1="43.00" x2="57.60" y2="43.00" stroke="#111" stroke-width="1.9" stroke-linecap="butt"/><text transform="matrix(0.9,0,0,1,51.60,46.60)" x="0" y="0" font-size="9.0" font-weight="bold" font-style="normal" text-anchor="end" fill="#111" >45</text><text transform="matrix(0.9,0,0,1,51.80,73.80)" x="0" y="0" font-size="9.0" font-weight="bold" font-style="normal" text-anchor="end" fill="#111" >40</text><text transform="matrix(0.9,0,0,1,51.80,83.80)" x="0" y="0" font-size="9.0" font-weight="bold" font-style="normal" text-anchor="end" fill="#111" >25</text><line x1="52.20" y1="113.08" x2="57.60" y2="113.08" stroke="#111" stroke-width="1.9" stroke-linecap="butt"/><text transform="matrix(0.9,0,0,1,51.60,116.68)" x="0" y="0" font-size="9.0" font-weight="bold" font-style="normal" text-anchor="end" fill="#111" >20</text><line x1="52.20" y1="145.96" x2="57.60" y2="145.96" stroke="#111" stroke-width="1.9" stroke-linecap="butt"/><text transform="matrix(0.9,0,0,1,51.60,149.56)" x="0" y="0" font-size="9.0" font-weight="bold" font-style="normal" text-anchor="end" fill="#111" >15</text><line x1="52.20" y1="178.84" x2="57.60" y2="178.84" stroke="#111" stroke-width="1.9" stroke-linecap="butt"/><text transform="matrix(0.9,0,0,1,51.60,182.44)" x="0" y="0" font-size="9.0" font-weight="bold" font-style="normal" text-anchor="end" fill="#111" >10</text><line x1="52.20" y1="211.72" x2="57.60" y2="211.72" stroke="#111" stroke-width="1.9" stroke-linecap="butt"/><text transform="matrix(0.9,0,0,1,51.60,215.32)" x="0" y="0" font-size="9.0" font-weight="bold" font-style="normal" text-anchor="end" fill="#111" >5</text><line x1="52.20" y1="244.60" x2="57.60" y2="244.60" stroke="#111" stroke-width="1.9" stroke-linecap="butt"/><text transform="matrix(0.9,0,0,1,51.60,248.20)" x="0" y="0" font-size="9.0" font-weight="bold" font-style="normal" text-anchor="end" fill="#111" >0</text><rect x="66.10" y="99.27" width="21.80" height="145.33" fill="#3c56a6"/><line x1="77.00" y1="99.77" x2="77.00" y2="88.62" stroke="#3c56a6" stroke-width="1.4" stroke-linecap="butt"/><line x1="71.50" y1="88.62" x2="82.50" y2="88.62" stroke="#3c56a6" stroke-width="1.6" stroke-linecap="butt"/><rect x="96.30" y="132.28" width="22.60" height="112.32" fill="#e1342a"/><line x1="107.60" y1="132.78" x2="107.60" y2="119.52" stroke="#e1342a" stroke-width="1.4" stroke-linecap="butt"/><line x1="102.10" y1="119.52" x2="113.10" y2="119.52" stroke="#e1342a" stroke-width="1.6" stroke-linecap="butt"/><rect x="147.40" y="99.27" width="22.30" height="145.33" fill="#3c56a6"/><line x1="158.55" y1="99.77" x2="158.55" y2="81.12" stroke="#3c56a6" stroke-width="1.4" stroke-linecap="butt"/><line x1="153.05" y1="81.12" x2="164.05" y2="81.12" stroke="#3c56a6" stroke-width="1.6" stroke-linecap="butt"/><rect x="178.10" y="151.29" width="22.00" height="93.31" fill="#e1342a"/><line x1="189.10" y1="151.79" x2="189.10" y2="145.11" stroke="#e1342a" stroke-width="1.4" stroke-linecap="butt"/><line x1="183.60" y1="145.11" x2="194.60" y2="145.11" stroke="#e1342a" stroke-width="1.6" stroke-linecap="butt"/><line x1="55.80" y1="244.60" x2="209.00" y2="244.60" stroke="#111" stroke-width="2.0" stroke-linecap="butt"/><line x1="92.20" y1="244.60" x2="92.20" y2="249.40" stroke="#111" stroke-width="1.7" stroke-linecap="butt"/><text x="92.20" y="257.23" font-size="8.7" font-weight="bold" font-style="normal" text-anchor="middle" fill="#111" >E16.5</text><line x1="173.80" y1="244.60" x2="173.80" y2="249.40" stroke="#111" stroke-width="1.7" stroke-linecap="butt"/><text x="173.80" y="257.23" font-size="8.7" font-weight="bold" font-style="normal" text-anchor="middle" fill="#111" >E18.5</text><text x="132.90" y="270.65" font-size="9.3" font-weight="bold" font-style="normal" text-anchor="middle" fill="#111" >Gestation</text><text transform="translate(36.91,132.25) rotate(-90)" x="0" y="0" font-size="9.1" text-anchor="middle" fill="#111" xml:space="preserve"><tspan font-weight="bold" font-style="normal">Relative </tspan><tspan font-weight="bold" font-style="italic">Tpbpa</tspan><tspan font-weight="bold" font-style="normal"> area (%)</tspan></text><line x1="151.20" y1="73.20" x2="200.40" y2="73.20" stroke="#222" stroke-width="1.0" stroke-linecap="butt"/><text x="175.80" y="70.94" font-size="8.6" font-weight="bold" font-style="normal" text-anchor="middle" fill="#1a1a1a" style="stroke-width:0.2px;letter-spacing:0.55px">*</text><rect x="63.90" y="14.10" width="14.20" height="8.30" fill="#3c56a6"/><rect x="63.90" y="29.80" width="14.20" height="8.10" fill="#e1342a"/><text x="84.00" y="21.40" font-size="9.1" font-weight="normal" font-style="normal" text-anchor="start" fill="#111" style="stroke-width:0.12px">Sham</text><text x="84.00" y="36.90" font-size="9.1" font-weight="normal" font-style="normal" text-anchor="start" fill="#111" style="stroke-width:0.12px">RUPP</text><line x1="313.30" y1="16.15" x2="313.30" y2="72.60" stroke="#111" stroke-width="2.0" stroke-linecap="butt"/><line x1="313.30" y1="81.00" x2="313.30" y2="246.20" stroke="#111" stroke-width="2.0" stroke-linecap="butt"/><line x1="309.40" y1="67.80" x2="317.20" y2="75.20" stroke="#111" stroke-width="1.8" stroke-linecap="butt"/><line x1="309.40" y1="77.80" x2="317.20" y2="85.20" stroke="#111" stroke-width="1.8" stroke-linecap="butt"/><line x1="308.70" y1="17.10" x2="314.10" y2="17.10" stroke="#111" stroke-width="1.9" stroke-linecap="butt"/><text transform="matrix(0.9,0,0,1,308.10,20.70)" x="0" y="0" font-size="9.0" font-weight="bold" font-style="normal" text-anchor="end" fill="#111" >50</text><line x1="308.70" y1="44.60" x2="314.10" y2="44.60" stroke="#111" stroke-width="1.9" stroke-linecap="butt"/><text transform="matrix(0.9,0,0,1,308.10,48.20)" x="0" y="0" font-size="9.0" font-weight="bold" font-style="normal" text-anchor="end" fill="#111" >45</text><text transform="matrix(0.9,0,0,1,308.30,75.40)" x="0" y="0" font-size="9.0" font-weight="bold" font-style="normal" text-anchor="end" fill="#111" >40</text><text transform="matrix(0.9,0,0,1,308.30,85.40)" x="0" y="0" font-size="9.0" font-weight="bold" font-style="normal" text-anchor="end" fill="#111" >25</text><line x1="308.70" y1="114.68" x2="314.10" y2="114.68" stroke="#111" stroke-width="1.9" stroke-linecap="butt"/><text transform="matrix(0.9,0,0,1,308.10,118.28)" x="0" y="0" font-size="9.0" font-weight="bold" font-style="normal" text-anchor="end" fill="#111" >20</text><line x1="308.70" y1="147.56" x2="314.10" y2="147.56" stroke="#111" stroke-width="1.9" stroke-linecap="butt"/><text transform="matrix(0.9,0,0,1,308.10,151.16)" x="0" y="0" font-size="9.0" font-weight="bold" font-style="normal" text-anchor="end" fill="#111" >15</text><line x1="308.70" y1="180.44" x2="314.10" y2="180.44" stroke="#111" stroke-width="1.9" stroke-linecap="butt"/><text transform="matrix(0.9,0,0,1,308.10,184.04)" x="0" y="0" font-size="9.0" font-weight="bold" font-style="normal" text-anchor="end" fill="#111" >10</text><line x1="308.70" y1="213.32" x2="314.10" y2="213.32" stroke="#111" stroke-width="1.9" stroke-linecap="butt"/><text transform="matrix(0.9,0,0,1,308.10,216.92)" x="0" y="0" font-size="9.0" font-weight="bold" font-style="normal" text-anchor="end" fill="#111" >5</text><line x1="308.70" y1="246.20" x2="314.10" y2="246.20" stroke="#111" stroke-width="1.9" stroke-linecap="butt"/><text transform="matrix(0.9,0,0,1,308.10,249.80)" x="0" y="0" font-size="9.0" font-weight="bold" font-style="normal" text-anchor="end" fill="#111" >0</text><rect x="322.20" y="176.30" width="22.60" height="69.90" fill="#3c56a6"/><line x1="333.50" y1="176.80" x2="333.50" y2="171.30" stroke="#3c56a6" stroke-width="1.4" stroke-linecap="butt"/><line x1="328.00" y1="171.30" x2="339.00" y2="171.30" stroke="#3c56a6" stroke-width="1.6" stroke-linecap="butt"/><rect x="353.10" y="188.20" width="22.40" height="58.00" fill="#e1342a"/><line x1="364.30" y1="188.70" x2="364.30" y2="178.60" stroke="#e1342a" stroke-width="1.4" stroke-linecap="butt"/><line x1="358.80" y1="178.60" x2="369.80" y2="178.60" stroke="#e1342a" stroke-width="1.6" stroke-linecap="butt"/><rect x="404.10" y="198.00" width="22.40" height="48.20" fill="#3c56a6"/><line x1="415.30" y1="198.50" x2="415.30" y2="193.53" stroke="#3c56a6" stroke-width="1.4" stroke-linecap="butt"/><line x1="409.80" y1="193.53" x2="420.80" y2="193.53" stroke="#3c56a6" stroke-width="1.6" stroke-linecap="butt"/><rect x="434.50" y="217.00" width="22.40" height="29.20" fill="#e1342a"/><line x1="445.70" y1="217.50" x2="445.70" y2="211.08" stroke="#e1342a" stroke-width="1.4" stroke-linecap="butt"/><line x1="440.20" y1="211.08" x2="451.20" y2="211.08" stroke="#e1342a" stroke-width="1.6" stroke-linecap="butt"/><line x1="312.30" y1="246.20" x2="465.10" y2="246.20" stroke="#111" stroke-width="2.0" stroke-linecap="butt"/><line x1="348.70" y1="246.20" x2="348.70" y2="251.00" stroke="#111" stroke-width="1.7" stroke-linecap="butt"/><text x="348.70" y="258.83" font-size="8.7" font-weight="bold" font-style="normal" text-anchor="middle" fill="#111" >E16.5</text><line x1="431.10" y1="246.20" x2="431.10" y2="251.00" stroke="#111" stroke-width="1.7" stroke-linecap="butt"/><text x="431.10" y="258.83" font-size="8.7" font-weight="bold" font-style="normal" text-anchor="middle" fill="#111" >E18.5</text><text x="389.20" y="272.25" font-size="9.3" font-weight="bold" font-style="normal" text-anchor="middle" fill="#111" >Gestation</text><text transform="translate(294.03,130.25) rotate(-90)" x="0" y="0" font-size="9.2" text-anchor="middle" fill="#111" xml:space="preserve"><tspan font-weight="bold" font-style="italic">Relative Prl7a2 (Plpf) area (%)</tspan></text><path d="M354.90,172.30 L354.90,169.00 L458.60,169.00 L458.60,172.30" fill="none" stroke="#444" stroke-width="1.0"/><text x="406.75" y="168.44" font-size="8.6" font-weight="bold" font-style="normal" text-anchor="middle" fill="#1a1a1a" style="stroke-width:0.2px;letter-spacing:0.55px">*</text><line x1="582.00" y1="13.85" x2="582.00" y2="70.30" stroke="#111" stroke-width="2.0" stroke-linecap="butt"/><line x1="582.00" y1="78.70" x2="582.00" y2="243.90" stroke="#111" stroke-width="2.0" stroke-linecap="butt"/><line x1="578.10" y1="65.50" x2="585.90" y2="72.90" stroke="#111" stroke-width="1.8" stroke-linecap="butt"/><line x1="578.10" y1="75.50" x2="585.90" y2="82.90" stroke="#111" stroke-width="1.8" stroke-linecap="butt"/><line x1="577.40" y1="14.80" x2="582.80" y2="14.80" stroke="#111" stroke-width="1.9" stroke-linecap="butt"/><text transform="matrix(0.9,0,0,1,576.80,18.40)" x="0" y="0" font-size="9.0" font-weight="bold" font-style="normal" text-anchor="end" fill="#111" >50</text><line x1="577.40" y1="42.30" x2="582.80" y2="42.30" stroke="#111" stroke-width="1.9" stroke-linecap="butt"/><text transform="matrix(0.9,0,0,1,576.80,45.90)" x="0" y="0" font-size="9.0" font-weight="bold" font-style="normal" text-anchor="end" fill="#111" >45</text><text transform="matrix(0.9,0,0,1,577.00,73.10)" x="0" y="0" font-size="9.0" font-weight="bold" font-style="normal" text-anchor="end" fill="#111" >40</text><text transform="matrix(0.9,0,0,1,577.00,83.10)" x="0" y="0" font-size="9.0" font-weight="bold" font-style="normal" text-anchor="end" fill="#111" >25</text><line x1="577.40" y1="112.38" x2="582.80" y2="112.38" stroke="#111" stroke-width="1.9" stroke-linecap="butt"/><text transform="matrix(0.9,0,0,1,576.80,115.98)" x="0" y="0" font-size="9.0" font-weight="bold" font-style="normal" text-anchor="end" fill="#111" >20</text><line x1="577.40" y1="145.26" x2="582.80" y2="145.26" stroke="#111" stroke-width="1.9" stroke-linecap="butt"/><text transform="matrix(0.9,0,0,1,576.80,148.86)" x="0" y="0" font-size="9.0" font-weight="bold" font-style="normal" text-anchor="end" fill="#111" >15</text><line x1="577.40" y1="178.14" x2="582.80" y2="178.14" stroke="#111" stroke-width="1.9" stroke-linecap="butt"/><text transform="matrix(0.9,0,0,1,576.80,181.74)" x="0" y="0" font-size="9.0" font-weight="bold" font-style="normal" text-anchor="end" fill="#111" >10</text><line x1="577.40" y1="211.02" x2="582.80" y2="211.02" stroke="#111" stroke-width="1.9" stroke-linecap="butt"/><text transform="matrix(0.9,0,0,1,576.80,214.62)" x="0" y="0" font-size="9.0" font-weight="bold" font-style="normal" text-anchor="end" fill="#111" >5</text><line x1="577.40" y1="243.90" x2="582.80" y2="243.90" stroke="#111" stroke-width="1.9" stroke-linecap="butt"/><text transform="matrix(0.9,0,0,1,576.80,247.50)" x="0" y="0" font-size="9.0" font-weight="bold" font-style="normal" text-anchor="end" fill="#111" >0</text><rect x="591.30" y="204.90" width="22.20" height="39.00" fill="#3c56a6"/><line x1="602.40" y1="205.40" x2="602.40" y2="198.92" stroke="#3c56a6" stroke-width="1.4" stroke-linecap="butt"/><line x1="596.90" y1="198.92" x2="607.90" y2="198.92" stroke="#3c56a6" stroke-width="1.6" stroke-linecap="butt"/><rect x="621.70" y="200.30" width="22.20" height="43.60" fill="#e1342a"/><line x1="632.80" y1="200.80" x2="632.80" y2="191.88" stroke="#e1342a" stroke-width="1.4" stroke-linecap="butt"/><line x1="627.30" y1="191.88" x2="638.30" y2="191.88" stroke="#e1342a" stroke-width="1.6" stroke-linecap="butt"/><rect x="672.50" y="222.33" width="22.20" height="21.57" fill="#3c56a6"/><line x1="683.60" y1="222.83" x2="683.60" y2="216.28" stroke="#3c56a6" stroke-width="1.4" stroke-linecap="butt"/><line x1="678.10" y1="216.28" x2="689.10" y2="216.28" stroke="#3c56a6" stroke-width="1.6" stroke-linecap="butt"/><rect x="703.30" y="231.01" width="22.20" height="12.89" fill="#e1342a"/><line x1="714.40" y1="231.51" x2="714.40" y2="225.88" stroke="#e1342a" stroke-width="1.4" stroke-linecap="butt"/><line x1="708.90" y1="225.88" x2="719.90" y2="225.88" stroke="#e1342a" stroke-width="1.6" stroke-linecap="butt"/><line x1="581.00" y1="243.90" x2="734.70" y2="243.90" stroke="#111" stroke-width="2.0" stroke-linecap="butt"/><line x1="618.00" y1="243.90" x2="618.00" y2="248.70" stroke="#111" stroke-width="1.7" stroke-linecap="butt"/><text x="618.00" y="256.53" font-size="8.7" font-weight="bold" font-style="normal" text-anchor="middle" fill="#111" >E16.5</text><line x1="699.20" y1="243.90" x2="699.20" y2="248.70" stroke="#111" stroke-width="1.7" stroke-linecap="butt"/><text x="699.20" y="256.53" font-size="8.7" font-weight="bold" font-style="normal" text-anchor="middle" fill="#111" >E18.5</text><text x="658.35" y="269.95" font-size="9.3" font-weight="bold" font-style="normal" text-anchor="middle" fill="#111" >Gestation</text><text transform="translate(561.84,128.60) rotate(-90)" x="0" y="0" font-size="9.05" text-anchor="middle" fill="#111" xml:space="preserve"><tspan font-weight="bold" font-style="italic">Relative Aldh1a3</tspan><tspan font-weight="bold" font-style="normal">  area (%)</tspan></text><path d="M626.00,182.60 L626.00,179.70 L727.80,179.70 L727.80,182.60" fill="none" stroke="#333" stroke-width="1.0"/><text x="677.18" y="178.74" font-size="8.6" font-weight="bold" font-style="normal" text-anchor="middle" fill="#1a1a1a" style="stroke-width:0.2px;letter-spacing:0.55px">**</text><line x1="53.90" y1="313.25" x2="53.90" y2="369.70" stroke="#111" stroke-width="2.0" stroke-linecap="butt"/><line x1="53.90" y1="378.10" x2="53.90" y2="543.30" stroke="#111" stroke-width="2.0" stroke-linecap="butt"/><line x1="50.00" y1="364.90" x2="57.80" y2="372.30" stroke="#111" stroke-width="1.8" stroke-linecap="butt"/><line x1="50.00" y1="374.90" x2="57.80" y2="382.30" stroke="#111" stroke-width="1.8" stroke-linecap="butt"/><line x1="49.30" y1="314.20" x2="54.70" y2="314.20" stroke="#111" stroke-width="1.9" stroke-linecap="butt"/><text transform="matrix(0.9,0,0,1,48.70,317.80)" x="0" y="0" font-size="9.0" font-weight="bold" font-style="normal" text-anchor="end" fill="#111" >50</text><line x1="49.30" y1="341.70" x2="54.70" y2="341.70" stroke="#111" stroke-width="1.9" stroke-linecap="butt"/><text transform="matrix(0.9,0,0,1,48.70,345.30)" x="0" y="0" font-size="9.0" font-weight="bold" font-style="normal" text-anchor="end" fill="#111" >45</text><text transform="matrix(0.9,0,0,1,48.90,372.50)" x="0" y="0" font-size="9.0" font-weight="bold" font-style="normal" text-anchor="end" fill="#111" >40</text><text transform="matrix(0.9,0,0,1,48.90,382.50)" x="0" y="0" font-size="9.0" font-weight="bold" font-style="normal" text-anchor="end" fill="#111" >25</text><line x1="49.30" y1="411.78" x2="54.70" y2="411.78" stroke="#111" stroke-width="1.9" stroke-linecap="butt"/><text transform="matrix(0.9,0,0,1,48.70,415.38)" x="0" y="0" font-size="9.0" font-weight="bold" font-style="normal" text-anchor="end" fill="#111" >20</text><line x1="49.30" y1="444.66" x2="54.70" y2="444.66" stroke="#111" stroke-width="1.9" stroke-linecap="butt"/><text transform="matrix(0.9,0,0,1,48.70,448.26)" x="0" y="0" font-size="9.0" font-weight="bold" font-style="normal" text-anchor="end" fill="#111" >15</text><line x1="49.30" y1="477.54" x2="54.70" y2="477.54" stroke="#111" stroke-width="1.9" stroke-linecap="butt"/><text transform="matrix(0.9,0,0,1,48.70,481.14)" x="0" y="0" font-size="9.0" font-weight="bold" font-style="normal" text-anchor="end" fill="#111" >10</text><line x1="49.30" y1="510.42" x2="54.70" y2="510.42" stroke="#111" stroke-width="1.9" stroke-linecap="butt"/><text transform="matrix(0.9,0,0,1,48.70,514.02)" x="0" y="0" font-size="9.0" font-weight="bold" font-style="normal" text-anchor="end" fill="#111" >5</text><line x1="49.30" y1="543.30" x2="54.70" y2="543.30" stroke="#111" stroke-width="1.9" stroke-linecap="butt"/><text transform="matrix(0.9,0,0,1,48.70,546.90)" x="0" y="0" font-size="9.0" font-weight="bold" font-style="normal" text-anchor="end" fill="#111" >0</text><rect x="62.80" y="531.00" width="22.50" height="12.30" fill="#3c56a6"/><line x1="74.05" y1="531.50" x2="74.05" y2="529.29" stroke="#3c56a6" stroke-width="1.4" stroke-linecap="butt"/><line x1="68.55" y1="529.29" x2="79.55" y2="529.29" stroke="#3c56a6" stroke-width="1.6" stroke-linecap="butt"/><rect x="93.50" y="531.00" width="22.50" height="12.30" fill="#e1342a"/><line x1="104.75" y1="531.50" x2="104.75" y2="529.29" stroke="#e1342a" stroke-width="1.4" stroke-linecap="butt"/><line x1="99.25" y1="529.29" x2="110.25" y2="529.29" stroke="#e1342a" stroke-width="1.6" stroke-linecap="butt"/><rect x="144.10" y="536.40" width="22.50" height="6.90" fill="#3c56a6"/><line x1="155.35" y1="536.90" x2="155.35" y2="534.62" stroke="#3c56a6" stroke-width="1.4" stroke-linecap="butt"/><line x1="149.85" y1="534.62" x2="160.85" y2="534.62" stroke="#3c56a6" stroke-width="1.6" stroke-linecap="butt"/><rect x="175.00" y="541.00" width="22.40" height="2.30" fill="#e1342a"/><line x1="186.20" y1="541.50" x2="186.20" y2="539.62" stroke="#e1342a" stroke-width="1.4" stroke-linecap="butt"/><line x1="180.70" y1="539.62" x2="191.70" y2="539.62" stroke="#e1342a" stroke-width="1.6" stroke-linecap="butt"/><line x1="52.90" y1="543.30" x2="205.80" y2="543.30" stroke="#111" stroke-width="2.0" stroke-linecap="butt"/><line x1="89.40" y1="543.30" x2="89.40" y2="548.10" stroke="#111" stroke-width="1.7" stroke-linecap="butt"/><text x="89.40" y="555.93" font-size="8.7" font-weight="bold" font-style="normal" text-anchor="middle" fill="#111" >E16.5</text><line x1="171.20" y1="543.30" x2="171.20" y2="548.10" stroke="#111" stroke-width="1.7" stroke-linecap="butt"/><text x="171.20" y="555.93" font-size="8.7" font-weight="bold" font-style="normal" text-anchor="middle" fill="#111" >E18.5</text><text x="129.85" y="569.35" font-size="9.3" font-weight="bold" font-style="normal" text-anchor="middle" fill="#111" >Gestation</text><text transform="translate(33.87,430.90) rotate(-90)" x="0" y="0" font-size="9.15" text-anchor="middle" fill="#111" xml:space="preserve"><tspan font-weight="bold" font-style="italic">Relatvie Ascl2 (Mash2)</tspan><tspan font-weight="bold" font-style="normal"> area (%)</tspan></text><path d="M73.60,521.60 L73.60,518.60 L160.50,518.60 L160.50,521.60" fill="none" stroke="#333" stroke-width="1.0"/><text x="109.80" y="519.64" font-size="8.6" font-weight="bold" font-style="normal" text-anchor="middle" fill="#1a1a1a" style="stroke-width:0.2px;letter-spacing:0.55px">*</text><path d="M102.20,507.20 L102.20,504.20 L189.80,504.20 L189.80,507.20" fill="none" stroke="#333" stroke-width="1.0"/><text x="147.28" y="500.94" font-size="8.6" font-weight="bold" font-style="normal" text-anchor="middle" fill="#1a1a1a" style="stroke-width:0.2px;letter-spacing:0.55px">****</text><line x1="313.20" y1="313.05" x2="313.20" y2="543.60" stroke="#111" stroke-width="2.0" stroke-linecap="butt"/><line x1="308.60" y1="314.00" x2="314.00" y2="314.00" stroke="#111" stroke-width="1.9" stroke-linecap="butt"/><text transform="matrix(0.9,0,0,1,308.00,317.60)" x="0" y="0" font-size="9.0" font-weight="bold" font-style="normal" text-anchor="end" fill="#111" >50</text><line x1="308.60" y1="359.92" x2="314.00" y2="359.92" stroke="#111" stroke-width="1.9" stroke-linecap="butt"/><text transform="matrix(0.9,0,0,1,308.00,363.52)" x="0" y="0" font-size="9.0" font-weight="bold" font-style="normal" text-anchor="end" fill="#111" >40</text><line x1="308.60" y1="405.84" x2="314.00" y2="405.84" stroke="#111" stroke-width="1.9" stroke-linecap="butt"/><text transform="matrix(0.9,0,0,1,308.00,409.44)" x="0" y="0" font-size="9.0" font-weight="bold" font-style="normal" text-anchor="end" fill="#111" >30</text><line x1="308.60" y1="451.76" x2="314.00" y2="451.76" stroke="#111" stroke-width="1.9" stroke-linecap="butt"/><text transform="matrix(0.9,0,0,1,308.00,455.36)" x="0" y="0" font-size="9.0" font-weight="bold" font-style="normal" text-anchor="end" fill="#111" >20</text><line x1="308.60" y1="497.68" x2="314.00" y2="497.68" stroke="#111" stroke-width="1.9" stroke-linecap="butt"/><text transform="matrix(0.9,0,0,1,308.00,501.28)" x="0" y="0" font-size="9.0" font-weight="bold" font-style="normal" text-anchor="end" fill="#111" >10</text><line x1="308.60" y1="543.60" x2="314.00" y2="543.60" stroke="#111" stroke-width="1.9" stroke-linecap="butt"/><text transform="matrix(0.9,0,0,1,308.00,547.20)" x="0" y="0" font-size="9.0" font-weight="bold" font-style="normal" text-anchor="end" fill="#111" >0</text><rect x="322.20" y="372.41" width="22.60" height="171.19" fill="#3c56a6"/><line x1="333.50" y1="372.91" x2="333.50" y2="357.30" stroke="#3c56a6" stroke-width="1.4" stroke-linecap="butt"/><line x1="328.00" y1="357.30" x2="339.00" y2="357.30" stroke="#3c56a6" stroke-width="1.6" stroke-linecap="butt"/><rect x="353.20" y="396.10" width="22.00" height="147.50" fill="#e1342a"/><line x1="364.20" y1="396.60" x2="364.20" y2="389.72" stroke="#e1342a" stroke-width="1.4" stroke-linecap="butt"/><line x1="358.70" y1="389.72" x2="369.70" y2="389.72" stroke="#e1342a" stroke-width="1.6" stroke-linecap="butt"/><rect x="404.10" y="458.10" width="22.20" height="85.50" fill="#3c56a6"/><line x1="415.20" y1="458.60" x2="415.20" y2="446.48" stroke="#3c56a6" stroke-width="1.4" stroke-linecap="butt"/><line x1="409.70" y1="446.48" x2="420.70" y2="446.48" stroke="#3c56a6" stroke-width="1.6" stroke-linecap="butt"/><rect x="434.60" y="422.78" width="22.20" height="120.82" fill="#e1342a"/><line x1="445.70" y1="423.28" x2="445.70" y2="414.52" stroke="#e1342a" stroke-width="1.4" stroke-linecap="butt"/><line x1="440.20" y1="414.52" x2="451.20" y2="414.52" stroke="#e1342a" stroke-width="1.6" stroke-linecap="butt"/><line x1="312.20" y1="543.60" x2="465.10" y2="543.60" stroke="#111" stroke-width="2.0" stroke-linecap="butt"/><line x1="348.70" y1="543.60" x2="348.70" y2="548.40" stroke="#111" stroke-width="1.7" stroke-linecap="butt"/><text x="348.70" y="556.23" font-size="8.7" font-weight="bold" font-style="normal" text-anchor="middle" fill="#111" >E16.5</text><line x1="430.40" y1="543.60" x2="430.40" y2="548.40" stroke="#111" stroke-width="1.7" stroke-linecap="butt"/><text x="430.40" y="556.23" font-size="8.7" font-weight="bold" font-style="normal" text-anchor="middle" fill="#111" >E18.5</text><text x="389.15" y="569.65" font-size="9.3" font-weight="bold" font-style="normal" text-anchor="middle" fill="#111" >Gestation</text><text transform="translate(293.76,435.35) rotate(-90)" x="0" y="0" font-size="9.1" text-anchor="middle" fill="#111" xml:space="preserve"><tspan font-weight="bold" font-style="italic">Relative Prl3b1 (Pl2)</tspan><tspan font-weight="bold" font-style="normal"> area (%)</tspan></text><path d="M328.80,351.00 L328.80,348.20 L415.50,348.20 L415.50,351.00" fill="none" stroke="#333" stroke-width="1.0"/><text x="374.78" y="347.84" font-size="8.6" font-weight="bold" font-style="normal" text-anchor="middle" fill="#1a1a1a" style="stroke-width:0.2px;letter-spacing:0.55px">****</text><line x1="582.10" y1="313.45" x2="582.10" y2="369.90" stroke="#111" stroke-width="2.0" stroke-linecap="butt"/><line x1="582.10" y1="378.30" x2="582.10" y2="543.50" stroke="#111" stroke-width="2.0" stroke-linecap="butt"/><line x1="578.20" y1="365.10" x2="586.00" y2="372.50" stroke="#111" stroke-width="1.8" stroke-linecap="butt"/><line x1="578.20" y1="375.10" x2="586.00" y2="382.50" stroke="#111" stroke-width="1.8" stroke-linecap="butt"/><line x1="577.50" y1="314.40" x2="582.90" y2="314.40" stroke="#111" stroke-width="1.9" stroke-linecap="butt"/><text transform="matrix(0.9,0,0,1,576.90,318.00)" x="0" y="0" font-size="9.0" font-weight="bold" font-style="normal" text-anchor="end" fill="#111" >50</text><line x1="577.50" y1="341.90" x2="582.90" y2="341.90" stroke="#111" stroke-width="1.9" stroke-linecap="butt"/><text transform="matrix(0.9,0,0,1,576.90,345.50)" x="0" y="0" font-size="9.0" font-weight="bold" font-style="normal" text-anchor="end" fill="#111" >45</text><text transform="matrix(0.9,0,0,1,577.10,372.70)" x="0" y="0" font-size="9.0" font-weight="bold" font-style="normal" text-anchor="end" fill="#111" >40</text><text transform="matrix(0.9,0,0,1,577.10,382.70)" x="0" y="0" font-size="9.0" font-weight="bold" font-style="normal" text-anchor="end" fill="#111" >25</text><line x1="577.50" y1="411.98" x2="582.90" y2="411.98" stroke="#111" stroke-width="1.9" stroke-linecap="butt"/><text transform="matrix(0.9,0,0,1,576.90,415.58)" x="0" y="0" font-size="9.0" font-weight="bold" font-style="normal" text-anchor="end" fill="#111" >20</text><line x1="577.50" y1="444.86" x2="582.90" y2="444.86" stroke="#111" stroke-width="1.9" stroke-linecap="butt"/><text transform="matrix(0.9,0,0,1,576.90,448.46)" x="0" y="0" font-size="9.0" font-weight="bold" font-style="normal" text-anchor="end" fill="#111" >15</text><line x1="577.50" y1="477.74" x2="582.90" y2="477.74" stroke="#111" stroke-width="1.9" stroke-linecap="butt"/><text transform="matrix(0.9,0,0,1,576.90,481.34)" x="0" y="0" font-size="9.0" font-weight="bold" font-style="normal" text-anchor="end" fill="#111" >10</text><line x1="577.50" y1="510.62" x2="582.90" y2="510.62" stroke="#111" stroke-width="1.9" stroke-linecap="butt"/><text transform="matrix(0.9,0,0,1,576.90,514.22)" x="0" y="0" font-size="9.0" font-weight="bold" font-style="normal" text-anchor="end" fill="#111" >5</text><line x1="577.50" y1="543.50" x2="582.90" y2="543.50" stroke="#111" stroke-width="1.9" stroke-linecap="butt"/><text transform="matrix(0.9,0,0,1,576.90,547.10)" x="0" y="0" font-size="9.0" font-weight="bold" font-style="normal" text-anchor="end" fill="#111" >0</text><rect x="591.40" y="481.03" width="21.90" height="62.47" fill="#3c56a6"/><line x1="602.35" y1="481.53" x2="602.35" y2="468.60" stroke="#3c56a6" stroke-width="1.4" stroke-linecap="butt"/><line x1="596.85" y1="468.60" x2="607.85" y2="468.60" stroke="#3c56a6" stroke-width="1.6" stroke-linecap="butt"/><rect x="622.10" y="468.99" width="21.50" height="74.51" fill="#e1342a"/><line x1="632.85" y1="469.49" x2="632.85" y2="463.73" stroke="#e1342a" stroke-width="1.4" stroke-linecap="butt"/><line x1="627.35" y1="463.73" x2="638.35" y2="463.73" stroke="#e1342a" stroke-width="1.6" stroke-linecap="butt"/><rect x="672.70" y="426.51" width="21.90" height="116.99" fill="#3c56a6"/><line x1="683.65" y1="427.01" x2="683.65" y2="408.49" stroke="#3c56a6" stroke-width="1.4" stroke-linecap="butt"/><line x1="678.15" y1="408.49" x2="689.15" y2="408.49" stroke="#3c56a6" stroke-width="1.6" stroke-linecap="butt"/><rect x="703.10" y="493.13" width="22.20" height="50.37" fill="#e1342a"/><line x1="714.20" y1="493.63" x2="714.20" y2="480.37" stroke="#e1342a" stroke-width="1.4" stroke-linecap="butt"/><line x1="708.70" y1="480.37" x2="719.70" y2="480.37" stroke="#e1342a" stroke-width="1.6" stroke-linecap="butt"/><line x1="581.10" y1="543.50" x2="734.10" y2="543.50" stroke="#111" stroke-width="2.0" stroke-linecap="butt"/><line x1="617.80" y1="543.50" x2="617.80" y2="548.30" stroke="#111" stroke-width="1.7" stroke-linecap="butt"/><text x="617.80" y="556.13" font-size="8.7" font-weight="bold" font-style="normal" text-anchor="middle" fill="#111" >E16.5</text><line x1="699.00" y1="543.50" x2="699.00" y2="548.30" stroke="#111" stroke-width="1.7" stroke-linecap="butt"/><text x="699.00" y="556.13" font-size="8.7" font-weight="bold" font-style="normal" text-anchor="middle" fill="#111" >E18.5</text><text x="658.10" y="569.55" font-size="9.3" font-weight="bold" font-style="normal" text-anchor="middle" fill="#111" >Gestation</text><text transform="translate(562.11,433.95) rotate(-90)" x="0" y="0" font-size="9.1" text-anchor="middle" fill="#111" xml:space="preserve"><tspan font-weight="bold" font-style="italic">Relatvie Prl2c2 (Plf)</tspan><tspan font-weight="bold" font-style="normal">  area (%)</tspan></text><path d="M597.60,390.60 L597.60,387.30 L684.80,387.30 L684.80,390.60" fill="none" stroke="#333" stroke-width="1.0"/><text x="641.70" y="386.44" font-size="8.6" font-weight="bold" font-style="normal" text-anchor="middle" fill="#1a1a1a" style="stroke-width:0.2px;letter-spacing:0.55px">*</text><line x1="676.00" y1="402.90" x2="729.20" y2="402.90" stroke="#777" stroke-width="1.4" stroke-linecap="butt"/><text x="701.08" y="401.84" font-size="8.6" font-weight="bold" font-style="normal" text-anchor="middle" fill="#1a1a1a" style="stroke-width:0.2px;letter-spacing:0.55px">**</text><line x1="54.10" y1="595.85" x2="54.10" y2="820.10" stroke="#111" stroke-width="2.0" stroke-linecap="butt"/><line x1="49.50" y1="596.80" x2="54.90" y2="596.80" stroke="#111" stroke-width="1.9" stroke-linecap="butt"/><text transform="matrix(0.9,0,0,1,49.70,600.40)" x="0" y="0" font-size="9.0" font-weight="bold" font-style="normal" text-anchor="end" fill="#111" >30</text><line x1="49.50" y1="671.23" x2="54.90" y2="671.23" stroke="#111" stroke-width="1.9" stroke-linecap="butt"/><text transform="matrix(0.9,0,0,1,49.70,674.83)" x="0" y="0" font-size="9.0" font-weight="bold" font-style="normal" text-anchor="end" fill="#111" >20</text><line x1="49.50" y1="745.67" x2="54.90" y2="745.67" stroke="#111" stroke-width="1.9" stroke-linecap="butt"/><text transform="matrix(0.9,0,0,1,49.70,749.27)" x="0" y="0" font-size="9.0" font-weight="bold" font-style="normal" text-anchor="end" fill="#111" >10</text><line x1="49.50" y1="820.10" x2="54.90" y2="820.10" stroke="#111" stroke-width="1.9" stroke-linecap="butt"/><text transform="matrix(0.9,0,0,1,49.70,823.70)" x="0" y="0" font-size="9.0" font-weight="bold" font-style="normal" text-anchor="end" fill="#111" >0</text><rect x="63.10" y="673.69" width="21.80" height="146.41" fill="#3c56a6"/><line x1="74.00" y1="674.19" x2="74.00" y2="643.69" stroke="#3c56a6" stroke-width="1.4" stroke-linecap="butt"/><line x1="68.50" y1="643.69" x2="79.50" y2="643.69" stroke="#3c56a6" stroke-width="1.6" stroke-linecap="butt"/><rect x="92.80" y="723.34" width="21.90" height="96.76" fill="#e1342a"/><line x1="103.75" y1="723.84" x2="103.75" y2="700.49" stroke="#e1342a" stroke-width="1.4" stroke-linecap="butt"/><line x1="98.25" y1="700.49" x2="109.25" y2="700.49" stroke="#e1342a" stroke-width="1.6" stroke-linecap="butt"/><rect x="142.40" y="640.19" width="21.90" height="179.91" fill="#3c56a6"/><line x1="153.35" y1="640.69" x2="153.35" y2="616.15" stroke="#3c56a6" stroke-width="1.4" stroke-linecap="butt"/><line x1="147.85" y1="616.15" x2="158.85" y2="616.15" stroke="#3c56a6" stroke-width="1.6" stroke-linecap="butt"/><rect x="172.00" y="731.97" width="21.90" height="88.13" fill="#e1342a"/><line x1="182.95" y1="732.47" x2="182.95" y2="714.93" stroke="#e1342a" stroke-width="1.4" stroke-linecap="butt"/><line x1="177.45" y1="714.93" x2="188.45" y2="714.93" stroke="#e1342a" stroke-width="1.6" stroke-linecap="butt"/><line x1="53.10" y1="820.10" x2="202.30" y2="820.10" stroke="#111" stroke-width="2.0" stroke-linecap="butt"/><line x1="89.30" y1="820.10" x2="89.30" y2="824.90" stroke="#111" stroke-width="1.7" stroke-linecap="butt"/><text x="89.30" y="832.76" font-size="8.5" font-weight="bold" font-style="normal" text-anchor="middle" fill="#111" >E16.5</text><line x1="169.20" y1="820.10" x2="169.20" y2="824.90" stroke="#111" stroke-width="1.7" stroke-linecap="butt"/><text x="169.20" y="832.76" font-size="8.5" font-weight="bold" font-style="normal" text-anchor="middle" fill="#111" >E18.5</text><text x="128.60" y="845.30" font-size="8.9" font-weight="bold" font-style="normal" text-anchor="middle" fill="#111" >Gestation</text><text transform="translate(35.40,712.70) rotate(-90)" x="0" y="0" font-size="8.9" text-anchor="middle" fill="#111" xml:space="preserve"><tspan font-weight="bold" font-style="italic">Tpbpa+</tspan><tspan font-weight="bold" font-style="normal"> cells (% of decidua)</tspan></text><line x1="143.60" y1="610.00" x2="199.20" y2="610.00" stroke="#666" stroke-width="1.6" stroke-linecap="butt"/><text x="171.00" y="604.34" font-size="8.6" font-weight="bold" font-style="normal" text-anchor="middle" fill="#1a1a1a" style="stroke-width:0.2px;letter-spacing:0.55px">*</text><line x1="310.20" y1="595.75" x2="310.20" y2="820.20" stroke="#111" stroke-width="2.0" stroke-linecap="butt"/><line x1="305.60" y1="596.70" x2="311.00" y2="596.70" stroke="#111" stroke-width="1.9" stroke-linecap="butt"/><text transform="matrix(0.9,0,0,1,305.80,600.30)" x="0" y="0" font-size="9.0" font-weight="bold" font-style="normal" text-anchor="end" fill="#111" >30</text><line x1="305.60" y1="671.20" x2="311.00" y2="671.20" stroke="#111" stroke-width="1.9" stroke-linecap="butt"/><text transform="matrix(0.9,0,0,1,305.80,674.80)" x="0" y="0" font-size="9.0" font-weight="bold" font-style="normal" text-anchor="end" fill="#111" >20</text><line x1="305.60" y1="745.70" x2="311.00" y2="745.70" stroke="#111" stroke-width="1.9" stroke-linecap="butt"/><text transform="matrix(0.9,0,0,1,305.80,749.30)" x="0" y="0" font-size="9.0" font-weight="bold" font-style="normal" text-anchor="end" fill="#111" >10</text><line x1="305.60" y1="820.20" x2="311.00" y2="820.20" stroke="#111" stroke-width="1.9" stroke-linecap="butt"/><text transform="matrix(0.9,0,0,1,305.80,823.80)" x="0" y="0" font-size="9.0" font-weight="bold" font-style="normal" text-anchor="end" fill="#111" >0</text><rect x="319.30" y="774.38" width="21.70" height="45.82" fill="#3c56a6"/><line x1="330.15" y1="774.88" x2="330.15" y2="768.50" stroke="#3c56a6" stroke-width="1.4" stroke-linecap="butt"/><line x1="324.65" y1="768.50" x2="335.65" y2="768.50" stroke="#3c56a6" stroke-width="1.6" stroke-linecap="butt"/><rect x="349.10" y="693.70" width="21.70" height="126.50" fill="#e1342a"/><line x1="359.95" y1="694.20" x2="359.95" y2="680.88" stroke="#e1342a" stroke-width="1.4" stroke-linecap="butt"/><line x1="354.45" y1="680.88" x2="365.45" y2="680.88" stroke="#e1342a" stroke-width="1.6" stroke-linecap="butt"/><rect x="398.20" y="779.00" width="21.90" height="41.20" fill="#3c56a6"/><line x1="409.15" y1="779.50" x2="409.15" y2="768.20" stroke="#3c56a6" stroke-width="1.4" stroke-linecap="butt"/><line x1="403.65" y1="768.20" x2="414.65" y2="768.20" stroke="#3c56a6" stroke-width="1.6" stroke-linecap="butt"/><rect x="428.00" y="759.48" width="22.00" height="60.72" fill="#e1342a"/><line x1="439.00" y1="759.98" x2="439.00" y2="751.66" stroke="#e1342a" stroke-width="1.4" stroke-linecap="butt"/><line x1="433.50" y1="751.66" x2="444.50" y2="751.66" stroke="#e1342a" stroke-width="1.6" stroke-linecap="butt"/><line x1="309.20" y1="820.20" x2="458.70" y2="820.20" stroke="#111" stroke-width="2.0" stroke-linecap="butt"/><line x1="344.80" y1="820.20" x2="344.80" y2="825.00" stroke="#111" stroke-width="1.7" stroke-linecap="butt"/><text x="344.80" y="832.56" font-size="8.5" font-weight="bold" font-style="normal" text-anchor="middle" fill="#111" >E16.5</text><line x1="424.90" y1="820.20" x2="424.90" y2="825.00" stroke="#111" stroke-width="1.7" stroke-linecap="butt"/><text x="424.90" y="832.56" font-size="8.5" font-weight="bold" font-style="normal" text-anchor="middle" fill="#111" >E18.5</text><text x="384.20" y="845.40" font-size="8.9" font-weight="bold" font-style="normal" text-anchor="middle" fill="#111" >Gestation</text><text transform="translate(290.70,705.50) rotate(-90)" x="0" y="0" font-size="8.9" text-anchor="middle" fill="#111" xml:space="preserve"><tspan font-weight="bold" font-style="normal">Relative Kisspeptin area (%)</tspan></text><line x1="321.20" y1="676.70" x2="367.50" y2="676.70" stroke="#222" stroke-width="1.0" stroke-linecap="butt"/><text x="345.48" y="675.34" font-size="8.6" font-weight="bold" font-style="normal" text-anchor="middle" fill="#1a1a1a" style="stroke-width:0.2px;letter-spacing:0.55px">****</text><path d="M360.40,666.60 L360.40,664.20 L450.20,664.20 L450.20,666.60" fill="none" stroke="#222" stroke-width="1.0"/><text x="405.98" y="663.34" font-size="8.6" font-weight="bold" font-style="normal" text-anchor="middle" fill="#1a1a1a" style="stroke-width:0.2px;letter-spacing:0.55px">***</text><line x1="54.40" y1="886.55" x2="54.40" y2="1111.00" stroke="#111" stroke-width="2.0" stroke-linecap="butt"/><line x1="49.80" y1="887.50" x2="55.20" y2="887.50" stroke="#111" stroke-width="1.9" stroke-linecap="butt"/><text transform="matrix(0.9,0,0,1,50.00,891.10)" x="0" y="0" font-size="9.0" font-weight="bold" font-style="normal" text-anchor="end" fill="#111" >30</text><line x1="49.80" y1="962.00" x2="55.20" y2="962.00" stroke="#111" stroke-width="1.9" stroke-linecap="butt"/><text transform="matrix(0.9,0,0,1,50.00,965.60)" x="0" y="0" font-size="9.0" font-weight="bold" font-style="normal" text-anchor="end" fill="#111" >20</text><line x1="49.80" y1="1036.50" x2="55.20" y2="1036.50" stroke="#111" stroke-width="1.9" stroke-linecap="butt"/><text transform="matrix(0.9,0,0,1,50.00,1040.10)" x="0" y="0" font-size="9.0" font-weight="bold" font-style="normal" text-anchor="end" fill="#111" >10</text><line x1="49.80" y1="1111.00" x2="55.20" y2="1111.00" stroke="#111" stroke-width="1.9" stroke-linecap="butt"/><text transform="matrix(0.9,0,0,1,50.00,1114.60)" x="0" y="0" font-size="9.0" font-weight="bold" font-style="normal" text-anchor="end" fill="#111" >0</text><line x1="53.40" y1="1111.00" x2="202.20" y2="1111.00" stroke="#111" stroke-width="2.0" stroke-linecap="butt"/><line x1="96.60" y1="1111.00" x2="96.60" y2="1115.80" stroke="#111" stroke-width="1.7" stroke-linecap="butt"/><text x="96.60" y="1123.02" font-size="8.1" font-weight="bold" font-style="normal" text-anchor="middle" fill="#111" >E16.5</text><line x1="160.30" y1="1111.00" x2="160.30" y2="1115.80" stroke="#111" stroke-width="1.7" stroke-linecap="butt"/><text x="160.30" y="1123.02" font-size="8.1" font-weight="bold" font-style="normal" text-anchor="middle" fill="#111" >E18.5</text><text x="128.80" y="1135.60" font-size="8.9" font-weight="bold" font-style="normal" text-anchor="middle" fill="#111" >Sham Gestation</text><line x1="96.60" y1="1071.07" x2="96.60" y2="1059.37" stroke="#5c5c5c" stroke-width="1.4" stroke-linecap="butt"/><line x1="93.80" y1="1071.07" x2="99.40" y2="1071.07" stroke="#5c5c5c" stroke-width="1.4" stroke-linecap="butt"/><line x1="93.80" y1="1059.37" x2="99.40" y2="1059.37" stroke="#5c5c5c" stroke-width="1.4" stroke-linecap="butt"/><line x1="160.30" y1="1081.27" x2="160.30" y2="1059.07" stroke="#5c5c5c" stroke-width="1.4" stroke-linecap="butt"/><line x1="157.50" y1="1081.27" x2="163.10" y2="1081.27" stroke="#5c5c5c" stroke-width="1.4" stroke-linecap="butt"/><line x1="157.50" y1="1059.07" x2="163.10" y2="1059.07" stroke="#5c5c5c" stroke-width="1.4" stroke-linecap="butt"/><line x1="96.60" y1="1065.41" x2="160.30" y2="1070.17" stroke="#5c5c5c" stroke-width="1.5" stroke-linecap="butt"/><rect x="94.10" y="1062.91" width="5.00" height="5.00" fill="#5c5c5c"/><rect x="157.80" y="1067.67" width="5.00" height="5.00" fill="#5c5c5c"/><line x1="96.60" y1="994.78" x2="96.60" y2="934.73" stroke="#bc5fa5" stroke-width="1.4" stroke-linecap="butt"/><line x1="93.80" y1="994.78" x2="99.40" y2="994.78" stroke="#bc5fa5" stroke-width="1.4" stroke-linecap="butt"/><line x1="93.80" y1="934.73" x2="99.40" y2="934.73" stroke="#bc5fa5" stroke-width="1.4" stroke-linecap="butt"/><line x1="160.30" y1="955.52" x2="160.30" y2="907.32" stroke="#bc5fa5" stroke-width="1.4" stroke-linecap="butt"/><line x1="157.50" y1="955.52" x2="163.10" y2="955.52" stroke="#bc5fa5" stroke-width="1.4" stroke-linecap="butt"/><line x1="157.50" y1="907.32" x2="163.10" y2="907.32" stroke="#bc5fa5" stroke-width="1.4" stroke-linecap="butt"/><line x1="96.60" y1="964.83" x2="160.30" y2="931.08" stroke="#bc5fa5" stroke-width="1.5" stroke-linecap="butt"/><circle cx="96.60" cy="964.83" r="2.4" fill="#bc5fa5"/><circle cx="160.30" cy="931.08" r="2.4" fill="#bc5fa5"/><text transform="translate(35.00,992.60) rotate(-90)" x="0" y="0" font-size="8.9" text-anchor="middle" fill="#111" xml:space="preserve"><tspan font-weight="bold" font-style="normal">Relative Area with Expression (%)</tspan></text><line x1="58.20" y1="891.30" x2="70.90" y2="891.30" stroke="#bc5fa5" stroke-width="1.5" stroke-linecap="butt"/><circle cx="64.4" cy="891.3" r="2.3" fill="#bc5fa5"/><line x1="59.10" y1="906.50" x2="71.50" y2="906.50" stroke="#5c5c5c" stroke-width="1.5" stroke-linecap="butt"/><rect x="63.00" y="904.20" width="4.70" height="4.70" fill="#5c5c5c"/><text x="78.80" y="894.70" font-size="8.9" font-weight="normal" font-style="normal" text-anchor="start" fill="#111" style="stroke-width:0.12px">Migration</text><text x="78.80" y="910.00" font-size="8.9" font-weight="normal" font-style="normal" text-anchor="start" fill="#111" style="stroke-width:0.12px">Kisspeptin</text><line x1="310.10" y1="886.55" x2="310.10" y2="1111.00" stroke="#111" stroke-width="2.0" stroke-linecap="butt"/><line x1="305.50" y1="887.50" x2="310.90" y2="887.50" stroke="#111" stroke-width="1.9" stroke-linecap="butt"/><text transform="matrix(0.9,0,0,1,305.70,891.10)" x="0" y="0" font-size="9.0" font-weight="bold" font-style="normal" text-anchor="end" fill="#111" >30</text><line x1="305.50" y1="962.00" x2="310.90" y2="962.00" stroke="#111" stroke-width="1.9" stroke-linecap="butt"/><text transform="matrix(0.9,0,0,1,305.70,965.60)" x="0" y="0" font-size="9.0" font-weight="bold" font-style="normal" text-anchor="end" fill="#111" >20</text><line x1="305.50" y1="1036.50" x2="310.90" y2="1036.50" stroke="#111" stroke-width="1.9" stroke-linecap="butt"/><text transform="matrix(0.9,0,0,1,305.70,1040.10)" x="0" y="0" font-size="9.0" font-weight="bold" font-style="normal" text-anchor="end" fill="#111" >10</text><line x1="305.50" y1="1111.00" x2="310.90" y2="1111.00" stroke="#111" stroke-width="1.9" stroke-linecap="butt"/><text transform="matrix(0.9,0,0,1,305.70,1114.60)" x="0" y="0" font-size="9.0" font-weight="bold" font-style="normal" text-anchor="end" fill="#111" >0</text><line x1="309.10" y1="1111.00" x2="458.30" y2="1111.00" stroke="#111" stroke-width="2.0" stroke-linecap="butt"/><line x1="352.60" y1="1111.00" x2="352.60" y2="1115.80" stroke="#111" stroke-width="1.7" stroke-linecap="butt"/><text x="352.60" y="1123.02" font-size="8.1" font-weight="bold" font-style="normal" text-anchor="middle" fill="#111" >E16.5</text><line x1="416.20" y1="1111.00" x2="416.20" y2="1115.80" stroke="#111" stroke-width="1.7" stroke-linecap="butt"/><text x="416.20" y="1123.02" font-size="8.1" font-weight="bold" font-style="normal" text-anchor="middle" fill="#111" >E18.5</text><text x="384.20" y="1135.60" font-size="8.9" font-weight="bold" font-style="normal" text-anchor="middle" fill="#111" >RUPP Gestation</text><line x1="352.60" y1="1036.87" x2="352.60" y2="991.13" stroke="#bc5fa5" stroke-width="1.4" stroke-linecap="butt"/><line x1="349.80" y1="1036.87" x2="355.40" y2="1036.87" stroke="#bc5fa5" stroke-width="1.4" stroke-linecap="butt"/><line x1="349.80" y1="991.13" x2="355.40" y2="991.13" stroke="#bc5fa5" stroke-width="1.4" stroke-linecap="butt"/><line x1="416.20" y1="1040.52" x2="416.20" y2="1005.81" stroke="#bc5fa5" stroke-width="1.4" stroke-linecap="butt"/><line x1="413.40" y1="1040.52" x2="419.00" y2="1040.52" stroke="#bc5fa5" stroke-width="1.4" stroke-linecap="butt"/><line x1="413.40" y1="1005.81" x2="419.00" y2="1005.81" stroke="#bc5fa5" stroke-width="1.4" stroke-linecap="butt"/><line x1="352.60" y1="1014.60" x2="416.20" y2="1023.16" stroke="#bc5fa5" stroke-width="1.5" stroke-linecap="butt"/><rect x="350.10" y="1012.10" width="5.00" height="5.00" fill="#bc5fa5"/><rect x="413.70" y="1020.66" width="5.00" height="5.00" fill="#bc5fa5"/><line x1="352.60" y1="997.24" x2="352.60" y2="972.21" stroke="#5c5c5c" stroke-width="1.4" stroke-linecap="butt"/><line x1="349.80" y1="997.24" x2="355.40" y2="997.24" stroke="#5c5c5c" stroke-width="1.4" stroke-linecap="butt"/><line x1="349.80" y1="972.21" x2="355.40" y2="972.21" stroke="#5c5c5c" stroke-width="1.4" stroke-linecap="butt"/><line x1="416.20" y1="1058.18" x2="416.20" y2="1042.98" stroke="#5c5c5c" stroke-width="1.4" stroke-linecap="butt"/><line x1="413.40" y1="1058.18" x2="419.00" y2="1058.18" stroke="#5c5c5c" stroke-width="1.4" stroke-linecap="butt"/><line x1="413.40" y1="1042.98" x2="419.00" y2="1042.98" stroke="#5c5c5c" stroke-width="1.4" stroke-linecap="butt"/><line x1="352.60" y1="984.42" x2="416.20" y2="1050.58" stroke="#5c5c5c" stroke-width="1.5" stroke-linecap="butt"/><rect x="350.10" y="981.92" width="5.00" height="5.00" fill="#5c5c5c"/><rect x="413.70" y="1048.08" width="5.00" height="5.00" fill="#5c5c5c"/><text transform="translate(290.80,991.00) rotate(-90)" x="0" y="0" font-size="8.9" text-anchor="middle" fill="#111" xml:space="preserve"><tspan font-weight="bold" font-style="normal">Relative Area with Expression (%)</tspan></text>
</svg></body></html>
